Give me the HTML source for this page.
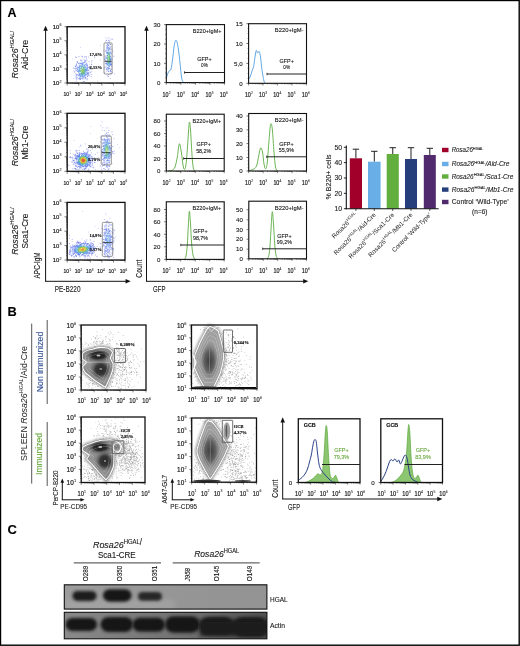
<!DOCTYPE html><html><head><meta charset="utf-8"><style>html,body{margin:0;padding:0;background:#fff;overflow:hidden;}svg{display:block;will-change:transform;}</style></head><body><svg width="520" height="646" viewBox="0 0 520 646" font-family='"Liberation Sans", sans-serif'>
<defs><filter id="blur1" x="-50%" y="-50%" width="200%" height="200%"><feGaussianBlur stdDeviation="1.2"/></filter><filter id="blur2" x="-50%" y="-50%" width="200%" height="200%"><feGaussianBlur stdDeviation="2.2"/></filter><filter id="blur05" x="-50%" y="-50%" width="200%" height="200%"><feGaussianBlur stdDeviation="0.5"/></filter></defs>
<rect x="0" y="0" width="520" height="646" fill="#fff"/>
<text x="7.50" y="16.80" font-size="12.5" text-anchor="start" fill="#000" stroke="#000" stroke-width="0.12" font-weight="bold">A</text>
<text x="17.8" y="54.70" font-size="9.2" text-anchor="middle" fill="#1a1a1a" textLength="47.5" lengthAdjust="spacingAndGlyphs" stroke="#1a1a1a" stroke-width="0.12" transform="rotate(-90 17.8 54.70)"><tspan font-style="italic">Rosa26</tspan><tspan font-size="6.2" dy="-4.0">HGAL/</tspan></text>
<text x="28.2" y="54.70" font-size="9.2" text-anchor="middle" fill="#1a1a1a" textLength="30" lengthAdjust="spacingAndGlyphs" stroke="#1a1a1a" stroke-width="0.12" transform="rotate(-90 28.2 54.70)">Aid-Cre</text>
<text x="17.8" y="142.50" font-size="9.2" text-anchor="middle" fill="#1a1a1a" textLength="47.5" lengthAdjust="spacingAndGlyphs" stroke="#1a1a1a" stroke-width="0.12" transform="rotate(-90 17.8 142.50)"><tspan font-style="italic">Rosa26</tspan><tspan font-size="6.2" dy="-4.0">HGAL/</tspan></text>
<text x="28.2" y="142.50" font-size="9.2" text-anchor="middle" fill="#1a1a1a" textLength="34" lengthAdjust="spacingAndGlyphs" stroke="#1a1a1a" stroke-width="0.12" transform="rotate(-90 28.2 142.50)">Mb1-Cre</text>
<text x="17.8" y="231.00" font-size="9.2" text-anchor="middle" fill="#1a1a1a" textLength="47.5" lengthAdjust="spacingAndGlyphs" stroke="#1a1a1a" stroke-width="0.12" transform="rotate(-90 17.8 231.00)"><tspan font-style="italic">Rosa26</tspan><tspan font-size="6.2" dy="-4.0">HGAL/</tspan></text>
<text x="28.2" y="231.00" font-size="9.2" text-anchor="middle" fill="#1a1a1a" textLength="35" lengthAdjust="spacingAndGlyphs" stroke="#1a1a1a" stroke-width="0.12" transform="rotate(-90 28.2 231.00)">Sca1-Cre</text>
<line x1="45.60" y1="29.54" x2="45.60" y2="281.30" stroke="#111" stroke-width="1.0"/>
<path d="M43.36,30.82 L45.60,25.70 L47.84,30.82 Z" fill="#111"/>
<line x1="45.10" y1="281.30" x2="126.86" y2="281.30" stroke="#111" stroke-width="1.0"/>
<path d="M125.58,279.06 L130.70,281.30 L125.58,283.54 Z" fill="#111"/>
<text x="40.50" y="278.40" font-size="8.2" text-anchor="start" fill="#1a1a1a" stroke="#1a1a1a" stroke-width="0.12" textLength="26" lengthAdjust="spacingAndGlyphs" transform="rotate(-90 40.50 278.40)">APC-IgM</text>
<text x="54.80" y="291.80" font-size="8.3" text-anchor="start" fill="#1a1a1a" stroke="#1a1a1a" stroke-width="0.12" textLength="25.7" lengthAdjust="spacingAndGlyphs">PE-B220</text>
<line x1="146.50" y1="29.54" x2="146.50" y2="281.30" stroke="#111" stroke-width="1.0"/>
<path d="M144.26,30.82 L146.50,25.70 L148.74,30.82 Z" fill="#111"/>
<line x1="146.00" y1="281.30" x2="304.46" y2="281.30" stroke="#111" stroke-width="1.0"/>
<path d="M303.18,279.06 L308.30,281.30 L303.18,283.54 Z" fill="#111"/>
<text x="141.80" y="277.70" font-size="9.2" text-anchor="start" fill="#1a1a1a" stroke="#1a1a1a" stroke-width="0.12" textLength="18" lengthAdjust="spacingAndGlyphs" transform="rotate(-90 141.80 277.70)">Count</text>
<text x="153.10" y="291.90" font-size="8.8" text-anchor="start" fill="#1a1a1a" stroke="#1a1a1a" stroke-width="0.12" textLength="12.4" lengthAdjust="spacingAndGlyphs">GFP</text>
<text x="61.60" y="28.80" font-size="5.9" text-anchor="end" fill="#1a1a1a" stroke="#1a1a1a" stroke-width="0.2">10<tspan font-size="3.66" dx="0.25" dy="-2.60" stroke-width="0.06">6</tspan></text>
<text x="61.60" y="42.88" font-size="5.9" text-anchor="end" fill="#1a1a1a" stroke="#1a1a1a" stroke-width="0.2">10<tspan font-size="3.66" dx="0.25" dy="-2.60" stroke-width="0.06">5</tspan></text>
<text x="61.60" y="56.95" font-size="5.9" text-anchor="end" fill="#1a1a1a" stroke="#1a1a1a" stroke-width="0.2">10<tspan font-size="3.66" dx="0.25" dy="-2.60" stroke-width="0.06">4</tspan></text>
<text x="61.60" y="71.02" font-size="5.9" text-anchor="end" fill="#1a1a1a" stroke="#1a1a1a" stroke-width="0.2">10<tspan font-size="3.66" dx="0.25" dy="-2.60" stroke-width="0.06">3</tspan></text>
<text x="61.60" y="85.10" font-size="5.9" text-anchor="end" fill="#1a1a1a" stroke="#1a1a1a" stroke-width="0.2">10<tspan font-size="3.66" dx="0.25" dy="-2.60" stroke-width="0.06">2</tspan></text>
<text x="67.20" y="96.30" font-size="6.2" text-anchor="middle" fill="#1a1a1a" stroke="#1a1a1a" stroke-width="0.2" textLength="7.6" lengthAdjust="spacingAndGlyphs">10<tspan font-size="3.84" dx="0.25" dy="-2.73" stroke-width="0.06">1</tspan></text>
<text x="78.46" y="96.30" font-size="6.2" text-anchor="middle" fill="#1a1a1a" stroke="#1a1a1a" stroke-width="0.2" textLength="7.6" lengthAdjust="spacingAndGlyphs">10<tspan font-size="3.84" dx="0.25" dy="-2.73" stroke-width="0.06">2</tspan></text>
<text x="89.72" y="96.30" font-size="6.2" text-anchor="middle" fill="#1a1a1a" stroke="#1a1a1a" stroke-width="0.2" textLength="7.6" lengthAdjust="spacingAndGlyphs">10<tspan font-size="3.84" dx="0.25" dy="-2.73" stroke-width="0.06">3</tspan></text>
<text x="100.98" y="96.30" font-size="6.2" text-anchor="middle" fill="#1a1a1a" stroke="#1a1a1a" stroke-width="0.2" textLength="7.6" lengthAdjust="spacingAndGlyphs">10<tspan font-size="3.84" dx="0.25" dy="-2.73" stroke-width="0.06">4</tspan></text>
<text x="112.24" y="96.30" font-size="6.2" text-anchor="middle" fill="#1a1a1a" stroke="#1a1a1a" stroke-width="0.2" textLength="7.6" lengthAdjust="spacingAndGlyphs">10<tspan font-size="3.84" dx="0.25" dy="-2.73" stroke-width="0.06">5</tspan></text>
<text x="123.50" y="96.30" font-size="6.2" text-anchor="middle" fill="#1a1a1a" stroke="#1a1a1a" stroke-width="0.2" textLength="7.6" lengthAdjust="spacingAndGlyphs">10<tspan font-size="3.84" dx="0.25" dy="-2.73" stroke-width="0.06">6</tspan></text>
<path d="M72.1 58.5h0.9v0.9h-0.9zM100.1 45.0h0.9v0.9h-0.9zM97.3 80.6h0.9v0.9h-0.9zM73.5 74.8h0.9v0.9h-0.9zM89.8 74.0h0.9v0.9h-0.9zM106.5 61.2h0.9v0.9h-0.9zM73.0 70.4h0.9v0.9h-0.9zM85.4 68.8h0.9v0.9h-0.9zM107.9 53.7h0.9v0.9h-0.9z" fill="rgb(95, 105, 230)" fill-opacity="0.3"/>
<path d="M75.8 57.2h0.9v0.9h-0.9zM75.2 56.3h0.9v0.9h-0.9zM91.2 62.3h0.9v0.9h-0.9zM79.9 46.9h0.9v0.9h-0.9zM75.7 81.2h0.9v0.9h-0.9zM73.5 77.8h0.9v0.9h-0.9zM81.8 56.0h0.9v0.9h-0.9zM95.1 66.3h0.9v0.9h-0.9zM94.1 57.1h0.9v0.9h-0.9zM81.9 57.4h0.9v0.9h-0.9zM106.3 39.6h0.9v0.9h-0.9zM114.2 73.3h0.9v0.9h-0.9zM113.3 56.2h0.9v0.9h-0.9zM106.9 37.7h0.9v0.9h-0.9zM104.9 37.4h0.9v0.9h-0.9zM99.9 59.7h0.9v0.9h-0.9z" fill="rgb(95, 105, 230)" fill-opacity="0.45"/>
<path d="M76.5 60.9h0.9v0.9h-0.9zM86.4 59.4h0.9v0.9h-0.9zM75.8 56.9h0.9v0.9h-0.9zM88.2 56.7h0.9v0.9h-0.9zM90.1 71.8h0.9v0.9h-0.9zM73.1 67.5h0.9v0.9h-0.9zM85.7 56.0h0.9v0.9h-0.9zM91.2 64.0h0.9v0.9h-0.9zM75.6 77.3h0.9v0.9h-0.9zM74.7 65.4h0.9v0.9h-0.9zM88.5 60.9h0.9v0.9h-0.9zM90.9 75.9h0.9v0.9h-0.9zM84.2 56.5h0.9v0.9h-0.9zM78.5 56.3h0.9v0.9h-0.9zM81.5 55.8h0.9v0.9h-0.9zM85.8 57.6h0.9v0.9h-0.9zM76.3 79.3h0.9v0.9h-0.9zM91.3 60.3h0.9v0.9h-0.9zM104.2 72.2h0.9v0.9h-0.9zM106.8 75.4h0.9v0.9h-0.9zM111.8 38.9h0.9v0.9h-0.9zM109.6 39.6h0.9v0.9h-0.9zM112.3 50.8h0.9v0.9h-0.9zM111.5 38.5h0.9v0.9h-0.9zM109.8 77.9h0.9v0.9h-0.9zM104.2 59.0h0.9v0.9h-0.9zM112.2 72.4h0.9v0.9h-0.9zM105.2 41.4h0.9v0.9h-0.9zM108.1 40.0h0.9v0.9h-0.9zM105.9 40.0h0.9v0.9h-0.9zM111.5 48.8h0.9v0.9h-0.9zM108.5 37.4h0.9v0.9h-0.9zM107.9 76.0h0.9v0.9h-0.9z" fill="rgb(95, 105, 230)" fill-opacity="0.7"/>
<path d="M89.1 63.8h0.9v0.9h-0.9z" fill="rgb(90, 109, 231)" fill-opacity="0.3"/>
<path d="M75.3 73.3h0.9v0.9h-0.9zM91.3 74.0h0.9v0.9h-0.9zM76.4 62.8h0.9v0.9h-0.9zM74.8 69.6h0.9v0.9h-0.9zM80.1 78.4h0.9v0.9h-0.9zM89.6 68.4h0.9v0.9h-0.9zM86.7 65.7h0.9v0.9h-0.9zM90.3 68.3h0.9v0.9h-0.9zM73.8 71.1h0.9v0.9h-0.9zM79.0 77.2h0.9v0.9h-0.9zM84.6 60.0h0.9v0.9h-0.9zM83.0 78.2h0.9v0.9h-0.9zM85.3 76.6h0.9v0.9h-0.9zM87.1 73.6h0.9v0.9h-0.9zM79.3 65.1h0.9v0.9h-0.9zM84.6 64.3h0.9v0.9h-0.9zM87.9 73.4h0.9v0.9h-0.9zM89.4 68.5h0.9v0.9h-0.9zM91.2 71.3h0.9v0.9h-0.9zM88.7 66.0h0.9v0.9h-0.9zM82.6 78.9h0.9v0.9h-0.9zM76.2 74.5h0.9v0.9h-0.9zM84.9 60.2h0.9v0.9h-0.9zM86.2 60.2h0.9v0.9h-0.9zM88.8 72.9h0.9v0.9h-0.9zM87.3 75.7h0.9v0.9h-0.9zM80.5 63.6h0.9v0.9h-0.9zM82.6 78.2h0.9v0.9h-0.9zM76.0 63.8h0.9v0.9h-0.9zM112.8 55.5h0.9v0.9h-0.9zM110.4 63.9h0.9v0.9h-0.9zM107.7 47.4h0.9v0.9h-0.9zM109.4 71.4h0.9v0.9h-0.9zM103.7 68.5h0.9v0.9h-0.9zM106.8 47.0h0.9v0.9h-0.9zM105.7 49.8h0.9v0.9h-0.9zM110.6 68.6h0.9v0.9h-0.9zM103.9 67.3h0.9v0.9h-0.9zM110.7 52.2h0.9v0.9h-0.9zM103.5 50.5h0.9v0.9h-0.9zM108.7 42.7h0.9v0.9h-0.9zM110.7 45.9h0.9v0.9h-0.9zM105.9 49.5h0.9v0.9h-0.9zM106.4 71.0h0.9v0.9h-0.9zM110.6 64.0h0.9v0.9h-0.9zM109.0 42.5h0.9v0.9h-0.9zM105.1 63.1h0.9v0.9h-0.9zM105.8 50.9h0.9v0.9h-0.9zM109.8 71.3h0.9v0.9h-0.9zM108.5 48.2h0.9v0.9h-0.9zM111.6 61.0h0.9v0.9h-0.9zM110.8 72.8h0.9v0.9h-0.9zM111.4 53.6h0.9v0.9h-0.9zM111.2 65.8h0.9v0.9h-0.9zM103.4 53.9h0.9v0.9h-0.9z" fill="rgb(90, 109, 231)" fill-opacity="0.45"/>
<path d="M76.6 74.4h0.9v0.9h-0.9zM75.5 68.3h0.9v0.9h-0.9zM76.9 76.7h0.9v0.9h-0.9zM75.6 66.7h0.9v0.9h-0.9zM84.9 60.6h0.9v0.9h-0.9zM77.8 78.4h0.9v0.9h-0.9zM88.7 71.7h0.9v0.9h-0.9zM77.1 62.2h0.9v0.9h-0.9zM85.8 77.7h0.9v0.9h-0.9zM74.5 68.0h0.9v0.9h-0.9zM76.0 74.3h0.9v0.9h-0.9zM87.0 78.4h0.9v0.9h-0.9zM75.9 64.4h0.9v0.9h-0.9zM75.6 75.6h0.9v0.9h-0.9zM74.3 71.7h0.9v0.9h-0.9zM80.0 59.9h0.9v0.9h-0.9zM83.6 59.2h0.9v0.9h-0.9zM88.3 69.4h0.9v0.9h-0.9zM75.7 75.4h0.9v0.9h-0.9zM86.5 79.4h0.9v0.9h-0.9zM89.1 75.4h0.9v0.9h-0.9zM87.7 75.1h0.9v0.9h-0.9zM88.1 74.2h0.9v0.9h-0.9zM75.0 66.1h0.9v0.9h-0.9zM75.8 70.3h0.9v0.9h-0.9zM78.7 78.2h0.9v0.9h-0.9zM87.6 75.1h0.9v0.9h-0.9zM80.7 59.6h0.9v0.9h-0.9zM88.1 72.7h0.9v0.9h-0.9zM75.8 69.7h0.9v0.9h-0.9zM84.2 60.8h0.9v0.9h-0.9zM76.1 64.5h0.9v0.9h-0.9zM87.1 76.1h0.9v0.9h-0.9zM89.8 68.3h0.9v0.9h-0.9zM82.9 81.0h0.9v0.9h-0.9zM79.6 79.1h0.9v0.9h-0.9zM87.1 75.9h0.9v0.9h-0.9zM77.1 61.6h0.9v0.9h-0.9zM84.0 80.9h0.9v0.9h-0.9zM75.9 65.4h0.9v0.9h-0.9zM88.2 67.1h0.9v0.9h-0.9zM76.2 77.5h0.9v0.9h-0.9zM85.1 60.9h0.9v0.9h-0.9zM110.1 70.8h0.9v0.9h-0.9zM110.1 44.0h0.9v0.9h-0.9zM111.6 58.6h0.9v0.9h-0.9zM105.4 66.6h0.9v0.9h-0.9zM106.0 45.3h0.9v0.9h-0.9zM104.6 55.7h0.9v0.9h-0.9zM105.6 66.2h0.9v0.9h-0.9zM107.7 42.2h0.9v0.9h-0.9zM109.1 41.2h0.9v0.9h-0.9zM104.6 57.8h0.9v0.9h-0.9zM110.2 72.9h0.9v0.9h-0.9zM106.7 43.6h0.9v0.9h-0.9zM105.3 50.5h0.9v0.9h-0.9zM104.8 56.7h0.9v0.9h-0.9zM110.7 71.2h0.9v0.9h-0.9zM108.2 74.2h0.9v0.9h-0.9zM111.4 62.7h0.9v0.9h-0.9zM111.3 58.6h0.9v0.9h-0.9zM107.2 44.4h0.9v0.9h-0.9zM108.4 74.3h0.9v0.9h-0.9zM105.2 60.7h0.9v0.9h-0.9zM107.2 44.0h0.9v0.9h-0.9zM111.3 65.7h0.9v0.9h-0.9zM111.1 68.7h0.9v0.9h-0.9zM109.6 43.7h0.9v0.9h-0.9zM111.1 64.1h0.9v0.9h-0.9zM106.2 47.5h0.9v0.9h-0.9zM106.5 69.6h0.9v0.9h-0.9zM105.8 68.7h0.9v0.9h-0.9zM109.9 70.0h0.9v0.9h-0.9z" fill="rgb(90, 109, 231)" fill-opacity="0.7"/>
<path d="M79.1 66.3h0.9v0.9h-0.9zM84.9 74.8h0.9v0.9h-0.9zM83.6 72.7h0.9v0.9h-0.9zM79.0 74.2h0.9v0.9h-0.9zM81.4 70.4h0.9v0.9h-0.9zM82.4 76.2h0.9v0.9h-0.9zM81.6 72.4h0.9v0.9h-0.9zM78.3 73.6h0.9v0.9h-0.9zM82.2 72.8h0.9v0.9h-0.9zM80.5 66.8h0.9v0.9h-0.9zM78.3 70.9h0.9v0.9h-0.9zM86.7 69.9h0.9v0.9h-0.9zM83.7 66.4h0.9v0.9h-0.9zM78.5 71.1h0.9v0.9h-0.9zM83.1 72.8h0.9v0.9h-0.9zM86.5 68.4h0.9v0.9h-0.9zM82.0 69.2h0.9v0.9h-0.9zM78.5 75.5h0.9v0.9h-0.9zM82.2 71.5h0.9v0.9h-0.9zM81.0 77.4h0.9v0.9h-0.9zM84.7 70.0h0.9v0.9h-0.9zM85.7 69.9h0.9v0.9h-0.9zM83.8 77.2h0.9v0.9h-0.9zM83.1 70.0h0.9v0.9h-0.9zM82.2 69.0h0.9v0.9h-0.9zM83.9 71.5h0.9v0.9h-0.9zM85.7 68.4h0.9v0.9h-0.9zM79.7 75.7h0.9v0.9h-0.9zM80.2 76.1h0.9v0.9h-0.9zM83.1 70.5h0.9v0.9h-0.9zM78.8 74.5h0.9v0.9h-0.9zM85.1 69.1h0.9v0.9h-0.9zM78.2 67.1h0.9v0.9h-0.9zM79.8 77.0h0.9v0.9h-0.9zM82.4 68.2h0.9v0.9h-0.9zM82.0 73.6h0.9v0.9h-0.9zM81.8 73.9h0.9v0.9h-0.9zM80.6 67.9h0.9v0.9h-0.9zM84.5 66.1h0.9v0.9h-0.9zM77.1 68.2h0.9v0.9h-0.9zM81.7 66.3h0.9v0.9h-0.9zM82.1 76.3h0.9v0.9h-0.9zM109.0 62.8h0.9v0.9h-0.9zM108.0 66.9h0.9v0.9h-0.9zM106.2 57.2h0.9v0.9h-0.9zM107.1 63.7h0.9v0.9h-0.9zM109.6 62.2h0.9v0.9h-0.9zM107.4 59.7h0.9v0.9h-0.9zM106.1 61.4h0.9v0.9h-0.9zM106.4 52.5h0.9v0.9h-0.9z" fill="rgb(86, 113, 232)" fill-opacity="0.45"/>
<path d="M79.9 78.9h0.9v0.9h-0.9zM77.3 74.3h0.9v0.9h-0.9zM87.4 73.2h0.9v0.9h-0.9zM86.7 64.7h0.9v0.9h-0.9zM86.3 63.4h0.9v0.9h-0.9zM84.9 77.8h0.9v0.9h-0.9zM76.5 68.2h0.9v0.9h-0.9zM85.7 62.5h0.9v0.9h-0.9zM84.4 62.2h0.9v0.9h-0.9zM78.7 62.4h0.9v0.9h-0.9zM87.0 65.1h0.9v0.9h-0.9zM84.6 78.3h0.9v0.9h-0.9zM79.2 78.1h0.9v0.9h-0.9zM87.0 64.7h0.9v0.9h-0.9zM88.0 70.2h0.9v0.9h-0.9zM76.7 66.9h0.9v0.9h-0.9zM76.9 66.7h0.9v0.9h-0.9zM85.1 76.8h0.9v0.9h-0.9zM87.7 72.2h0.9v0.9h-0.9zM78.2 63.0h0.9v0.9h-0.9zM87.0 73.7h0.9v0.9h-0.9zM81.5 60.5h0.9v0.9h-0.9zM83.7 61.7h0.9v0.9h-0.9zM87.6 70.1h0.9v0.9h-0.9zM86.8 66.3h0.9v0.9h-0.9zM86.6 63.7h0.9v0.9h-0.9zM80.5 78.1h0.9v0.9h-0.9zM87.0 67.0h0.9v0.9h-0.9zM78.7 62.9h0.9v0.9h-0.9zM105.3 60.2h0.9v0.9h-0.9zM108.0 71.0h0.9v0.9h-0.9zM105.6 64.4h0.9v0.9h-0.9zM108.4 45.0h0.9v0.9h-0.9zM107.9 45.1h0.9v0.9h-0.9zM107.9 44.3h0.9v0.9h-0.9zM109.6 69.5h0.9v0.9h-0.9zM106.5 67.8h0.9v0.9h-0.9zM110.1 48.5h0.9v0.9h-0.9zM110.6 53.3h0.9v0.9h-0.9zM110.8 62.7h0.9v0.9h-0.9zM108.7 46.4h0.9v0.9h-0.9zM106.8 68.7h0.9v0.9h-0.9zM105.8 62.6h0.9v0.9h-0.9zM107.3 46.4h0.9v0.9h-0.9zM106.3 68.5h0.9v0.9h-0.9zM109.9 46.8h0.9v0.9h-0.9zM107.7 69.6h0.9v0.9h-0.9zM105.7 63.0h0.9v0.9h-0.9zM106.8 67.6h0.9v0.9h-0.9zM105.3 58.7h0.9v0.9h-0.9zM110.7 64.4h0.9v0.9h-0.9zM107.3 45.5h0.9v0.9h-0.9zM105.6 55.5h0.9v0.9h-0.9zM106.8 47.5h0.9v0.9h-0.9z" fill="rgb(86, 113, 232)" fill-opacity="0.7"/>
<path d="M83.5 62.3h0.9v0.9h-0.9zM86.9 71.9h0.9v0.9h-0.9zM77.3 71.2h0.9v0.9h-0.9zM86.9 73.0h0.9v0.9h-0.9zM78.4 75.1h0.9v0.9h-0.9zM86.9 67.7h0.9v0.9h-0.9zM77.5 69.3h0.9v0.9h-0.9zM85.8 74.5h0.9v0.9h-0.9zM85.4 63.9h0.9v0.9h-0.9zM81.8 78.0h0.9v0.9h-0.9zM86.3 73.9h0.9v0.9h-0.9zM86.9 69.1h0.9v0.9h-0.9zM86.8 68.6h0.9v0.9h-0.9zM77.0 69.4h0.9v0.9h-0.9zM86.5 73.4h0.9v0.9h-0.9zM77.5 66.5h0.9v0.9h-0.9zM80.8 62.9h0.9v0.9h-0.9zM85.5 64.4h0.9v0.9h-0.9zM82.1 62.4h0.9v0.9h-0.9zM81.3 62.6h0.9v0.9h-0.9zM85.7 65.4h0.9v0.9h-0.9zM80.0 62.7h0.9v0.9h-0.9zM77.8 67.4h0.9v0.9h-0.9zM78.6 64.4h0.9v0.9h-0.9zM77.1 71.0h0.9v0.9h-0.9zM82.6 62.8h0.9v0.9h-0.9zM79.7 63.0h0.9v0.9h-0.9zM86.0 64.7h0.9v0.9h-0.9zM82.2 62.5h0.9v0.9h-0.9zM77.4 69.8h0.9v0.9h-0.9zM87.2 71.6h0.9v0.9h-0.9zM77.2 68.9h0.9v0.9h-0.9zM109.0 47.8h0.9v0.9h-0.9zM106.4 52.1h0.9v0.9h-0.9zM108.1 68.1h0.9v0.9h-0.9zM109.5 67.9h0.9v0.9h-0.9zM110.1 63.6h0.9v0.9h-0.9zM110.0 52.1h0.9v0.9h-0.9zM106.1 62.9h0.9v0.9h-0.9zM110.4 59.5h0.9v0.9h-0.9zM106.2 52.3h0.9v0.9h-0.9zM108.5 67.8h0.9v0.9h-0.9zM110.1 64.1h0.9v0.9h-0.9zM110.5 58.8h0.9v0.9h-0.9zM108.9 67.8h0.9v0.9h-0.9zM105.9 57.5h0.9v0.9h-0.9zM108.0 68.7h0.9v0.9h-0.9zM106.5 49.6h0.9v0.9h-0.9zM108.7 68.2h0.9v0.9h-0.9zM107.4 48.1h0.9v0.9h-0.9zM110.2 62.0h0.9v0.9h-0.9zM109.5 49.6h0.9v0.9h-0.9zM110.0 64.8h0.9v0.9h-0.9zM108.2 47.2h0.9v0.9h-0.9z" fill="rgb(82, 117, 234)" fill-opacity="0.7"/>
<path d="M85.8 72.2h0.9v0.9h-0.9zM83.9 76.2h0.9v0.9h-0.9zM80.4 76.3h0.9v0.9h-0.9zM82.3 76.8h0.9v0.9h-0.9zM84.3 74.9h0.9v0.9h-0.9zM82.5 63.2h0.9v0.9h-0.9zM80.6 63.4h0.9v0.9h-0.9zM82.5 76.0h0.9v0.9h-0.9zM79.2 74.9h0.9v0.9h-0.9zM78.4 71.3h0.9v0.9h-0.9zM82.7 76.2h0.9v0.9h-0.9zM84.1 65.0h0.9v0.9h-0.9zM79.6 75.3h0.9v0.9h-0.9zM82.4 76.9h0.9v0.9h-0.9zM78.0 69.9h0.9v0.9h-0.9zM81.4 63.4h0.9v0.9h-0.9zM80.3 75.6h0.9v0.9h-0.9zM85.4 74.1h0.9v0.9h-0.9zM82.6 63.9h0.9v0.9h-0.9zM79.1 66.0h0.9v0.9h-0.9zM78.2 71.9h0.9v0.9h-0.9zM79.0 73.6h0.9v0.9h-0.9zM79.3 65.6h0.9v0.9h-0.9zM81.7 63.5h0.9v0.9h-0.9zM79.0 73.8h0.9v0.9h-0.9zM86.2 68.9h0.9v0.9h-0.9zM78.2 71.0h0.9v0.9h-0.9zM83.3 75.9h0.9v0.9h-0.9zM78.6 66.7h0.9v0.9h-0.9zM84.7 74.9h0.9v0.9h-0.9zM78.0 69.9h0.9v0.9h-0.9zM83.2 76.7h0.9v0.9h-0.9zM84.6 74.9h0.9v0.9h-0.9zM83.8 64.4h0.9v0.9h-0.9zM85.9 70.1h0.9v0.9h-0.9zM86.5 69.9h0.9v0.9h-0.9zM86.0 67.6h0.9v0.9h-0.9zM78.7 73.3h0.9v0.9h-0.9zM110.3 56.3h0.9v0.9h-0.9zM108.8 48.9h0.9v0.9h-0.9zM106.6 63.8h0.9v0.9h-0.9zM107.4 67.0h0.9v0.9h-0.9zM110.2 58.9h0.9v0.9h-0.9zM106.9 64.4h0.9v0.9h-0.9zM109.6 63.5h0.9v0.9h-0.9zM110.2 60.5h0.9v0.9h-0.9zM106.6 52.5h0.9v0.9h-0.9zM106.3 62.8h0.9v0.9h-0.9zM109.7 64.1h0.9v0.9h-0.9zM109.6 51.2h0.9v0.9h-0.9zM110.3 57.4h0.9v0.9h-0.9zM106.9 52.0h0.9v0.9h-0.9zM110.1 60.5h0.9v0.9h-0.9zM110.2 58.7h0.9v0.9h-0.9zM108.1 49.6h0.9v0.9h-0.9zM108.7 49.1h0.9v0.9h-0.9zM110.0 56.0h0.9v0.9h-0.9zM110.1 58.2h0.9v0.9h-0.9zM108.9 66.0h0.9v0.9h-0.9zM107.6 49.6h0.9v0.9h-0.9zM109.7 52.9h0.9v0.9h-0.9zM108.5 48.2h0.9v0.9h-0.9z" fill="rgb(78, 126, 231)" fill-opacity="0.7"/>
<path d="M79.0 68.9h0.9v0.9h-0.9zM85.5 71.3h0.9v0.9h-0.9zM79.2 67.6h0.9v0.9h-0.9zM80.1 66.2h0.9v0.9h-0.9zM80.6 65.0h0.9v0.9h-0.9zM78.9 67.2h0.9v0.9h-0.9zM85.7 70.8h0.9v0.9h-0.9zM85.3 72.8h0.9v0.9h-0.9zM81.5 75.3h0.9v0.9h-0.9zM85.5 70.1h0.9v0.9h-0.9zM79.5 73.3h0.9v0.9h-0.9zM84.6 72.9h0.9v0.9h-0.9zM81.9 75.0h0.9v0.9h-0.9zM85.6 68.5h0.9v0.9h-0.9zM85.1 68.6h0.9v0.9h-0.9zM82.1 64.1h0.9v0.9h-0.9zM85.4 69.1h0.9v0.9h-0.9zM81.9 75.4h0.9v0.9h-0.9zM79.9 74.6h0.9v0.9h-0.9zM83.9 75.2h0.9v0.9h-0.9zM85.1 67.1h0.9v0.9h-0.9zM84.7 73.9h0.9v0.9h-0.9zM84.0 74.7h0.9v0.9h-0.9zM78.7 68.1h0.9v0.9h-0.9zM80.8 64.9h0.9v0.9h-0.9zM83.5 75.5h0.9v0.9h-0.9zM83.6 65.0h0.9v0.9h-0.9zM81.1 75.6h0.9v0.9h-0.9zM84.1 74.7h0.9v0.9h-0.9zM85.3 70.0h0.9v0.9h-0.9zM84.9 72.8h0.9v0.9h-0.9zM78.9 70.2h0.9v0.9h-0.9zM78.4 69.4h0.9v0.9h-0.9zM85.7 70.6h0.9v0.9h-0.9zM79.8 73.7h0.9v0.9h-0.9zM79.9 74.2h0.9v0.9h-0.9zM81.7 64.3h0.9v0.9h-0.9zM79.0 68.2h0.9v0.9h-0.9zM82.1 64.6h0.9v0.9h-0.9zM79.2 73.3h0.9v0.9h-0.9zM85.1 66.4h0.9v0.9h-0.9zM109.6 54.9h0.9v0.9h-0.9zM109.4 51.9h0.9v0.9h-0.9zM108.5 65.0h0.9v0.9h-0.9zM107.2 64.1h0.9v0.9h-0.9zM109.6 54.7h0.9v0.9h-0.9zM108.5 65.4h0.9v0.9h-0.9zM106.6 57.2h0.9v0.9h-0.9zM106.6 60.6h0.9v0.9h-0.9zM109.4 63.7h0.9v0.9h-0.9zM109.6 62.4h0.9v0.9h-0.9zM106.6 57.8h0.9v0.9h-0.9zM109.6 60.8h0.9v0.9h-0.9zM107.2 52.6h0.9v0.9h-0.9zM107.1 52.5h0.9v0.9h-0.9zM106.9 52.7h0.9v0.9h-0.9zM109.7 58.1h0.9v0.9h-0.9zM109.4 62.4h0.9v0.9h-0.9zM106.8 55.3h0.9v0.9h-0.9zM107.1 51.6h0.9v0.9h-0.9zM108.1 49.8h0.9v0.9h-0.9zM106.6 55.3h0.9v0.9h-0.9zM107.5 65.1h0.9v0.9h-0.9zM109.8 59.5h0.9v0.9h-0.9zM107.2 52.9h0.9v0.9h-0.9zM106.9 62.4h0.9v0.9h-0.9zM108.4 66.3h0.9v0.9h-0.9zM109.0 65.1h0.9v0.9h-0.9zM109.5 63.9h0.9v0.9h-0.9z" fill="rgb(74, 143, 223)" fill-opacity="0.7"/>
<path d="M83.8 66.7h0.9v0.9h-0.9zM79.4 71.3h0.9v0.9h-0.9zM81.7 65.8h0.9v0.9h-0.9zM84.1 66.8h0.9v0.9h-0.9zM83.3 66.2h0.9v0.9h-0.9zM79.9 67.8h0.9v0.9h-0.9zM82.1 74.8h0.9v0.9h-0.9zM80.7 73.4h0.9v0.9h-0.9zM84.7 70.7h0.9v0.9h-0.9zM82.1 74.3h0.9v0.9h-0.9zM82.1 74.2h0.9v0.9h-0.9zM84.5 68.6h0.9v0.9h-0.9zM79.1 69.5h0.9v0.9h-0.9zM83.1 74.3h0.9v0.9h-0.9zM85.0 70.5h0.9v0.9h-0.9zM84.2 72.5h0.9v0.9h-0.9zM83.2 66.3h0.9v0.9h-0.9zM79.2 71.4h0.9v0.9h-0.9zM81.0 74.1h0.9v0.9h-0.9zM82.3 65.7h0.9v0.9h-0.9zM79.6 72.7h0.9v0.9h-0.9zM81.0 74.5h0.9v0.9h-0.9zM84.7 70.1h0.9v0.9h-0.9zM79.8 73.0h0.9v0.9h-0.9zM84.2 73.7h0.9v0.9h-0.9zM81.9 66.0h0.9v0.9h-0.9zM84.4 71.8h0.9v0.9h-0.9zM83.6 73.2h0.9v0.9h-0.9zM82.0 65.6h0.9v0.9h-0.9zM84.5 71.5h0.9v0.9h-0.9zM80.9 66.1h0.9v0.9h-0.9zM79.6 71.3h0.9v0.9h-0.9zM79.4 71.3h0.9v0.9h-0.9zM84.0 73.7h0.9v0.9h-0.9zM84.3 67.5h0.9v0.9h-0.9zM82.1 74.1h0.9v0.9h-0.9zM79.1 70.8h0.9v0.9h-0.9zM84.6 69.4h0.9v0.9h-0.9zM80.5 66.3h0.9v0.9h-0.9zM82.3 74.0h0.9v0.9h-0.9zM80.0 73.3h0.9v0.9h-0.9zM84.6 71.6h0.9v0.9h-0.9zM81.8 73.9h0.9v0.9h-0.9zM84.6 69.3h0.9v0.9h-0.9zM106.9 54.9h0.9v0.9h-0.9zM107.0 57.7h0.9v0.9h-0.9zM109.5 59.6h0.9v0.9h-0.9zM109.6 58.5h0.9v0.9h-0.9zM107.1 61.3h0.9v0.9h-0.9zM109.0 62.9h0.9v0.9h-0.9zM109.1 61.9h0.9v0.9h-0.9zM107.2 53.4h0.9v0.9h-0.9zM107.0 58.4h0.9v0.9h-0.9zM109.2 54.4h0.9v0.9h-0.9zM108.5 63.7h0.9v0.9h-0.9zM106.8 57.8h0.9v0.9h-0.9zM108.6 52.4h0.9v0.9h-0.9zM108.7 52.8h0.9v0.9h-0.9zM109.0 62.0h0.9v0.9h-0.9zM107.2 61.4h0.9v0.9h-0.9zM107.2 61.1h0.9v0.9h-0.9zM107.7 63.9h0.9v0.9h-0.9zM107.9 52.3h0.9v0.9h-0.9zM108.1 63.5h0.9v0.9h-0.9zM108.2 51.3h0.9v0.9h-0.9zM109.2 53.4h0.9v0.9h-0.9zM107.0 55.2h0.9v0.9h-0.9zM107.3 53.5h0.9v0.9h-0.9zM109.4 58.8h0.9v0.9h-0.9zM107.2 62.9h0.9v0.9h-0.9zM108.5 63.6h0.9v0.9h-0.9zM107.4 63.4h0.9v0.9h-0.9zM109.1 54.3h0.9v0.9h-0.9zM108.7 63.9h0.9v0.9h-0.9z" fill="rgb(70, 160, 215)" fill-opacity="0.7"/>
<path d="M81.3 72.7h0.9v0.9h-0.9zM83.8 72.6h0.9v0.9h-0.9zM84.2 71.3h0.9v0.9h-0.9zM83.8 72.8h0.9v0.9h-0.9zM83.9 69.2h0.9v0.9h-0.9zM83.2 73.4h0.9v0.9h-0.9zM82.6 73.0h0.9v0.9h-0.9zM84.0 70.0h0.9v0.9h-0.9zM80.7 68.1h0.9v0.9h-0.9zM83.0 67.3h0.9v0.9h-0.9zM80.3 69.5h0.9v0.9h-0.9zM81.0 73.2h0.9v0.9h-0.9zM82.5 73.7h0.9v0.9h-0.9zM82.8 73.3h0.9v0.9h-0.9zM81.8 66.9h0.9v0.9h-0.9zM83.4 72.1h0.9v0.9h-0.9zM83.1 66.8h0.9v0.9h-0.9zM80.1 71.2h0.9v0.9h-0.9zM83.1 67.6h0.9v0.9h-0.9zM84.3 71.7h0.9v0.9h-0.9zM81.1 67.6h0.9v0.9h-0.9zM79.7 69.4h0.9v0.9h-0.9zM83.6 72.0h0.9v0.9h-0.9zM84.2 71.1h0.9v0.9h-0.9zM80.0 70.0h0.9v0.9h-0.9zM82.0 73.1h0.9v0.9h-0.9zM81.6 73.8h0.9v0.9h-0.9zM81.3 73.6h0.9v0.9h-0.9zM84.0 69.7h0.9v0.9h-0.9zM81.8 66.5h0.9v0.9h-0.9zM83.8 67.9h0.9v0.9h-0.9zM83.8 69.2h0.9v0.9h-0.9zM80.0 69.8h0.9v0.9h-0.9zM83.1 72.7h0.9v0.9h-0.9zM79.8 70.1h0.9v0.9h-0.9zM80.4 70.9h0.9v0.9h-0.9zM83.6 67.2h0.9v0.9h-0.9zM83.6 71.9h0.9v0.9h-0.9zM109.0 61.3h0.9v0.9h-0.9zM108.9 61.9h0.9v0.9h-0.9zM107.6 53.9h0.9v0.9h-0.9zM107.8 53.7h0.9v0.9h-0.9zM107.8 62.7h0.9v0.9h-0.9zM107.5 61.8h0.9v0.9h-0.9zM108.1 53.0h0.9v0.9h-0.9zM107.3 59.1h0.9v0.9h-0.9zM108.5 61.7h0.9v0.9h-0.9zM108.6 54.0h0.9v0.9h-0.9zM108.5 52.8h0.9v0.9h-0.9zM108.7 53.8h0.9v0.9h-0.9zM108.6 54.8h0.9v0.9h-0.9zM107.2 59.2h0.9v0.9h-0.9zM109.0 56.8h0.9v0.9h-0.9zM109.0 55.7h0.9v0.9h-0.9zM108.2 53.6h0.9v0.9h-0.9zM108.6 54.2h0.9v0.9h-0.9zM109.2 59.1h0.9v0.9h-0.9zM107.3 59.7h0.9v0.9h-0.9zM109.1 58.9h0.9v0.9h-0.9zM107.3 55.3h0.9v0.9h-0.9zM108.2 62.3h0.9v0.9h-0.9zM109.0 56.5h0.9v0.9h-0.9zM108.6 53.7h0.9v0.9h-0.9zM109.3 56.9h0.9v0.9h-0.9zM107.7 61.4h0.9v0.9h-0.9zM109.0 61.2h0.9v0.9h-0.9zM108.3 52.9h0.9v0.9h-0.9zM107.1 56.8h0.9v0.9h-0.9zM108.6 53.9h0.9v0.9h-0.9zM109.3 58.0h0.9v0.9h-0.9zM108.0 63.1h0.9v0.9h-0.9z" fill="rgb(75, 173, 145)" fill-opacity="0.7"/>
<path d="M81.4 68.4h0.9v0.9h-0.9zM83.4 71.0h0.9v0.9h-0.9zM83.1 69.8h0.9v0.9h-0.9zM83.1 72.0h0.9v0.9h-0.9zM81.0 69.4h0.9v0.9h-0.9zM83.7 69.7h0.9v0.9h-0.9zM82.9 72.3h0.9v0.9h-0.9zM81.6 68.5h0.9v0.9h-0.9zM83.2 70.7h0.9v0.9h-0.9zM81.5 71.4h0.9v0.9h-0.9zM81.0 72.0h0.9v0.9h-0.9zM83.4 71.2h0.9v0.9h-0.9zM81.4 69.7h0.9v0.9h-0.9zM81.6 71.0h0.9v0.9h-0.9zM81.5 69.9h0.9v0.9h-0.9zM82.0 69.0h0.9v0.9h-0.9zM81.9 72.7h0.9v0.9h-0.9zM83.1 71.0h0.9v0.9h-0.9zM81.9 72.7h0.9v0.9h-0.9zM81.7 70.8h0.9v0.9h-0.9zM83.5 69.0h0.9v0.9h-0.9zM83.7 70.9h0.9v0.9h-0.9zM82.8 70.3h0.9v0.9h-0.9zM82.2 71.3h0.9v0.9h-0.9zM81.4 68.4h0.9v0.9h-0.9zM81.3 68.4h0.9v0.9h-0.9zM80.5 70.5h0.9v0.9h-0.9zM81.4 70.1h0.9v0.9h-0.9zM83.0 67.8h0.9v0.9h-0.9zM81.9 71.6h0.9v0.9h-0.9zM81.9 68.4h0.9v0.9h-0.9zM81.9 71.6h0.9v0.9h-0.9zM83.6 68.8h0.9v0.9h-0.9zM82.6 72.1h0.9v0.9h-0.9zM81.3 71.9h0.9v0.9h-0.9zM83.8 69.5h0.9v0.9h-0.9zM82.6 69.2h0.9v0.9h-0.9zM108.9 57.8h0.9v0.9h-0.9zM108.9 56.8h0.9v0.9h-0.9zM108.9 59.3h0.9v0.9h-0.9zM107.8 55.5h0.9v0.9h-0.9zM107.7 58.3h0.9v0.9h-0.9zM108.2 55.9h0.9v0.9h-0.9zM107.4 58.6h0.9v0.9h-0.9zM107.7 57.9h0.9v0.9h-0.9zM107.8 55.7h0.9v0.9h-0.9zM107.7 57.8h0.9v0.9h-0.9zM108.2 55.6h0.9v0.9h-0.9zM108.2 58.4h0.9v0.9h-0.9zM108.0 56.7h0.9v0.9h-0.9zM108.3 61.5h0.9v0.9h-0.9zM108.2 60.1h0.9v0.9h-0.9zM108.4 57.1h0.9v0.9h-0.9zM108.4 59.4h0.9v0.9h-0.9zM108.7 58.4h0.9v0.9h-0.9zM108.5 59.3h0.9v0.9h-0.9zM108.8 60.0h0.9v0.9h-0.9zM108.7 55.5h0.9v0.9h-0.9zM108.7 56.0h0.9v0.9h-0.9zM108.5 56.9h0.9v0.9h-0.9z" fill="rgb(96, 188, 84)" fill-opacity="0.7"/>
<path d="M82.5 70.6h0.9v0.9h-0.9zM82.1 70.9h0.9v0.9h-0.9zM81.8 70.0h0.9v0.9h-0.9zM81.6 69.7h0.9v0.9h-0.9zM82.0 69.9h0.9v0.9h-0.9z" fill="rgb(176, 205, 56)" fill-opacity="0.7"/>
<line x1="67.20" y1="83.00" x2="67.20" y2="85.60" stroke="#111" stroke-width="0.5"/>
<line x1="70.68" y1="83.00" x2="70.68" y2="84.00" stroke="#111" stroke-width="0.5"/>
<line x1="72.72" y1="83.00" x2="72.72" y2="84.00" stroke="#111" stroke-width="0.5"/>
<line x1="74.16" y1="83.00" x2="74.16" y2="84.00" stroke="#111" stroke-width="0.5"/>
<line x1="75.28" y1="83.00" x2="75.28" y2="84.00" stroke="#111" stroke-width="0.5"/>
<line x1="76.20" y1="83.00" x2="76.20" y2="84.00" stroke="#111" stroke-width="0.5"/>
<line x1="76.97" y1="83.00" x2="76.97" y2="84.00" stroke="#111" stroke-width="0.5"/>
<line x1="77.64" y1="83.00" x2="77.64" y2="84.00" stroke="#111" stroke-width="0.5"/>
<line x1="78.23" y1="83.00" x2="78.23" y2="84.00" stroke="#111" stroke-width="0.5"/>
<line x1="78.76" y1="83.00" x2="78.76" y2="85.60" stroke="#111" stroke-width="0.5"/>
<line x1="82.24" y1="83.00" x2="82.24" y2="84.00" stroke="#111" stroke-width="0.5"/>
<line x1="84.28" y1="83.00" x2="84.28" y2="84.00" stroke="#111" stroke-width="0.5"/>
<line x1="85.72" y1="83.00" x2="85.72" y2="84.00" stroke="#111" stroke-width="0.5"/>
<line x1="86.84" y1="83.00" x2="86.84" y2="84.00" stroke="#111" stroke-width="0.5"/>
<line x1="87.76" y1="83.00" x2="87.76" y2="84.00" stroke="#111" stroke-width="0.5"/>
<line x1="88.53" y1="83.00" x2="88.53" y2="84.00" stroke="#111" stroke-width="0.5"/>
<line x1="89.20" y1="83.00" x2="89.20" y2="84.00" stroke="#111" stroke-width="0.5"/>
<line x1="89.79" y1="83.00" x2="89.79" y2="84.00" stroke="#111" stroke-width="0.5"/>
<line x1="90.32" y1="83.00" x2="90.32" y2="85.60" stroke="#111" stroke-width="0.5"/>
<line x1="93.80" y1="83.00" x2="93.80" y2="84.00" stroke="#111" stroke-width="0.5"/>
<line x1="95.84" y1="83.00" x2="95.84" y2="84.00" stroke="#111" stroke-width="0.5"/>
<line x1="97.28" y1="83.00" x2="97.28" y2="84.00" stroke="#111" stroke-width="0.5"/>
<line x1="98.40" y1="83.00" x2="98.40" y2="84.00" stroke="#111" stroke-width="0.5"/>
<line x1="99.32" y1="83.00" x2="99.32" y2="84.00" stroke="#111" stroke-width="0.5"/>
<line x1="100.09" y1="83.00" x2="100.09" y2="84.00" stroke="#111" stroke-width="0.5"/>
<line x1="100.76" y1="83.00" x2="100.76" y2="84.00" stroke="#111" stroke-width="0.5"/>
<line x1="101.35" y1="83.00" x2="101.35" y2="84.00" stroke="#111" stroke-width="0.5"/>
<line x1="101.88" y1="83.00" x2="101.88" y2="85.60" stroke="#111" stroke-width="0.5"/>
<line x1="105.36" y1="83.00" x2="105.36" y2="84.00" stroke="#111" stroke-width="0.5"/>
<line x1="107.40" y1="83.00" x2="107.40" y2="84.00" stroke="#111" stroke-width="0.5"/>
<line x1="108.84" y1="83.00" x2="108.84" y2="84.00" stroke="#111" stroke-width="0.5"/>
<line x1="109.96" y1="83.00" x2="109.96" y2="84.00" stroke="#111" stroke-width="0.5"/>
<line x1="110.88" y1="83.00" x2="110.88" y2="84.00" stroke="#111" stroke-width="0.5"/>
<line x1="111.65" y1="83.00" x2="111.65" y2="84.00" stroke="#111" stroke-width="0.5"/>
<line x1="112.32" y1="83.00" x2="112.32" y2="84.00" stroke="#111" stroke-width="0.5"/>
<line x1="112.91" y1="83.00" x2="112.91" y2="84.00" stroke="#111" stroke-width="0.5"/>
<line x1="113.44" y1="83.00" x2="113.44" y2="85.60" stroke="#111" stroke-width="0.5"/>
<line x1="116.92" y1="83.00" x2="116.92" y2="84.00" stroke="#111" stroke-width="0.5"/>
<line x1="118.96" y1="83.00" x2="118.96" y2="84.00" stroke="#111" stroke-width="0.5"/>
<line x1="120.40" y1="83.00" x2="120.40" y2="84.00" stroke="#111" stroke-width="0.5"/>
<line x1="121.52" y1="83.00" x2="121.52" y2="84.00" stroke="#111" stroke-width="0.5"/>
<line x1="122.44" y1="83.00" x2="122.44" y2="84.00" stroke="#111" stroke-width="0.5"/>
<line x1="123.21" y1="83.00" x2="123.21" y2="84.00" stroke="#111" stroke-width="0.5"/>
<line x1="123.88" y1="83.00" x2="123.88" y2="84.00" stroke="#111" stroke-width="0.5"/>
<line x1="124.47" y1="83.00" x2="124.47" y2="84.00" stroke="#111" stroke-width="0.5"/>
<line x1="125.00" y1="83.00" x2="125.00" y2="85.60" stroke="#111" stroke-width="0.5"/>
<line x1="64.40" y1="83.00" x2="67.20" y2="83.00" stroke="#111" stroke-width="0.5"/>
<line x1="66.20" y1="78.76" x2="67.20" y2="78.76" stroke="#111" stroke-width="0.5"/>
<line x1="66.20" y1="76.28" x2="67.20" y2="76.28" stroke="#111" stroke-width="0.5"/>
<line x1="66.20" y1="74.53" x2="67.20" y2="74.53" stroke="#111" stroke-width="0.5"/>
<line x1="66.20" y1="73.16" x2="67.20" y2="73.16" stroke="#111" stroke-width="0.5"/>
<line x1="66.20" y1="72.05" x2="67.20" y2="72.05" stroke="#111" stroke-width="0.5"/>
<line x1="66.20" y1="71.11" x2="67.20" y2="71.11" stroke="#111" stroke-width="0.5"/>
<line x1="66.20" y1="70.29" x2="67.20" y2="70.29" stroke="#111" stroke-width="0.5"/>
<line x1="66.20" y1="69.57" x2="67.20" y2="69.57" stroke="#111" stroke-width="0.5"/>
<line x1="64.40" y1="68.92" x2="67.20" y2="68.92" stroke="#111" stroke-width="0.5"/>
<line x1="66.20" y1="64.69" x2="67.20" y2="64.69" stroke="#111" stroke-width="0.5"/>
<line x1="66.20" y1="62.21" x2="67.20" y2="62.21" stroke="#111" stroke-width="0.5"/>
<line x1="66.20" y1="60.45" x2="67.20" y2="60.45" stroke="#111" stroke-width="0.5"/>
<line x1="66.20" y1="59.09" x2="67.20" y2="59.09" stroke="#111" stroke-width="0.5"/>
<line x1="66.20" y1="57.97" x2="67.20" y2="57.97" stroke="#111" stroke-width="0.5"/>
<line x1="66.20" y1="57.03" x2="67.20" y2="57.03" stroke="#111" stroke-width="0.5"/>
<line x1="66.20" y1="56.21" x2="67.20" y2="56.21" stroke="#111" stroke-width="0.5"/>
<line x1="66.20" y1="55.49" x2="67.20" y2="55.49" stroke="#111" stroke-width="0.5"/>
<line x1="64.40" y1="54.85" x2="67.20" y2="54.85" stroke="#111" stroke-width="0.5"/>
<line x1="66.20" y1="50.61" x2="67.20" y2="50.61" stroke="#111" stroke-width="0.5"/>
<line x1="66.20" y1="48.13" x2="67.20" y2="48.13" stroke="#111" stroke-width="0.5"/>
<line x1="66.20" y1="46.38" x2="67.20" y2="46.38" stroke="#111" stroke-width="0.5"/>
<line x1="66.20" y1="45.01" x2="67.20" y2="45.01" stroke="#111" stroke-width="0.5"/>
<line x1="66.20" y1="43.90" x2="67.20" y2="43.90" stroke="#111" stroke-width="0.5"/>
<line x1="66.20" y1="42.96" x2="67.20" y2="42.96" stroke="#111" stroke-width="0.5"/>
<line x1="66.20" y1="42.14" x2="67.20" y2="42.14" stroke="#111" stroke-width="0.5"/>
<line x1="66.20" y1="41.42" x2="67.20" y2="41.42" stroke="#111" stroke-width="0.5"/>
<line x1="64.40" y1="40.78" x2="67.20" y2="40.78" stroke="#111" stroke-width="0.5"/>
<line x1="66.20" y1="36.54" x2="67.20" y2="36.54" stroke="#111" stroke-width="0.5"/>
<line x1="66.20" y1="34.06" x2="67.20" y2="34.06" stroke="#111" stroke-width="0.5"/>
<line x1="66.20" y1="32.30" x2="67.20" y2="32.30" stroke="#111" stroke-width="0.5"/>
<line x1="66.20" y1="30.94" x2="67.20" y2="30.94" stroke="#111" stroke-width="0.5"/>
<line x1="66.20" y1="29.82" x2="67.20" y2="29.82" stroke="#111" stroke-width="0.5"/>
<line x1="66.20" y1="28.88" x2="67.20" y2="28.88" stroke="#111" stroke-width="0.5"/>
<line x1="66.20" y1="28.06" x2="67.20" y2="28.06" stroke="#111" stroke-width="0.5"/>
<line x1="66.20" y1="27.34" x2="67.20" y2="27.34" stroke="#111" stroke-width="0.5"/>
<line x1="64.40" y1="26.70" x2="67.20" y2="26.70" stroke="#111" stroke-width="0.5"/>
<rect x="67.20" y="26.70" width="57.80" height="56.30" fill="none" stroke="#111" stroke-width="1.3"/>
<rect x="104.00" y="42.90" width="8.10" height="31.10" rx="1" fill="none" stroke="#6a6a6a" stroke-width="0.7"/>
<line x1="104.50" y1="61.30" x2="111.60" y2="61.30" stroke="#222" stroke-width="0.8"/>
<text x="102.00" y="55.60" font-size="4.9" text-anchor="end" fill="#111" stroke="#111" stroke-width="0.15" font-weight="bold" font-family="Liberation Serif" textLength="12.4" lengthAdjust="spacingAndGlyphs">17,6%</text>
<text x="102.00" y="68.80" font-size="4.9" text-anchor="end" fill="#111" stroke="#111" stroke-width="0.15" font-weight="bold" font-family="Liberation Serif" textLength="12.4" lengthAdjust="spacingAndGlyphs">6,53%</text>
<text x="61.60" y="115.40" font-size="5.9" text-anchor="end" fill="#1a1a1a" stroke="#1a1a1a" stroke-width="0.2">10<tspan font-size="3.66" dx="0.25" dy="-2.60" stroke-width="0.06">6</tspan></text>
<text x="61.60" y="129.90" font-size="5.9" text-anchor="end" fill="#1a1a1a" stroke="#1a1a1a" stroke-width="0.2">10<tspan font-size="3.66" dx="0.25" dy="-2.60" stroke-width="0.06">5</tspan></text>
<text x="61.60" y="144.40" font-size="5.9" text-anchor="end" fill="#1a1a1a" stroke="#1a1a1a" stroke-width="0.2">10<tspan font-size="3.66" dx="0.25" dy="-2.60" stroke-width="0.06">4</tspan></text>
<text x="61.60" y="158.90" font-size="5.9" text-anchor="end" fill="#1a1a1a" stroke="#1a1a1a" stroke-width="0.2">10<tspan font-size="3.66" dx="0.25" dy="-2.60" stroke-width="0.06">3</tspan></text>
<text x="61.60" y="173.40" font-size="5.9" text-anchor="end" fill="#1a1a1a" stroke="#1a1a1a" stroke-width="0.2">10<tspan font-size="3.66" dx="0.25" dy="-2.60" stroke-width="0.06">2</tspan></text>
<text x="67.20" y="184.60" font-size="6.2" text-anchor="middle" fill="#1a1a1a" stroke="#1a1a1a" stroke-width="0.2" textLength="7.6" lengthAdjust="spacingAndGlyphs">10<tspan font-size="3.84" dx="0.25" dy="-2.73" stroke-width="0.06">1</tspan></text>
<text x="78.46" y="184.60" font-size="6.2" text-anchor="middle" fill="#1a1a1a" stroke="#1a1a1a" stroke-width="0.2" textLength="7.6" lengthAdjust="spacingAndGlyphs">10<tspan font-size="3.84" dx="0.25" dy="-2.73" stroke-width="0.06">2</tspan></text>
<text x="89.72" y="184.60" font-size="6.2" text-anchor="middle" fill="#1a1a1a" stroke="#1a1a1a" stroke-width="0.2" textLength="7.6" lengthAdjust="spacingAndGlyphs">10<tspan font-size="3.84" dx="0.25" dy="-2.73" stroke-width="0.06">3</tspan></text>
<text x="100.98" y="184.60" font-size="6.2" text-anchor="middle" fill="#1a1a1a" stroke="#1a1a1a" stroke-width="0.2" textLength="7.6" lengthAdjust="spacingAndGlyphs">10<tspan font-size="3.84" dx="0.25" dy="-2.73" stroke-width="0.06">4</tspan></text>
<text x="112.24" y="184.60" font-size="6.2" text-anchor="middle" fill="#1a1a1a" stroke="#1a1a1a" stroke-width="0.2" textLength="7.6" lengthAdjust="spacingAndGlyphs">10<tspan font-size="3.84" dx="0.25" dy="-2.73" stroke-width="0.06">5</tspan></text>
<text x="123.50" y="184.60" font-size="6.2" text-anchor="middle" fill="#1a1a1a" stroke="#1a1a1a" stroke-width="0.2" textLength="7.6" lengthAdjust="spacingAndGlyphs">10<tspan font-size="3.84" dx="0.25" dy="-2.73" stroke-width="0.06">6</tspan></text>
<path d="M119.3 147.3h0.9v0.9h-0.9zM106.1 145.0h0.9v0.9h-0.9zM73.7 154.0h0.9v0.9h-0.9zM90.0 133.1h0.9v0.9h-0.9zM89.1 155.6h0.9v0.9h-0.9zM84.6 154.5h0.9v0.9h-0.9zM101.8 169.5h0.9v0.9h-0.9zM79.0 146.5h0.9v0.9h-0.9zM101.0 168.7h0.9v0.9h-0.9zM97.6 158.4h0.9v0.9h-0.9zM73.8 140.0h0.9v0.9h-0.9zM116.9 144.1h0.9v0.9h-0.9zM90.2 126.0h0.9v0.9h-0.9zM102.8 151.6h0.9v0.9h-0.9zM121.8 150.3h0.9v0.9h-0.9z" fill="rgb(95, 105, 230)" fill-opacity="0.3"/>
<path d="M100.9 166.7h0.9v0.9h-0.9zM101.0 168.7h0.9v0.9h-0.9zM100.6 158.4h0.9v0.9h-0.9zM100.4 125.3h0.9v0.9h-0.9zM108.8 168.5h0.9v0.9h-0.9zM102.3 127.3h0.9v0.9h-0.9zM99.2 147.7h0.9v0.9h-0.9zM105.0 169.0h0.9v0.9h-0.9zM107.6 127.6h0.9v0.9h-0.9zM112.0 134.0h0.9v0.9h-0.9zM105.7 127.6h0.9v0.9h-0.9zM101.7 129.8h0.9v0.9h-0.9zM100.8 135.6h0.9v0.9h-0.9zM101.7 121.3h0.9v0.9h-0.9zM100.0 141.2h0.9v0.9h-0.9zM112.4 153.1h0.9v0.9h-0.9zM107.2 167.1h0.9v0.9h-0.9zM107.7 168.3h0.9v0.9h-0.9zM107.0 169.9h0.9v0.9h-0.9z" fill="rgb(95, 105, 230)" fill-opacity="0.45"/>
<path d="M69.8 149.9h0.9v0.9h-0.9zM91.7 148.7h0.9v0.9h-0.9zM72.4 168.3h0.9v0.9h-0.9zM96.9 151.9h0.9v0.9h-0.9zM90.0 150.1h0.9v0.9h-0.9zM74.9 150.3h0.9v0.9h-0.9zM98.1 157.6h0.9v0.9h-0.9zM95.5 147.8h0.9v0.9h-0.9zM93.4 167.7h0.9v0.9h-0.9zM68.1 164.4h0.9v0.9h-0.9zM93.3 166.8h0.9v0.9h-0.9zM95.2 154.0h0.9v0.9h-0.9zM76.1 149.8h0.9v0.9h-0.9zM80.5 145.5h0.9v0.9h-0.9zM69.1 156.7h0.9v0.9h-0.9zM95.0 168.9h0.9v0.9h-0.9zM92.4 166.9h0.9v0.9h-0.9zM76.9 149.9h0.9v0.9h-0.9zM87.7 170.1h0.9v0.9h-0.9zM86.3 148.3h0.9v0.9h-0.9zM97.2 160.6h0.9v0.9h-0.9zM68.4 165.3h0.9v0.9h-0.9zM70.0 152.8h0.9v0.9h-0.9zM80.1 144.7h0.9v0.9h-0.9zM87.6 148.6h0.9v0.9h-0.9zM84.9 143.6h0.9v0.9h-0.9z" fill="rgb(95, 105, 230)" fill-opacity="0.5"/>
<path d="M111.5 131.6h0.9v0.9h-0.9zM111.4 163.1h0.9v0.9h-0.9zM113.7 152.9h0.9v0.9h-0.9zM107.8 169.2h0.9v0.9h-0.9zM103.9 130.2h0.9v0.9h-0.9zM100.8 159.8h0.9v0.9h-0.9zM103.8 168.3h0.9v0.9h-0.9zM99.9 136.7h0.9v0.9h-0.9zM99.9 165.6h0.9v0.9h-0.9zM113.6 150.8h0.9v0.9h-0.9zM107.7 132.0h0.9v0.9h-0.9zM108.5 130.0h0.9v0.9h-0.9zM113.5 138.4h0.9v0.9h-0.9zM101.3 138.6h0.9v0.9h-0.9zM103.2 165.0h0.9v0.9h-0.9zM112.1 151.7h0.9v0.9h-0.9zM103.2 167.9h0.9v0.9h-0.9zM109.0 166.1h0.9v0.9h-0.9zM100.7 156.5h0.9v0.9h-0.9zM102.1 165.5h0.9v0.9h-0.9zM101.9 163.1h0.9v0.9h-0.9zM112.4 146.0h0.9v0.9h-0.9z" fill="rgb(95, 105, 230)" fill-opacity="0.65"/>
<path d="M84.2 169.0h0.9v0.9h-0.9zM77.5 168.7h0.9v0.9h-0.9zM72.4 159.4h0.9v0.9h-0.9zM89.8 166.3h0.9v0.9h-0.9zM82.5 169.1h0.9v0.9h-0.9zM92.2 163.4h0.9v0.9h-0.9zM94.0 162.1h0.9v0.9h-0.9zM86.8 151.4h0.9v0.9h-0.9zM89.7 166.0h0.9v0.9h-0.9zM94.2 157.4h0.9v0.9h-0.9zM76.0 151.5h0.9v0.9h-0.9zM90.6 166.4h0.9v0.9h-0.9zM75.0 168.1h0.9v0.9h-0.9zM72.9 163.8h0.9v0.9h-0.9zM73.0 159.9h0.9v0.9h-0.9zM69.5 156.7h0.9v0.9h-0.9zM87.7 149.9h0.9v0.9h-0.9zM75.4 168.9h0.9v0.9h-0.9zM70.0 157.4h0.9v0.9h-0.9zM74.3 155.3h0.9v0.9h-0.9zM75.0 154.3h0.9v0.9h-0.9zM75.8 166.1h0.9v0.9h-0.9z" fill="rgb(95, 105, 230)" fill-opacity="0.75"/>
<path d="M99.4 147.5h0.9v0.9h-0.9zM86.6 149.0h0.9v0.9h-0.9z" fill="rgb(90, 109, 231)" fill-opacity="0.3"/>
<path d="M108.1 135.4h0.9v0.9h-0.9zM110.0 153.9h0.9v0.9h-0.9zM106.1 131.4h0.9v0.9h-0.9zM102.4 135.4h0.9v0.9h-0.9zM106.5 137.1h0.9v0.9h-0.9zM111.4 141.4h0.9v0.9h-0.9zM104.1 157.2h0.9v0.9h-0.9zM101.8 145.4h0.9v0.9h-0.9zM109.3 152.6h0.9v0.9h-0.9zM103.7 135.4h0.9v0.9h-0.9zM102.2 156.2h0.9v0.9h-0.9zM109.0 161.3h0.9v0.9h-0.9zM106.1 135.0h0.9v0.9h-0.9zM109.7 160.6h0.9v0.9h-0.9zM104.6 133.5h0.9v0.9h-0.9zM110.9 148.3h0.9v0.9h-0.9zM109.5 152.3h0.9v0.9h-0.9zM103.8 160.5h0.9v0.9h-0.9zM107.6 135.3h0.9v0.9h-0.9zM112.0 151.6h0.9v0.9h-0.9zM110.1 150.3h0.9v0.9h-0.9zM102.2 135.1h0.9v0.9h-0.9zM103.0 142.3h0.9v0.9h-0.9zM101.3 146.9h0.9v0.9h-0.9z" fill="rgb(90, 109, 231)" fill-opacity="0.45"/>
<path d="M94.5 159.5h0.9v0.9h-0.9zM92.3 164.8h0.9v0.9h-0.9zM91.6 159.0h0.9v0.9h-0.9zM88.7 164.4h0.9v0.9h-0.9zM91.4 155.8h0.9v0.9h-0.9zM94.7 161.8h0.9v0.9h-0.9zM86.2 167.9h0.9v0.9h-0.9zM88.4 169.2h0.9v0.9h-0.9zM88.0 151.4h0.9v0.9h-0.9zM75.6 165.6h0.9v0.9h-0.9zM72.4 156.6h0.9v0.9h-0.9zM87.0 151.5h0.9v0.9h-0.9zM73.2 160.2h0.9v0.9h-0.9zM83.8 153.9h0.9v0.9h-0.9zM79.7 168.6h0.9v0.9h-0.9zM74.2 159.4h0.9v0.9h-0.9zM77.7 165.5h0.9v0.9h-0.9zM79.7 166.2h0.9v0.9h-0.9zM78.3 166.0h0.9v0.9h-0.9zM92.1 158.0h0.9v0.9h-0.9zM77.4 152.6h0.9v0.9h-0.9zM79.2 167.5h0.9v0.9h-0.9zM90.2 158.0h0.9v0.9h-0.9zM78.5 154.1h0.9v0.9h-0.9zM91.5 164.5h0.9v0.9h-0.9zM75.1 165.7h0.9v0.9h-0.9zM74.0 163.7h0.9v0.9h-0.9zM75.1 157.6h0.9v0.9h-0.9zM89.3 155.2h0.9v0.9h-0.9zM72.5 160.5h0.9v0.9h-0.9zM83.4 167.7h0.9v0.9h-0.9zM88.8 164.7h0.9v0.9h-0.9zM70.7 157.0h0.9v0.9h-0.9zM94.0 159.4h0.9v0.9h-0.9zM91.3 158.1h0.9v0.9h-0.9zM92.0 160.8h0.9v0.9h-0.9zM79.9 153.9h0.9v0.9h-0.9zM90.0 154.6h0.9v0.9h-0.9zM88.7 154.4h0.9v0.9h-0.9zM88.1 168.6h0.9v0.9h-0.9zM75.1 168.6h0.9v0.9h-0.9zM84.9 166.1h0.9v0.9h-0.9zM87.2 153.3h0.9v0.9h-0.9zM85.8 167.0h0.9v0.9h-0.9zM79.2 168.9h0.9v0.9h-0.9zM88.6 154.7h0.9v0.9h-0.9zM78.8 154.6h0.9v0.9h-0.9zM86.2 155.0h0.9v0.9h-0.9zM89.2 154.1h0.9v0.9h-0.9zM72.4 161.6h0.9v0.9h-0.9zM91.9 160.3h0.9v0.9h-0.9zM80.7 167.0h0.9v0.9h-0.9zM81.3 167.8h0.9v0.9h-0.9zM70.0 156.2h0.9v0.9h-0.9zM91.0 152.6h0.9v0.9h-0.9zM74.9 153.7h0.9v0.9h-0.9zM92.5 156.6h0.9v0.9h-0.9zM77.8 169.6h0.9v0.9h-0.9zM81.4 152.9h0.9v0.9h-0.9zM74.7 158.1h0.9v0.9h-0.9zM74.2 161.9h0.9v0.9h-0.9zM80.6 152.5h0.9v0.9h-0.9zM90.7 156.2h0.9v0.9h-0.9zM73.9 168.1h0.9v0.9h-0.9zM89.9 162.9h0.9v0.9h-0.9zM85.5 166.9h0.9v0.9h-0.9zM89.6 154.0h0.9v0.9h-0.9zM76.2 168.8h0.9v0.9h-0.9zM77.5 155.1h0.9v0.9h-0.9zM89.3 162.2h0.9v0.9h-0.9zM92.1 162.4h0.9v0.9h-0.9zM77.6 166.0h0.9v0.9h-0.9zM90.6 156.5h0.9v0.9h-0.9zM72.9 153.7h0.9v0.9h-0.9zM85.1 154.2h0.9v0.9h-0.9zM72.3 158.1h0.9v0.9h-0.9zM71.7 157.0h0.9v0.9h-0.9zM78.9 150.1h0.9v0.9h-0.9zM71.2 161.3h0.9v0.9h-0.9z" fill="rgb(90, 109, 231)" fill-opacity="0.5"/>
<path d="M106.0 133.1h0.9v0.9h-0.9zM104.1 164.5h0.9v0.9h-0.9zM102.5 158.7h0.9v0.9h-0.9zM101.9 159.0h0.9v0.9h-0.9zM109.0 162.5h0.9v0.9h-0.9zM101.4 151.4h0.9v0.9h-0.9zM102.0 142.6h0.9v0.9h-0.9zM107.6 165.1h0.9v0.9h-0.9zM111.7 151.0h0.9v0.9h-0.9zM103.5 164.2h0.9v0.9h-0.9zM105.4 134.8h0.9v0.9h-0.9zM104.4 164.1h0.9v0.9h-0.9zM102.1 139.3h0.9v0.9h-0.9zM105.9 166.3h0.9v0.9h-0.9zM108.8 136.0h0.9v0.9h-0.9zM103.1 159.6h0.9v0.9h-0.9zM103.3 138.8h0.9v0.9h-0.9zM101.4 152.6h0.9v0.9h-0.9zM101.0 154.9h0.9v0.9h-0.9zM101.8 155.2h0.9v0.9h-0.9zM106.2 166.3h0.9v0.9h-0.9zM110.8 153.7h0.9v0.9h-0.9zM101.6 151.4h0.9v0.9h-0.9zM105.7 165.7h0.9v0.9h-0.9zM109.2 165.6h0.9v0.9h-0.9zM104.1 162.6h0.9v0.9h-0.9zM106.7 165.2h0.9v0.9h-0.9zM101.4 149.8h0.9v0.9h-0.9zM107.4 133.9h0.9v0.9h-0.9zM109.1 134.5h0.9v0.9h-0.9zM106.3 164.3h0.9v0.9h-0.9zM101.2 150.8h0.9v0.9h-0.9zM103.8 138.3h0.9v0.9h-0.9zM103.6 161.5h0.9v0.9h-0.9zM107.2 165.5h0.9v0.9h-0.9zM102.5 139.9h0.9v0.9h-0.9zM102.5 162.1h0.9v0.9h-0.9zM110.7 155.0h0.9v0.9h-0.9zM111.2 145.4h0.9v0.9h-0.9zM107.9 165.7h0.9v0.9h-0.9zM102.0 154.4h0.9v0.9h-0.9z" fill="rgb(90, 109, 231)" fill-opacity="0.65"/>
<path d="M92.0 160.4h0.9v0.9h-0.9zM86.6 166.4h0.9v0.9h-0.9zM78.8 153.2h0.9v0.9h-0.9zM75.4 162.6h0.9v0.9h-0.9zM79.1 152.2h0.9v0.9h-0.9zM84.0 151.9h0.9v0.9h-0.9zM77.1 153.3h0.9v0.9h-0.9zM75.2 155.2h0.9v0.9h-0.9zM74.1 161.8h0.9v0.9h-0.9zM75.5 163.1h0.9v0.9h-0.9zM76.2 155.2h0.9v0.9h-0.9zM85.9 152.9h0.9v0.9h-0.9zM79.3 152.5h0.9v0.9h-0.9zM75.6 156.1h0.9v0.9h-0.9zM73.8 162.1h0.9v0.9h-0.9zM76.7 152.8h0.9v0.9h-0.9zM89.4 155.3h0.9v0.9h-0.9zM83.0 151.3h0.9v0.9h-0.9zM91.2 161.7h0.9v0.9h-0.9zM84.3 168.0h0.9v0.9h-0.9zM88.0 154.2h0.9v0.9h-0.9zM89.9 164.5h0.9v0.9h-0.9zM79.3 166.9h0.9v0.9h-0.9zM90.3 162.5h0.9v0.9h-0.9zM91.4 159.7h0.9v0.9h-0.9zM86.8 152.3h0.9v0.9h-0.9zM75.5 165.0h0.9v0.9h-0.9zM85.5 152.3h0.9v0.9h-0.9zM91.3 157.6h0.9v0.9h-0.9zM85.6 152.8h0.9v0.9h-0.9zM74.4 157.7h0.9v0.9h-0.9zM75.2 163.3h0.9v0.9h-0.9zM77.2 166.8h0.9v0.9h-0.9zM75.7 156.5h0.9v0.9h-0.9zM89.4 164.4h0.9v0.9h-0.9zM90.2 162.4h0.9v0.9h-0.9zM79.5 166.9h0.9v0.9h-0.9zM73.4 160.0h0.9v0.9h-0.9zM79.9 166.6h0.9v0.9h-0.9zM85.1 168.3h0.9v0.9h-0.9zM89.0 165.1h0.9v0.9h-0.9zM84.8 167.5h0.9v0.9h-0.9zM80.3 166.9h0.9v0.9h-0.9z" fill="rgb(90, 109, 231)" fill-opacity="0.75"/>
<path d="M103.2 146.3h0.9v0.9h-0.9zM104.1 141.8h0.9v0.9h-0.9zM106.1 144.8h0.9v0.9h-0.9zM105.7 156.2h0.9v0.9h-0.9zM108.3 154.1h0.9v0.9h-0.9zM107.1 138.4h0.9v0.9h-0.9zM108.1 155.4h0.9v0.9h-0.9zM105.8 152.1h0.9v0.9h-0.9zM105.7 155.5h0.9v0.9h-0.9zM106.3 152.8h0.9v0.9h-0.9zM107.1 138.2h0.9v0.9h-0.9zM105.6 144.0h0.9v0.9h-0.9zM107.6 139.7h0.9v0.9h-0.9zM107.8 154.8h0.9v0.9h-0.9zM107.9 153.0h0.9v0.9h-0.9zM103.8 140.7h0.9v0.9h-0.9zM104.9 149.8h0.9v0.9h-0.9z" fill="rgb(86, 113, 232)" fill-opacity="0.45"/>
<path d="M79.0 162.8h0.9v0.9h-0.9zM83.0 160.4h0.9v0.9h-0.9zM77.5 161.6h0.9v0.9h-0.9zM81.1 159.8h0.9v0.9h-0.9zM78.7 156.3h0.9v0.9h-0.9zM82.1 163.3h0.9v0.9h-0.9zM85.4 155.7h0.9v0.9h-0.9zM79.8 163.4h0.9v0.9h-0.9zM85.0 155.3h0.9v0.9h-0.9zM82.1 161.7h0.9v0.9h-0.9zM85.5 164.2h0.9v0.9h-0.9zM79.3 158.8h0.9v0.9h-0.9zM80.3 156.7h0.9v0.9h-0.9zM83.8 160.9h0.9v0.9h-0.9zM77.5 161.4h0.9v0.9h-0.9zM81.9 159.6h0.9v0.9h-0.9zM85.7 158.0h0.9v0.9h-0.9zM75.6 157.8h0.9v0.9h-0.9zM83.1 162.4h0.9v0.9h-0.9zM83.0 158.0h0.9v0.9h-0.9zM78.2 156.0h0.9v0.9h-0.9zM86.8 160.7h0.9v0.9h-0.9zM85.6 162.5h0.9v0.9h-0.9zM81.9 162.7h0.9v0.9h-0.9zM76.4 159.1h0.9v0.9h-0.9zM79.4 158.7h0.9v0.9h-0.9zM79.5 161.3h0.9v0.9h-0.9zM82.2 157.0h0.9v0.9h-0.9zM78.4 162.3h0.9v0.9h-0.9zM82.6 156.8h0.9v0.9h-0.9zM82.4 158.0h0.9v0.9h-0.9zM82.6 165.8h0.9v0.9h-0.9zM83.5 164.9h0.9v0.9h-0.9zM87.2 164.0h0.9v0.9h-0.9zM81.6 158.2h0.9v0.9h-0.9zM79.3 158.3h0.9v0.9h-0.9zM79.4 155.9h0.9v0.9h-0.9zM83.2 160.8h0.9v0.9h-0.9zM78.9 162.3h0.9v0.9h-0.9zM83.2 159.7h0.9v0.9h-0.9zM79.6 162.9h0.9v0.9h-0.9zM82.6 158.5h0.9v0.9h-0.9zM77.6 160.5h0.9v0.9h-0.9zM88.0 162.5h0.9v0.9h-0.9zM80.1 159.0h0.9v0.9h-0.9zM85.4 165.0h0.9v0.9h-0.9zM76.7 163.6h0.9v0.9h-0.9zM81.2 161.1h0.9v0.9h-0.9zM86.0 160.9h0.9v0.9h-0.9zM79.1 155.8h0.9v0.9h-0.9zM84.0 159.9h0.9v0.9h-0.9zM78.0 163.7h0.9v0.9h-0.9zM77.4 155.8h0.9v0.9h-0.9zM88.3 162.0h0.9v0.9h-0.9zM74.9 160.7h0.9v0.9h-0.9zM82.2 164.4h0.9v0.9h-0.9zM79.6 162.6h0.9v0.9h-0.9zM76.2 157.9h0.9v0.9h-0.9zM83.4 161.9h0.9v0.9h-0.9zM80.0 164.9h0.9v0.9h-0.9zM88.3 157.9h0.9v0.9h-0.9zM86.1 161.8h0.9v0.9h-0.9zM86.9 157.1h0.9v0.9h-0.9zM81.9 161.3h0.9v0.9h-0.9zM85.0 164.1h0.9v0.9h-0.9zM80.5 156.0h0.9v0.9h-0.9zM78.0 162.4h0.9v0.9h-0.9zM79.0 156.8h0.9v0.9h-0.9zM79.5 158.6h0.9v0.9h-0.9zM79.8 162.7h0.9v0.9h-0.9zM86.6 158.1h0.9v0.9h-0.9zM79.1 155.1h0.9v0.9h-0.9zM77.3 157.3h0.9v0.9h-0.9zM80.8 160.2h0.9v0.9h-0.9zM84.5 159.8h0.9v0.9h-0.9zM80.4 162.3h0.9v0.9h-0.9zM84.3 162.8h0.9v0.9h-0.9zM82.4 157.4h0.9v0.9h-0.9zM76.6 156.8h0.9v0.9h-0.9zM81.7 155.4h0.9v0.9h-0.9zM83.0 154.9h0.9v0.9h-0.9zM76.2 161.4h0.9v0.9h-0.9zM82.7 160.6h0.9v0.9h-0.9zM83.1 154.4h0.9v0.9h-0.9zM87.4 159.7h0.9v0.9h-0.9zM82.1 157.4h0.9v0.9h-0.9z" fill="rgb(86, 113, 232)" fill-opacity="0.5"/>
<path d="M109.4 157.6h0.9v0.9h-0.9zM106.4 136.0h0.9v0.9h-0.9zM103.7 160.0h0.9v0.9h-0.9zM108.7 159.9h0.9v0.9h-0.9zM106.8 163.2h0.9v0.9h-0.9zM108.8 159.8h0.9v0.9h-0.9zM109.3 141.9h0.9v0.9h-0.9zM109.1 141.5h0.9v0.9h-0.9zM108.7 139.1h0.9v0.9h-0.9zM110.4 150.1h0.9v0.9h-0.9zM102.6 152.0h0.9v0.9h-0.9zM108.5 162.3h0.9v0.9h-0.9zM102.1 151.8h0.9v0.9h-0.9zM110.1 147.9h0.9v0.9h-0.9zM109.7 142.7h0.9v0.9h-0.9zM101.9 149.0h0.9v0.9h-0.9zM104.5 139.2h0.9v0.9h-0.9zM106.9 137.2h0.9v0.9h-0.9zM110.3 156.4h0.9v0.9h-0.9zM110.8 149.8h0.9v0.9h-0.9zM109.3 140.0h0.9v0.9h-0.9zM105.8 163.2h0.9v0.9h-0.9zM106.5 162.4h0.9v0.9h-0.9zM108.2 161.9h0.9v0.9h-0.9zM102.4 145.8h0.9v0.9h-0.9zM102.2 151.0h0.9v0.9h-0.9zM106.9 162.4h0.9v0.9h-0.9zM102.9 142.6h0.9v0.9h-0.9zM106.5 162.2h0.9v0.9h-0.9zM110.6 149.8h0.9v0.9h-0.9zM108.8 139.1h0.9v0.9h-0.9zM109.6 156.5h0.9v0.9h-0.9zM109.7 143.0h0.9v0.9h-0.9zM108.5 138.3h0.9v0.9h-0.9zM108.3 138.3h0.9v0.9h-0.9zM110.5 147.4h0.9v0.9h-0.9zM103.1 158.2h0.9v0.9h-0.9zM110.6 145.0h0.9v0.9h-0.9zM108.6 138.6h0.9v0.9h-0.9zM104.1 138.5h0.9v0.9h-0.9zM110.7 153.6h0.9v0.9h-0.9zM102.2 153.8h0.9v0.9h-0.9zM102.6 154.0h0.9v0.9h-0.9zM109.4 142.3h0.9v0.9h-0.9zM103.3 157.8h0.9v0.9h-0.9zM102.4 143.6h0.9v0.9h-0.9zM103.7 140.1h0.9v0.9h-0.9z" fill="rgb(86, 113, 232)" fill-opacity="0.65"/>
<path d="M85.6 153.8h0.9v0.9h-0.9zM89.4 156.7h0.9v0.9h-0.9zM89.4 162.2h0.9v0.9h-0.9zM87.3 165.0h0.9v0.9h-0.9zM88.2 156.2h0.9v0.9h-0.9zM84.4 153.1h0.9v0.9h-0.9zM75.4 158.0h0.9v0.9h-0.9zM90.0 160.1h0.9v0.9h-0.9zM79.0 153.9h0.9v0.9h-0.9zM78.7 165.9h0.9v0.9h-0.9zM78.9 154.5h0.9v0.9h-0.9zM89.2 163.6h0.9v0.9h-0.9zM81.0 152.9h0.9v0.9h-0.9zM86.5 166.0h0.9v0.9h-0.9zM86.9 164.9h0.9v0.9h-0.9zM80.6 153.3h0.9v0.9h-0.9zM89.8 158.8h0.9v0.9h-0.9zM89.6 161.6h0.9v0.9h-0.9zM85.6 153.1h0.9v0.9h-0.9zM86.8 154.5h0.9v0.9h-0.9zM76.3 157.7h0.9v0.9h-0.9zM88.6 163.2h0.9v0.9h-0.9zM75.5 157.2h0.9v0.9h-0.9zM87.4 165.5h0.9v0.9h-0.9zM86.8 153.8h0.9v0.9h-0.9zM85.5 166.1h0.9v0.9h-0.9zM85.8 153.2h0.9v0.9h-0.9zM89.9 162.5h0.9v0.9h-0.9zM82.7 166.4h0.9v0.9h-0.9zM76.4 155.9h0.9v0.9h-0.9zM85.6 153.4h0.9v0.9h-0.9zM77.2 155.1h0.9v0.9h-0.9zM84.3 152.7h0.9v0.9h-0.9zM84.4 153.0h0.9v0.9h-0.9zM86.7 154.1h0.9v0.9h-0.9zM75.8 158.6h0.9v0.9h-0.9zM89.7 158.9h0.9v0.9h-0.9zM75.7 158.9h0.9v0.9h-0.9zM77.5 155.5h0.9v0.9h-0.9zM89.5 156.8h0.9v0.9h-0.9zM76.0 160.4h0.9v0.9h-0.9zM87.8 164.5h0.9v0.9h-0.9zM75.9 162.2h0.9v0.9h-0.9zM86.0 166.1h0.9v0.9h-0.9zM88.3 155.0h0.9v0.9h-0.9zM82.6 153.0h0.9v0.9h-0.9zM82.2 153.0h0.9v0.9h-0.9zM80.7 153.6h0.9v0.9h-0.9zM79.2 165.5h0.9v0.9h-0.9zM83.4 153.0h0.9v0.9h-0.9z" fill="rgb(86, 113, 232)" fill-opacity="0.75"/>
<path d="M109.6 154.3h0.9v0.9h-0.9zM109.6 146.4h0.9v0.9h-0.9zM106.6 139.3h0.9v0.9h-0.9zM108.3 159.7h0.9v0.9h-0.9zM108.0 160.3h0.9v0.9h-0.9zM105.1 139.9h0.9v0.9h-0.9zM106.3 160.3h0.9v0.9h-0.9zM106.7 160.5h0.9v0.9h-0.9zM103.1 148.3h0.9v0.9h-0.9zM107.0 160.2h0.9v0.9h-0.9zM103.1 152.6h0.9v0.9h-0.9zM107.3 140.0h0.9v0.9h-0.9zM103.5 155.9h0.9v0.9h-0.9zM103.9 158.0h0.9v0.9h-0.9zM109.8 153.8h0.9v0.9h-0.9zM109.9 153.9h0.9v0.9h-0.9zM105.4 161.4h0.9v0.9h-0.9zM104.7 140.0h0.9v0.9h-0.9zM103.4 155.6h0.9v0.9h-0.9zM109.9 154.0h0.9v0.9h-0.9zM103.9 157.3h0.9v0.9h-0.9zM109.2 156.2h0.9v0.9h-0.9zM103.1 145.1h0.9v0.9h-0.9zM106.5 160.1h0.9v0.9h-0.9zM103.7 142.2h0.9v0.9h-0.9zM106.4 139.3h0.9v0.9h-0.9zM107.5 160.0h0.9v0.9h-0.9zM109.9 147.6h0.9v0.9h-0.9zM104.9 139.2h0.9v0.9h-0.9zM107.4 139.1h0.9v0.9h-0.9zM109.0 157.8h0.9v0.9h-0.9zM109.2 143.1h0.9v0.9h-0.9zM109.4 154.8h0.9v0.9h-0.9zM104.1 158.4h0.9v0.9h-0.9zM102.8 148.4h0.9v0.9h-0.9zM109.8 148.5h0.9v0.9h-0.9zM107.6 139.4h0.9v0.9h-0.9zM105.5 138.9h0.9v0.9h-0.9zM103.1 146.0h0.9v0.9h-0.9z" fill="rgb(82, 117, 234)" fill-opacity="0.65"/>
<path d="M87.2 164.3h0.9v0.9h-0.9zM88.8 159.9h0.9v0.9h-0.9zM88.2 156.3h0.9v0.9h-0.9zM83.4 166.0h0.9v0.9h-0.9zM77.6 155.8h0.9v0.9h-0.9zM76.6 158.7h0.9v0.9h-0.9zM76.3 158.8h0.9v0.9h-0.9zM78.3 155.1h0.9v0.9h-0.9zM88.6 161.2h0.9v0.9h-0.9zM79.0 154.5h0.9v0.9h-0.9zM85.6 154.1h0.9v0.9h-0.9zM88.9 161.7h0.9v0.9h-0.9zM78.6 155.7h0.9v0.9h-0.9zM80.4 165.2h0.9v0.9h-0.9zM77.7 164.0h0.9v0.9h-0.9zM89.0 157.7h0.9v0.9h-0.9zM84.6 165.5h0.9v0.9h-0.9zM82.5 165.8h0.9v0.9h-0.9zM88.8 157.8h0.9v0.9h-0.9zM84.1 154.3h0.9v0.9h-0.9zM77.3 156.5h0.9v0.9h-0.9zM85.5 165.4h0.9v0.9h-0.9zM87.1 163.7h0.9v0.9h-0.9zM80.1 164.9h0.9v0.9h-0.9zM78.0 163.9h0.9v0.9h-0.9zM86.8 155.6h0.9v0.9h-0.9zM89.2 158.6h0.9v0.9h-0.9zM84.5 165.2h0.9v0.9h-0.9zM80.9 165.7h0.9v0.9h-0.9zM76.9 162.0h0.9v0.9h-0.9zM88.7 158.3h0.9v0.9h-0.9zM82.3 153.9h0.9v0.9h-0.9zM84.0 154.3h0.9v0.9h-0.9zM88.4 156.8h0.9v0.9h-0.9zM77.0 163.1h0.9v0.9h-0.9zM79.0 164.4h0.9v0.9h-0.9zM81.9 165.9h0.9v0.9h-0.9zM86.9 163.9h0.9v0.9h-0.9zM88.2 156.4h0.9v0.9h-0.9zM82.1 154.1h0.9v0.9h-0.9zM86.0 154.4h0.9v0.9h-0.9zM87.9 163.9h0.9v0.9h-0.9zM76.6 158.0h0.9v0.9h-0.9z" fill="rgb(82, 117, 234)" fill-opacity="0.75"/>
<path d="M109.0 153.3h0.9v0.9h-0.9zM109.2 149.0h0.9v0.9h-0.9zM109.3 153.6h0.9v0.9h-0.9zM107.0 159.5h0.9v0.9h-0.9zM108.4 156.0h0.9v0.9h-0.9zM104.7 157.0h0.9v0.9h-0.9zM109.2 152.4h0.9v0.9h-0.9zM103.8 155.2h0.9v0.9h-0.9zM103.5 147.4h0.9v0.9h-0.9zM104.6 142.5h0.9v0.9h-0.9zM108.1 142.9h0.9v0.9h-0.9zM104.3 143.2h0.9v0.9h-0.9zM109.0 145.9h0.9v0.9h-0.9zM103.5 148.6h0.9v0.9h-0.9zM107.4 141.4h0.9v0.9h-0.9zM107.3 159.3h0.9v0.9h-0.9zM104.0 156.5h0.9v0.9h-0.9zM103.6 148.6h0.9v0.9h-0.9zM109.6 151.6h0.9v0.9h-0.9zM103.8 153.2h0.9v0.9h-0.9zM105.1 141.4h0.9v0.9h-0.9zM106.5 140.3h0.9v0.9h-0.9zM105.7 141.6h0.9v0.9h-0.9zM103.6 154.9h0.9v0.9h-0.9zM104.9 157.8h0.9v0.9h-0.9zM108.3 142.6h0.9v0.9h-0.9zM103.7 151.9h0.9v0.9h-0.9zM109.1 145.4h0.9v0.9h-0.9zM107.4 140.5h0.9v0.9h-0.9zM109.1 145.5h0.9v0.9h-0.9zM107.3 141.6h0.9v0.9h-0.9zM106.9 159.3h0.9v0.9h-0.9zM109.1 146.6h0.9v0.9h-0.9zM106.4 141.2h0.9v0.9h-0.9zM104.0 144.6h0.9v0.9h-0.9zM109.2 151.9h0.9v0.9h-0.9zM108.5 157.3h0.9v0.9h-0.9zM108.3 143.9h0.9v0.9h-0.9zM103.4 150.2h0.9v0.9h-0.9zM107.9 158.0h0.9v0.9h-0.9zM103.6 151.1h0.9v0.9h-0.9zM109.3 147.8h0.9v0.9h-0.9zM104.7 158.5h0.9v0.9h-0.9zM109.2 150.2h0.9v0.9h-0.9zM104.2 155.4h0.9v0.9h-0.9zM109.1 147.6h0.9v0.9h-0.9zM108.9 155.6h0.9v0.9h-0.9zM108.3 143.1h0.9v0.9h-0.9zM108.8 145.2h0.9v0.9h-0.9zM105.2 141.2h0.9v0.9h-0.9zM108.4 157.9h0.9v0.9h-0.9zM108.2 157.0h0.9v0.9h-0.9z" fill="rgb(78, 126, 231)" fill-opacity="0.65"/>
<path d="M84.7 155.0h0.9v0.9h-0.9zM79.4 163.9h0.9v0.9h-0.9zM77.8 162.0h0.9v0.9h-0.9zM84.6 165.0h0.9v0.9h-0.9zM79.2 155.9h0.9v0.9h-0.9zM81.6 154.9h0.9v0.9h-0.9zM78.7 156.4h0.9v0.9h-0.9zM88.5 160.0h0.9v0.9h-0.9zM88.2 160.3h0.9v0.9h-0.9zM77.4 161.8h0.9v0.9h-0.9zM79.1 163.7h0.9v0.9h-0.9zM78.6 163.6h0.9v0.9h-0.9zM78.2 156.4h0.9v0.9h-0.9zM85.2 164.9h0.9v0.9h-0.9zM86.9 163.0h0.9v0.9h-0.9zM85.6 155.6h0.9v0.9h-0.9zM78.2 156.1h0.9v0.9h-0.9zM87.7 157.8h0.9v0.9h-0.9zM80.8 164.7h0.9v0.9h-0.9zM77.7 157.6h0.9v0.9h-0.9zM79.3 164.1h0.9v0.9h-0.9zM87.3 156.4h0.9v0.9h-0.9zM80.7 165.0h0.9v0.9h-0.9zM82.1 165.0h0.9v0.9h-0.9zM86.0 164.5h0.9v0.9h-0.9zM78.5 163.3h0.9v0.9h-0.9zM80.3 164.6h0.9v0.9h-0.9zM88.3 160.8h0.9v0.9h-0.9zM77.9 162.6h0.9v0.9h-0.9zM77.4 162.0h0.9v0.9h-0.9zM88.0 157.5h0.9v0.9h-0.9zM88.2 161.7h0.9v0.9h-0.9zM88.0 158.8h0.9v0.9h-0.9zM81.2 154.6h0.9v0.9h-0.9zM85.4 164.5h0.9v0.9h-0.9zM84.6 165.1h0.9v0.9h-0.9z" fill="rgb(78, 126, 231)" fill-opacity="0.75"/>
<path d="M108.5 147.4h0.9v0.9h-0.9zM107.2 142.1h0.9v0.9h-0.9zM106.2 158.0h0.9v0.9h-0.9zM104.2 145.3h0.9v0.9h-0.9zM108.1 156.0h0.9v0.9h-0.9zM104.6 154.8h0.9v0.9h-0.9zM106.3 142.7h0.9v0.9h-0.9zM105.8 142.7h0.9v0.9h-0.9zM103.7 148.8h0.9v0.9h-0.9zM105.5 142.3h0.9v0.9h-0.9zM105.4 143.5h0.9v0.9h-0.9zM107.2 157.5h0.9v0.9h-0.9zM104.3 152.5h0.9v0.9h-0.9zM106.5 142.7h0.9v0.9h-0.9zM103.8 151.9h0.9v0.9h-0.9zM107.7 143.4h0.9v0.9h-0.9zM103.9 149.5h0.9v0.9h-0.9zM104.1 148.3h0.9v0.9h-0.9zM104.4 146.4h0.9v0.9h-0.9zM104.0 148.4h0.9v0.9h-0.9zM108.8 152.8h0.9v0.9h-0.9zM108.6 154.6h0.9v0.9h-0.9zM106.1 142.1h0.9v0.9h-0.9zM105.1 157.1h0.9v0.9h-0.9zM104.2 145.3h0.9v0.9h-0.9zM105.0 155.8h0.9v0.9h-0.9zM108.4 155.7h0.9v0.9h-0.9zM104.1 149.7h0.9v0.9h-0.9zM107.2 157.2h0.9v0.9h-0.9zM108.8 151.4h0.9v0.9h-0.9zM107.4 142.2h0.9v0.9h-0.9zM108.7 147.2h0.9v0.9h-0.9zM104.2 145.7h0.9v0.9h-0.9zM107.4 142.8h0.9v0.9h-0.9zM104.3 144.9h0.9v0.9h-0.9zM105.6 142.3h0.9v0.9h-0.9zM104.8 144.6h0.9v0.9h-0.9zM104.0 147.8h0.9v0.9h-0.9zM105.7 157.0h0.9v0.9h-0.9zM105.3 157.3h0.9v0.9h-0.9zM104.5 154.6h0.9v0.9h-0.9zM106.5 141.6h0.9v0.9h-0.9z" fill="rgb(74, 143, 223)" fill-opacity="0.65"/>
<path d="M77.9 160.7h0.9v0.9h-0.9zM77.9 160.7h0.9v0.9h-0.9zM87.8 160.7h0.9v0.9h-0.9zM78.4 161.9h0.9v0.9h-0.9zM81.2 164.4h0.9v0.9h-0.9zM86.3 156.8h0.9v0.9h-0.9zM87.3 157.5h0.9v0.9h-0.9zM87.1 157.1h0.9v0.9h-0.9zM81.0 155.2h0.9v0.9h-0.9zM87.3 161.4h0.9v0.9h-0.9zM84.5 155.4h0.9v0.9h-0.9zM79.4 163.3h0.9v0.9h-0.9zM80.1 164.1h0.9v0.9h-0.9zM78.2 162.0h0.9v0.9h-0.9zM77.7 160.5h0.9v0.9h-0.9zM79.5 163.3h0.9v0.9h-0.9zM82.5 164.4h0.9v0.9h-0.9zM81.6 155.3h0.9v0.9h-0.9zM84.6 155.4h0.9v0.9h-0.9zM79.2 163.3h0.9v0.9h-0.9zM87.8 160.3h0.9v0.9h-0.9zM85.7 163.5h0.9v0.9h-0.9zM86.4 163.1h0.9v0.9h-0.9zM86.8 162.2h0.9v0.9h-0.9zM85.5 155.6h0.9v0.9h-0.9zM78.1 160.9h0.9v0.9h-0.9zM79.0 163.0h0.9v0.9h-0.9zM83.2 155.0h0.9v0.9h-0.9zM79.0 162.7h0.9v0.9h-0.9zM85.7 163.5h0.9v0.9h-0.9zM79.5 163.6h0.9v0.9h-0.9zM78.7 162.5h0.9v0.9h-0.9zM77.8 161.7h0.9v0.9h-0.9zM79.2 156.2h0.9v0.9h-0.9zM85.5 155.8h0.9v0.9h-0.9zM77.9 159.9h0.9v0.9h-0.9zM77.8 161.7h0.9v0.9h-0.9zM86.8 157.0h0.9v0.9h-0.9zM78.0 159.4h0.9v0.9h-0.9zM86.5 162.7h0.9v0.9h-0.9zM85.3 155.8h0.9v0.9h-0.9zM85.9 155.9h0.9v0.9h-0.9zM82.4 164.3h0.9v0.9h-0.9zM85.8 163.4h0.9v0.9h-0.9z" fill="rgb(74, 143, 223)" fill-opacity="0.75"/>
<path d="M105.0 144.8h0.9v0.9h-0.9zM106.7 155.6h0.9v0.9h-0.9zM107.7 145.7h0.9v0.9h-0.9zM106.0 156.6h0.9v0.9h-0.9zM108.3 146.6h0.9v0.9h-0.9zM104.7 153.9h0.9v0.9h-0.9zM105.7 143.8h0.9v0.9h-0.9zM105.5 144.1h0.9v0.9h-0.9zM107.4 154.7h0.9v0.9h-0.9zM108.2 154.2h0.9v0.9h-0.9zM104.9 155.0h0.9v0.9h-0.9zM106.0 144.1h0.9v0.9h-0.9zM105.9 143.9h0.9v0.9h-0.9zM107.2 143.5h0.9v0.9h-0.9zM106.1 155.8h0.9v0.9h-0.9zM105.7 155.3h0.9v0.9h-0.9zM108.3 152.0h0.9v0.9h-0.9zM107.5 145.5h0.9v0.9h-0.9zM108.4 152.1h0.9v0.9h-0.9zM104.5 147.4h0.9v0.9h-0.9zM104.6 146.8h0.9v0.9h-0.9zM108.2 146.5h0.9v0.9h-0.9zM105.8 156.7h0.9v0.9h-0.9zM107.5 154.8h0.9v0.9h-0.9zM104.4 149.3h0.9v0.9h-0.9zM107.3 143.7h0.9v0.9h-0.9zM107.8 145.4h0.9v0.9h-0.9zM104.9 145.8h0.9v0.9h-0.9zM108.0 153.1h0.9v0.9h-0.9zM107.2 155.5h0.9v0.9h-0.9zM108.6 148.1h0.9v0.9h-0.9zM106.4 157.0h0.9v0.9h-0.9zM105.2 145.3h0.9v0.9h-0.9zM106.6 143.8h0.9v0.9h-0.9zM107.0 143.3h0.9v0.9h-0.9zM107.2 156.0h0.9v0.9h-0.9zM107.8 153.7h0.9v0.9h-0.9zM108.2 148.7h0.9v0.9h-0.9zM106.4 144.0h0.9v0.9h-0.9z" fill="rgb(70, 160, 215)" fill-opacity="0.65"/>
<path d="M81.3 163.7h0.9v0.9h-0.9zM78.2 160.0h0.9v0.9h-0.9zM78.3 159.5h0.9v0.9h-0.9zM79.8 162.8h0.9v0.9h-0.9zM87.0 159.3h0.9v0.9h-0.9zM83.8 155.9h0.9v0.9h-0.9zM86.2 156.9h0.9v0.9h-0.9zM78.9 162.3h0.9v0.9h-0.9zM85.6 156.7h0.9v0.9h-0.9zM84.6 156.1h0.9v0.9h-0.9zM84.9 163.4h0.9v0.9h-0.9zM85.0 156.0h0.9v0.9h-0.9zM79.2 157.1h0.9v0.9h-0.9zM86.4 157.6h0.9v0.9h-0.9zM87.3 159.9h0.9v0.9h-0.9zM78.4 161.2h0.9v0.9h-0.9zM87.0 158.6h0.9v0.9h-0.9zM78.0 159.4h0.9v0.9h-0.9zM78.6 157.8h0.9v0.9h-0.9zM78.2 160.0h0.9v0.9h-0.9zM85.2 156.1h0.9v0.9h-0.9zM87.0 161.2h0.9v0.9h-0.9zM78.6 161.5h0.9v0.9h-0.9zM87.1 158.6h0.9v0.9h-0.9zM82.2 163.8h0.9v0.9h-0.9zM79.5 157.2h0.9v0.9h-0.9zM83.5 164.0h0.9v0.9h-0.9zM78.6 158.3h0.9v0.9h-0.9zM84.7 155.9h0.9v0.9h-0.9zM83.0 155.7h0.9v0.9h-0.9zM78.6 158.1h0.9v0.9h-0.9zM78.1 159.3h0.9v0.9h-0.9zM80.6 155.9h0.9v0.9h-0.9zM87.0 158.9h0.9v0.9h-0.9zM78.2 159.5h0.9v0.9h-0.9zM79.8 163.0h0.9v0.9h-0.9zM78.6 161.7h0.9v0.9h-0.9zM79.3 157.5h0.9v0.9h-0.9zM80.8 163.4h0.9v0.9h-0.9z" fill="rgb(70, 160, 215)" fill-opacity="0.75"/>
<path d="M107.7 150.7h0.9v0.9h-0.9zM105.0 148.4h0.9v0.9h-0.9zM107.3 153.8h0.9v0.9h-0.9zM106.7 144.5h0.9v0.9h-0.9zM106.6 155.0h0.9v0.9h-0.9zM107.4 146.4h0.9v0.9h-0.9zM107.6 152.6h0.9v0.9h-0.9zM104.7 149.8h0.9v0.9h-0.9zM106.2 154.6h0.9v0.9h-0.9zM105.3 152.2h0.9v0.9h-0.9zM105.1 153.9h0.9v0.9h-0.9zM106.6 154.1h0.9v0.9h-0.9zM107.1 144.9h0.9v0.9h-0.9zM106.5 145.7h0.9v0.9h-0.9zM104.6 149.3h0.9v0.9h-0.9zM107.8 151.7h0.9v0.9h-0.9zM105.6 155.0h0.9v0.9h-0.9zM107.8 147.8h0.9v0.9h-0.9zM107.6 153.6h0.9v0.9h-0.9zM107.3 147.0h0.9v0.9h-0.9zM106.9 145.2h0.9v0.9h-0.9zM105.2 147.3h0.9v0.9h-0.9zM105.9 155.0h0.9v0.9h-0.9zM107.1 146.4h0.9v0.9h-0.9zM107.8 147.5h0.9v0.9h-0.9zM105.9 146.0h0.9v0.9h-0.9zM105.9 155.3h0.9v0.9h-0.9zM105.1 148.4h0.9v0.9h-0.9zM107.1 146.4h0.9v0.9h-0.9zM107.5 152.2h0.9v0.9h-0.9zM107.4 145.6h0.9v0.9h-0.9zM105.7 146.2h0.9v0.9h-0.9zM104.9 147.4h0.9v0.9h-0.9zM105.8 146.1h0.9v0.9h-0.9zM105.7 153.4h0.9v0.9h-0.9zM106.9 155.0h0.9v0.9h-0.9zM105.6 153.6h0.9v0.9h-0.9zM106.4 146.0h0.9v0.9h-0.9zM106.6 155.0h0.9v0.9h-0.9zM104.7 151.4h0.9v0.9h-0.9zM105.5 154.5h0.9v0.9h-0.9zM108.0 149.7h0.9v0.9h-0.9zM107.1 146.1h0.9v0.9h-0.9zM105.8 153.6h0.9v0.9h-0.9zM106.2 154.4h0.9v0.9h-0.9zM107.4 146.9h0.9v0.9h-0.9zM106.3 145.4h0.9v0.9h-0.9zM107.9 148.3h0.9v0.9h-0.9zM105.9 154.0h0.9v0.9h-0.9z" fill="rgb(75, 173, 145)" fill-opacity="0.65"/>
<path d="M79.9 162.5h0.9v0.9h-0.9zM83.7 163.5h0.9v0.9h-0.9zM84.5 156.6h0.9v0.9h-0.9zM80.6 156.3h0.9v0.9h-0.9zM81.4 163.4h0.9v0.9h-0.9zM81.0 163.3h0.9v0.9h-0.9zM86.3 157.9h0.9v0.9h-0.9zM86.4 160.1h0.9v0.9h-0.9zM80.0 157.1h0.9v0.9h-0.9zM83.4 156.1h0.9v0.9h-0.9zM79.6 157.7h0.9v0.9h-0.9zM80.9 156.7h0.9v0.9h-0.9zM85.3 162.8h0.9v0.9h-0.9zM82.3 163.5h0.9v0.9h-0.9zM84.3 163.3h0.9v0.9h-0.9zM82.3 156.1h0.9v0.9h-0.9zM79.7 162.2h0.9v0.9h-0.9zM82.7 163.6h0.9v0.9h-0.9zM78.7 159.3h0.9v0.9h-0.9zM81.6 163.3h0.9v0.9h-0.9zM85.5 157.0h0.9v0.9h-0.9zM86.2 161.2h0.9v0.9h-0.9zM79.1 158.2h0.9v0.9h-0.9zM79.8 157.6h0.9v0.9h-0.9zM78.7 161.0h0.9v0.9h-0.9zM78.6 159.8h0.9v0.9h-0.9zM81.2 156.5h0.9v0.9h-0.9zM85.7 157.4h0.9v0.9h-0.9zM79.2 158.1h0.9v0.9h-0.9zM79.1 160.9h0.9v0.9h-0.9zM82.9 163.4h0.9v0.9h-0.9zM79.0 159.1h0.9v0.9h-0.9zM81.9 163.4h0.9v0.9h-0.9zM81.5 163.1h0.9v0.9h-0.9zM81.4 156.4h0.9v0.9h-0.9zM86.5 158.5h0.9v0.9h-0.9zM79.8 157.0h0.9v0.9h-0.9zM78.6 159.4h0.9v0.9h-0.9z" fill="rgb(75, 173, 145)" fill-opacity="0.75"/>
<path d="M106.7 151.6h0.9v0.9h-0.9zM106.2 151.6h0.9v0.9h-0.9zM106.0 147.0h0.9v0.9h-0.9zM107.0 149.8h0.9v0.9h-0.9zM106.2 148.1h0.9v0.9h-0.9zM105.4 151.5h0.9v0.9h-0.9zM105.2 150.0h0.9v0.9h-0.9zM106.3 152.8h0.9v0.9h-0.9zM106.8 153.5h0.9v0.9h-0.9zM107.0 148.7h0.9v0.9h-0.9zM106.9 148.4h0.9v0.9h-0.9zM106.9 146.5h0.9v0.9h-0.9zM105.4 150.9h0.9v0.9h-0.9zM106.1 151.0h0.9v0.9h-0.9zM106.9 147.2h0.9v0.9h-0.9zM105.9 151.6h0.9v0.9h-0.9zM106.0 152.5h0.9v0.9h-0.9zM105.8 151.3h0.9v0.9h-0.9zM107.2 151.9h0.9v0.9h-0.9zM106.6 152.3h0.9v0.9h-0.9zM105.9 148.2h0.9v0.9h-0.9zM107.0 147.8h0.9v0.9h-0.9zM107.3 152.0h0.9v0.9h-0.9zM105.9 151.2h0.9v0.9h-0.9zM105.9 146.7h0.9v0.9h-0.9zM107.0 146.6h0.9v0.9h-0.9zM107.4 148.6h0.9v0.9h-0.9zM106.9 149.1h0.9v0.9h-0.9zM106.0 148.0h0.9v0.9h-0.9zM106.1 152.7h0.9v0.9h-0.9zM105.4 148.8h0.9v0.9h-0.9zM107.0 152.7h0.9v0.9h-0.9zM107.3 147.4h0.9v0.9h-0.9zM106.8 153.7h0.9v0.9h-0.9zM107.2 148.0h0.9v0.9h-0.9zM106.2 147.4h0.9v0.9h-0.9zM107.1 149.8h0.9v0.9h-0.9zM105.5 151.8h0.9v0.9h-0.9zM107.5 148.8h0.9v0.9h-0.9zM105.5 151.8h0.9v0.9h-0.9zM107.6 150.4h0.9v0.9h-0.9zM106.4 148.0h0.9v0.9h-0.9zM105.7 148.9h0.9v0.9h-0.9zM106.1 152.3h0.9v0.9h-0.9z" fill="rgb(96, 188, 84)" fill-opacity="0.65"/>
<path d="M79.6 160.4h0.9v0.9h-0.9zM84.5 156.9h0.9v0.9h-0.9zM80.8 156.9h0.9v0.9h-0.9zM84.2 157.1h0.9v0.9h-0.9zM81.1 162.5h0.9v0.9h-0.9zM85.8 160.7h0.9v0.9h-0.9zM80.7 156.9h0.9v0.9h-0.9zM79.8 158.6h0.9v0.9h-0.9zM80.1 158.0h0.9v0.9h-0.9zM86.4 159.7h0.9v0.9h-0.9zM79.8 157.9h0.9v0.9h-0.9zM82.6 163.2h0.9v0.9h-0.9zM81.3 157.1h0.9v0.9h-0.9zM85.4 161.8h0.9v0.9h-0.9zM79.4 160.8h0.9v0.9h-0.9zM84.5 157.1h0.9v0.9h-0.9zM82.2 156.8h0.9v0.9h-0.9zM83.9 156.7h0.9v0.9h-0.9zM84.0 156.8h0.9v0.9h-0.9zM83.3 156.6h0.9v0.9h-0.9zM82.9 163.0h0.9v0.9h-0.9zM80.3 157.3h0.9v0.9h-0.9zM86.2 160.1h0.9v0.9h-0.9zM84.6 162.5h0.9v0.9h-0.9zM82.2 156.8h0.9v0.9h-0.9zM80.2 161.9h0.9v0.9h-0.9zM84.0 162.6h0.9v0.9h-0.9zM85.6 158.3h0.9v0.9h-0.9zM85.7 161.8h0.9v0.9h-0.9zM86.2 159.7h0.9v0.9h-0.9zM84.3 162.6h0.9v0.9h-0.9zM85.9 159.9h0.9v0.9h-0.9zM83.1 156.6h0.9v0.9h-0.9zM81.9 156.5h0.9v0.9h-0.9zM79.6 158.2h0.9v0.9h-0.9zM84.0 157.0h0.9v0.9h-0.9zM80.9 157.0h0.9v0.9h-0.9zM79.7 158.5h0.9v0.9h-0.9zM80.9 156.9h0.9v0.9h-0.9zM84.7 157.0h0.9v0.9h-0.9zM85.9 160.6h0.9v0.9h-0.9zM86.0 161.0h0.9v0.9h-0.9zM86.0 158.5h0.9v0.9h-0.9z" fill="rgb(96, 188, 84)" fill-opacity="0.75"/>
<path d="M106.2 150.8h0.9v0.9h-0.9zM106.6 150.0h0.9v0.9h-0.9zM106.7 149.5h0.9v0.9h-0.9zM106.3 150.0h0.9v0.9h-0.9z" fill="rgb(176, 205, 56)" fill-opacity="0.65"/>
<path d="M80.7 161.4h0.9v0.9h-0.9zM84.5 157.5h0.9v0.9h-0.9zM80.6 161.7h0.9v0.9h-0.9zM82.1 162.4h0.9v0.9h-0.9zM81.1 157.5h0.9v0.9h-0.9zM79.9 158.8h0.9v0.9h-0.9zM79.7 159.7h0.9v0.9h-0.9zM81.6 157.5h0.9v0.9h-0.9zM80.0 158.7h0.9v0.9h-0.9zM81.1 157.8h0.9v0.9h-0.9zM82.2 157.2h0.9v0.9h-0.9zM83.8 157.1h0.9v0.9h-0.9zM85.7 159.8h0.9v0.9h-0.9zM80.0 158.5h0.9v0.9h-0.9zM85.2 158.7h0.9v0.9h-0.9zM83.1 157.2h0.9v0.9h-0.9zM80.0 158.7h0.9v0.9h-0.9zM84.4 162.2h0.9v0.9h-0.9zM81.4 157.6h0.9v0.9h-0.9zM79.6 160.2h0.9v0.9h-0.9zM85.3 161.5h0.9v0.9h-0.9zM85.0 158.5h0.9v0.9h-0.9zM84.8 157.8h0.9v0.9h-0.9zM85.3 159.3h0.9v0.9h-0.9zM80.8 157.6h0.9v0.9h-0.9zM81.4 157.2h0.9v0.9h-0.9zM80.6 157.9h0.9v0.9h-0.9zM85.7 158.9h0.9v0.9h-0.9zM82.0 162.4h0.9v0.9h-0.9zM81.6 162.3h0.9v0.9h-0.9zM84.5 157.8h0.9v0.9h-0.9zM84.8 161.4h0.9v0.9h-0.9zM84.4 162.3h0.9v0.9h-0.9zM84.2 162.3h0.9v0.9h-0.9zM82.2 157.3h0.9v0.9h-0.9zM85.8 159.3h0.9v0.9h-0.9zM81.0 162.0h0.9v0.9h-0.9zM83.8 162.5h0.9v0.9h-0.9zM85.2 161.4h0.9v0.9h-0.9zM80.0 159.7h0.9v0.9h-0.9zM81.9 157.1h0.9v0.9h-0.9zM80.8 161.8h0.9v0.9h-0.9zM80.7 158.2h0.9v0.9h-0.9zM81.7 162.2h0.9v0.9h-0.9zM84.8 161.9h0.9v0.9h-0.9zM81.8 157.2h0.9v0.9h-0.9zM82.1 157.1h0.9v0.9h-0.9zM85.4 160.6h0.9v0.9h-0.9zM79.9 159.1h0.9v0.9h-0.9zM82.9 162.5h0.9v0.9h-0.9zM85.1 161.8h0.9v0.9h-0.9zM85.6 160.9h0.9v0.9h-0.9z" fill="rgb(176, 205, 56)" fill-opacity="0.75"/>
<path d="M80.8 159.2h0.9v0.9h-0.9zM80.5 160.8h0.9v0.9h-0.9zM84.4 161.0h0.9v0.9h-0.9zM81.5 161.5h0.9v0.9h-0.9zM82.9 161.8h0.9v0.9h-0.9zM80.6 160.2h0.9v0.9h-0.9zM85.2 159.9h0.9v0.9h-0.9zM82.4 157.5h0.9v0.9h-0.9zM80.2 160.3h0.9v0.9h-0.9zM83.6 162.0h0.9v0.9h-0.9zM83.2 157.8h0.9v0.9h-0.9zM83.4 162.0h0.9v0.9h-0.9zM80.6 160.5h0.9v0.9h-0.9zM84.7 160.5h0.9v0.9h-0.9zM80.4 160.1h0.9v0.9h-0.9zM82.9 161.8h0.9v0.9h-0.9zM82.2 157.5h0.9v0.9h-0.9zM81.2 158.4h0.9v0.9h-0.9zM82.6 162.2h0.9v0.9h-0.9zM80.8 158.9h0.9v0.9h-0.9zM82.1 157.5h0.9v0.9h-0.9zM82.3 162.2h0.9v0.9h-0.9zM81.2 161.4h0.9v0.9h-0.9zM81.9 157.5h0.9v0.9h-0.9zM81.0 160.9h0.9v0.9h-0.9zM82.7 157.6h0.9v0.9h-0.9zM84.8 160.1h0.9v0.9h-0.9zM80.6 159.4h0.9v0.9h-0.9zM84.1 161.1h0.9v0.9h-0.9zM84.4 158.8h0.9v0.9h-0.9zM85.2 159.2h0.9v0.9h-0.9zM83.6 161.9h0.9v0.9h-0.9zM81.5 157.7h0.9v0.9h-0.9zM84.3 161.3h0.9v0.9h-0.9zM84.6 161.1h0.9v0.9h-0.9zM82.8 162.0h0.9v0.9h-0.9zM81.2 161.6h0.9v0.9h-0.9zM83.7 158.2h0.9v0.9h-0.9zM83.5 157.8h0.9v0.9h-0.9zM80.8 160.4h0.9v0.9h-0.9zM81.0 158.1h0.9v0.9h-0.9zM84.0 161.8h0.9v0.9h-0.9zM81.2 158.1h0.9v0.9h-0.9zM84.5 159.0h0.9v0.9h-0.9zM80.5 161.1h0.9v0.9h-0.9zM81.9 161.6h0.9v0.9h-0.9zM81.0 161.7h0.9v0.9h-0.9z" fill="rgb(229, 188, 37)" fill-opacity="0.75"/>
<path d="M81.4 159.9h0.9v0.9h-0.9zM84.2 159.5h0.9v0.9h-0.9zM82.8 158.1h0.9v0.9h-0.9zM84.6 160.2h0.9v0.9h-0.9zM81.2 160.7h0.9v0.9h-0.9zM82.5 158.3h0.9v0.9h-0.9zM83.3 158.5h0.9v0.9h-0.9zM81.4 159.9h0.9v0.9h-0.9zM81.8 161.0h0.9v0.9h-0.9zM83.4 160.7h0.9v0.9h-0.9zM83.8 160.4h0.9v0.9h-0.9zM83.9 159.1h0.9v0.9h-0.9zM83.3 158.8h0.9v0.9h-0.9zM82.6 161.7h0.9v0.9h-0.9zM82.9 161.0h0.9v0.9h-0.9zM83.7 159.0h0.9v0.9h-0.9zM84.1 160.5h0.9v0.9h-0.9zM83.1 161.1h0.9v0.9h-0.9zM82.5 158.6h0.9v0.9h-0.9zM83.4 161.3h0.9v0.9h-0.9zM84.4 160.1h0.9v0.9h-0.9zM82.2 158.2h0.9v0.9h-0.9zM84.6 160.3h0.9v0.9h-0.9zM82.3 161.6h0.9v0.9h-0.9zM81.3 159.5h0.9v0.9h-0.9zM83.5 160.9h0.9v0.9h-0.9zM81.3 159.0h0.9v0.9h-0.9zM83.9 159.9h0.9v0.9h-0.9zM80.9 159.7h0.9v0.9h-0.9zM82.0 159.0h0.9v0.9h-0.9zM82.8 158.1h0.9v0.9h-0.9zM82.7 160.9h0.9v0.9h-0.9zM81.0 159.1h0.9v0.9h-0.9zM81.6 160.6h0.9v0.9h-0.9zM84.1 158.5h0.9v0.9h-0.9zM81.5 160.8h0.9v0.9h-0.9zM82.3 161.1h0.9v0.9h-0.9zM82.4 160.8h0.9v0.9h-0.9zM82.7 158.3h0.9v0.9h-0.9zM82.4 161.3h0.9v0.9h-0.9zM82.8 158.7h0.9v0.9h-0.9zM80.9 160.4h0.9v0.9h-0.9z" fill="rgb(239, 122, 30)" fill-opacity="0.75"/>
<path d="M82.3 159.3h0.9v0.9h-0.9zM83.5 159.2h0.9v0.9h-0.9zM83.1 160.7h0.9v0.9h-0.9zM83.1 160.3h0.9v0.9h-0.9zM83.2 160.3h0.9v0.9h-0.9zM82.6 159.3h0.9v0.9h-0.9zM81.9 159.7h0.9v0.9h-0.9zM82.7 160.8h0.9v0.9h-0.9zM82.9 160.8h0.9v0.9h-0.9zM82.4 159.3h0.9v0.9h-0.9zM83.4 159.7h0.9v0.9h-0.9zM82.9 160.0h0.9v0.9h-0.9zM82.0 159.8h0.9v0.9h-0.9zM81.9 159.6h0.9v0.9h-0.9zM83.5 159.2h0.9v0.9h-0.9zM82.9 159.6h0.9v0.9h-0.9zM83.3 160.0h0.9v0.9h-0.9zM82.8 160.8h0.9v0.9h-0.9zM83.8 160.1h0.9v0.9h-0.9zM82.6 159.9h0.9v0.9h-0.9z" fill="rgb(230, 40, 30)" fill-opacity="0.75"/>
<line x1="67.20" y1="171.30" x2="67.20" y2="173.90" stroke="#111" stroke-width="0.5"/>
<line x1="70.68" y1="171.30" x2="70.68" y2="172.30" stroke="#111" stroke-width="0.5"/>
<line x1="72.72" y1="171.30" x2="72.72" y2="172.30" stroke="#111" stroke-width="0.5"/>
<line x1="74.16" y1="171.30" x2="74.16" y2="172.30" stroke="#111" stroke-width="0.5"/>
<line x1="75.28" y1="171.30" x2="75.28" y2="172.30" stroke="#111" stroke-width="0.5"/>
<line x1="76.20" y1="171.30" x2="76.20" y2="172.30" stroke="#111" stroke-width="0.5"/>
<line x1="76.97" y1="171.30" x2="76.97" y2="172.30" stroke="#111" stroke-width="0.5"/>
<line x1="77.64" y1="171.30" x2="77.64" y2="172.30" stroke="#111" stroke-width="0.5"/>
<line x1="78.23" y1="171.30" x2="78.23" y2="172.30" stroke="#111" stroke-width="0.5"/>
<line x1="78.76" y1="171.30" x2="78.76" y2="173.90" stroke="#111" stroke-width="0.5"/>
<line x1="82.24" y1="171.30" x2="82.24" y2="172.30" stroke="#111" stroke-width="0.5"/>
<line x1="84.28" y1="171.30" x2="84.28" y2="172.30" stroke="#111" stroke-width="0.5"/>
<line x1="85.72" y1="171.30" x2="85.72" y2="172.30" stroke="#111" stroke-width="0.5"/>
<line x1="86.84" y1="171.30" x2="86.84" y2="172.30" stroke="#111" stroke-width="0.5"/>
<line x1="87.76" y1="171.30" x2="87.76" y2="172.30" stroke="#111" stroke-width="0.5"/>
<line x1="88.53" y1="171.30" x2="88.53" y2="172.30" stroke="#111" stroke-width="0.5"/>
<line x1="89.20" y1="171.30" x2="89.20" y2="172.30" stroke="#111" stroke-width="0.5"/>
<line x1="89.79" y1="171.30" x2="89.79" y2="172.30" stroke="#111" stroke-width="0.5"/>
<line x1="90.32" y1="171.30" x2="90.32" y2="173.90" stroke="#111" stroke-width="0.5"/>
<line x1="93.80" y1="171.30" x2="93.80" y2="172.30" stroke="#111" stroke-width="0.5"/>
<line x1="95.84" y1="171.30" x2="95.84" y2="172.30" stroke="#111" stroke-width="0.5"/>
<line x1="97.28" y1="171.30" x2="97.28" y2="172.30" stroke="#111" stroke-width="0.5"/>
<line x1="98.40" y1="171.30" x2="98.40" y2="172.30" stroke="#111" stroke-width="0.5"/>
<line x1="99.32" y1="171.30" x2="99.32" y2="172.30" stroke="#111" stroke-width="0.5"/>
<line x1="100.09" y1="171.30" x2="100.09" y2="172.30" stroke="#111" stroke-width="0.5"/>
<line x1="100.76" y1="171.30" x2="100.76" y2="172.30" stroke="#111" stroke-width="0.5"/>
<line x1="101.35" y1="171.30" x2="101.35" y2="172.30" stroke="#111" stroke-width="0.5"/>
<line x1="101.88" y1="171.30" x2="101.88" y2="173.90" stroke="#111" stroke-width="0.5"/>
<line x1="105.36" y1="171.30" x2="105.36" y2="172.30" stroke="#111" stroke-width="0.5"/>
<line x1="107.40" y1="171.30" x2="107.40" y2="172.30" stroke="#111" stroke-width="0.5"/>
<line x1="108.84" y1="171.30" x2="108.84" y2="172.30" stroke="#111" stroke-width="0.5"/>
<line x1="109.96" y1="171.30" x2="109.96" y2="172.30" stroke="#111" stroke-width="0.5"/>
<line x1="110.88" y1="171.30" x2="110.88" y2="172.30" stroke="#111" stroke-width="0.5"/>
<line x1="111.65" y1="171.30" x2="111.65" y2="172.30" stroke="#111" stroke-width="0.5"/>
<line x1="112.32" y1="171.30" x2="112.32" y2="172.30" stroke="#111" stroke-width="0.5"/>
<line x1="112.91" y1="171.30" x2="112.91" y2="172.30" stroke="#111" stroke-width="0.5"/>
<line x1="113.44" y1="171.30" x2="113.44" y2="173.90" stroke="#111" stroke-width="0.5"/>
<line x1="116.92" y1="171.30" x2="116.92" y2="172.30" stroke="#111" stroke-width="0.5"/>
<line x1="118.96" y1="171.30" x2="118.96" y2="172.30" stroke="#111" stroke-width="0.5"/>
<line x1="120.40" y1="171.30" x2="120.40" y2="172.30" stroke="#111" stroke-width="0.5"/>
<line x1="121.52" y1="171.30" x2="121.52" y2="172.30" stroke="#111" stroke-width="0.5"/>
<line x1="122.44" y1="171.30" x2="122.44" y2="172.30" stroke="#111" stroke-width="0.5"/>
<line x1="123.21" y1="171.30" x2="123.21" y2="172.30" stroke="#111" stroke-width="0.5"/>
<line x1="123.88" y1="171.30" x2="123.88" y2="172.30" stroke="#111" stroke-width="0.5"/>
<line x1="124.47" y1="171.30" x2="124.47" y2="172.30" stroke="#111" stroke-width="0.5"/>
<line x1="125.00" y1="171.30" x2="125.00" y2="173.90" stroke="#111" stroke-width="0.5"/>
<line x1="64.40" y1="171.30" x2="67.20" y2="171.30" stroke="#111" stroke-width="0.5"/>
<line x1="66.20" y1="166.94" x2="67.20" y2="166.94" stroke="#111" stroke-width="0.5"/>
<line x1="66.20" y1="164.38" x2="67.20" y2="164.38" stroke="#111" stroke-width="0.5"/>
<line x1="66.20" y1="162.57" x2="67.20" y2="162.57" stroke="#111" stroke-width="0.5"/>
<line x1="66.20" y1="161.16" x2="67.20" y2="161.16" stroke="#111" stroke-width="0.5"/>
<line x1="66.20" y1="160.02" x2="67.20" y2="160.02" stroke="#111" stroke-width="0.5"/>
<line x1="66.20" y1="159.05" x2="67.20" y2="159.05" stroke="#111" stroke-width="0.5"/>
<line x1="66.20" y1="158.21" x2="67.20" y2="158.21" stroke="#111" stroke-width="0.5"/>
<line x1="66.20" y1="157.46" x2="67.20" y2="157.46" stroke="#111" stroke-width="0.5"/>
<line x1="64.40" y1="156.80" x2="67.20" y2="156.80" stroke="#111" stroke-width="0.5"/>
<line x1="66.20" y1="152.44" x2="67.20" y2="152.44" stroke="#111" stroke-width="0.5"/>
<line x1="66.20" y1="149.88" x2="67.20" y2="149.88" stroke="#111" stroke-width="0.5"/>
<line x1="66.20" y1="148.07" x2="67.20" y2="148.07" stroke="#111" stroke-width="0.5"/>
<line x1="66.20" y1="146.66" x2="67.20" y2="146.66" stroke="#111" stroke-width="0.5"/>
<line x1="66.20" y1="145.52" x2="67.20" y2="145.52" stroke="#111" stroke-width="0.5"/>
<line x1="66.20" y1="144.55" x2="67.20" y2="144.55" stroke="#111" stroke-width="0.5"/>
<line x1="66.20" y1="143.71" x2="67.20" y2="143.71" stroke="#111" stroke-width="0.5"/>
<line x1="66.20" y1="142.96" x2="67.20" y2="142.96" stroke="#111" stroke-width="0.5"/>
<line x1="64.40" y1="142.30" x2="67.20" y2="142.30" stroke="#111" stroke-width="0.5"/>
<line x1="66.20" y1="137.94" x2="67.20" y2="137.94" stroke="#111" stroke-width="0.5"/>
<line x1="66.20" y1="135.38" x2="67.20" y2="135.38" stroke="#111" stroke-width="0.5"/>
<line x1="66.20" y1="133.57" x2="67.20" y2="133.57" stroke="#111" stroke-width="0.5"/>
<line x1="66.20" y1="132.16" x2="67.20" y2="132.16" stroke="#111" stroke-width="0.5"/>
<line x1="66.20" y1="131.02" x2="67.20" y2="131.02" stroke="#111" stroke-width="0.5"/>
<line x1="66.20" y1="130.05" x2="67.20" y2="130.05" stroke="#111" stroke-width="0.5"/>
<line x1="66.20" y1="129.21" x2="67.20" y2="129.21" stroke="#111" stroke-width="0.5"/>
<line x1="66.20" y1="128.46" x2="67.20" y2="128.46" stroke="#111" stroke-width="0.5"/>
<line x1="64.40" y1="127.80" x2="67.20" y2="127.80" stroke="#111" stroke-width="0.5"/>
<line x1="66.20" y1="123.44" x2="67.20" y2="123.44" stroke="#111" stroke-width="0.5"/>
<line x1="66.20" y1="120.88" x2="67.20" y2="120.88" stroke="#111" stroke-width="0.5"/>
<line x1="66.20" y1="119.07" x2="67.20" y2="119.07" stroke="#111" stroke-width="0.5"/>
<line x1="66.20" y1="117.66" x2="67.20" y2="117.66" stroke="#111" stroke-width="0.5"/>
<line x1="66.20" y1="116.52" x2="67.20" y2="116.52" stroke="#111" stroke-width="0.5"/>
<line x1="66.20" y1="115.55" x2="67.20" y2="115.55" stroke="#111" stroke-width="0.5"/>
<line x1="66.20" y1="114.71" x2="67.20" y2="114.71" stroke="#111" stroke-width="0.5"/>
<line x1="66.20" y1="113.96" x2="67.20" y2="113.96" stroke="#111" stroke-width="0.5"/>
<line x1="64.40" y1="113.30" x2="67.20" y2="113.30" stroke="#111" stroke-width="0.5"/>
<rect x="67.20" y="113.30" width="57.80" height="58.00" fill="none" stroke="#111" stroke-width="1.3"/>
<rect x="101.20" y="136.00" width="10.10" height="28.80" rx="1" fill="none" stroke="#6a6a6a" stroke-width="0.7"/>
<line x1="101.70" y1="152.70" x2="110.80" y2="152.70" stroke="#222" stroke-width="0.8"/>
<text x="100.40" y="148.00" font-size="4.9" text-anchor="end" fill="#111" stroke="#111" stroke-width="0.15" font-weight="bold" font-family="Liberation Serif" textLength="12.4" lengthAdjust="spacingAndGlyphs">20,0%</text>
<text x="100.40" y="160.70" font-size="4.9" text-anchor="end" fill="#111" stroke="#111" stroke-width="0.15" font-weight="bold" font-family="Liberation Serif" textLength="12.4" lengthAdjust="spacingAndGlyphs">8,70%</text>
<text x="61.60" y="204.50" font-size="5.9" text-anchor="end" fill="#1a1a1a" stroke="#1a1a1a" stroke-width="0.2">10<tspan font-size="3.66" dx="0.25" dy="-2.60" stroke-width="0.06">6</tspan></text>
<text x="61.60" y="218.90" font-size="5.9" text-anchor="end" fill="#1a1a1a" stroke="#1a1a1a" stroke-width="0.2">10<tspan font-size="3.66" dx="0.25" dy="-2.60" stroke-width="0.06">5</tspan></text>
<text x="61.60" y="233.30" font-size="5.9" text-anchor="end" fill="#1a1a1a" stroke="#1a1a1a" stroke-width="0.2">10<tspan font-size="3.66" dx="0.25" dy="-2.60" stroke-width="0.06">4</tspan></text>
<text x="61.60" y="247.70" font-size="5.9" text-anchor="end" fill="#1a1a1a" stroke="#1a1a1a" stroke-width="0.2">10<tspan font-size="3.66" dx="0.25" dy="-2.60" stroke-width="0.06">3</tspan></text>
<text x="61.60" y="262.10" font-size="5.9" text-anchor="end" fill="#1a1a1a" stroke="#1a1a1a" stroke-width="0.2">10<tspan font-size="3.66" dx="0.25" dy="-2.60" stroke-width="0.06">2</tspan></text>
<text x="67.20" y="273.30" font-size="6.2" text-anchor="middle" fill="#1a1a1a" stroke="#1a1a1a" stroke-width="0.2" textLength="7.6" lengthAdjust="spacingAndGlyphs">10<tspan font-size="3.84" dx="0.25" dy="-2.73" stroke-width="0.06">1</tspan></text>
<text x="78.46" y="273.30" font-size="6.2" text-anchor="middle" fill="#1a1a1a" stroke="#1a1a1a" stroke-width="0.2" textLength="7.6" lengthAdjust="spacingAndGlyphs">10<tspan font-size="3.84" dx="0.25" dy="-2.73" stroke-width="0.06">2</tspan></text>
<text x="89.72" y="273.30" font-size="6.2" text-anchor="middle" fill="#1a1a1a" stroke="#1a1a1a" stroke-width="0.2" textLength="7.6" lengthAdjust="spacingAndGlyphs">10<tspan font-size="3.84" dx="0.25" dy="-2.73" stroke-width="0.06">3</tspan></text>
<text x="100.98" y="273.30" font-size="6.2" text-anchor="middle" fill="#1a1a1a" stroke="#1a1a1a" stroke-width="0.2" textLength="7.6" lengthAdjust="spacingAndGlyphs">10<tspan font-size="3.84" dx="0.25" dy="-2.73" stroke-width="0.06">4</tspan></text>
<text x="112.24" y="273.30" font-size="6.2" text-anchor="middle" fill="#1a1a1a" stroke="#1a1a1a" stroke-width="0.2" textLength="7.6" lengthAdjust="spacingAndGlyphs">10<tspan font-size="3.84" dx="0.25" dy="-2.73" stroke-width="0.06">5</tspan></text>
<text x="123.50" y="273.30" font-size="6.2" text-anchor="middle" fill="#1a1a1a" stroke="#1a1a1a" stroke-width="0.2" textLength="7.6" lengthAdjust="spacingAndGlyphs">10<tspan font-size="3.84" dx="0.25" dy="-2.73" stroke-width="0.06">6</tspan></text>
<path d="M79.3 243.2h0.9v0.9h-0.9zM94.7 225.8h0.9v0.9h-0.9zM109.0 250.4h0.9v0.9h-0.9zM97.8 228.1h0.9v0.9h-0.9zM82.0 211.0h0.9v0.9h-0.9zM81.4 238.6h0.9v0.9h-0.9zM70.6 246.3h0.9v0.9h-0.9zM88.2 231.6h0.9v0.9h-0.9zM102.5 236.5h0.9v0.9h-0.9zM107.6 245.1h0.9v0.9h-0.9zM109.9 239.8h0.9v0.9h-0.9z" fill="rgb(95, 105, 230)" fill-opacity="0.3"/>
<path d="M105.6 221.0h0.9v0.9h-0.9zM113.4 233.8h0.9v0.9h-0.9zM113.6 230.2h0.9v0.9h-0.9zM109.5 217.8h0.9v0.9h-0.9zM104.3 256.8h0.9v0.9h-0.9zM114.4 239.7h0.9v0.9h-0.9zM114.8 236.5h0.9v0.9h-0.9zM112.3 253.1h0.9v0.9h-0.9zM101.4 231.8h0.9v0.9h-0.9zM102.0 229.5h0.9v0.9h-0.9zM113.1 228.5h0.9v0.9h-0.9zM105.3 213.5h0.9v0.9h-0.9zM113.1 230.7h0.9v0.9h-0.9z" fill="rgb(95, 105, 230)" fill-opacity="0.45"/>
<path d="M68.9 237.8h0.9v0.9h-0.9zM108.9 246.9h0.9v0.9h-0.9zM96.7 246.0h0.9v0.9h-0.9zM96.2 249.8h0.9v0.9h-0.9zM96.1 249.8h0.9v0.9h-0.9zM99.9 246.3h0.9v0.9h-0.9zM93.1 244.5h0.9v0.9h-0.9zM84.0 240.5h0.9v0.9h-0.9zM89.7 257.8h0.9v0.9h-0.9zM109.6 243.4h0.9v0.9h-0.9zM80.1 258.7h0.9v0.9h-0.9zM95.0 254.6h0.9v0.9h-0.9zM96.2 255.9h0.9v0.9h-0.9zM99.8 246.8h0.9v0.9h-0.9zM104.6 246.0h0.9v0.9h-0.9zM71.7 239.0h0.9v0.9h-0.9zM87.3 258.0h0.9v0.9h-0.9zM96.8 256.4h0.9v0.9h-0.9zM92.3 237.2h0.9v0.9h-0.9zM107.5 244.9h0.9v0.9h-0.9zM71.8 241.2h0.9v0.9h-0.9zM69.0 234.8h0.9v0.9h-0.9z" fill="rgb(95, 105, 230)" fill-opacity="0.5"/>
<path d="M113.3 238.3h0.9v0.9h-0.9zM101.2 227.9h0.9v0.9h-0.9zM104.2 218.9h0.9v0.9h-0.9zM113.2 257.1h0.9v0.9h-0.9zM99.9 243.0h0.9v0.9h-0.9zM99.9 249.9h0.9v0.9h-0.9zM113.9 229.8h0.9v0.9h-0.9zM112.5 250.6h0.9v0.9h-0.9zM113.5 241.7h0.9v0.9h-0.9zM102.4 250.5h0.9v0.9h-0.9zM113.2 249.1h0.9v0.9h-0.9zM113.1 248.3h0.9v0.9h-0.9zM102.1 246.4h0.9v0.9h-0.9zM113.7 238.2h0.9v0.9h-0.9z" fill="rgb(95, 105, 230)" fill-opacity="0.6"/>
<path d="M84.5 257.5h0.9v0.9h-0.9zM69.7 245.7h0.9v0.9h-0.9zM89.8 239.5h0.9v0.9h-0.9zM75.8 242.6h0.9v0.9h-0.9zM77.3 240.8h0.9v0.9h-0.9zM92.3 253.1h0.9v0.9h-0.9zM90.6 242.0h0.9v0.9h-0.9zM85.3 256.2h0.9v0.9h-0.9zM92.7 252.7h0.9v0.9h-0.9zM71.2 254.8h0.9v0.9h-0.9zM73.6 256.0h0.9v0.9h-0.9zM77.1 242.2h0.9v0.9h-0.9zM78.2 242.1h0.9v0.9h-0.9zM94.2 251.5h0.9v0.9h-0.9zM69.1 252.3h0.9v0.9h-0.9zM87.8 255.3h0.9v0.9h-0.9zM86.3 239.6h0.9v0.9h-0.9zM85.3 241.4h0.9v0.9h-0.9zM93.5 240.9h0.9v0.9h-0.9zM91.3 253.6h0.9v0.9h-0.9zM92.2 243.0h0.9v0.9h-0.9zM69.0 242.9h0.9v0.9h-0.9zM69.2 254.0h0.9v0.9h-0.9zM76.8 242.2h0.9v0.9h-0.9z" fill="rgb(95, 105, 230)" fill-opacity="0.75"/>
<path d="M99.3 243.4h0.9v0.9h-0.9z" fill="rgb(90, 109, 231)" fill-opacity="0.3"/>
<path d="M110.9 235.3h0.9v0.9h-0.9zM104.5 242.8h0.9v0.9h-0.9zM105.4 229.0h0.9v0.9h-0.9zM103.7 232.4h0.9v0.9h-0.9zM111.4 237.4h0.9v0.9h-0.9zM108.9 231.1h0.9v0.9h-0.9zM107.2 220.6h0.9v0.9h-0.9zM109.5 232.0h0.9v0.9h-0.9zM108.4 225.9h0.9v0.9h-0.9zM106.2 247.7h0.9v0.9h-0.9zM110.4 224.4h0.9v0.9h-0.9zM105.3 234.9h0.9v0.9h-0.9zM110.6 252.4h0.9v0.9h-0.9zM106.6 246.2h0.9v0.9h-0.9zM104.4 242.2h0.9v0.9h-0.9zM109.9 236.0h0.9v0.9h-0.9zM112.0 248.1h0.9v0.9h-0.9zM103.9 231.6h0.9v0.9h-0.9zM107.6 247.0h0.9v0.9h-0.9zM110.8 236.0h0.9v0.9h-0.9zM113.0 240.3h0.9v0.9h-0.9zM109.5 222.2h0.9v0.9h-0.9zM110.0 249.3h0.9v0.9h-0.9zM107.1 249.0h0.9v0.9h-0.9zM109.5 254.1h0.9v0.9h-0.9zM104.2 227.3h0.9v0.9h-0.9zM104.7 234.0h0.9v0.9h-0.9zM110.5 233.4h0.9v0.9h-0.9zM110.0 243.9h0.9v0.9h-0.9zM104.4 225.1h0.9v0.9h-0.9z" fill="rgb(90, 109, 231)" fill-opacity="0.45"/>
<path d="M90.5 243.5h0.9v0.9h-0.9zM76.7 242.7h0.9v0.9h-0.9zM85.2 255.7h0.9v0.9h-0.9zM71.8 251.5h0.9v0.9h-0.9zM71.3 256.1h0.9v0.9h-0.9zM90.3 251.7h0.9v0.9h-0.9zM71.2 247.0h0.9v0.9h-0.9zM89.0 244.9h0.9v0.9h-0.9zM75.3 253.8h0.9v0.9h-0.9zM89.9 246.2h0.9v0.9h-0.9zM69.8 254.6h0.9v0.9h-0.9zM82.4 243.6h0.9v0.9h-0.9zM68.5 253.3h0.9v0.9h-0.9zM93.7 249.1h0.9v0.9h-0.9zM73.7 257.2h0.9v0.9h-0.9zM79.0 256.3h0.9v0.9h-0.9zM93.7 245.9h0.9v0.9h-0.9zM89.0 256.3h0.9v0.9h-0.9zM71.9 246.8h0.9v0.9h-0.9zM86.7 245.6h0.9v0.9h-0.9zM78.4 242.3h0.9v0.9h-0.9zM88.6 252.9h0.9v0.9h-0.9zM69.5 252.4h0.9v0.9h-0.9zM85.5 241.6h0.9v0.9h-0.9zM91.2 249.0h0.9v0.9h-0.9zM74.3 245.8h0.9v0.9h-0.9zM90.0 250.7h0.9v0.9h-0.9zM70.1 250.7h0.9v0.9h-0.9zM77.2 241.6h0.9v0.9h-0.9zM84.2 254.9h0.9v0.9h-0.9zM89.2 247.1h0.9v0.9h-0.9zM90.3 245.7h0.9v0.9h-0.9zM95.2 247.9h0.9v0.9h-0.9zM72.4 245.0h0.9v0.9h-0.9zM86.0 245.2h0.9v0.9h-0.9zM84.7 242.4h0.9v0.9h-0.9zM87.3 255.9h0.9v0.9h-0.9zM71.4 247.8h0.9v0.9h-0.9zM69.7 250.6h0.9v0.9h-0.9zM87.6 254.6h0.9v0.9h-0.9zM88.7 248.5h0.9v0.9h-0.9zM72.0 244.8h0.9v0.9h-0.9zM93.0 247.1h0.9v0.9h-0.9zM72.5 244.8h0.9v0.9h-0.9zM88.7 243.8h0.9v0.9h-0.9zM72.2 254.7h0.9v0.9h-0.9zM86.9 243.1h0.9v0.9h-0.9zM93.5 249.1h0.9v0.9h-0.9zM89.0 251.1h0.9v0.9h-0.9zM89.0 248.4h0.9v0.9h-0.9zM91.5 254.8h0.9v0.9h-0.9zM71.3 255.0h0.9v0.9h-0.9zM92.6 249.2h0.9v0.9h-0.9zM78.3 243.2h0.9v0.9h-0.9zM85.7 254.5h0.9v0.9h-0.9zM69.7 246.6h0.9v0.9h-0.9zM70.4 252.8h0.9v0.9h-0.9zM88.6 252.6h0.9v0.9h-0.9zM69.8 251.2h0.9v0.9h-0.9zM90.9 246.4h0.9v0.9h-0.9zM91.0 253.3h0.9v0.9h-0.9zM91.9 245.3h0.9v0.9h-0.9zM87.5 243.6h0.9v0.9h-0.9zM87.0 255.3h0.9v0.9h-0.9zM90.0 251.6h0.9v0.9h-0.9zM79.3 241.6h0.9v0.9h-0.9zM75.4 244.8h0.9v0.9h-0.9zM81.5 254.5h0.9v0.9h-0.9z" fill="rgb(90, 109, 231)" fill-opacity="0.5"/>
<path d="M111.9 232.8h0.9v0.9h-0.9zM103.9 232.3h0.9v0.9h-0.9zM111.0 247.4h0.9v0.9h-0.9zM110.5 254.6h0.9v0.9h-0.9zM104.3 254.1h0.9v0.9h-0.9zM111.3 230.9h0.9v0.9h-0.9zM106.3 223.4h0.9v0.9h-0.9zM103.3 241.1h0.9v0.9h-0.9zM104.7 251.2h0.9v0.9h-0.9zM108.0 255.2h0.9v0.9h-0.9zM108.7 225.4h0.9v0.9h-0.9zM106.2 220.9h0.9v0.9h-0.9zM110.5 224.8h0.9v0.9h-0.9zM110.8 224.3h0.9v0.9h-0.9zM111.6 252.7h0.9v0.9h-0.9zM104.5 250.5h0.9v0.9h-0.9zM109.1 256.3h0.9v0.9h-0.9zM103.8 254.2h0.9v0.9h-0.9zM107.8 257.2h0.9v0.9h-0.9zM108.9 223.8h0.9v0.9h-0.9zM107.0 255.0h0.9v0.9h-0.9zM108.4 222.5h0.9v0.9h-0.9zM107.2 254.5h0.9v0.9h-0.9zM103.9 252.4h0.9v0.9h-0.9zM108.8 257.4h0.9v0.9h-0.9zM105.1 254.8h0.9v0.9h-0.9zM108.0 255.3h0.9v0.9h-0.9zM102.8 244.0h0.9v0.9h-0.9zM104.5 249.9h0.9v0.9h-0.9zM104.1 229.0h0.9v0.9h-0.9zM102.9 245.5h0.9v0.9h-0.9zM103.5 233.4h0.9v0.9h-0.9zM112.2 236.3h0.9v0.9h-0.9zM112.9 241.4h0.9v0.9h-0.9zM102.9 245.7h0.9v0.9h-0.9zM111.9 229.3h0.9v0.9h-0.9zM111.7 232.2h0.9v0.9h-0.9zM106.7 254.1h0.9v0.9h-0.9zM111.8 242.0h0.9v0.9h-0.9zM107.3 221.1h0.9v0.9h-0.9zM105.1 251.5h0.9v0.9h-0.9zM102.9 238.8h0.9v0.9h-0.9zM108.8 253.1h0.9v0.9h-0.9zM104.6 252.6h0.9v0.9h-0.9zM112.2 239.7h0.9v0.9h-0.9zM107.4 256.5h0.9v0.9h-0.9zM110.5 227.5h0.9v0.9h-0.9zM105.4 224.6h0.9v0.9h-0.9zM108.4 257.3h0.9v0.9h-0.9zM102.6 239.1h0.9v0.9h-0.9zM103.5 234.9h0.9v0.9h-0.9zM111.5 249.7h0.9v0.9h-0.9zM104.3 251.0h0.9v0.9h-0.9zM106.0 224.7h0.9v0.9h-0.9zM111.8 243.0h0.9v0.9h-0.9zM103.4 245.4h0.9v0.9h-0.9zM103.9 253.1h0.9v0.9h-0.9zM106.5 225.4h0.9v0.9h-0.9zM103.0 234.9h0.9v0.9h-0.9zM110.7 249.2h0.9v0.9h-0.9zM111.6 241.8h0.9v0.9h-0.9zM104.5 226.0h0.9v0.9h-0.9zM104.1 248.9h0.9v0.9h-0.9zM103.4 245.1h0.9v0.9h-0.9zM112.6 232.3h0.9v0.9h-0.9zM103.3 229.2h0.9v0.9h-0.9zM111.5 247.8h0.9v0.9h-0.9zM113.0 237.2h0.9v0.9h-0.9zM107.3 256.0h0.9v0.9h-0.9zM112.1 248.1h0.9v0.9h-0.9z" fill="rgb(90, 109, 231)" fill-opacity="0.6"/>
<path d="M75.8 255.1h0.9v0.9h-0.9zM93.8 248.1h0.9v0.9h-0.9zM77.9 242.6h0.9v0.9h-0.9zM73.6 245.8h0.9v0.9h-0.9zM90.2 252.9h0.9v0.9h-0.9zM83.9 255.7h0.9v0.9h-0.9zM90.6 243.4h0.9v0.9h-0.9zM74.2 244.8h0.9v0.9h-0.9zM72.6 253.1h0.9v0.9h-0.9zM88.5 254.6h0.9v0.9h-0.9zM90.5 243.2h0.9v0.9h-0.9zM82.9 242.6h0.9v0.9h-0.9zM69.6 249.2h0.9v0.9h-0.9zM72.8 254.1h0.9v0.9h-0.9zM80.3 255.7h0.9v0.9h-0.9zM70.6 247.1h0.9v0.9h-0.9zM95.1 247.6h0.9v0.9h-0.9zM69.1 250.4h0.9v0.9h-0.9zM73.2 253.8h0.9v0.9h-0.9zM93.6 249.4h0.9v0.9h-0.9zM92.5 246.2h0.9v0.9h-0.9zM84.8 242.4h0.9v0.9h-0.9zM92.7 250.4h0.9v0.9h-0.9zM87.7 243.1h0.9v0.9h-0.9zM92.2 252.1h0.9v0.9h-0.9zM72.8 246.1h0.9v0.9h-0.9zM91.7 245.0h0.9v0.9h-0.9zM92.8 244.3h0.9v0.9h-0.9zM93.6 246.5h0.9v0.9h-0.9zM90.5 243.6h0.9v0.9h-0.9zM72.5 246.4h0.9v0.9h-0.9zM84.7 255.2h0.9v0.9h-0.9zM83.5 255.6h0.9v0.9h-0.9zM92.7 249.2h0.9v0.9h-0.9zM83.4 242.8h0.9v0.9h-0.9zM78.8 255.2h0.9v0.9h-0.9zM73.0 253.5h0.9v0.9h-0.9zM91.2 252.4h0.9v0.9h-0.9zM78.0 242.8h0.9v0.9h-0.9zM81.8 242.9h0.9v0.9h-0.9zM75.1 255.3h0.9v0.9h-0.9zM70.7 250.6h0.9v0.9h-0.9zM69.7 250.4h0.9v0.9h-0.9zM72.3 246.5h0.9v0.9h-0.9zM69.4 251.6h0.9v0.9h-0.9zM89.0 252.9h0.9v0.9h-0.9zM79.8 242.0h0.9v0.9h-0.9zM76.1 256.1h0.9v0.9h-0.9zM75.4 254.9h0.9v0.9h-0.9zM75.2 255.1h0.9v0.9h-0.9zM92.5 243.5h0.9v0.9h-0.9zM70.3 248.6h0.9v0.9h-0.9zM92.9 251.1h0.9v0.9h-0.9z" fill="rgb(90, 109, 231)" fill-opacity="0.75"/>
<path d="M108.5 243.6h0.9v0.9h-0.9zM106.7 242.4h0.9v0.9h-0.9zM107.1 239.1h0.9v0.9h-0.9zM107.4 238.2h0.9v0.9h-0.9zM107.5 240.4h0.9v0.9h-0.9z" fill="rgb(86, 113, 232)" fill-opacity="0.45"/>
<path d="M83.0 249.9h0.9v0.9h-0.9zM81.3 250.2h0.9v0.9h-0.9zM84.1 251.4h0.9v0.9h-0.9zM79.9 253.1h0.9v0.9h-0.9zM78.5 246.5h0.9v0.9h-0.9zM82.2 252.1h0.9v0.9h-0.9zM79.0 248.3h0.9v0.9h-0.9zM83.5 251.9h0.9v0.9h-0.9zM74.1 246.6h0.9v0.9h-0.9zM74.9 252.3h0.9v0.9h-0.9zM72.8 249.8h0.9v0.9h-0.9zM83.3 248.5h0.9v0.9h-0.9zM83.5 248.6h0.9v0.9h-0.9zM80.7 247.2h0.9v0.9h-0.9zM79.3 251.9h0.9v0.9h-0.9zM79.0 245.7h0.9v0.9h-0.9zM78.9 246.1h0.9v0.9h-0.9zM75.9 246.2h0.9v0.9h-0.9zM75.5 249.9h0.9v0.9h-0.9zM80.0 246.7h0.9v0.9h-0.9zM78.7 248.0h0.9v0.9h-0.9zM79.7 246.9h0.9v0.9h-0.9zM81.9 248.7h0.9v0.9h-0.9zM81.9 252.0h0.9v0.9h-0.9zM81.8 247.2h0.9v0.9h-0.9zM77.2 252.1h0.9v0.9h-0.9zM81.5 245.8h0.9v0.9h-0.9zM85.4 247.7h0.9v0.9h-0.9zM79.8 245.9h0.9v0.9h-0.9zM82.4 251.9h0.9v0.9h-0.9zM79.0 254.3h0.9v0.9h-0.9zM75.5 247.9h0.9v0.9h-0.9zM86.5 246.4h0.9v0.9h-0.9zM72.5 248.2h0.9v0.9h-0.9zM86.0 250.1h0.9v0.9h-0.9zM85.2 252.4h0.9v0.9h-0.9zM81.2 249.8h0.9v0.9h-0.9zM74.2 248.4h0.9v0.9h-0.9zM75.5 249.4h0.9v0.9h-0.9zM79.9 249.2h0.9v0.9h-0.9zM87.7 248.7h0.9v0.9h-0.9zM78.9 249.2h0.9v0.9h-0.9zM86.0 249.8h0.9v0.9h-0.9zM72.1 249.1h0.9v0.9h-0.9zM78.9 247.7h0.9v0.9h-0.9zM79.3 252.3h0.9v0.9h-0.9zM77.0 247.1h0.9v0.9h-0.9zM79.8 252.3h0.9v0.9h-0.9zM82.8 251.9h0.9v0.9h-0.9zM83.1 249.7h0.9v0.9h-0.9zM74.2 251.2h0.9v0.9h-0.9zM80.3 245.8h0.9v0.9h-0.9zM83.0 246.2h0.9v0.9h-0.9zM73.8 252.4h0.9v0.9h-0.9zM80.6 246.0h0.9v0.9h-0.9zM81.4 251.2h0.9v0.9h-0.9zM87.0 251.7h0.9v0.9h-0.9zM73.1 251.5h0.9v0.9h-0.9zM80.2 252.4h0.9v0.9h-0.9zM77.3 253.7h0.9v0.9h-0.9zM75.1 250.8h0.9v0.9h-0.9zM84.4 250.2h0.9v0.9h-0.9zM77.9 251.5h0.9v0.9h-0.9zM74.6 249.3h0.9v0.9h-0.9zM77.9 247.6h0.9v0.9h-0.9zM80.6 249.3h0.9v0.9h-0.9zM81.2 251.5h0.9v0.9h-0.9zM76.4 252.9h0.9v0.9h-0.9zM76.9 246.4h0.9v0.9h-0.9z" fill="rgb(86, 113, 232)" fill-opacity="0.5"/>
<path d="M104.3 247.5h0.9v0.9h-0.9zM110.4 244.3h0.9v0.9h-0.9zM105.9 226.7h0.9v0.9h-0.9zM111.5 243.5h0.9v0.9h-0.9zM105.2 250.8h0.9v0.9h-0.9zM104.8 250.1h0.9v0.9h-0.9zM109.9 229.9h0.9v0.9h-0.9zM104.7 248.7h0.9v0.9h-0.9zM109.8 230.5h0.9v0.9h-0.9zM111.2 237.0h0.9v0.9h-0.9zM110.7 235.8h0.9v0.9h-0.9zM108.0 225.6h0.9v0.9h-0.9zM105.3 228.3h0.9v0.9h-0.9zM104.9 229.1h0.9v0.9h-0.9zM105.5 251.3h0.9v0.9h-0.9zM111.4 241.2h0.9v0.9h-0.9zM104.6 233.4h0.9v0.9h-0.9zM105.8 251.0h0.9v0.9h-0.9zM107.6 251.5h0.9v0.9h-0.9zM108.0 252.0h0.9v0.9h-0.9zM105.0 231.8h0.9v0.9h-0.9zM110.4 248.2h0.9v0.9h-0.9zM105.5 228.2h0.9v0.9h-0.9zM111.3 236.2h0.9v0.9h-0.9zM109.2 251.0h0.9v0.9h-0.9zM103.9 240.8h0.9v0.9h-0.9zM106.1 229.3h0.9v0.9h-0.9zM104.1 235.5h0.9v0.9h-0.9zM105.1 247.8h0.9v0.9h-0.9zM104.2 235.6h0.9v0.9h-0.9zM103.9 244.7h0.9v0.9h-0.9zM108.9 250.3h0.9v0.9h-0.9zM107.9 227.9h0.9v0.9h-0.9zM104.1 233.8h0.9v0.9h-0.9zM110.9 244.7h0.9v0.9h-0.9zM105.7 229.7h0.9v0.9h-0.9zM104.2 242.3h0.9v0.9h-0.9zM107.6 251.0h0.9v0.9h-0.9zM104.9 230.4h0.9v0.9h-0.9zM108.6 251.9h0.9v0.9h-0.9zM105.4 228.5h0.9v0.9h-0.9zM105.9 250.3h0.9v0.9h-0.9zM107.8 251.0h0.9v0.9h-0.9zM106.4 250.8h0.9v0.9h-0.9zM106.2 253.0h0.9v0.9h-0.9zM106.3 228.3h0.9v0.9h-0.9zM106.9 252.3h0.9v0.9h-0.9zM103.4 239.2h0.9v0.9h-0.9zM111.3 239.3h0.9v0.9h-0.9zM108.7 228.8h0.9v0.9h-0.9zM103.5 242.8h0.9v0.9h-0.9zM110.6 247.0h0.9v0.9h-0.9zM105.2 228.4h0.9v0.9h-0.9z" fill="rgb(86, 113, 232)" fill-opacity="0.6"/>
<path d="M88.0 252.4h0.9v0.9h-0.9zM89.8 245.0h0.9v0.9h-0.9zM72.4 251.3h0.9v0.9h-0.9zM85.2 243.1h0.9v0.9h-0.9zM85.9 243.8h0.9v0.9h-0.9zM83.6 243.3h0.9v0.9h-0.9zM91.5 246.8h0.9v0.9h-0.9zM86.6 253.4h0.9v0.9h-0.9zM90.0 251.1h0.9v0.9h-0.9zM92.5 247.5h0.9v0.9h-0.9zM72.5 248.5h0.9v0.9h-0.9zM73.7 247.2h0.9v0.9h-0.9zM86.1 243.5h0.9v0.9h-0.9zM79.9 243.5h0.9v0.9h-0.9zM80.3 243.9h0.9v0.9h-0.9zM90.3 244.7h0.9v0.9h-0.9zM76.9 244.4h0.9v0.9h-0.9zM78.4 254.1h0.9v0.9h-0.9zM90.5 251.2h0.9v0.9h-0.9zM81.5 254.2h0.9v0.9h-0.9zM87.4 243.9h0.9v0.9h-0.9zM92.6 248.0h0.9v0.9h-0.9zM88.8 252.1h0.9v0.9h-0.9zM83.0 254.3h0.9v0.9h-0.9zM76.1 245.0h0.9v0.9h-0.9zM88.6 252.3h0.9v0.9h-0.9zM88.1 252.9h0.9v0.9h-0.9zM75.8 244.8h0.9v0.9h-0.9zM87.1 243.8h0.9v0.9h-0.9zM76.9 245.0h0.9v0.9h-0.9zM91.0 246.3h0.9v0.9h-0.9zM82.3 243.2h0.9v0.9h-0.9zM82.1 254.4h0.9v0.9h-0.9zM84.1 243.5h0.9v0.9h-0.9zM84.5 243.6h0.9v0.9h-0.9zM82.6 243.3h0.9v0.9h-0.9zM79.2 244.4h0.9v0.9h-0.9zM90.3 251.2h0.9v0.9h-0.9zM73.9 253.0h0.9v0.9h-0.9zM87.2 243.7h0.9v0.9h-0.9zM87.1 243.3h0.9v0.9h-0.9zM77.8 254.1h0.9v0.9h-0.9zM73.1 247.4h0.9v0.9h-0.9zM72.2 249.7h0.9v0.9h-0.9zM75.0 246.1h0.9v0.9h-0.9zM81.5 254.8h0.9v0.9h-0.9zM87.1 243.9h0.9v0.9h-0.9zM89.3 244.6h0.9v0.9h-0.9zM77.9 254.5h0.9v0.9h-0.9zM91.4 249.6h0.9v0.9h-0.9zM81.1 243.2h0.9v0.9h-0.9z" fill="rgb(86, 113, 232)" fill-opacity="0.75"/>
<path d="M110.0 245.7h0.9v0.9h-0.9zM106.0 230.3h0.9v0.9h-0.9zM108.5 249.8h0.9v0.9h-0.9zM105.3 247.2h0.9v0.9h-0.9zM107.0 250.0h0.9v0.9h-0.9zM104.8 239.3h0.9v0.9h-0.9zM108.1 228.8h0.9v0.9h-0.9zM105.0 238.9h0.9v0.9h-0.9zM106.8 248.3h0.9v0.9h-0.9zM108.2 249.1h0.9v0.9h-0.9zM110.6 236.9h0.9v0.9h-0.9zM105.0 240.2h0.9v0.9h-0.9zM107.1 249.8h0.9v0.9h-0.9zM105.0 243.0h0.9v0.9h-0.9zM107.9 230.9h0.9v0.9h-0.9zM105.1 242.9h0.9v0.9h-0.9zM110.1 240.6h0.9v0.9h-0.9zM105.0 233.1h0.9v0.9h-0.9zM106.5 248.2h0.9v0.9h-0.9zM109.9 242.5h0.9v0.9h-0.9zM105.0 236.8h0.9v0.9h-0.9zM109.9 244.9h0.9v0.9h-0.9zM105.6 246.5h0.9v0.9h-0.9zM106.6 229.1h0.9v0.9h-0.9zM104.5 238.8h0.9v0.9h-0.9zM109.9 237.1h0.9v0.9h-0.9zM106.1 247.4h0.9v0.9h-0.9zM109.9 237.2h0.9v0.9h-0.9zM105.0 242.5h0.9v0.9h-0.9zM106.1 230.1h0.9v0.9h-0.9zM105.6 246.9h0.9v0.9h-0.9zM109.0 229.9h0.9v0.9h-0.9zM106.3 229.2h0.9v0.9h-0.9zM110.3 238.9h0.9v0.9h-0.9zM106.6 230.0h0.9v0.9h-0.9zM108.1 229.8h0.9v0.9h-0.9zM106.6 231.0h0.9v0.9h-0.9zM109.9 237.0h0.9v0.9h-0.9zM104.4 238.8h0.9v0.9h-0.9zM106.0 231.8h0.9v0.9h-0.9zM110.1 234.5h0.9v0.9h-0.9zM105.5 231.7h0.9v0.9h-0.9zM108.1 249.0h0.9v0.9h-0.9zM109.7 245.0h0.9v0.9h-0.9zM108.6 249.0h0.9v0.9h-0.9zM104.8 237.2h0.9v0.9h-0.9zM105.4 246.9h0.9v0.9h-0.9zM106.6 249.0h0.9v0.9h-0.9zM104.7 238.8h0.9v0.9h-0.9zM108.9 230.6h0.9v0.9h-0.9zM108.7 247.8h0.9v0.9h-0.9zM109.6 233.7h0.9v0.9h-0.9zM109.1 231.0h0.9v0.9h-0.9zM110.3 240.8h0.9v0.9h-0.9zM105.1 246.0h0.9v0.9h-0.9zM110.0 237.7h0.9v0.9h-0.9zM110.2 242.1h0.9v0.9h-0.9zM104.8 238.4h0.9v0.9h-0.9zM110.0 240.6h0.9v0.9h-0.9zM109.6 246.8h0.9v0.9h-0.9zM108.7 231.1h0.9v0.9h-0.9zM110.0 236.4h0.9v0.9h-0.9zM109.8 246.6h0.9v0.9h-0.9zM105.6 246.1h0.9v0.9h-0.9zM109.8 245.7h0.9v0.9h-0.9z" fill="rgb(82, 117, 234)" fill-opacity="0.6"/>
<path d="M76.1 246.3h0.9v0.9h-0.9zM77.5 245.4h0.9v0.9h-0.9zM75.7 246.2h0.9v0.9h-0.9zM90.3 247.0h0.9v0.9h-0.9zM74.5 251.8h0.9v0.9h-0.9zM90.0 245.7h0.9v0.9h-0.9zM78.3 245.3h0.9v0.9h-0.9zM81.1 244.1h0.9v0.9h-0.9zM90.3 248.6h0.9v0.9h-0.9zM75.0 247.4h0.9v0.9h-0.9zM90.0 246.9h0.9v0.9h-0.9zM77.0 253.4h0.9v0.9h-0.9zM74.1 251.4h0.9v0.9h-0.9zM90.1 246.1h0.9v0.9h-0.9zM86.0 253.1h0.9v0.9h-0.9zM75.9 252.6h0.9v0.9h-0.9zM74.0 248.4h0.9v0.9h-0.9zM74.1 249.5h0.9v0.9h-0.9zM90.3 250.0h0.9v0.9h-0.9zM77.8 245.4h0.9v0.9h-0.9zM76.7 245.4h0.9v0.9h-0.9zM77.5 253.4h0.9v0.9h-0.9zM85.8 253.3h0.9v0.9h-0.9zM86.5 252.5h0.9v0.9h-0.9zM82.0 253.8h0.9v0.9h-0.9zM75.7 246.7h0.9v0.9h-0.9zM85.8 252.9h0.9v0.9h-0.9zM73.6 249.3h0.9v0.9h-0.9zM90.6 248.6h0.9v0.9h-0.9zM76.3 246.3h0.9v0.9h-0.9zM79.3 253.9h0.9v0.9h-0.9zM90.5 249.8h0.9v0.9h-0.9zM87.0 252.8h0.9v0.9h-0.9zM82.3 253.9h0.9v0.9h-0.9zM74.0 251.3h0.9v0.9h-0.9zM86.9 252.7h0.9v0.9h-0.9zM91.2 248.0h0.9v0.9h-0.9zM88.4 244.7h0.9v0.9h-0.9zM80.1 244.3h0.9v0.9h-0.9zM90.0 245.9h0.9v0.9h-0.9zM88.7 245.1h0.9v0.9h-0.9zM89.9 246.6h0.9v0.9h-0.9zM74.7 252.1h0.9v0.9h-0.9zM84.4 253.6h0.9v0.9h-0.9zM78.6 253.9h0.9v0.9h-0.9zM79.5 244.5h0.9v0.9h-0.9zM79.7 244.4h0.9v0.9h-0.9zM79.4 244.8h0.9v0.9h-0.9zM83.8 244.4h0.9v0.9h-0.9zM78.1 254.0h0.9v0.9h-0.9zM86.6 244.4h0.9v0.9h-0.9zM75.0 247.6h0.9v0.9h-0.9zM87.0 252.2h0.9v0.9h-0.9zM80.5 244.4h0.9v0.9h-0.9z" fill="rgb(82, 117, 234)" fill-opacity="0.75"/>
<path d="M105.8 239.9h0.9v0.9h-0.9zM108.3 232.5h0.9v0.9h-0.9zM109.8 239.3h0.9v0.9h-0.9zM105.2 240.4h0.9v0.9h-0.9zM105.9 236.1h0.9v0.9h-0.9zM106.6 234.6h0.9v0.9h-0.9zM105.5 238.1h0.9v0.9h-0.9zM106.1 245.5h0.9v0.9h-0.9zM107.3 233.4h0.9v0.9h-0.9zM108.1 233.4h0.9v0.9h-0.9zM108.9 233.0h0.9v0.9h-0.9zM106.0 242.1h0.9v0.9h-0.9zM105.9 235.6h0.9v0.9h-0.9zM106.3 235.4h0.9v0.9h-0.9zM105.8 234.7h0.9v0.9h-0.9zM109.1 236.0h0.9v0.9h-0.9zM108.8 243.8h0.9v0.9h-0.9zM105.4 239.1h0.9v0.9h-0.9zM109.1 238.9h0.9v0.9h-0.9zM106.0 245.8h0.9v0.9h-0.9zM105.2 237.9h0.9v0.9h-0.9zM109.3 240.6h0.9v0.9h-0.9zM105.8 240.5h0.9v0.9h-0.9zM106.8 233.0h0.9v0.9h-0.9zM106.3 235.9h0.9v0.9h-0.9zM105.2 239.0h0.9v0.9h-0.9zM109.0 245.3h0.9v0.9h-0.9zM105.8 236.7h0.9v0.9h-0.9zM107.2 232.5h0.9v0.9h-0.9zM108.4 234.9h0.9v0.9h-0.9zM108.6 234.9h0.9v0.9h-0.9zM109.4 234.6h0.9v0.9h-0.9zM109.8 240.8h0.9v0.9h-0.9zM108.7 245.8h0.9v0.9h-0.9zM108.1 232.5h0.9v0.9h-0.9zM107.3 233.1h0.9v0.9h-0.9zM108.5 233.6h0.9v0.9h-0.9zM107.8 245.7h0.9v0.9h-0.9zM106.4 244.3h0.9v0.9h-0.9zM109.2 243.5h0.9v0.9h-0.9zM107.9 232.1h0.9v0.9h-0.9zM109.1 237.8h0.9v0.9h-0.9zM105.7 238.0h0.9v0.9h-0.9zM107.9 231.9h0.9v0.9h-0.9zM107.2 233.1h0.9v0.9h-0.9zM105.5 240.0h0.9v0.9h-0.9zM109.3 239.3h0.9v0.9h-0.9zM105.7 244.4h0.9v0.9h-0.9zM109.0 245.1h0.9v0.9h-0.9zM106.5 233.0h0.9v0.9h-0.9zM108.1 232.1h0.9v0.9h-0.9zM106.4 243.7h0.9v0.9h-0.9zM105.3 238.4h0.9v0.9h-0.9zM105.8 242.1h0.9v0.9h-0.9zM109.7 238.0h0.9v0.9h-0.9zM108.7 235.2h0.9v0.9h-0.9zM108.9 242.7h0.9v0.9h-0.9zM107.5 246.2h0.9v0.9h-0.9zM107.1 232.4h0.9v0.9h-0.9zM105.8 239.6h0.9v0.9h-0.9zM105.5 242.3h0.9v0.9h-0.9zM105.6 235.6h0.9v0.9h-0.9zM105.6 239.7h0.9v0.9h-0.9zM109.1 235.0h0.9v0.9h-0.9zM106.2 235.6h0.9v0.9h-0.9zM108.4 245.7h0.9v0.9h-0.9zM106.2 235.6h0.9v0.9h-0.9zM109.1 241.1h0.9v0.9h-0.9z" fill="rgb(78, 126, 231)" fill-opacity="0.6"/>
<path d="M80.2 245.1h0.9v0.9h-0.9zM86.5 252.0h0.9v0.9h-0.9zM84.3 252.6h0.9v0.9h-0.9zM74.6 250.6h0.9v0.9h-0.9zM88.1 250.6h0.9v0.9h-0.9zM75.4 251.1h0.9v0.9h-0.9zM83.2 253.2h0.9v0.9h-0.9zM84.3 253.1h0.9v0.9h-0.9zM88.7 246.2h0.9v0.9h-0.9zM74.7 250.1h0.9v0.9h-0.9zM79.0 245.6h0.9v0.9h-0.9zM76.3 252.2h0.9v0.9h-0.9zM89.7 247.3h0.9v0.9h-0.9zM79.8 253.3h0.9v0.9h-0.9zM74.4 249.3h0.9v0.9h-0.9zM89.4 246.9h0.9v0.9h-0.9zM75.2 247.6h0.9v0.9h-0.9zM77.8 246.3h0.9v0.9h-0.9zM84.9 252.9h0.9v0.9h-0.9zM75.6 247.3h0.9v0.9h-0.9zM83.7 252.8h0.9v0.9h-0.9zM78.3 253.3h0.9v0.9h-0.9zM89.4 247.9h0.9v0.9h-0.9zM77.7 246.3h0.9v0.9h-0.9zM76.9 246.4h0.9v0.9h-0.9zM84.7 244.9h0.9v0.9h-0.9zM88.3 250.3h0.9v0.9h-0.9zM89.2 249.4h0.9v0.9h-0.9zM75.0 251.3h0.9v0.9h-0.9zM76.0 252.2h0.9v0.9h-0.9zM78.1 245.7h0.9v0.9h-0.9zM79.9 253.3h0.9v0.9h-0.9zM89.2 248.8h0.9v0.9h-0.9zM74.2 250.2h0.9v0.9h-0.9zM75.9 251.8h0.9v0.9h-0.9zM84.8 252.4h0.9v0.9h-0.9zM78.0 253.0h0.9v0.9h-0.9zM74.5 248.7h0.9v0.9h-0.9zM88.7 246.1h0.9v0.9h-0.9zM76.9 252.5h0.9v0.9h-0.9z" fill="rgb(78, 126, 231)" fill-opacity="0.75"/>
<path d="M106.1 241.7h0.9v0.9h-0.9zM106.1 240.3h0.9v0.9h-0.9zM106.2 240.0h0.9v0.9h-0.9zM107.9 235.3h0.9v0.9h-0.9zM107.1 242.2h0.9v0.9h-0.9zM107.3 239.8h0.9v0.9h-0.9zM107.2 235.1h0.9v0.9h-0.9zM108.3 239.6h0.9v0.9h-0.9zM107.4 242.7h0.9v0.9h-0.9zM107.1 241.3h0.9v0.9h-0.9zM106.9 243.2h0.9v0.9h-0.9zM108.1 244.3h0.9v0.9h-0.9zM107.2 240.4h0.9v0.9h-0.9zM107.2 241.7h0.9v0.9h-0.9zM107.0 241.2h0.9v0.9h-0.9zM107.9 235.5h0.9v0.9h-0.9zM107.5 240.1h0.9v0.9h-0.9zM108.4 241.7h0.9v0.9h-0.9zM107.3 243.2h0.9v0.9h-0.9zM106.2 242.6h0.9v0.9h-0.9zM106.6 235.7h0.9v0.9h-0.9zM106.2 238.0h0.9v0.9h-0.9zM106.8 236.0h0.9v0.9h-0.9zM107.0 238.0h0.9v0.9h-0.9zM108.4 240.9h0.9v0.9h-0.9zM106.6 236.3h0.9v0.9h-0.9zM108.4 235.7h0.9v0.9h-0.9zM106.0 238.7h0.9v0.9h-0.9zM106.6 236.2h0.9v0.9h-0.9zM106.0 239.2h0.9v0.9h-0.9zM106.4 242.8h0.9v0.9h-0.9zM107.7 241.9h0.9v0.9h-0.9zM107.0 234.7h0.9v0.9h-0.9zM108.1 237.4h0.9v0.9h-0.9zM107.5 243.3h0.9v0.9h-0.9zM107.5 243.3h0.9v0.9h-0.9zM107.3 235.1h0.9v0.9h-0.9zM107.6 240.6h0.9v0.9h-0.9zM106.9 243.3h0.9v0.9h-0.9zM108.2 236.7h0.9v0.9h-0.9zM107.9 239.3h0.9v0.9h-0.9zM106.8 243.5h0.9v0.9h-0.9zM106.4 241.8h0.9v0.9h-0.9zM107.3 243.8h0.9v0.9h-0.9zM107.3 244.6h0.9v0.9h-0.9zM106.9 240.7h0.9v0.9h-0.9zM107.3 236.4h0.9v0.9h-0.9zM108.6 237.5h0.9v0.9h-0.9zM109.0 240.0h0.9v0.9h-0.9zM107.7 243.2h0.9v0.9h-0.9zM106.1 239.0h0.9v0.9h-0.9zM107.9 237.1h0.9v0.9h-0.9zM107.4 235.4h0.9v0.9h-0.9zM108.3 241.4h0.9v0.9h-0.9z" fill="rgb(74, 143, 223)" fill-opacity="0.6"/>
<path d="M76.0 248.5h0.9v0.9h-0.9zM86.8 245.9h0.9v0.9h-0.9zM85.9 251.5h0.9v0.9h-0.9zM88.7 247.4h0.9v0.9h-0.9zM83.4 245.2h0.9v0.9h-0.9zM78.1 252.4h0.9v0.9h-0.9zM87.2 250.5h0.9v0.9h-0.9zM77.6 246.5h0.9v0.9h-0.9zM88.1 246.6h0.9v0.9h-0.9zM81.3 245.2h0.9v0.9h-0.9zM88.0 246.8h0.9v0.9h-0.9zM78.0 246.6h0.9v0.9h-0.9zM81.1 245.4h0.9v0.9h-0.9zM83.3 252.4h0.9v0.9h-0.9zM75.0 249.5h0.9v0.9h-0.9zM76.6 251.6h0.9v0.9h-0.9zM78.0 246.6h0.9v0.9h-0.9zM88.6 249.9h0.9v0.9h-0.9zM88.4 246.6h0.9v0.9h-0.9zM88.7 248.4h0.9v0.9h-0.9zM79.3 252.6h0.9v0.9h-0.9zM88.0 246.4h0.9v0.9h-0.9zM78.0 246.3h0.9v0.9h-0.9zM87.1 250.7h0.9v0.9h-0.9zM80.2 245.6h0.9v0.9h-0.9zM86.0 251.6h0.9v0.9h-0.9zM86.2 245.4h0.9v0.9h-0.9zM85.2 252.0h0.9v0.9h-0.9zM89.0 248.0h0.9v0.9h-0.9zM87.5 246.1h0.9v0.9h-0.9zM76.7 251.6h0.9v0.9h-0.9zM80.0 252.6h0.9v0.9h-0.9zM76.0 250.4h0.9v0.9h-0.9zM78.7 252.5h0.9v0.9h-0.9z" fill="rgb(74, 143, 223)" fill-opacity="0.75"/>
<path d="M83.6 245.6h0.9v0.9h-0.9zM87.7 247.8h0.9v0.9h-0.9zM76.9 250.4h0.9v0.9h-0.9zM79.5 246.2h0.9v0.9h-0.9zM76.2 249.5h0.9v0.9h-0.9zM87.2 250.1h0.9v0.9h-0.9zM82.6 252.1h0.9v0.9h-0.9zM85.1 251.5h0.9v0.9h-0.9zM80.7 252.1h0.9v0.9h-0.9zM79.5 246.3h0.9v0.9h-0.9zM77.9 247.0h0.9v0.9h-0.9zM83.3 252.1h0.9v0.9h-0.9zM78.6 252.1h0.9v0.9h-0.9zM87.1 246.7h0.9v0.9h-0.9zM88.1 247.7h0.9v0.9h-0.9zM88.1 248.6h0.9v0.9h-0.9zM83.3 252.3h0.9v0.9h-0.9zM88.0 248.1h0.9v0.9h-0.9zM80.1 252.1h0.9v0.9h-0.9zM82.3 252.3h0.9v0.9h-0.9zM76.8 248.1h0.9v0.9h-0.9zM87.0 247.1h0.9v0.9h-0.9zM77.5 247.3h0.9v0.9h-0.9zM88.2 248.3h0.9v0.9h-0.9zM83.2 252.0h0.9v0.9h-0.9zM77.7 251.4h0.9v0.9h-0.9zM80.2 252.1h0.9v0.9h-0.9zM82.3 252.2h0.9v0.9h-0.9zM80.0 252.5h0.9v0.9h-0.9zM78.4 251.9h0.9v0.9h-0.9zM86.6 250.8h0.9v0.9h-0.9zM82.4 245.7h0.9v0.9h-0.9zM82.4 252.4h0.9v0.9h-0.9zM76.3 248.9h0.9v0.9h-0.9zM76.9 250.5h0.9v0.9h-0.9zM86.5 246.2h0.9v0.9h-0.9zM75.9 249.5h0.9v0.9h-0.9zM87.4 247.1h0.9v0.9h-0.9zM86.2 251.0h0.9v0.9h-0.9zM85.4 251.1h0.9v0.9h-0.9zM85.0 251.7h0.9v0.9h-0.9zM86.6 246.8h0.9v0.9h-0.9zM76.8 248.9h0.9v0.9h-0.9z" fill="rgb(70, 160, 215)" fill-opacity="0.75"/>
<path d="M82.1 251.8h0.9v0.9h-0.9zM86.6 248.2h0.9v0.9h-0.9zM81.1 246.2h0.9v0.9h-0.9zM86.5 249.5h0.9v0.9h-0.9zM86.2 246.7h0.9v0.9h-0.9zM83.3 251.8h0.9v0.9h-0.9zM79.7 251.6h0.9v0.9h-0.9zM86.4 247.2h0.9v0.9h-0.9zM87.3 247.9h0.9v0.9h-0.9zM82.5 251.8h0.9v0.9h-0.9zM81.4 252.0h0.9v0.9h-0.9zM78.6 251.5h0.9v0.9h-0.9zM77.7 250.4h0.9v0.9h-0.9zM85.0 246.3h0.9v0.9h-0.9zM87.3 248.6h0.9v0.9h-0.9zM83.0 251.8h0.9v0.9h-0.9zM81.2 246.3h0.9v0.9h-0.9zM81.0 246.4h0.9v0.9h-0.9zM79.8 246.5h0.9v0.9h-0.9zM83.8 251.3h0.9v0.9h-0.9zM83.0 246.4h0.9v0.9h-0.9zM77.0 249.4h0.9v0.9h-0.9zM87.1 249.5h0.9v0.9h-0.9zM86.9 249.8h0.9v0.9h-0.9zM78.0 250.9h0.9v0.9h-0.9zM84.7 246.5h0.9v0.9h-0.9zM86.5 247.5h0.9v0.9h-0.9zM82.0 251.9h0.9v0.9h-0.9zM78.9 251.5h0.9v0.9h-0.9zM78.8 247.0h0.9v0.9h-0.9zM77.3 249.1h0.9v0.9h-0.9zM83.8 246.2h0.9v0.9h-0.9zM83.6 251.5h0.9v0.9h-0.9zM79.1 251.6h0.9v0.9h-0.9zM82.9 246.1h0.9v0.9h-0.9zM77.5 250.9h0.9v0.9h-0.9zM87.0 248.4h0.9v0.9h-0.9zM78.2 251.2h0.9v0.9h-0.9zM77.9 250.9h0.9v0.9h-0.9zM79.7 246.5h0.9v0.9h-0.9zM85.6 250.8h0.9v0.9h-0.9zM86.8 248.7h0.9v0.9h-0.9zM77.4 250.1h0.9v0.9h-0.9zM78.8 251.7h0.9v0.9h-0.9z" fill="rgb(75, 173, 145)" fill-opacity="0.75"/>
<path d="M83.5 251.0h0.9v0.9h-0.9zM83.5 251.0h0.9v0.9h-0.9zM85.6 247.3h0.9v0.9h-0.9zM77.7 248.9h0.9v0.9h-0.9zM79.3 251.3h0.9v0.9h-0.9zM82.4 251.5h0.9v0.9h-0.9zM81.8 246.6h0.9v0.9h-0.9zM86.0 248.7h0.9v0.9h-0.9zM86.3 248.6h0.9v0.9h-0.9zM82.5 251.3h0.9v0.9h-0.9zM83.5 251.1h0.9v0.9h-0.9zM83.6 246.9h0.9v0.9h-0.9zM79.7 247.2h0.9v0.9h-0.9zM82.1 246.8h0.9v0.9h-0.9zM83.7 250.8h0.9v0.9h-0.9zM85.6 249.4h0.9v0.9h-0.9zM85.9 249.6h0.9v0.9h-0.9zM79.2 248.0h0.9v0.9h-0.9zM84.9 250.3h0.9v0.9h-0.9zM86.1 247.8h0.9v0.9h-0.9zM81.4 251.5h0.9v0.9h-0.9zM85.3 250.0h0.9v0.9h-0.9zM80.3 247.1h0.9v0.9h-0.9zM85.1 247.3h0.9v0.9h-0.9zM85.0 250.1h0.9v0.9h-0.9zM83.4 251.1h0.9v0.9h-0.9zM81.1 251.4h0.9v0.9h-0.9zM81.1 246.8h0.9v0.9h-0.9zM86.0 248.5h0.9v0.9h-0.9zM78.1 249.9h0.9v0.9h-0.9zM81.0 247.0h0.9v0.9h-0.9zM79.2 247.8h0.9v0.9h-0.9zM83.3 251.3h0.9v0.9h-0.9zM79.6 247.4h0.9v0.9h-0.9zM84.5 250.5h0.9v0.9h-0.9zM78.1 249.8h0.9v0.9h-0.9zM80.0 247.4h0.9v0.9h-0.9zM78.5 247.8h0.9v0.9h-0.9zM86.4 249.1h0.9v0.9h-0.9zM85.2 250.1h0.9v0.9h-0.9zM78.4 248.0h0.9v0.9h-0.9zM80.3 251.2h0.9v0.9h-0.9zM83.4 246.7h0.9v0.9h-0.9zM82.9 246.8h0.9v0.9h-0.9zM83.0 246.8h0.9v0.9h-0.9zM83.8 251.2h0.9v0.9h-0.9zM82.2 251.4h0.9v0.9h-0.9zM82.8 251.2h0.9v0.9h-0.9zM78.5 247.8h0.9v0.9h-0.9zM84.3 250.5h0.9v0.9h-0.9zM78.2 250.6h0.9v0.9h-0.9zM82.7 246.6h0.9v0.9h-0.9zM77.9 249.1h0.9v0.9h-0.9zM84.7 250.4h0.9v0.9h-0.9zM86.1 249.2h0.9v0.9h-0.9z" fill="rgb(96, 188, 84)" fill-opacity="0.75"/>
<path d="M85.4 249.0h0.9v0.9h-0.9zM84.8 250.0h0.9v0.9h-0.9zM79.5 249.8h0.9v0.9h-0.9zM79.7 247.7h0.9v0.9h-0.9zM82.1 247.3h0.9v0.9h-0.9zM85.1 248.2h0.9v0.9h-0.9zM85.4 249.6h0.9v0.9h-0.9zM80.4 250.5h0.9v0.9h-0.9zM85.6 248.6h0.9v0.9h-0.9zM84.5 247.6h0.9v0.9h-0.9zM80.1 247.7h0.9v0.9h-0.9zM78.9 249.7h0.9v0.9h-0.9zM82.6 250.8h0.9v0.9h-0.9zM84.3 247.1h0.9v0.9h-0.9zM84.7 247.5h0.9v0.9h-0.9zM79.5 250.0h0.9v0.9h-0.9zM83.6 247.0h0.9v0.9h-0.9zM84.0 250.0h0.9v0.9h-0.9zM82.7 250.7h0.9v0.9h-0.9zM85.4 248.0h0.9v0.9h-0.9zM78.9 248.7h0.9v0.9h-0.9zM79.9 247.8h0.9v0.9h-0.9zM85.5 247.9h0.9v0.9h-0.9zM85.0 248.9h0.9v0.9h-0.9zM79.1 250.2h0.9v0.9h-0.9zM80.4 247.6h0.9v0.9h-0.9zM78.9 248.4h0.9v0.9h-0.9zM85.0 248.2h0.9v0.9h-0.9zM78.7 249.6h0.9v0.9h-0.9zM85.1 249.1h0.9v0.9h-0.9zM84.6 250.1h0.9v0.9h-0.9zM79.0 249.3h0.9v0.9h-0.9zM78.7 250.0h0.9v0.9h-0.9zM82.2 247.4h0.9v0.9h-0.9zM83.5 247.2h0.9v0.9h-0.9zM81.6 247.5h0.9v0.9h-0.9zM85.1 248.4h0.9v0.9h-0.9zM80.5 250.9h0.9v0.9h-0.9zM83.4 247.4h0.9v0.9h-0.9zM84.0 247.6h0.9v0.9h-0.9zM81.6 247.1h0.9v0.9h-0.9zM80.0 247.5h0.9v0.9h-0.9zM82.8 247.0h0.9v0.9h-0.9zM79.2 248.8h0.9v0.9h-0.9zM78.8 249.3h0.9v0.9h-0.9zM82.5 251.0h0.9v0.9h-0.9zM85.3 249.5h0.9v0.9h-0.9zM78.7 249.9h0.9v0.9h-0.9zM79.5 248.5h0.9v0.9h-0.9zM85.6 248.7h0.9v0.9h-0.9zM79.0 250.3h0.9v0.9h-0.9z" fill="rgb(176, 205, 56)" fill-opacity="0.75"/>
<path d="M84.3 249.5h0.9v0.9h-0.9zM84.0 249.8h0.9v0.9h-0.9zM80.6 249.4h0.9v0.9h-0.9zM80.3 249.7h0.9v0.9h-0.9zM81.7 248.1h0.9v0.9h-0.9zM80.4 248.6h0.9v0.9h-0.9zM84.4 249.0h0.9v0.9h-0.9zM83.8 249.0h0.9v0.9h-0.9zM82.0 247.6h0.9v0.9h-0.9zM83.7 249.2h0.9v0.9h-0.9zM79.9 250.0h0.9v0.9h-0.9zM80.8 250.3h0.9v0.9h-0.9zM83.4 247.7h0.9v0.9h-0.9zM84.5 249.3h0.9v0.9h-0.9zM81.7 248.3h0.9v0.9h-0.9zM81.6 250.1h0.9v0.9h-0.9zM83.4 250.1h0.9v0.9h-0.9zM81.6 247.7h0.9v0.9h-0.9zM82.7 248.3h0.9v0.9h-0.9zM83.8 249.8h0.9v0.9h-0.9zM82.6 250.0h0.9v0.9h-0.9zM79.5 249.2h0.9v0.9h-0.9zM83.2 248.1h0.9v0.9h-0.9zM82.3 249.7h0.9v0.9h-0.9zM79.7 249.9h0.9v0.9h-0.9zM84.4 249.5h0.9v0.9h-0.9zM83.7 249.5h0.9v0.9h-0.9zM83.5 247.6h0.9v0.9h-0.9zM81.7 247.9h0.9v0.9h-0.9zM80.5 250.4h0.9v0.9h-0.9zM83.8 248.0h0.9v0.9h-0.9zM82.5 249.7h0.9v0.9h-0.9zM83.4 248.1h0.9v0.9h-0.9zM84.3 249.1h0.9v0.9h-0.9zM83.5 249.9h0.9v0.9h-0.9zM82.6 250.3h0.9v0.9h-0.9zM79.8 248.6h0.9v0.9h-0.9zM83.6 249.3h0.9v0.9h-0.9zM82.3 247.6h0.9v0.9h-0.9zM80.1 248.3h0.9v0.9h-0.9zM82.0 249.8h0.9v0.9h-0.9zM83.8 249.5h0.9v0.9h-0.9zM84.7 248.3h0.9v0.9h-0.9zM80.4 250.3h0.9v0.9h-0.9zM82.3 250.4h0.9v0.9h-0.9zM84.0 249.2h0.9v0.9h-0.9zM79.7 248.7h0.9v0.9h-0.9zM80.1 249.9h0.9v0.9h-0.9zM79.8 249.6h0.9v0.9h-0.9zM83.6 248.3h0.9v0.9h-0.9zM83.9 249.3h0.9v0.9h-0.9zM83.3 249.9h0.9v0.9h-0.9zM83.4 250.2h0.9v0.9h-0.9zM80.5 250.1h0.9v0.9h-0.9z" fill="rgb(229, 188, 37)" fill-opacity="0.75"/>
<path d="M82.7 249.3h0.9v0.9h-0.9zM81.6 249.4h0.9v0.9h-0.9zM82.8 249.4h0.9v0.9h-0.9zM81.6 249.3h0.9v0.9h-0.9zM82.0 248.4h0.9v0.9h-0.9zM82.1 248.6h0.9v0.9h-0.9zM83.0 249.1h0.9v0.9h-0.9zM82.5 249.3h0.9v0.9h-0.9zM82.9 249.2h0.9v0.9h-0.9zM81.1 249.2h0.9v0.9h-0.9zM82.6 249.1h0.9v0.9h-0.9zM83.1 248.8h0.9v0.9h-0.9zM81.6 249.7h0.9v0.9h-0.9zM82.5 249.6h0.9v0.9h-0.9zM81.5 248.9h0.9v0.9h-0.9z" fill="rgb(239, 122, 30)" fill-opacity="0.75"/>
<line x1="67.20" y1="260.00" x2="67.20" y2="262.60" stroke="#111" stroke-width="0.5"/>
<line x1="70.68" y1="260.00" x2="70.68" y2="261.00" stroke="#111" stroke-width="0.5"/>
<line x1="72.72" y1="260.00" x2="72.72" y2="261.00" stroke="#111" stroke-width="0.5"/>
<line x1="74.16" y1="260.00" x2="74.16" y2="261.00" stroke="#111" stroke-width="0.5"/>
<line x1="75.28" y1="260.00" x2="75.28" y2="261.00" stroke="#111" stroke-width="0.5"/>
<line x1="76.20" y1="260.00" x2="76.20" y2="261.00" stroke="#111" stroke-width="0.5"/>
<line x1="76.97" y1="260.00" x2="76.97" y2="261.00" stroke="#111" stroke-width="0.5"/>
<line x1="77.64" y1="260.00" x2="77.64" y2="261.00" stroke="#111" stroke-width="0.5"/>
<line x1="78.23" y1="260.00" x2="78.23" y2="261.00" stroke="#111" stroke-width="0.5"/>
<line x1="78.76" y1="260.00" x2="78.76" y2="262.60" stroke="#111" stroke-width="0.5"/>
<line x1="82.24" y1="260.00" x2="82.24" y2="261.00" stroke="#111" stroke-width="0.5"/>
<line x1="84.28" y1="260.00" x2="84.28" y2="261.00" stroke="#111" stroke-width="0.5"/>
<line x1="85.72" y1="260.00" x2="85.72" y2="261.00" stroke="#111" stroke-width="0.5"/>
<line x1="86.84" y1="260.00" x2="86.84" y2="261.00" stroke="#111" stroke-width="0.5"/>
<line x1="87.76" y1="260.00" x2="87.76" y2="261.00" stroke="#111" stroke-width="0.5"/>
<line x1="88.53" y1="260.00" x2="88.53" y2="261.00" stroke="#111" stroke-width="0.5"/>
<line x1="89.20" y1="260.00" x2="89.20" y2="261.00" stroke="#111" stroke-width="0.5"/>
<line x1="89.79" y1="260.00" x2="89.79" y2="261.00" stroke="#111" stroke-width="0.5"/>
<line x1="90.32" y1="260.00" x2="90.32" y2="262.60" stroke="#111" stroke-width="0.5"/>
<line x1="93.80" y1="260.00" x2="93.80" y2="261.00" stroke="#111" stroke-width="0.5"/>
<line x1="95.84" y1="260.00" x2="95.84" y2="261.00" stroke="#111" stroke-width="0.5"/>
<line x1="97.28" y1="260.00" x2="97.28" y2="261.00" stroke="#111" stroke-width="0.5"/>
<line x1="98.40" y1="260.00" x2="98.40" y2="261.00" stroke="#111" stroke-width="0.5"/>
<line x1="99.32" y1="260.00" x2="99.32" y2="261.00" stroke="#111" stroke-width="0.5"/>
<line x1="100.09" y1="260.00" x2="100.09" y2="261.00" stroke="#111" stroke-width="0.5"/>
<line x1="100.76" y1="260.00" x2="100.76" y2="261.00" stroke="#111" stroke-width="0.5"/>
<line x1="101.35" y1="260.00" x2="101.35" y2="261.00" stroke="#111" stroke-width="0.5"/>
<line x1="101.88" y1="260.00" x2="101.88" y2="262.60" stroke="#111" stroke-width="0.5"/>
<line x1="105.36" y1="260.00" x2="105.36" y2="261.00" stroke="#111" stroke-width="0.5"/>
<line x1="107.40" y1="260.00" x2="107.40" y2="261.00" stroke="#111" stroke-width="0.5"/>
<line x1="108.84" y1="260.00" x2="108.84" y2="261.00" stroke="#111" stroke-width="0.5"/>
<line x1="109.96" y1="260.00" x2="109.96" y2="261.00" stroke="#111" stroke-width="0.5"/>
<line x1="110.88" y1="260.00" x2="110.88" y2="261.00" stroke="#111" stroke-width="0.5"/>
<line x1="111.65" y1="260.00" x2="111.65" y2="261.00" stroke="#111" stroke-width="0.5"/>
<line x1="112.32" y1="260.00" x2="112.32" y2="261.00" stroke="#111" stroke-width="0.5"/>
<line x1="112.91" y1="260.00" x2="112.91" y2="261.00" stroke="#111" stroke-width="0.5"/>
<line x1="113.44" y1="260.00" x2="113.44" y2="262.60" stroke="#111" stroke-width="0.5"/>
<line x1="116.92" y1="260.00" x2="116.92" y2="261.00" stroke="#111" stroke-width="0.5"/>
<line x1="118.96" y1="260.00" x2="118.96" y2="261.00" stroke="#111" stroke-width="0.5"/>
<line x1="120.40" y1="260.00" x2="120.40" y2="261.00" stroke="#111" stroke-width="0.5"/>
<line x1="121.52" y1="260.00" x2="121.52" y2="261.00" stroke="#111" stroke-width="0.5"/>
<line x1="122.44" y1="260.00" x2="122.44" y2="261.00" stroke="#111" stroke-width="0.5"/>
<line x1="123.21" y1="260.00" x2="123.21" y2="261.00" stroke="#111" stroke-width="0.5"/>
<line x1="123.88" y1="260.00" x2="123.88" y2="261.00" stroke="#111" stroke-width="0.5"/>
<line x1="124.47" y1="260.00" x2="124.47" y2="261.00" stroke="#111" stroke-width="0.5"/>
<line x1="125.00" y1="260.00" x2="125.00" y2="262.60" stroke="#111" stroke-width="0.5"/>
<line x1="64.40" y1="260.00" x2="67.20" y2="260.00" stroke="#111" stroke-width="0.5"/>
<line x1="66.20" y1="255.67" x2="67.20" y2="255.67" stroke="#111" stroke-width="0.5"/>
<line x1="66.20" y1="253.13" x2="67.20" y2="253.13" stroke="#111" stroke-width="0.5"/>
<line x1="66.20" y1="251.33" x2="67.20" y2="251.33" stroke="#111" stroke-width="0.5"/>
<line x1="66.20" y1="249.93" x2="67.20" y2="249.93" stroke="#111" stroke-width="0.5"/>
<line x1="66.20" y1="248.79" x2="67.20" y2="248.79" stroke="#111" stroke-width="0.5"/>
<line x1="66.20" y1="247.83" x2="67.20" y2="247.83" stroke="#111" stroke-width="0.5"/>
<line x1="66.20" y1="247.00" x2="67.20" y2="247.00" stroke="#111" stroke-width="0.5"/>
<line x1="66.20" y1="246.26" x2="67.20" y2="246.26" stroke="#111" stroke-width="0.5"/>
<line x1="64.40" y1="245.60" x2="67.20" y2="245.60" stroke="#111" stroke-width="0.5"/>
<line x1="66.20" y1="241.27" x2="67.20" y2="241.27" stroke="#111" stroke-width="0.5"/>
<line x1="66.20" y1="238.73" x2="67.20" y2="238.73" stroke="#111" stroke-width="0.5"/>
<line x1="66.20" y1="236.93" x2="67.20" y2="236.93" stroke="#111" stroke-width="0.5"/>
<line x1="66.20" y1="235.53" x2="67.20" y2="235.53" stroke="#111" stroke-width="0.5"/>
<line x1="66.20" y1="234.39" x2="67.20" y2="234.39" stroke="#111" stroke-width="0.5"/>
<line x1="66.20" y1="233.43" x2="67.20" y2="233.43" stroke="#111" stroke-width="0.5"/>
<line x1="66.20" y1="232.60" x2="67.20" y2="232.60" stroke="#111" stroke-width="0.5"/>
<line x1="66.20" y1="231.86" x2="67.20" y2="231.86" stroke="#111" stroke-width="0.5"/>
<line x1="64.40" y1="231.20" x2="67.20" y2="231.20" stroke="#111" stroke-width="0.5"/>
<line x1="66.20" y1="226.87" x2="67.20" y2="226.87" stroke="#111" stroke-width="0.5"/>
<line x1="66.20" y1="224.33" x2="67.20" y2="224.33" stroke="#111" stroke-width="0.5"/>
<line x1="66.20" y1="222.53" x2="67.20" y2="222.53" stroke="#111" stroke-width="0.5"/>
<line x1="66.20" y1="221.13" x2="67.20" y2="221.13" stroke="#111" stroke-width="0.5"/>
<line x1="66.20" y1="219.99" x2="67.20" y2="219.99" stroke="#111" stroke-width="0.5"/>
<line x1="66.20" y1="219.03" x2="67.20" y2="219.03" stroke="#111" stroke-width="0.5"/>
<line x1="66.20" y1="218.20" x2="67.20" y2="218.20" stroke="#111" stroke-width="0.5"/>
<line x1="66.20" y1="217.46" x2="67.20" y2="217.46" stroke="#111" stroke-width="0.5"/>
<line x1="64.40" y1="216.80" x2="67.20" y2="216.80" stroke="#111" stroke-width="0.5"/>
<line x1="66.20" y1="212.47" x2="67.20" y2="212.47" stroke="#111" stroke-width="0.5"/>
<line x1="66.20" y1="209.93" x2="67.20" y2="209.93" stroke="#111" stroke-width="0.5"/>
<line x1="66.20" y1="208.13" x2="67.20" y2="208.13" stroke="#111" stroke-width="0.5"/>
<line x1="66.20" y1="206.73" x2="67.20" y2="206.73" stroke="#111" stroke-width="0.5"/>
<line x1="66.20" y1="205.59" x2="67.20" y2="205.59" stroke="#111" stroke-width="0.5"/>
<line x1="66.20" y1="204.63" x2="67.20" y2="204.63" stroke="#111" stroke-width="0.5"/>
<line x1="66.20" y1="203.80" x2="67.20" y2="203.80" stroke="#111" stroke-width="0.5"/>
<line x1="66.20" y1="203.06" x2="67.20" y2="203.06" stroke="#111" stroke-width="0.5"/>
<line x1="64.40" y1="202.40" x2="67.20" y2="202.40" stroke="#111" stroke-width="0.5"/>
<rect x="67.20" y="202.40" width="57.80" height="57.60" fill="none" stroke="#111" stroke-width="1.3"/>
<rect x="102.30" y="222.40" width="10.40" height="34.00" rx="1" fill="none" stroke="#6a6a6a" stroke-width="0.7"/>
<line x1="102.80" y1="242.60" x2="112.20" y2="242.60" stroke="#222" stroke-width="0.8"/>
<text x="101.80" y="237.20" font-size="4.9" text-anchor="end" fill="#111" stroke="#111" stroke-width="0.15" font-weight="bold" font-family="Liberation Serif" textLength="12.4" lengthAdjust="spacingAndGlyphs">14,9%</text>
<text x="101.80" y="251.10" font-size="4.9" text-anchor="end" fill="#111" stroke="#111" stroke-width="0.15" font-weight="bold" font-family="Liberation Serif" textLength="12.4" lengthAdjust="spacingAndGlyphs">8,37%</text>
<text x="160.30" y="26.80" font-size="6.1" text-anchor="end" fill="#1a1a1a" stroke="#1a1a1a" stroke-width="0.12">30</text>
<line x1="164.10" y1="24.60" x2="166.30" y2="24.60" stroke="#111" stroke-width="0.6"/>
<text x="160.30" y="46.20" font-size="6.1" text-anchor="end" fill="#1a1a1a" stroke="#1a1a1a" stroke-width="0.12">20</text>
<line x1="164.10" y1="44.00" x2="166.30" y2="44.00" stroke="#111" stroke-width="0.6"/>
<text x="160.30" y="65.50" font-size="6.1" text-anchor="end" fill="#1a1a1a" stroke="#1a1a1a" stroke-width="0.12">10</text>
<line x1="164.10" y1="63.30" x2="166.30" y2="63.30" stroke="#111" stroke-width="0.6"/>
<text x="160.30" y="84.80" font-size="6.1" text-anchor="end" fill="#1a1a1a" stroke="#1a1a1a" stroke-width="0.12">0</text>
<line x1="164.10" y1="82.60" x2="166.30" y2="82.60" stroke="#111" stroke-width="0.6"/>
<line x1="165.20" y1="29.45" x2="166.30" y2="29.45" stroke="#111" stroke-width="0.4"/>
<line x1="165.20" y1="34.30" x2="166.30" y2="34.30" stroke="#111" stroke-width="0.4"/>
<line x1="165.20" y1="39.15" x2="166.30" y2="39.15" stroke="#111" stroke-width="0.4"/>
<line x1="165.20" y1="48.83" x2="166.30" y2="48.83" stroke="#111" stroke-width="0.4"/>
<line x1="165.20" y1="53.65" x2="166.30" y2="53.65" stroke="#111" stroke-width="0.4"/>
<line x1="165.20" y1="58.47" x2="166.30" y2="58.47" stroke="#111" stroke-width="0.4"/>
<line x1="165.20" y1="68.12" x2="166.30" y2="68.12" stroke="#111" stroke-width="0.4"/>
<line x1="165.20" y1="72.95" x2="166.30" y2="72.95" stroke="#111" stroke-width="0.4"/>
<line x1="165.20" y1="77.77" x2="166.30" y2="77.77" stroke="#111" stroke-width="0.4"/>
<text x="166.60" y="96.50" font-size="6.8" text-anchor="middle" fill="#1a1a1a" stroke="#1a1a1a" stroke-width="0.2" textLength="8.0" lengthAdjust="spacingAndGlyphs">10<tspan font-size="4.22" dx="0.25" dy="-2.99" stroke-width="0.06">2</tspan></text>
<text x="180.90" y="96.50" font-size="6.8" text-anchor="middle" fill="#1a1a1a" stroke="#1a1a1a" stroke-width="0.2" textLength="8.0" lengthAdjust="spacingAndGlyphs">10<tspan font-size="4.22" dx="0.25" dy="-2.99" stroke-width="0.06">3</tspan></text>
<text x="195.20" y="96.50" font-size="6.8" text-anchor="middle" fill="#1a1a1a" stroke="#1a1a1a" stroke-width="0.2" textLength="8.0" lengthAdjust="spacingAndGlyphs">10<tspan font-size="4.22" dx="0.25" dy="-2.99" stroke-width="0.06">4</tspan></text>
<text x="209.50" y="96.50" font-size="6.8" text-anchor="middle" fill="#1a1a1a" stroke="#1a1a1a" stroke-width="0.2" textLength="8.0" lengthAdjust="spacingAndGlyphs">10<tspan font-size="4.22" dx="0.25" dy="-2.99" stroke-width="0.06">5</tspan></text>
<text x="223.80" y="96.50" font-size="6.8" text-anchor="middle" fill="#1a1a1a" stroke="#1a1a1a" stroke-width="0.2" textLength="8.0" lengthAdjust="spacingAndGlyphs">10<tspan font-size="4.22" dx="0.25" dy="-2.99" stroke-width="0.06">6</tspan></text>
<line x1="166.30" y1="82.60" x2="166.30" y2="84.80" stroke="#111" stroke-width="0.5"/>
<line x1="170.68" y1="82.60" x2="170.68" y2="83.60" stroke="#111" stroke-width="0.5"/>
<line x1="173.24" y1="82.60" x2="173.24" y2="83.60" stroke="#111" stroke-width="0.5"/>
<line x1="175.06" y1="82.60" x2="175.06" y2="83.60" stroke="#111" stroke-width="0.5"/>
<line x1="176.47" y1="82.60" x2="176.47" y2="83.60" stroke="#111" stroke-width="0.5"/>
<line x1="177.62" y1="82.60" x2="177.62" y2="83.60" stroke="#111" stroke-width="0.5"/>
<line x1="178.60" y1="82.60" x2="178.60" y2="83.60" stroke="#111" stroke-width="0.5"/>
<line x1="179.44" y1="82.60" x2="179.44" y2="83.60" stroke="#111" stroke-width="0.5"/>
<line x1="180.18" y1="82.60" x2="180.18" y2="83.60" stroke="#111" stroke-width="0.5"/>
<line x1="180.85" y1="82.60" x2="180.85" y2="84.80" stroke="#111" stroke-width="0.5"/>
<line x1="185.23" y1="82.60" x2="185.23" y2="83.60" stroke="#111" stroke-width="0.5"/>
<line x1="187.79" y1="82.60" x2="187.79" y2="83.60" stroke="#111" stroke-width="0.5"/>
<line x1="189.61" y1="82.60" x2="189.61" y2="83.60" stroke="#111" stroke-width="0.5"/>
<line x1="191.02" y1="82.60" x2="191.02" y2="83.60" stroke="#111" stroke-width="0.5"/>
<line x1="192.17" y1="82.60" x2="192.17" y2="83.60" stroke="#111" stroke-width="0.5"/>
<line x1="193.15" y1="82.60" x2="193.15" y2="83.60" stroke="#111" stroke-width="0.5"/>
<line x1="193.99" y1="82.60" x2="193.99" y2="83.60" stroke="#111" stroke-width="0.5"/>
<line x1="194.73" y1="82.60" x2="194.73" y2="83.60" stroke="#111" stroke-width="0.5"/>
<line x1="195.40" y1="82.60" x2="195.40" y2="84.80" stroke="#111" stroke-width="0.5"/>
<line x1="199.78" y1="82.60" x2="199.78" y2="83.60" stroke="#111" stroke-width="0.5"/>
<line x1="202.34" y1="82.60" x2="202.34" y2="83.60" stroke="#111" stroke-width="0.5"/>
<line x1="204.16" y1="82.60" x2="204.16" y2="83.60" stroke="#111" stroke-width="0.5"/>
<line x1="205.57" y1="82.60" x2="205.57" y2="83.60" stroke="#111" stroke-width="0.5"/>
<line x1="206.72" y1="82.60" x2="206.72" y2="83.60" stroke="#111" stroke-width="0.5"/>
<line x1="207.70" y1="82.60" x2="207.70" y2="83.60" stroke="#111" stroke-width="0.5"/>
<line x1="208.54" y1="82.60" x2="208.54" y2="83.60" stroke="#111" stroke-width="0.5"/>
<line x1="209.28" y1="82.60" x2="209.28" y2="83.60" stroke="#111" stroke-width="0.5"/>
<line x1="209.95" y1="82.60" x2="209.95" y2="84.80" stroke="#111" stroke-width="0.5"/>
<line x1="214.33" y1="82.60" x2="214.33" y2="83.60" stroke="#111" stroke-width="0.5"/>
<line x1="216.89" y1="82.60" x2="216.89" y2="83.60" stroke="#111" stroke-width="0.5"/>
<line x1="218.71" y1="82.60" x2="218.71" y2="83.60" stroke="#111" stroke-width="0.5"/>
<line x1="220.12" y1="82.60" x2="220.12" y2="83.60" stroke="#111" stroke-width="0.5"/>
<line x1="221.27" y1="82.60" x2="221.27" y2="83.60" stroke="#111" stroke-width="0.5"/>
<line x1="222.25" y1="82.60" x2="222.25" y2="83.60" stroke="#111" stroke-width="0.5"/>
<line x1="223.09" y1="82.60" x2="223.09" y2="83.60" stroke="#111" stroke-width="0.5"/>
<line x1="223.83" y1="82.60" x2="223.83" y2="83.60" stroke="#111" stroke-width="0.5"/>
<line x1="224.50" y1="82.60" x2="224.50" y2="84.80" stroke="#111" stroke-width="0.5"/>
<path d="M166.60,77.50 C166.83,76.75 167.52,74.17 168.00,73.00 C168.48,71.83 169.00,71.17 169.50,70.50 C170.00,69.83 170.50,70.75 171.00,69.00 C171.50,67.25 172.00,63.67 172.50,60.00 C173.00,56.33 173.50,50.25 174.00,47.00 C174.50,43.75 175.00,41.33 175.50,40.50 C176.00,39.67 176.50,40.42 177.00,42.00 C177.50,43.58 178.00,46.50 178.50,50.00 C179.00,53.50 179.50,58.50 180.00,63.00 C180.50,67.50 181.00,73.77 181.50,77.00 C182.00,80.23 182.58,81.47 183.00,82.40 C183.42,83.33 183.83,82.57 184.00,82.60" fill="none" stroke="#4f9de0" stroke-width="0.9" stroke-linejoin="round"/>
<rect x="166.30" y="24.60" width="58.20" height="58.00" fill="none" stroke="#111" stroke-width="1.1"/>
<line x1="184.50" y1="72.50" x2="224.50" y2="72.50" stroke="#222" stroke-width="1.0"/>
<line x1="184.50" y1="71.30" x2="184.50" y2="73.70" stroke="#222" stroke-width="0.8"/>
<text x="221.50" y="33.10" font-size="5.5" text-anchor="end" fill="#1a1a1a" stroke="#1a1a1a" stroke-width="0.12" textLength="28.7" lengthAdjust="spacingAndGlyphs">B220+IgM+</text>
<text x="204.50" y="60.80" font-size="5.5" text-anchor="middle" fill="#1a1a1a" stroke="#1a1a1a" stroke-width="0.12" textLength="14.3" lengthAdjust="spacingAndGlyphs">GFP+</text>
<text x="204.50" y="67.00" font-size="5.5" text-anchor="middle" fill="#1a1a1a" stroke="#1a1a1a" stroke-width="0.12" textLength="6.8" lengthAdjust="spacingAndGlyphs">0%</text>
<text x="242.60" y="25.90" font-size="6.1" text-anchor="end" fill="#1a1a1a" stroke="#1a1a1a" stroke-width="0.12">15</text>
<line x1="246.40" y1="23.70" x2="248.60" y2="23.70" stroke="#111" stroke-width="0.6"/>
<text x="242.60" y="45.70" font-size="6.1" text-anchor="end" fill="#1a1a1a" stroke="#1a1a1a" stroke-width="0.12">10</text>
<line x1="246.40" y1="43.50" x2="248.60" y2="43.50" stroke="#111" stroke-width="0.6"/>
<text x="242.60" y="65.60" font-size="6.1" text-anchor="end" fill="#1a1a1a" stroke="#1a1a1a" stroke-width="0.12">5,0</text>
<line x1="246.40" y1="63.40" x2="248.60" y2="63.40" stroke="#111" stroke-width="0.6"/>
<text x="242.60" y="85.50" font-size="6.1" text-anchor="end" fill="#1a1a1a" stroke="#1a1a1a" stroke-width="0.12">0</text>
<line x1="246.40" y1="83.30" x2="248.60" y2="83.30" stroke="#111" stroke-width="0.6"/>
<line x1="247.50" y1="28.65" x2="248.60" y2="28.65" stroke="#111" stroke-width="0.4"/>
<line x1="247.50" y1="33.60" x2="248.60" y2="33.60" stroke="#111" stroke-width="0.4"/>
<line x1="247.50" y1="38.55" x2="248.60" y2="38.55" stroke="#111" stroke-width="0.4"/>
<line x1="247.50" y1="48.48" x2="248.60" y2="48.48" stroke="#111" stroke-width="0.4"/>
<line x1="247.50" y1="53.45" x2="248.60" y2="53.45" stroke="#111" stroke-width="0.4"/>
<line x1="247.50" y1="58.42" x2="248.60" y2="58.42" stroke="#111" stroke-width="0.4"/>
<line x1="247.50" y1="68.38" x2="248.60" y2="68.38" stroke="#111" stroke-width="0.4"/>
<line x1="247.50" y1="73.35" x2="248.60" y2="73.35" stroke="#111" stroke-width="0.4"/>
<line x1="247.50" y1="78.33" x2="248.60" y2="78.33" stroke="#111" stroke-width="0.4"/>
<text x="248.90" y="97.20" font-size="6.8" text-anchor="middle" fill="#1a1a1a" stroke="#1a1a1a" stroke-width="0.2" textLength="8.0" lengthAdjust="spacingAndGlyphs">10<tspan font-size="4.22" dx="0.25" dy="-2.99" stroke-width="0.06">2</tspan></text>
<text x="263.12" y="97.20" font-size="6.8" text-anchor="middle" fill="#1a1a1a" stroke="#1a1a1a" stroke-width="0.2" textLength="8.0" lengthAdjust="spacingAndGlyphs">10<tspan font-size="4.22" dx="0.25" dy="-2.99" stroke-width="0.06">3</tspan></text>
<text x="277.35" y="97.20" font-size="6.8" text-anchor="middle" fill="#1a1a1a" stroke="#1a1a1a" stroke-width="0.2" textLength="8.0" lengthAdjust="spacingAndGlyphs">10<tspan font-size="4.22" dx="0.25" dy="-2.99" stroke-width="0.06">4</tspan></text>
<text x="291.57" y="97.20" font-size="6.8" text-anchor="middle" fill="#1a1a1a" stroke="#1a1a1a" stroke-width="0.2" textLength="8.0" lengthAdjust="spacingAndGlyphs">10<tspan font-size="4.22" dx="0.25" dy="-2.99" stroke-width="0.06">5</tspan></text>
<text x="305.80" y="97.20" font-size="6.8" text-anchor="middle" fill="#1a1a1a" stroke="#1a1a1a" stroke-width="0.2" textLength="8.0" lengthAdjust="spacingAndGlyphs">10<tspan font-size="4.22" dx="0.25" dy="-2.99" stroke-width="0.06">6</tspan></text>
<line x1="248.60" y1="83.30" x2="248.60" y2="85.50" stroke="#111" stroke-width="0.5"/>
<line x1="252.96" y1="83.30" x2="252.96" y2="84.30" stroke="#111" stroke-width="0.5"/>
<line x1="255.51" y1="83.30" x2="255.51" y2="84.30" stroke="#111" stroke-width="0.5"/>
<line x1="257.31" y1="83.30" x2="257.31" y2="84.30" stroke="#111" stroke-width="0.5"/>
<line x1="258.72" y1="83.30" x2="258.72" y2="84.30" stroke="#111" stroke-width="0.5"/>
<line x1="259.86" y1="83.30" x2="259.86" y2="84.30" stroke="#111" stroke-width="0.5"/>
<line x1="260.83" y1="83.30" x2="260.83" y2="84.30" stroke="#111" stroke-width="0.5"/>
<line x1="261.67" y1="83.30" x2="261.67" y2="84.30" stroke="#111" stroke-width="0.5"/>
<line x1="262.41" y1="83.30" x2="262.41" y2="84.30" stroke="#111" stroke-width="0.5"/>
<line x1="263.07" y1="83.30" x2="263.07" y2="85.50" stroke="#111" stroke-width="0.5"/>
<line x1="267.43" y1="83.30" x2="267.43" y2="84.30" stroke="#111" stroke-width="0.5"/>
<line x1="269.98" y1="83.30" x2="269.98" y2="84.30" stroke="#111" stroke-width="0.5"/>
<line x1="271.79" y1="83.30" x2="271.79" y2="84.30" stroke="#111" stroke-width="0.5"/>
<line x1="273.19" y1="83.30" x2="273.19" y2="84.30" stroke="#111" stroke-width="0.5"/>
<line x1="274.34" y1="83.30" x2="274.34" y2="84.30" stroke="#111" stroke-width="0.5"/>
<line x1="275.31" y1="83.30" x2="275.31" y2="84.30" stroke="#111" stroke-width="0.5"/>
<line x1="276.15" y1="83.30" x2="276.15" y2="84.30" stroke="#111" stroke-width="0.5"/>
<line x1="276.89" y1="83.30" x2="276.89" y2="84.30" stroke="#111" stroke-width="0.5"/>
<line x1="277.55" y1="83.30" x2="277.55" y2="85.50" stroke="#111" stroke-width="0.5"/>
<line x1="281.91" y1="83.30" x2="281.91" y2="84.30" stroke="#111" stroke-width="0.5"/>
<line x1="284.46" y1="83.30" x2="284.46" y2="84.30" stroke="#111" stroke-width="0.5"/>
<line x1="286.26" y1="83.30" x2="286.26" y2="84.30" stroke="#111" stroke-width="0.5"/>
<line x1="287.67" y1="83.30" x2="287.67" y2="84.30" stroke="#111" stroke-width="0.5"/>
<line x1="288.81" y1="83.30" x2="288.81" y2="84.30" stroke="#111" stroke-width="0.5"/>
<line x1="289.78" y1="83.30" x2="289.78" y2="84.30" stroke="#111" stroke-width="0.5"/>
<line x1="290.62" y1="83.30" x2="290.62" y2="84.30" stroke="#111" stroke-width="0.5"/>
<line x1="291.36" y1="83.30" x2="291.36" y2="84.30" stroke="#111" stroke-width="0.5"/>
<line x1="292.02" y1="83.30" x2="292.02" y2="85.50" stroke="#111" stroke-width="0.5"/>
<line x1="296.38" y1="83.30" x2="296.38" y2="84.30" stroke="#111" stroke-width="0.5"/>
<line x1="298.93" y1="83.30" x2="298.93" y2="84.30" stroke="#111" stroke-width="0.5"/>
<line x1="300.74" y1="83.30" x2="300.74" y2="84.30" stroke="#111" stroke-width="0.5"/>
<line x1="302.14" y1="83.30" x2="302.14" y2="84.30" stroke="#111" stroke-width="0.5"/>
<line x1="303.29" y1="83.30" x2="303.29" y2="84.30" stroke="#111" stroke-width="0.5"/>
<line x1="304.26" y1="83.30" x2="304.26" y2="84.30" stroke="#111" stroke-width="0.5"/>
<line x1="305.10" y1="83.30" x2="305.10" y2="84.30" stroke="#111" stroke-width="0.5"/>
<line x1="305.84" y1="83.30" x2="305.84" y2="84.30" stroke="#111" stroke-width="0.5"/>
<line x1="306.50" y1="83.30" x2="306.50" y2="85.50" stroke="#111" stroke-width="0.5"/>
<path d="M249.00,79.00 C249.25,78.50 250.00,77.33 250.50,76.00 C251.00,74.67 251.48,72.58 252.00,71.00 C252.52,69.42 253.10,68.83 253.60,66.50 C254.10,64.17 254.57,59.67 255.00,57.00 C255.43,54.33 255.77,51.17 256.20,50.50 C256.63,49.83 257.10,52.83 257.60,53.00 C258.10,53.17 258.72,50.83 259.20,51.50 C259.68,52.17 260.12,54.58 260.50,57.00 C260.88,59.42 261.12,63.00 261.50,66.00 C261.88,69.00 262.38,72.50 262.80,75.00 C263.22,77.50 263.58,79.63 264.00,81.00 C264.42,82.37 265.08,82.83 265.30,83.20" fill="none" stroke="#4f9de0" stroke-width="0.9" stroke-linejoin="round"/>
<rect x="248.60" y="23.70" width="57.90" height="59.60" fill="none" stroke="#111" stroke-width="1.1"/>
<line x1="267.00" y1="74.00" x2="306.50" y2="74.00" stroke="#222" stroke-width="1.0"/>
<line x1="267.00" y1="72.80" x2="267.00" y2="75.20" stroke="#222" stroke-width="0.8"/>
<text x="303.50" y="32.20" font-size="5.5" text-anchor="end" fill="#1a1a1a" stroke="#1a1a1a" stroke-width="0.12" textLength="28.7" lengthAdjust="spacingAndGlyphs">B220+IgM-</text>
<text x="286.70" y="62.50" font-size="5.5" text-anchor="middle" fill="#1a1a1a" stroke="#1a1a1a" stroke-width="0.12" textLength="14.3" lengthAdjust="spacingAndGlyphs">GFP+</text>
<text x="286.70" y="68.70" font-size="5.5" text-anchor="middle" fill="#1a1a1a" stroke="#1a1a1a" stroke-width="0.12" textLength="6.8" lengthAdjust="spacingAndGlyphs">0%</text>
<text x="160.30" y="123.20" font-size="6.1" text-anchor="end" fill="#1a1a1a" stroke="#1a1a1a" stroke-width="0.12">80</text>
<line x1="164.10" y1="121.00" x2="166.30" y2="121.00" stroke="#111" stroke-width="0.6"/>
<text x="160.30" y="135.80" font-size="6.1" text-anchor="end" fill="#1a1a1a" stroke="#1a1a1a" stroke-width="0.12">60</text>
<line x1="164.10" y1="133.60" x2="166.30" y2="133.60" stroke="#111" stroke-width="0.6"/>
<text x="160.30" y="148.20" font-size="6.1" text-anchor="end" fill="#1a1a1a" stroke="#1a1a1a" stroke-width="0.12">40</text>
<line x1="164.10" y1="146.00" x2="166.30" y2="146.00" stroke="#111" stroke-width="0.6"/>
<text x="160.30" y="160.70" font-size="6.1" text-anchor="end" fill="#1a1a1a" stroke="#1a1a1a" stroke-width="0.12">20</text>
<line x1="164.10" y1="158.50" x2="166.30" y2="158.50" stroke="#111" stroke-width="0.6"/>
<text x="160.30" y="173.20" font-size="6.1" text-anchor="end" fill="#1a1a1a" stroke="#1a1a1a" stroke-width="0.12">0</text>
<line x1="164.10" y1="171.00" x2="166.30" y2="171.00" stroke="#111" stroke-width="0.6"/>
<line x1="165.20" y1="124.15" x2="166.30" y2="124.15" stroke="#111" stroke-width="0.4"/>
<line x1="165.20" y1="127.30" x2="166.30" y2="127.30" stroke="#111" stroke-width="0.4"/>
<line x1="165.20" y1="130.45" x2="166.30" y2="130.45" stroke="#111" stroke-width="0.4"/>
<line x1="165.20" y1="136.70" x2="166.30" y2="136.70" stroke="#111" stroke-width="0.4"/>
<line x1="165.20" y1="139.80" x2="166.30" y2="139.80" stroke="#111" stroke-width="0.4"/>
<line x1="165.20" y1="142.90" x2="166.30" y2="142.90" stroke="#111" stroke-width="0.4"/>
<line x1="165.20" y1="149.12" x2="166.30" y2="149.12" stroke="#111" stroke-width="0.4"/>
<line x1="165.20" y1="152.25" x2="166.30" y2="152.25" stroke="#111" stroke-width="0.4"/>
<line x1="165.20" y1="155.38" x2="166.30" y2="155.38" stroke="#111" stroke-width="0.4"/>
<line x1="165.20" y1="161.62" x2="166.30" y2="161.62" stroke="#111" stroke-width="0.4"/>
<line x1="165.20" y1="164.75" x2="166.30" y2="164.75" stroke="#111" stroke-width="0.4"/>
<line x1="165.20" y1="167.88" x2="166.30" y2="167.88" stroke="#111" stroke-width="0.4"/>
<text x="166.60" y="184.90" font-size="6.8" text-anchor="middle" fill="#1a1a1a" stroke="#1a1a1a" stroke-width="0.2" textLength="8.0" lengthAdjust="spacingAndGlyphs">10<tspan font-size="4.22" dx="0.25" dy="-2.99" stroke-width="0.06">2</tspan></text>
<text x="180.83" y="184.90" font-size="6.8" text-anchor="middle" fill="#1a1a1a" stroke="#1a1a1a" stroke-width="0.2" textLength="8.0" lengthAdjust="spacingAndGlyphs">10<tspan font-size="4.22" dx="0.25" dy="-2.99" stroke-width="0.06">3</tspan></text>
<text x="195.05" y="184.90" font-size="6.8" text-anchor="middle" fill="#1a1a1a" stroke="#1a1a1a" stroke-width="0.2" textLength="8.0" lengthAdjust="spacingAndGlyphs">10<tspan font-size="4.22" dx="0.25" dy="-2.99" stroke-width="0.06">4</tspan></text>
<text x="209.28" y="184.90" font-size="6.8" text-anchor="middle" fill="#1a1a1a" stroke="#1a1a1a" stroke-width="0.2" textLength="8.0" lengthAdjust="spacingAndGlyphs">10<tspan font-size="4.22" dx="0.25" dy="-2.99" stroke-width="0.06">5</tspan></text>
<text x="223.50" y="184.90" font-size="6.8" text-anchor="middle" fill="#1a1a1a" stroke="#1a1a1a" stroke-width="0.2" textLength="8.0" lengthAdjust="spacingAndGlyphs">10<tspan font-size="4.22" dx="0.25" dy="-2.99" stroke-width="0.06">6</tspan></text>
<line x1="166.30" y1="171.00" x2="166.30" y2="173.20" stroke="#111" stroke-width="0.5"/>
<line x1="170.66" y1="171.00" x2="170.66" y2="172.00" stroke="#111" stroke-width="0.5"/>
<line x1="173.21" y1="171.00" x2="173.21" y2="172.00" stroke="#111" stroke-width="0.5"/>
<line x1="175.01" y1="171.00" x2="175.01" y2="172.00" stroke="#111" stroke-width="0.5"/>
<line x1="176.42" y1="171.00" x2="176.42" y2="172.00" stroke="#111" stroke-width="0.5"/>
<line x1="177.56" y1="171.00" x2="177.56" y2="172.00" stroke="#111" stroke-width="0.5"/>
<line x1="178.53" y1="171.00" x2="178.53" y2="172.00" stroke="#111" stroke-width="0.5"/>
<line x1="179.37" y1="171.00" x2="179.37" y2="172.00" stroke="#111" stroke-width="0.5"/>
<line x1="180.11" y1="171.00" x2="180.11" y2="172.00" stroke="#111" stroke-width="0.5"/>
<line x1="180.78" y1="171.00" x2="180.78" y2="173.20" stroke="#111" stroke-width="0.5"/>
<line x1="185.13" y1="171.00" x2="185.13" y2="172.00" stroke="#111" stroke-width="0.5"/>
<line x1="187.68" y1="171.00" x2="187.68" y2="172.00" stroke="#111" stroke-width="0.5"/>
<line x1="189.49" y1="171.00" x2="189.49" y2="172.00" stroke="#111" stroke-width="0.5"/>
<line x1="190.89" y1="171.00" x2="190.89" y2="172.00" stroke="#111" stroke-width="0.5"/>
<line x1="192.04" y1="171.00" x2="192.04" y2="172.00" stroke="#111" stroke-width="0.5"/>
<line x1="193.01" y1="171.00" x2="193.01" y2="172.00" stroke="#111" stroke-width="0.5"/>
<line x1="193.85" y1="171.00" x2="193.85" y2="172.00" stroke="#111" stroke-width="0.5"/>
<line x1="194.59" y1="171.00" x2="194.59" y2="172.00" stroke="#111" stroke-width="0.5"/>
<line x1="195.25" y1="171.00" x2="195.25" y2="173.20" stroke="#111" stroke-width="0.5"/>
<line x1="199.61" y1="171.00" x2="199.61" y2="172.00" stroke="#111" stroke-width="0.5"/>
<line x1="202.16" y1="171.00" x2="202.16" y2="172.00" stroke="#111" stroke-width="0.5"/>
<line x1="203.96" y1="171.00" x2="203.96" y2="172.00" stroke="#111" stroke-width="0.5"/>
<line x1="205.37" y1="171.00" x2="205.37" y2="172.00" stroke="#111" stroke-width="0.5"/>
<line x1="206.51" y1="171.00" x2="206.51" y2="172.00" stroke="#111" stroke-width="0.5"/>
<line x1="207.48" y1="171.00" x2="207.48" y2="172.00" stroke="#111" stroke-width="0.5"/>
<line x1="208.32" y1="171.00" x2="208.32" y2="172.00" stroke="#111" stroke-width="0.5"/>
<line x1="209.06" y1="171.00" x2="209.06" y2="172.00" stroke="#111" stroke-width="0.5"/>
<line x1="209.72" y1="171.00" x2="209.72" y2="173.20" stroke="#111" stroke-width="0.5"/>
<line x1="214.08" y1="171.00" x2="214.08" y2="172.00" stroke="#111" stroke-width="0.5"/>
<line x1="216.63" y1="171.00" x2="216.63" y2="172.00" stroke="#111" stroke-width="0.5"/>
<line x1="218.44" y1="171.00" x2="218.44" y2="172.00" stroke="#111" stroke-width="0.5"/>
<line x1="219.84" y1="171.00" x2="219.84" y2="172.00" stroke="#111" stroke-width="0.5"/>
<line x1="220.99" y1="171.00" x2="220.99" y2="172.00" stroke="#111" stroke-width="0.5"/>
<line x1="221.96" y1="171.00" x2="221.96" y2="172.00" stroke="#111" stroke-width="0.5"/>
<line x1="222.80" y1="171.00" x2="222.80" y2="172.00" stroke="#111" stroke-width="0.5"/>
<line x1="223.54" y1="171.00" x2="223.54" y2="172.00" stroke="#111" stroke-width="0.5"/>
<line x1="224.20" y1="171.00" x2="224.20" y2="173.20" stroke="#111" stroke-width="0.5"/>
<path d="M168.00,171.00 C168.67,170.92 170.83,171.17 172.00,170.50 C173.17,169.83 174.12,169.25 175.00,167.00 C175.88,164.75 176.58,160.87 177.30,157.00 C178.02,153.13 178.63,144.63 179.30,143.80 C179.97,142.97 180.68,148.47 181.30,152.00 C181.92,155.53 182.50,162.10 183.00,165.00 C183.50,167.90 183.83,169.23 184.30,169.40 C184.77,169.57 185.30,169.23 185.80,166.00 C186.30,162.77 186.83,156.00 187.30,150.00 C187.77,144.00 188.23,134.67 188.60,130.00 C188.97,125.33 189.17,121.83 189.50,122.00 C189.83,122.17 190.18,125.50 190.60,131.00 C191.02,136.50 191.55,148.83 192.00,155.00 C192.45,161.17 192.80,165.33 193.30,168.00 C193.80,170.67 194.72,170.50 195.00,171.00" fill="none" stroke="#5aab3e" stroke-width="0.9" stroke-linejoin="round"/>
<rect x="166.30" y="114.20" width="57.90" height="56.80" fill="none" stroke="#111" stroke-width="1.1"/>
<line x1="183.60" y1="158.50" x2="224.20" y2="158.50" stroke="#222" stroke-width="1.0"/>
<line x1="183.60" y1="157.30" x2="183.60" y2="159.70" stroke="#222" stroke-width="0.8"/>
<text x="221.20" y="122.70" font-size="5.5" text-anchor="end" fill="#1a1a1a" stroke="#1a1a1a" stroke-width="0.12" textLength="28.7" lengthAdjust="spacingAndGlyphs">B220+IgM+</text>
<text x="203.70" y="146.30" font-size="5.5" text-anchor="middle" fill="#1a1a1a" stroke="#1a1a1a" stroke-width="0.12" textLength="14.3" lengthAdjust="spacingAndGlyphs">GFP+</text>
<text x="203.70" y="152.50" font-size="5.5" text-anchor="middle" fill="#1a1a1a" stroke="#1a1a1a" stroke-width="0.12" textLength="15.1" lengthAdjust="spacingAndGlyphs">58,2%</text>
<text x="242.70" y="118.20" font-size="6.1" text-anchor="end" fill="#1a1a1a" stroke="#1a1a1a" stroke-width="0.12">40</text>
<line x1="246.50" y1="116.00" x2="248.70" y2="116.00" stroke="#111" stroke-width="0.6"/>
<text x="242.70" y="132.00" font-size="6.1" text-anchor="end" fill="#1a1a1a" stroke="#1a1a1a" stroke-width="0.12">30</text>
<line x1="246.50" y1="129.80" x2="248.70" y2="129.80" stroke="#111" stroke-width="0.6"/>
<text x="242.70" y="145.80" font-size="6.1" text-anchor="end" fill="#1a1a1a" stroke="#1a1a1a" stroke-width="0.12">20</text>
<line x1="246.50" y1="143.60" x2="248.70" y2="143.60" stroke="#111" stroke-width="0.6"/>
<text x="242.70" y="159.70" font-size="6.1" text-anchor="end" fill="#1a1a1a" stroke="#1a1a1a" stroke-width="0.12">10</text>
<line x1="246.50" y1="157.50" x2="248.70" y2="157.50" stroke="#111" stroke-width="0.6"/>
<text x="242.70" y="173.20" font-size="6.1" text-anchor="end" fill="#1a1a1a" stroke="#1a1a1a" stroke-width="0.12">0</text>
<line x1="246.50" y1="171.00" x2="248.70" y2="171.00" stroke="#111" stroke-width="0.6"/>
<line x1="247.60" y1="119.45" x2="248.70" y2="119.45" stroke="#111" stroke-width="0.4"/>
<line x1="247.60" y1="122.90" x2="248.70" y2="122.90" stroke="#111" stroke-width="0.4"/>
<line x1="247.60" y1="126.35" x2="248.70" y2="126.35" stroke="#111" stroke-width="0.4"/>
<line x1="247.60" y1="133.25" x2="248.70" y2="133.25" stroke="#111" stroke-width="0.4"/>
<line x1="247.60" y1="136.70" x2="248.70" y2="136.70" stroke="#111" stroke-width="0.4"/>
<line x1="247.60" y1="140.15" x2="248.70" y2="140.15" stroke="#111" stroke-width="0.4"/>
<line x1="247.60" y1="147.07" x2="248.70" y2="147.07" stroke="#111" stroke-width="0.4"/>
<line x1="247.60" y1="150.55" x2="248.70" y2="150.55" stroke="#111" stroke-width="0.4"/>
<line x1="247.60" y1="154.03" x2="248.70" y2="154.03" stroke="#111" stroke-width="0.4"/>
<line x1="247.60" y1="160.88" x2="248.70" y2="160.88" stroke="#111" stroke-width="0.4"/>
<line x1="247.60" y1="164.25" x2="248.70" y2="164.25" stroke="#111" stroke-width="0.4"/>
<line x1="247.60" y1="167.62" x2="248.70" y2="167.62" stroke="#111" stroke-width="0.4"/>
<text x="249.00" y="184.90" font-size="6.8" text-anchor="middle" fill="#1a1a1a" stroke="#1a1a1a" stroke-width="0.2" textLength="8.0" lengthAdjust="spacingAndGlyphs">10<tspan font-size="4.22" dx="0.25" dy="-2.99" stroke-width="0.06">2</tspan></text>
<text x="263.20" y="184.90" font-size="6.8" text-anchor="middle" fill="#1a1a1a" stroke="#1a1a1a" stroke-width="0.2" textLength="8.0" lengthAdjust="spacingAndGlyphs">10<tspan font-size="4.22" dx="0.25" dy="-2.99" stroke-width="0.06">3</tspan></text>
<text x="277.40" y="184.90" font-size="6.8" text-anchor="middle" fill="#1a1a1a" stroke="#1a1a1a" stroke-width="0.2" textLength="8.0" lengthAdjust="spacingAndGlyphs">10<tspan font-size="4.22" dx="0.25" dy="-2.99" stroke-width="0.06">4</tspan></text>
<text x="291.60" y="184.90" font-size="6.8" text-anchor="middle" fill="#1a1a1a" stroke="#1a1a1a" stroke-width="0.2" textLength="8.0" lengthAdjust="spacingAndGlyphs">10<tspan font-size="4.22" dx="0.25" dy="-2.99" stroke-width="0.06">5</tspan></text>
<text x="305.80" y="184.90" font-size="6.8" text-anchor="middle" fill="#1a1a1a" stroke="#1a1a1a" stroke-width="0.2" textLength="8.0" lengthAdjust="spacingAndGlyphs">10<tspan font-size="4.22" dx="0.25" dy="-2.99" stroke-width="0.06">6</tspan></text>
<line x1="248.70" y1="171.00" x2="248.70" y2="173.20" stroke="#111" stroke-width="0.5"/>
<line x1="253.05" y1="171.00" x2="253.05" y2="172.00" stroke="#111" stroke-width="0.5"/>
<line x1="255.59" y1="171.00" x2="255.59" y2="172.00" stroke="#111" stroke-width="0.5"/>
<line x1="257.40" y1="171.00" x2="257.40" y2="172.00" stroke="#111" stroke-width="0.5"/>
<line x1="258.80" y1="171.00" x2="258.80" y2="172.00" stroke="#111" stroke-width="0.5"/>
<line x1="259.94" y1="171.00" x2="259.94" y2="172.00" stroke="#111" stroke-width="0.5"/>
<line x1="260.91" y1="171.00" x2="260.91" y2="172.00" stroke="#111" stroke-width="0.5"/>
<line x1="261.75" y1="171.00" x2="261.75" y2="172.00" stroke="#111" stroke-width="0.5"/>
<line x1="262.49" y1="171.00" x2="262.49" y2="172.00" stroke="#111" stroke-width="0.5"/>
<line x1="263.15" y1="171.00" x2="263.15" y2="173.20" stroke="#111" stroke-width="0.5"/>
<line x1="267.50" y1="171.00" x2="267.50" y2="172.00" stroke="#111" stroke-width="0.5"/>
<line x1="270.04" y1="171.00" x2="270.04" y2="172.00" stroke="#111" stroke-width="0.5"/>
<line x1="271.85" y1="171.00" x2="271.85" y2="172.00" stroke="#111" stroke-width="0.5"/>
<line x1="273.25" y1="171.00" x2="273.25" y2="172.00" stroke="#111" stroke-width="0.5"/>
<line x1="274.39" y1="171.00" x2="274.39" y2="172.00" stroke="#111" stroke-width="0.5"/>
<line x1="275.36" y1="171.00" x2="275.36" y2="172.00" stroke="#111" stroke-width="0.5"/>
<line x1="276.20" y1="171.00" x2="276.20" y2="172.00" stroke="#111" stroke-width="0.5"/>
<line x1="276.94" y1="171.00" x2="276.94" y2="172.00" stroke="#111" stroke-width="0.5"/>
<line x1="277.60" y1="171.00" x2="277.60" y2="173.20" stroke="#111" stroke-width="0.5"/>
<line x1="281.95" y1="171.00" x2="281.95" y2="172.00" stroke="#111" stroke-width="0.5"/>
<line x1="284.49" y1="171.00" x2="284.49" y2="172.00" stroke="#111" stroke-width="0.5"/>
<line x1="286.30" y1="171.00" x2="286.30" y2="172.00" stroke="#111" stroke-width="0.5"/>
<line x1="287.70" y1="171.00" x2="287.70" y2="172.00" stroke="#111" stroke-width="0.5"/>
<line x1="288.84" y1="171.00" x2="288.84" y2="172.00" stroke="#111" stroke-width="0.5"/>
<line x1="289.81" y1="171.00" x2="289.81" y2="172.00" stroke="#111" stroke-width="0.5"/>
<line x1="290.65" y1="171.00" x2="290.65" y2="172.00" stroke="#111" stroke-width="0.5"/>
<line x1="291.39" y1="171.00" x2="291.39" y2="172.00" stroke="#111" stroke-width="0.5"/>
<line x1="292.05" y1="171.00" x2="292.05" y2="173.20" stroke="#111" stroke-width="0.5"/>
<line x1="296.40" y1="171.00" x2="296.40" y2="172.00" stroke="#111" stroke-width="0.5"/>
<line x1="298.94" y1="171.00" x2="298.94" y2="172.00" stroke="#111" stroke-width="0.5"/>
<line x1="300.75" y1="171.00" x2="300.75" y2="172.00" stroke="#111" stroke-width="0.5"/>
<line x1="302.15" y1="171.00" x2="302.15" y2="172.00" stroke="#111" stroke-width="0.5"/>
<line x1="303.29" y1="171.00" x2="303.29" y2="172.00" stroke="#111" stroke-width="0.5"/>
<line x1="304.26" y1="171.00" x2="304.26" y2="172.00" stroke="#111" stroke-width="0.5"/>
<line x1="305.10" y1="171.00" x2="305.10" y2="172.00" stroke="#111" stroke-width="0.5"/>
<line x1="305.84" y1="171.00" x2="305.84" y2="172.00" stroke="#111" stroke-width="0.5"/>
<line x1="306.50" y1="171.00" x2="306.50" y2="173.20" stroke="#111" stroke-width="0.5"/>
<path d="M249.40,170.50 C250.00,170.33 251.82,170.25 253.00,169.50 C254.18,168.75 255.55,168.25 256.50,166.00 C257.45,163.75 258.02,159.00 258.70,156.00 C259.38,153.00 259.97,148.67 260.60,148.00 C261.23,147.33 261.93,149.33 262.50,152.00 C263.07,154.67 263.48,161.20 264.00,164.00 C264.52,166.80 265.07,168.97 265.60,168.80 C266.13,168.63 266.67,167.30 267.20,163.00 C267.73,158.70 268.30,149.00 268.80,143.00 C269.30,137.00 269.80,130.20 270.20,127.00 C270.60,123.80 270.83,123.30 271.20,123.80 C271.57,124.30 271.93,125.30 272.40,130.00 C272.87,134.70 273.48,145.83 274.00,152.00 C274.52,158.17 274.92,163.83 275.50,167.00 C276.08,170.17 277.17,170.33 277.50,171.00" fill="none" stroke="#5aab3e" stroke-width="0.9" stroke-linejoin="round"/>
<rect x="248.70" y="113.50" width="57.80" height="57.50" fill="none" stroke="#111" stroke-width="1.1"/>
<line x1="266.70" y1="156.80" x2="306.50" y2="156.80" stroke="#222" stroke-width="1.0"/>
<line x1="266.70" y1="155.60" x2="266.70" y2="158.00" stroke="#222" stroke-width="0.8"/>
<text x="303.50" y="122.00" font-size="5.5" text-anchor="end" fill="#1a1a1a" stroke="#1a1a1a" stroke-width="0.12" textLength="28.7" lengthAdjust="spacingAndGlyphs">B220+IgM-</text>
<text x="286.40" y="145.60" font-size="5.5" text-anchor="middle" fill="#1a1a1a" stroke="#1a1a1a" stroke-width="0.12" textLength="14.3" lengthAdjust="spacingAndGlyphs">GFP+</text>
<text x="286.40" y="151.80" font-size="5.5" text-anchor="middle" fill="#1a1a1a" stroke="#1a1a1a" stroke-width="0.12" textLength="15.1" lengthAdjust="spacingAndGlyphs">55,9%</text>
<text x="160.30" y="211.70" font-size="6.1" text-anchor="end" fill="#1a1a1a" stroke="#1a1a1a" stroke-width="0.12">80</text>
<line x1="164.10" y1="209.50" x2="166.30" y2="209.50" stroke="#111" stroke-width="0.6"/>
<text x="160.30" y="224.00" font-size="6.1" text-anchor="end" fill="#1a1a1a" stroke="#1a1a1a" stroke-width="0.12">60</text>
<line x1="164.10" y1="221.80" x2="166.30" y2="221.80" stroke="#111" stroke-width="0.6"/>
<text x="160.30" y="236.50" font-size="6.1" text-anchor="end" fill="#1a1a1a" stroke="#1a1a1a" stroke-width="0.12">40</text>
<line x1="164.10" y1="234.30" x2="166.30" y2="234.30" stroke="#111" stroke-width="0.6"/>
<text x="160.30" y="249.00" font-size="6.1" text-anchor="end" fill="#1a1a1a" stroke="#1a1a1a" stroke-width="0.12">20</text>
<line x1="164.10" y1="246.80" x2="166.30" y2="246.80" stroke="#111" stroke-width="0.6"/>
<text x="160.30" y="261.60" font-size="6.1" text-anchor="end" fill="#1a1a1a" stroke="#1a1a1a" stroke-width="0.12">0</text>
<line x1="164.10" y1="259.40" x2="166.30" y2="259.40" stroke="#111" stroke-width="0.6"/>
<line x1="165.20" y1="212.57" x2="166.30" y2="212.57" stroke="#111" stroke-width="0.4"/>
<line x1="165.20" y1="215.65" x2="166.30" y2="215.65" stroke="#111" stroke-width="0.4"/>
<line x1="165.20" y1="218.73" x2="166.30" y2="218.73" stroke="#111" stroke-width="0.4"/>
<line x1="165.20" y1="224.93" x2="166.30" y2="224.93" stroke="#111" stroke-width="0.4"/>
<line x1="165.20" y1="228.05" x2="166.30" y2="228.05" stroke="#111" stroke-width="0.4"/>
<line x1="165.20" y1="231.18" x2="166.30" y2="231.18" stroke="#111" stroke-width="0.4"/>
<line x1="165.20" y1="237.43" x2="166.30" y2="237.43" stroke="#111" stroke-width="0.4"/>
<line x1="165.20" y1="240.55" x2="166.30" y2="240.55" stroke="#111" stroke-width="0.4"/>
<line x1="165.20" y1="243.68" x2="166.30" y2="243.68" stroke="#111" stroke-width="0.4"/>
<line x1="165.20" y1="249.95" x2="166.30" y2="249.95" stroke="#111" stroke-width="0.4"/>
<line x1="165.20" y1="253.10" x2="166.30" y2="253.10" stroke="#111" stroke-width="0.4"/>
<line x1="165.20" y1="256.25" x2="166.30" y2="256.25" stroke="#111" stroke-width="0.4"/>
<text x="166.60" y="273.30" font-size="6.8" text-anchor="middle" fill="#1a1a1a" stroke="#1a1a1a" stroke-width="0.2" textLength="8.0" lengthAdjust="spacingAndGlyphs">10<tspan font-size="4.22" dx="0.25" dy="-2.99" stroke-width="0.06">2</tspan></text>
<text x="180.83" y="273.30" font-size="6.8" text-anchor="middle" fill="#1a1a1a" stroke="#1a1a1a" stroke-width="0.2" textLength="8.0" lengthAdjust="spacingAndGlyphs">10<tspan font-size="4.22" dx="0.25" dy="-2.99" stroke-width="0.06">3</tspan></text>
<text x="195.05" y="273.30" font-size="6.8" text-anchor="middle" fill="#1a1a1a" stroke="#1a1a1a" stroke-width="0.2" textLength="8.0" lengthAdjust="spacingAndGlyphs">10<tspan font-size="4.22" dx="0.25" dy="-2.99" stroke-width="0.06">4</tspan></text>
<text x="209.28" y="273.30" font-size="6.8" text-anchor="middle" fill="#1a1a1a" stroke="#1a1a1a" stroke-width="0.2" textLength="8.0" lengthAdjust="spacingAndGlyphs">10<tspan font-size="4.22" dx="0.25" dy="-2.99" stroke-width="0.06">5</tspan></text>
<text x="223.50" y="273.30" font-size="6.8" text-anchor="middle" fill="#1a1a1a" stroke="#1a1a1a" stroke-width="0.2" textLength="8.0" lengthAdjust="spacingAndGlyphs">10<tspan font-size="4.22" dx="0.25" dy="-2.99" stroke-width="0.06">6</tspan></text>
<line x1="166.30" y1="259.40" x2="166.30" y2="261.60" stroke="#111" stroke-width="0.5"/>
<line x1="170.66" y1="259.40" x2="170.66" y2="260.40" stroke="#111" stroke-width="0.5"/>
<line x1="173.21" y1="259.40" x2="173.21" y2="260.40" stroke="#111" stroke-width="0.5"/>
<line x1="175.01" y1="259.40" x2="175.01" y2="260.40" stroke="#111" stroke-width="0.5"/>
<line x1="176.42" y1="259.40" x2="176.42" y2="260.40" stroke="#111" stroke-width="0.5"/>
<line x1="177.56" y1="259.40" x2="177.56" y2="260.40" stroke="#111" stroke-width="0.5"/>
<line x1="178.53" y1="259.40" x2="178.53" y2="260.40" stroke="#111" stroke-width="0.5"/>
<line x1="179.37" y1="259.40" x2="179.37" y2="260.40" stroke="#111" stroke-width="0.5"/>
<line x1="180.11" y1="259.40" x2="180.11" y2="260.40" stroke="#111" stroke-width="0.5"/>
<line x1="180.78" y1="259.40" x2="180.78" y2="261.60" stroke="#111" stroke-width="0.5"/>
<line x1="185.13" y1="259.40" x2="185.13" y2="260.40" stroke="#111" stroke-width="0.5"/>
<line x1="187.68" y1="259.40" x2="187.68" y2="260.40" stroke="#111" stroke-width="0.5"/>
<line x1="189.49" y1="259.40" x2="189.49" y2="260.40" stroke="#111" stroke-width="0.5"/>
<line x1="190.89" y1="259.40" x2="190.89" y2="260.40" stroke="#111" stroke-width="0.5"/>
<line x1="192.04" y1="259.40" x2="192.04" y2="260.40" stroke="#111" stroke-width="0.5"/>
<line x1="193.01" y1="259.40" x2="193.01" y2="260.40" stroke="#111" stroke-width="0.5"/>
<line x1="193.85" y1="259.40" x2="193.85" y2="260.40" stroke="#111" stroke-width="0.5"/>
<line x1="194.59" y1="259.40" x2="194.59" y2="260.40" stroke="#111" stroke-width="0.5"/>
<line x1="195.25" y1="259.40" x2="195.25" y2="261.60" stroke="#111" stroke-width="0.5"/>
<line x1="199.61" y1="259.40" x2="199.61" y2="260.40" stroke="#111" stroke-width="0.5"/>
<line x1="202.16" y1="259.40" x2="202.16" y2="260.40" stroke="#111" stroke-width="0.5"/>
<line x1="203.96" y1="259.40" x2="203.96" y2="260.40" stroke="#111" stroke-width="0.5"/>
<line x1="205.37" y1="259.40" x2="205.37" y2="260.40" stroke="#111" stroke-width="0.5"/>
<line x1="206.51" y1="259.40" x2="206.51" y2="260.40" stroke="#111" stroke-width="0.5"/>
<line x1="207.48" y1="259.40" x2="207.48" y2="260.40" stroke="#111" stroke-width="0.5"/>
<line x1="208.32" y1="259.40" x2="208.32" y2="260.40" stroke="#111" stroke-width="0.5"/>
<line x1="209.06" y1="259.40" x2="209.06" y2="260.40" stroke="#111" stroke-width="0.5"/>
<line x1="209.72" y1="259.40" x2="209.72" y2="261.60" stroke="#111" stroke-width="0.5"/>
<line x1="214.08" y1="259.40" x2="214.08" y2="260.40" stroke="#111" stroke-width="0.5"/>
<line x1="216.63" y1="259.40" x2="216.63" y2="260.40" stroke="#111" stroke-width="0.5"/>
<line x1="218.44" y1="259.40" x2="218.44" y2="260.40" stroke="#111" stroke-width="0.5"/>
<line x1="219.84" y1="259.40" x2="219.84" y2="260.40" stroke="#111" stroke-width="0.5"/>
<line x1="220.99" y1="259.40" x2="220.99" y2="260.40" stroke="#111" stroke-width="0.5"/>
<line x1="221.96" y1="259.40" x2="221.96" y2="260.40" stroke="#111" stroke-width="0.5"/>
<line x1="222.80" y1="259.40" x2="222.80" y2="260.40" stroke="#111" stroke-width="0.5"/>
<line x1="223.54" y1="259.40" x2="223.54" y2="260.40" stroke="#111" stroke-width="0.5"/>
<line x1="224.20" y1="259.40" x2="224.20" y2="261.60" stroke="#111" stroke-width="0.5"/>
<path d="M184.50,259.40 C184.75,258.83 185.53,258.40 186.00,256.00 C186.47,253.60 186.92,250.00 187.30,245.00 C187.68,240.00 187.95,231.62 188.30,226.00 C188.65,220.38 189.03,211.63 189.40,211.30 C189.77,210.97 190.13,218.72 190.50,224.00 C190.87,229.28 191.18,237.83 191.60,243.00 C192.02,248.17 192.47,252.27 193.00,255.00 C193.53,257.73 194.50,258.67 194.80,259.40" fill="none" stroke="#5aab3e" stroke-width="0.9" stroke-linejoin="round"/>
<rect x="166.30" y="201.80" width="57.90" height="57.60" fill="none" stroke="#111" stroke-width="1.1"/>
<line x1="180.80" y1="245.00" x2="224.20" y2="245.00" stroke="#222" stroke-width="1.0"/>
<line x1="180.80" y1="243.80" x2="180.80" y2="246.20" stroke="#222" stroke-width="0.8"/>
<text x="221.20" y="210.30" font-size="5.5" text-anchor="end" fill="#1a1a1a" stroke="#1a1a1a" stroke-width="0.12" textLength="28.7" lengthAdjust="spacingAndGlyphs">B220+IgM+</text>
<text x="200.50" y="233.30" font-size="5.5" text-anchor="middle" fill="#1a1a1a" stroke="#1a1a1a" stroke-width="0.12" textLength="14.3" lengthAdjust="spacingAndGlyphs">GFP+</text>
<text x="200.50" y="239.50" font-size="5.5" text-anchor="middle" fill="#1a1a1a" stroke="#1a1a1a" stroke-width="0.12" textLength="15.1" lengthAdjust="spacingAndGlyphs">98,7%</text>
<text x="242.80" y="212.00" font-size="6.1" text-anchor="end" fill="#1a1a1a" stroke="#1a1a1a" stroke-width="0.12">50</text>
<line x1="246.60" y1="209.80" x2="248.80" y2="209.80" stroke="#111" stroke-width="0.6"/>
<text x="242.80" y="222.00" font-size="6.1" text-anchor="end" fill="#1a1a1a" stroke="#1a1a1a" stroke-width="0.12">40</text>
<line x1="246.60" y1="219.80" x2="248.80" y2="219.80" stroke="#111" stroke-width="0.6"/>
<text x="242.80" y="231.80" font-size="6.1" text-anchor="end" fill="#1a1a1a" stroke="#1a1a1a" stroke-width="0.12">30</text>
<line x1="246.60" y1="229.60" x2="248.80" y2="229.60" stroke="#111" stroke-width="0.6"/>
<text x="242.80" y="241.40" font-size="6.1" text-anchor="end" fill="#1a1a1a" stroke="#1a1a1a" stroke-width="0.12">20</text>
<line x1="246.60" y1="239.20" x2="248.80" y2="239.20" stroke="#111" stroke-width="0.6"/>
<text x="242.80" y="251.40" font-size="6.1" text-anchor="end" fill="#1a1a1a" stroke="#1a1a1a" stroke-width="0.12">10</text>
<line x1="246.60" y1="249.20" x2="248.80" y2="249.20" stroke="#111" stroke-width="0.6"/>
<text x="242.80" y="261.00" font-size="6.1" text-anchor="end" fill="#1a1a1a" stroke="#1a1a1a" stroke-width="0.12">0</text>
<line x1="246.60" y1="258.80" x2="248.80" y2="258.80" stroke="#111" stroke-width="0.6"/>
<line x1="247.70" y1="212.30" x2="248.80" y2="212.30" stroke="#111" stroke-width="0.4"/>
<line x1="247.70" y1="214.80" x2="248.80" y2="214.80" stroke="#111" stroke-width="0.4"/>
<line x1="247.70" y1="217.30" x2="248.80" y2="217.30" stroke="#111" stroke-width="0.4"/>
<line x1="247.70" y1="222.25" x2="248.80" y2="222.25" stroke="#111" stroke-width="0.4"/>
<line x1="247.70" y1="224.70" x2="248.80" y2="224.70" stroke="#111" stroke-width="0.4"/>
<line x1="247.70" y1="227.15" x2="248.80" y2="227.15" stroke="#111" stroke-width="0.4"/>
<line x1="247.70" y1="232.00" x2="248.80" y2="232.00" stroke="#111" stroke-width="0.4"/>
<line x1="247.70" y1="234.40" x2="248.80" y2="234.40" stroke="#111" stroke-width="0.4"/>
<line x1="247.70" y1="236.80" x2="248.80" y2="236.80" stroke="#111" stroke-width="0.4"/>
<line x1="247.70" y1="241.70" x2="248.80" y2="241.70" stroke="#111" stroke-width="0.4"/>
<line x1="247.70" y1="244.20" x2="248.80" y2="244.20" stroke="#111" stroke-width="0.4"/>
<line x1="247.70" y1="246.70" x2="248.80" y2="246.70" stroke="#111" stroke-width="0.4"/>
<line x1="247.70" y1="251.60" x2="248.80" y2="251.60" stroke="#111" stroke-width="0.4"/>
<line x1="247.70" y1="254.00" x2="248.80" y2="254.00" stroke="#111" stroke-width="0.4"/>
<line x1="247.70" y1="256.40" x2="248.80" y2="256.40" stroke="#111" stroke-width="0.4"/>
<text x="249.10" y="272.70" font-size="6.8" text-anchor="middle" fill="#1a1a1a" stroke="#1a1a1a" stroke-width="0.2" textLength="8.0" lengthAdjust="spacingAndGlyphs">10<tspan font-size="4.22" dx="0.25" dy="-2.99" stroke-width="0.06">2</tspan></text>
<text x="263.28" y="272.70" font-size="6.8" text-anchor="middle" fill="#1a1a1a" stroke="#1a1a1a" stroke-width="0.2" textLength="8.0" lengthAdjust="spacingAndGlyphs">10<tspan font-size="4.22" dx="0.25" dy="-2.99" stroke-width="0.06">3</tspan></text>
<text x="277.45" y="272.70" font-size="6.8" text-anchor="middle" fill="#1a1a1a" stroke="#1a1a1a" stroke-width="0.2" textLength="8.0" lengthAdjust="spacingAndGlyphs">10<tspan font-size="4.22" dx="0.25" dy="-2.99" stroke-width="0.06">4</tspan></text>
<text x="291.62" y="272.70" font-size="6.8" text-anchor="middle" fill="#1a1a1a" stroke="#1a1a1a" stroke-width="0.2" textLength="8.0" lengthAdjust="spacingAndGlyphs">10<tspan font-size="4.22" dx="0.25" dy="-2.99" stroke-width="0.06">5</tspan></text>
<text x="305.80" y="272.70" font-size="6.8" text-anchor="middle" fill="#1a1a1a" stroke="#1a1a1a" stroke-width="0.2" textLength="8.0" lengthAdjust="spacingAndGlyphs">10<tspan font-size="4.22" dx="0.25" dy="-2.99" stroke-width="0.06">6</tspan></text>
<line x1="248.80" y1="258.80" x2="248.80" y2="261.00" stroke="#111" stroke-width="0.5"/>
<line x1="253.14" y1="258.80" x2="253.14" y2="259.80" stroke="#111" stroke-width="0.5"/>
<line x1="255.68" y1="258.80" x2="255.68" y2="259.80" stroke="#111" stroke-width="0.5"/>
<line x1="257.48" y1="258.80" x2="257.48" y2="259.80" stroke="#111" stroke-width="0.5"/>
<line x1="258.88" y1="258.80" x2="258.88" y2="259.80" stroke="#111" stroke-width="0.5"/>
<line x1="260.02" y1="258.80" x2="260.02" y2="259.80" stroke="#111" stroke-width="0.5"/>
<line x1="260.99" y1="258.80" x2="260.99" y2="259.80" stroke="#111" stroke-width="0.5"/>
<line x1="261.83" y1="258.80" x2="261.83" y2="259.80" stroke="#111" stroke-width="0.5"/>
<line x1="262.56" y1="258.80" x2="262.56" y2="259.80" stroke="#111" stroke-width="0.5"/>
<line x1="263.23" y1="258.80" x2="263.23" y2="261.00" stroke="#111" stroke-width="0.5"/>
<line x1="267.57" y1="258.80" x2="267.57" y2="259.80" stroke="#111" stroke-width="0.5"/>
<line x1="270.11" y1="258.80" x2="270.11" y2="259.80" stroke="#111" stroke-width="0.5"/>
<line x1="271.91" y1="258.80" x2="271.91" y2="259.80" stroke="#111" stroke-width="0.5"/>
<line x1="273.31" y1="258.80" x2="273.31" y2="259.80" stroke="#111" stroke-width="0.5"/>
<line x1="274.45" y1="258.80" x2="274.45" y2="259.80" stroke="#111" stroke-width="0.5"/>
<line x1="275.42" y1="258.80" x2="275.42" y2="259.80" stroke="#111" stroke-width="0.5"/>
<line x1="276.25" y1="258.80" x2="276.25" y2="259.80" stroke="#111" stroke-width="0.5"/>
<line x1="276.99" y1="258.80" x2="276.99" y2="259.80" stroke="#111" stroke-width="0.5"/>
<line x1="277.65" y1="258.80" x2="277.65" y2="261.00" stroke="#111" stroke-width="0.5"/>
<line x1="281.99" y1="258.80" x2="281.99" y2="259.80" stroke="#111" stroke-width="0.5"/>
<line x1="284.53" y1="258.80" x2="284.53" y2="259.80" stroke="#111" stroke-width="0.5"/>
<line x1="286.33" y1="258.80" x2="286.33" y2="259.80" stroke="#111" stroke-width="0.5"/>
<line x1="287.73" y1="258.80" x2="287.73" y2="259.80" stroke="#111" stroke-width="0.5"/>
<line x1="288.87" y1="258.80" x2="288.87" y2="259.80" stroke="#111" stroke-width="0.5"/>
<line x1="289.84" y1="258.80" x2="289.84" y2="259.80" stroke="#111" stroke-width="0.5"/>
<line x1="290.68" y1="258.80" x2="290.68" y2="259.80" stroke="#111" stroke-width="0.5"/>
<line x1="291.41" y1="258.80" x2="291.41" y2="259.80" stroke="#111" stroke-width="0.5"/>
<line x1="292.07" y1="258.80" x2="292.07" y2="261.00" stroke="#111" stroke-width="0.5"/>
<line x1="296.42" y1="258.80" x2="296.42" y2="259.80" stroke="#111" stroke-width="0.5"/>
<line x1="298.96" y1="258.80" x2="298.96" y2="259.80" stroke="#111" stroke-width="0.5"/>
<line x1="300.76" y1="258.80" x2="300.76" y2="259.80" stroke="#111" stroke-width="0.5"/>
<line x1="302.16" y1="258.80" x2="302.16" y2="259.80" stroke="#111" stroke-width="0.5"/>
<line x1="303.30" y1="258.80" x2="303.30" y2="259.80" stroke="#111" stroke-width="0.5"/>
<line x1="304.27" y1="258.80" x2="304.27" y2="259.80" stroke="#111" stroke-width="0.5"/>
<line x1="305.10" y1="258.80" x2="305.10" y2="259.80" stroke="#111" stroke-width="0.5"/>
<line x1="305.84" y1="258.80" x2="305.84" y2="259.80" stroke="#111" stroke-width="0.5"/>
<line x1="306.50" y1="258.80" x2="306.50" y2="261.00" stroke="#111" stroke-width="0.5"/>
<path d="M267.10,258.80 C267.38,258.25 268.32,257.63 268.80,255.50 C269.28,253.37 269.60,250.92 270.00,246.00 C270.40,241.08 270.82,231.72 271.20,226.00 C271.58,220.28 271.92,212.03 272.30,211.70 C272.68,211.37 273.08,218.45 273.50,224.00 C273.92,229.55 274.38,239.83 274.80,245.00 C275.22,250.17 275.55,252.70 276.00,255.00 C276.45,257.30 277.25,258.17 277.50,258.80" fill="none" stroke="#5aab3e" stroke-width="0.9" stroke-linejoin="round"/>
<rect x="248.80" y="201.20" width="57.70" height="57.60" fill="none" stroke="#111" stroke-width="1.1"/>
<line x1="262.70" y1="248.80" x2="306.50" y2="248.80" stroke="#222" stroke-width="1.0"/>
<line x1="262.70" y1="247.60" x2="262.70" y2="250.00" stroke="#222" stroke-width="0.8"/>
<text x="303.50" y="209.70" font-size="5.5" text-anchor="end" fill="#1a1a1a" stroke="#1a1a1a" stroke-width="0.12" textLength="28.7" lengthAdjust="spacingAndGlyphs">B220+IgM-</text>
<text x="284.40" y="237.80" font-size="5.5" text-anchor="middle" fill="#1a1a1a" stroke="#1a1a1a" stroke-width="0.12" textLength="14.3" lengthAdjust="spacingAndGlyphs">GFP+</text>
<text x="284.40" y="244.00" font-size="5.5" text-anchor="middle" fill="#1a1a1a" stroke="#1a1a1a" stroke-width="0.12" textLength="15.1" lengthAdjust="spacingAndGlyphs">99,2%</text>
<line x1="355.90" y1="158.30" x2="355.90" y2="149.20" stroke="#222" stroke-width="1.0"/>
<line x1="352.70" y1="149.20" x2="359.10" y2="149.20" stroke="#222" stroke-width="1.0"/>
<rect x="349.80" y="158.30" width="12.20" height="50.40" fill="#a1002b" stroke="none" stroke-width="0"/>
<line x1="355.90" y1="208.70" x2="355.90" y2="210.90" stroke="#222" stroke-width="0.8"/>
<line x1="374.30" y1="161.70" x2="374.30" y2="151.30" stroke="#222" stroke-width="1.0"/>
<line x1="371.10" y1="151.30" x2="377.50" y2="151.30" stroke="#222" stroke-width="1.0"/>
<rect x="368.00" y="161.70" width="12.60" height="47.00" fill="#6aaee8" stroke="none" stroke-width="0"/>
<line x1="374.30" y1="208.70" x2="374.30" y2="210.90" stroke="#222" stroke-width="0.8"/>
<line x1="392.75" y1="154.00" x2="392.75" y2="147.70" stroke="#222" stroke-width="1.0"/>
<line x1="389.55" y1="147.70" x2="395.95" y2="147.70" stroke="#222" stroke-width="1.0"/>
<rect x="386.70" y="154.00" width="12.10" height="54.70" fill="#62ae3e" stroke="none" stroke-width="0"/>
<line x1="392.75" y1="208.70" x2="392.75" y2="210.90" stroke="#222" stroke-width="0.8"/>
<line x1="411.00" y1="159.00" x2="411.00" y2="147.70" stroke="#222" stroke-width="1.0"/>
<line x1="407.80" y1="147.70" x2="414.20" y2="147.70" stroke="#222" stroke-width="1.0"/>
<rect x="405.00" y="159.00" width="12.00" height="49.70" fill="#263f7c" stroke="none" stroke-width="0"/>
<line x1="411.00" y1="208.70" x2="411.00" y2="210.90" stroke="#222" stroke-width="0.8"/>
<line x1="429.80" y1="155.00" x2="429.80" y2="148.30" stroke="#222" stroke-width="1.0"/>
<line x1="426.60" y1="148.30" x2="433.00" y2="148.30" stroke="#222" stroke-width="1.0"/>
<rect x="423.80" y="155.00" width="12.00" height="53.70" fill="#512a6e" stroke="none" stroke-width="0"/>
<line x1="429.80" y1="208.70" x2="429.80" y2="210.90" stroke="#222" stroke-width="0.8"/>
<line x1="346.30" y1="145.50" x2="346.30" y2="209.20" stroke="#111" stroke-width="1.1"/>
<line x1="345.80" y1="208.70" x2="438.60" y2="208.70" stroke="#111" stroke-width="1.1"/>
<line x1="343.90" y1="147.30" x2="346.30" y2="147.30" stroke="#111" stroke-width="0.9"/>
<text x="342.10" y="149.70" font-size="6.8" text-anchor="end" fill="#222" stroke="#222" stroke-width="0.12">50</text>
<line x1="343.90" y1="162.65" x2="346.30" y2="162.65" stroke="#111" stroke-width="0.9"/>
<text x="342.10" y="165.05" font-size="6.8" text-anchor="end" fill="#222" stroke="#222" stroke-width="0.12">40</text>
<line x1="343.90" y1="178.00" x2="346.30" y2="178.00" stroke="#111" stroke-width="0.9"/>
<text x="342.10" y="180.40" font-size="6.8" text-anchor="end" fill="#222" stroke="#222" stroke-width="0.12">30</text>
<line x1="343.90" y1="193.35" x2="346.30" y2="193.35" stroke="#111" stroke-width="0.9"/>
<text x="342.10" y="195.75" font-size="6.8" text-anchor="end" fill="#222" stroke="#222" stroke-width="0.12">20</text>
<line x1="343.90" y1="208.70" x2="346.30" y2="208.70" stroke="#111" stroke-width="0.9"/>
<text x="342.10" y="211.10" font-size="6.8" text-anchor="end" fill="#222" stroke="#222" stroke-width="0.12">10</text>
<text x="331.00" y="177.00" font-size="7.2" text-anchor="middle" fill="#222" stroke="#222" stroke-width="0.12" textLength="45" lengthAdjust="spacingAndGlyphs" transform="rotate(-90 331.00 177.00)">% B220+ cells</text>
<text x="357.90" y="215.20" font-size="6.3" text-anchor="end" fill="#222" transform="rotate(-45 357.90 215.20)">Rosa26<tspan font-size="4.3" dy="-2.8">HGAL</tspan></text>
<text x="376.30" y="215.20" font-size="6.3" text-anchor="end" fill="#222" transform="rotate(-45 376.30 215.20)">Rosa26<tspan font-size="4.3" dy="-2.8">HGAL</tspan><tspan dy="2.8">/Aid-Cre</tspan></text>
<text x="394.75" y="215.20" font-size="6.3" text-anchor="end" fill="#222" transform="rotate(-45 394.75 215.20)">Rosa26<tspan font-size="4.3" dy="-2.8">HGAL</tspan><tspan dy="2.8">/Sca1-Cre</tspan></text>
<text x="413.00" y="215.20" font-size="6.3" text-anchor="end" fill="#222" transform="rotate(-45 413.00 215.20)">Rosa26<tspan font-size="4.3" dy="-2.8">HGAL</tspan><tspan dy="2.8">/Mb1-Cre</tspan></text>
<text x="431.80" y="215.20" font-size="6.3" text-anchor="end" fill="#222" transform="rotate(-45 431.80 215.20)">Control ‘Wild-Type’</text>
<rect x="442.00" y="147.80" width="6.50" height="4.40" fill="#a1002b" stroke="none" stroke-width="0"/>
<text x="451.7" y="152.40" font-size="6.9" fill="#1a1a1a" stroke="#1a1a1a" stroke-width="0.1" textLength="31.8" lengthAdjust="spacingAndGlyphs"><tspan font-style="italic">Rosa26</tspan><tspan font-size="4.4" dy="-2.9">HGAL</tspan></text>
<rect x="442.00" y="161.80" width="6.50" height="4.40" fill="#6aaee8" stroke="none" stroke-width="0"/>
<text x="451.7" y="166.40" font-size="6.9" fill="#1a1a1a" stroke="#1a1a1a" stroke-width="0.1" textLength="57.7" lengthAdjust="spacingAndGlyphs"><tspan font-style="italic">Rosa26</tspan><tspan font-size="4.4" dy="-2.9">HGAL</tspan><tspan dy="2.9" font-style="italic">/Aid-Cre</tspan></text>
<rect x="442.00" y="174.30" width="6.50" height="4.40" fill="#62ae3e" stroke="none" stroke-width="0"/>
<text x="451.7" y="178.90" font-size="6.9" fill="#1a1a1a" stroke="#1a1a1a" stroke-width="0.1" textLength="61.6" lengthAdjust="spacingAndGlyphs"><tspan font-style="italic">Rosa26</tspan><tspan font-size="4.4" dy="-2.9">HGAL</tspan><tspan dy="2.9" font-style="italic">/Sca1-Cre</tspan></text>
<rect x="442.00" y="187.40" width="6.50" height="4.40" fill="#263f7c" stroke="none" stroke-width="0"/>
<text x="451.7" y="192.00" font-size="6.9" fill="#1a1a1a" stroke="#1a1a1a" stroke-width="0.1" textLength="61.6" lengthAdjust="spacingAndGlyphs"><tspan font-style="italic">Rosa26</tspan><tspan font-size="4.4" dy="-2.9">HGAL</tspan><tspan dy="2.9" font-style="italic">/Mb1-Cre</tspan></text>
<rect x="442.00" y="199.80" width="6.50" height="4.40" fill="#512a6e" stroke="none" stroke-width="0"/>
<text x="451.7" y="204.40" font-size="6.9" fill="#1a1a1a" stroke="#1a1a1a" stroke-width="0.1" textLength="57.1" lengthAdjust="spacingAndGlyphs">Control ‘Wild-Type’</text>
<text x="479.80" y="214.30" font-size="6.3" text-anchor="middle" fill="#1a1a1a" stroke="#1a1a1a" stroke-width="0.1" textLength="15.4" lengthAdjust="spacingAndGlyphs">(n=6)</text>
<text x="7.60" y="316.00" font-size="12.8" text-anchor="start" fill="#000" stroke="#000" stroke-width="0.12" font-weight="bold">B</text>
<text x="26.6" y="403.5" font-size="9.0" text-anchor="middle" fill="#1a1a1a" textLength="115" lengthAdjust="spacingAndGlyphs" transform="rotate(-90 26.6 403.5)">SPLEEN <tspan font-style="italic">Rosa26</tspan><tspan font-size="5.6" dy="-3.8">HGAL</tspan><tspan dy="3.8">/Aid-Cre</tspan></text>
<text x="42.60" y="362.00" font-size="8.6" text-anchor="middle" fill="#3a5597" stroke="#3a5597" stroke-width="0.12" textLength="60.5" lengthAdjust="spacingAndGlyphs" transform="rotate(-90 42.60 362.00)">Non immunized</text>
<text x="42.40" y="454.00" font-size="8.6" text-anchor="middle" fill="#6aaa40" stroke="#6aaa40" stroke-width="0.12" textLength="42" lengthAdjust="spacingAndGlyphs" transform="rotate(-90 42.40 454.00)">Immunized</text>
<line x1="31.70" y1="323.60" x2="31.70" y2="483.60" stroke="#555" stroke-width="1.0"/>
<line x1="47.20" y1="320.00" x2="47.20" y2="404.00" stroke="#555" stroke-width="1.0"/>
<line x1="47.20" y1="422.00" x2="47.20" y2="486.00" stroke="#555" stroke-width="1.0"/>
<text x="76.20" y="327.50" font-size="6.6" text-anchor="end" fill="#1a1a1a" stroke="#1a1a1a" stroke-width="0.2" textLength="9.6" lengthAdjust="spacingAndGlyphs">10<tspan font-size="4.09" dx="0.25" dy="-2.90" stroke-width="0.06">6</tspan></text>
<text x="76.20" y="340.50" font-size="6.6" text-anchor="end" fill="#1a1a1a" stroke="#1a1a1a" stroke-width="0.2" textLength="9.6" lengthAdjust="spacingAndGlyphs">10<tspan font-size="4.09" dx="0.25" dy="-2.90" stroke-width="0.06">5</tspan></text>
<text x="76.20" y="353.50" font-size="6.6" text-anchor="end" fill="#1a1a1a" stroke="#1a1a1a" stroke-width="0.2" textLength="9.6" lengthAdjust="spacingAndGlyphs">10<tspan font-size="4.09" dx="0.25" dy="-2.90" stroke-width="0.06">4</tspan></text>
<text x="76.20" y="366.50" font-size="6.6" text-anchor="end" fill="#1a1a1a" stroke="#1a1a1a" stroke-width="0.2" textLength="9.6" lengthAdjust="spacingAndGlyphs">10<tspan font-size="4.09" dx="0.25" dy="-2.90" stroke-width="0.06">3</tspan></text>
<text x="76.20" y="379.50" font-size="6.6" text-anchor="end" fill="#1a1a1a" stroke="#1a1a1a" stroke-width="0.2" textLength="9.6" lengthAdjust="spacingAndGlyphs">10<tspan font-size="4.09" dx="0.25" dy="-2.90" stroke-width="0.06">2</tspan></text>
<text x="76.20" y="392.50" font-size="6.6" text-anchor="end" fill="#1a1a1a" stroke="#1a1a1a" stroke-width="0.2" textLength="9.6" lengthAdjust="spacingAndGlyphs">10<tspan font-size="4.09" dx="0.25" dy="-2.90" stroke-width="0.06">1</tspan></text>
<text x="81.80" y="403.30" font-size="7.0" text-anchor="middle" fill="#1a1a1a" stroke="#1a1a1a" stroke-width="0.2" textLength="8.6" lengthAdjust="spacingAndGlyphs">10<tspan font-size="4.34" dx="0.25" dy="-3.08" stroke-width="0.06">1</tspan></text>
<text x="94.76" y="403.30" font-size="7.0" text-anchor="middle" fill="#1a1a1a" stroke="#1a1a1a" stroke-width="0.2" textLength="8.6" lengthAdjust="spacingAndGlyphs">10<tspan font-size="4.34" dx="0.25" dy="-3.08" stroke-width="0.06">2</tspan></text>
<text x="107.72" y="403.30" font-size="7.0" text-anchor="middle" fill="#1a1a1a" stroke="#1a1a1a" stroke-width="0.2" textLength="8.6" lengthAdjust="spacingAndGlyphs">10<tspan font-size="4.34" dx="0.25" dy="-3.08" stroke-width="0.06">3</tspan></text>
<text x="120.68" y="403.30" font-size="7.0" text-anchor="middle" fill="#1a1a1a" stroke="#1a1a1a" stroke-width="0.2" textLength="8.6" lengthAdjust="spacingAndGlyphs">10<tspan font-size="4.34" dx="0.25" dy="-3.08" stroke-width="0.06">4</tspan></text>
<text x="133.64" y="403.30" font-size="7.0" text-anchor="middle" fill="#1a1a1a" stroke="#1a1a1a" stroke-width="0.2" textLength="8.6" lengthAdjust="spacingAndGlyphs">10<tspan font-size="4.34" dx="0.25" dy="-3.08" stroke-width="0.06">5</tspan></text>
<text x="146.60" y="403.30" font-size="7.0" text-anchor="middle" fill="#1a1a1a" stroke="#1a1a1a" stroke-width="0.2" textLength="8.6" lengthAdjust="spacingAndGlyphs">10<tspan font-size="4.34" dx="0.25" dy="-3.08" stroke-width="0.06">6</tspan></text>
<line x1="81.20" y1="390.00" x2="81.20" y2="392.40" stroke="#111" stroke-width="0.5"/>
<line x1="85.10" y1="390.00" x2="85.10" y2="391.00" stroke="#111" stroke-width="0.5"/>
<line x1="87.38" y1="390.00" x2="87.38" y2="391.00" stroke="#111" stroke-width="0.5"/>
<line x1="89.00" y1="390.00" x2="89.00" y2="391.00" stroke="#111" stroke-width="0.5"/>
<line x1="90.26" y1="390.00" x2="90.26" y2="391.00" stroke="#111" stroke-width="0.5"/>
<line x1="91.28" y1="390.00" x2="91.28" y2="391.00" stroke="#111" stroke-width="0.5"/>
<line x1="92.15" y1="390.00" x2="92.15" y2="391.00" stroke="#111" stroke-width="0.5"/>
<line x1="92.90" y1="390.00" x2="92.90" y2="391.00" stroke="#111" stroke-width="0.5"/>
<line x1="93.57" y1="390.00" x2="93.57" y2="391.00" stroke="#111" stroke-width="0.5"/>
<line x1="94.16" y1="390.00" x2="94.16" y2="392.40" stroke="#111" stroke-width="0.5"/>
<line x1="98.06" y1="390.00" x2="98.06" y2="391.00" stroke="#111" stroke-width="0.5"/>
<line x1="100.34" y1="390.00" x2="100.34" y2="391.00" stroke="#111" stroke-width="0.5"/>
<line x1="101.96" y1="390.00" x2="101.96" y2="391.00" stroke="#111" stroke-width="0.5"/>
<line x1="103.22" y1="390.00" x2="103.22" y2="391.00" stroke="#111" stroke-width="0.5"/>
<line x1="104.24" y1="390.00" x2="104.24" y2="391.00" stroke="#111" stroke-width="0.5"/>
<line x1="105.11" y1="390.00" x2="105.11" y2="391.00" stroke="#111" stroke-width="0.5"/>
<line x1="105.86" y1="390.00" x2="105.86" y2="391.00" stroke="#111" stroke-width="0.5"/>
<line x1="106.53" y1="390.00" x2="106.53" y2="391.00" stroke="#111" stroke-width="0.5"/>
<line x1="107.12" y1="390.00" x2="107.12" y2="392.40" stroke="#111" stroke-width="0.5"/>
<line x1="111.02" y1="390.00" x2="111.02" y2="391.00" stroke="#111" stroke-width="0.5"/>
<line x1="113.30" y1="390.00" x2="113.30" y2="391.00" stroke="#111" stroke-width="0.5"/>
<line x1="114.92" y1="390.00" x2="114.92" y2="391.00" stroke="#111" stroke-width="0.5"/>
<line x1="116.18" y1="390.00" x2="116.18" y2="391.00" stroke="#111" stroke-width="0.5"/>
<line x1="117.20" y1="390.00" x2="117.20" y2="391.00" stroke="#111" stroke-width="0.5"/>
<line x1="118.07" y1="390.00" x2="118.07" y2="391.00" stroke="#111" stroke-width="0.5"/>
<line x1="118.82" y1="390.00" x2="118.82" y2="391.00" stroke="#111" stroke-width="0.5"/>
<line x1="119.49" y1="390.00" x2="119.49" y2="391.00" stroke="#111" stroke-width="0.5"/>
<line x1="120.08" y1="390.00" x2="120.08" y2="392.40" stroke="#111" stroke-width="0.5"/>
<line x1="123.98" y1="390.00" x2="123.98" y2="391.00" stroke="#111" stroke-width="0.5"/>
<line x1="126.26" y1="390.00" x2="126.26" y2="391.00" stroke="#111" stroke-width="0.5"/>
<line x1="127.88" y1="390.00" x2="127.88" y2="391.00" stroke="#111" stroke-width="0.5"/>
<line x1="129.14" y1="390.00" x2="129.14" y2="391.00" stroke="#111" stroke-width="0.5"/>
<line x1="130.16" y1="390.00" x2="130.16" y2="391.00" stroke="#111" stroke-width="0.5"/>
<line x1="131.03" y1="390.00" x2="131.03" y2="391.00" stroke="#111" stroke-width="0.5"/>
<line x1="131.78" y1="390.00" x2="131.78" y2="391.00" stroke="#111" stroke-width="0.5"/>
<line x1="132.45" y1="390.00" x2="132.45" y2="391.00" stroke="#111" stroke-width="0.5"/>
<line x1="133.04" y1="390.00" x2="133.04" y2="392.40" stroke="#111" stroke-width="0.5"/>
<line x1="136.94" y1="390.00" x2="136.94" y2="391.00" stroke="#111" stroke-width="0.5"/>
<line x1="139.22" y1="390.00" x2="139.22" y2="391.00" stroke="#111" stroke-width="0.5"/>
<line x1="140.84" y1="390.00" x2="140.84" y2="391.00" stroke="#111" stroke-width="0.5"/>
<line x1="142.10" y1="390.00" x2="142.10" y2="391.00" stroke="#111" stroke-width="0.5"/>
<line x1="143.12" y1="390.00" x2="143.12" y2="391.00" stroke="#111" stroke-width="0.5"/>
<line x1="143.99" y1="390.00" x2="143.99" y2="391.00" stroke="#111" stroke-width="0.5"/>
<line x1="144.74" y1="390.00" x2="144.74" y2="391.00" stroke="#111" stroke-width="0.5"/>
<line x1="145.41" y1="390.00" x2="145.41" y2="391.00" stroke="#111" stroke-width="0.5"/>
<line x1="146.00" y1="390.00" x2="146.00" y2="392.40" stroke="#111" stroke-width="0.5"/>
<line x1="78.80" y1="390.00" x2="81.20" y2="390.00" stroke="#111" stroke-width="0.5"/>
<line x1="80.20" y1="386.09" x2="81.20" y2="386.09" stroke="#111" stroke-width="0.5"/>
<line x1="80.20" y1="383.80" x2="81.20" y2="383.80" stroke="#111" stroke-width="0.5"/>
<line x1="80.20" y1="382.17" x2="81.20" y2="382.17" stroke="#111" stroke-width="0.5"/>
<line x1="80.20" y1="380.91" x2="81.20" y2="380.91" stroke="#111" stroke-width="0.5"/>
<line x1="80.20" y1="379.88" x2="81.20" y2="379.88" stroke="#111" stroke-width="0.5"/>
<line x1="80.20" y1="379.01" x2="81.20" y2="379.01" stroke="#111" stroke-width="0.5"/>
<line x1="80.20" y1="378.26" x2="81.20" y2="378.26" stroke="#111" stroke-width="0.5"/>
<line x1="80.20" y1="377.59" x2="81.20" y2="377.59" stroke="#111" stroke-width="0.5"/>
<line x1="78.80" y1="377.00" x2="81.20" y2="377.00" stroke="#111" stroke-width="0.5"/>
<line x1="80.20" y1="373.09" x2="81.20" y2="373.09" stroke="#111" stroke-width="0.5"/>
<line x1="80.20" y1="370.80" x2="81.20" y2="370.80" stroke="#111" stroke-width="0.5"/>
<line x1="80.20" y1="369.17" x2="81.20" y2="369.17" stroke="#111" stroke-width="0.5"/>
<line x1="80.20" y1="367.91" x2="81.20" y2="367.91" stroke="#111" stroke-width="0.5"/>
<line x1="80.20" y1="366.88" x2="81.20" y2="366.88" stroke="#111" stroke-width="0.5"/>
<line x1="80.20" y1="366.01" x2="81.20" y2="366.01" stroke="#111" stroke-width="0.5"/>
<line x1="80.20" y1="365.26" x2="81.20" y2="365.26" stroke="#111" stroke-width="0.5"/>
<line x1="80.20" y1="364.59" x2="81.20" y2="364.59" stroke="#111" stroke-width="0.5"/>
<line x1="78.80" y1="364.00" x2="81.20" y2="364.00" stroke="#111" stroke-width="0.5"/>
<line x1="80.20" y1="360.09" x2="81.20" y2="360.09" stroke="#111" stroke-width="0.5"/>
<line x1="80.20" y1="357.80" x2="81.20" y2="357.80" stroke="#111" stroke-width="0.5"/>
<line x1="80.20" y1="356.17" x2="81.20" y2="356.17" stroke="#111" stroke-width="0.5"/>
<line x1="80.20" y1="354.91" x2="81.20" y2="354.91" stroke="#111" stroke-width="0.5"/>
<line x1="80.20" y1="353.88" x2="81.20" y2="353.88" stroke="#111" stroke-width="0.5"/>
<line x1="80.20" y1="353.01" x2="81.20" y2="353.01" stroke="#111" stroke-width="0.5"/>
<line x1="80.20" y1="352.26" x2="81.20" y2="352.26" stroke="#111" stroke-width="0.5"/>
<line x1="80.20" y1="351.59" x2="81.20" y2="351.59" stroke="#111" stroke-width="0.5"/>
<line x1="78.80" y1="351.00" x2="81.20" y2="351.00" stroke="#111" stroke-width="0.5"/>
<line x1="80.20" y1="347.09" x2="81.20" y2="347.09" stroke="#111" stroke-width="0.5"/>
<line x1="80.20" y1="344.80" x2="81.20" y2="344.80" stroke="#111" stroke-width="0.5"/>
<line x1="80.20" y1="343.17" x2="81.20" y2="343.17" stroke="#111" stroke-width="0.5"/>
<line x1="80.20" y1="341.91" x2="81.20" y2="341.91" stroke="#111" stroke-width="0.5"/>
<line x1="80.20" y1="340.88" x2="81.20" y2="340.88" stroke="#111" stroke-width="0.5"/>
<line x1="80.20" y1="340.01" x2="81.20" y2="340.01" stroke="#111" stroke-width="0.5"/>
<line x1="80.20" y1="339.26" x2="81.20" y2="339.26" stroke="#111" stroke-width="0.5"/>
<line x1="80.20" y1="338.59" x2="81.20" y2="338.59" stroke="#111" stroke-width="0.5"/>
<line x1="78.80" y1="338.00" x2="81.20" y2="338.00" stroke="#111" stroke-width="0.5"/>
<line x1="80.20" y1="334.09" x2="81.20" y2="334.09" stroke="#111" stroke-width="0.5"/>
<line x1="80.20" y1="331.80" x2="81.20" y2="331.80" stroke="#111" stroke-width="0.5"/>
<line x1="80.20" y1="330.17" x2="81.20" y2="330.17" stroke="#111" stroke-width="0.5"/>
<line x1="80.20" y1="328.91" x2="81.20" y2="328.91" stroke="#111" stroke-width="0.5"/>
<line x1="80.20" y1="327.88" x2="81.20" y2="327.88" stroke="#111" stroke-width="0.5"/>
<line x1="80.20" y1="327.01" x2="81.20" y2="327.01" stroke="#111" stroke-width="0.5"/>
<line x1="80.20" y1="326.26" x2="81.20" y2="326.26" stroke="#111" stroke-width="0.5"/>
<line x1="80.20" y1="325.59" x2="81.20" y2="325.59" stroke="#111" stroke-width="0.5"/>
<line x1="78.80" y1="325.00" x2="81.20" y2="325.00" stroke="#111" stroke-width="0.5"/>
<path d="M101.0 380.1h.7v.7h-.7zM118.2 352.3h.7v.7h-.7zM116.6 378.2h.7v.7h-.7zM107.0 368.6h.7v.7h-.7zM109.5 356.7h.7v.7h-.7zM110.6 382.7h.7v.7h-.7zM122.1 367.8h.7v.7h-.7zM115.3 369.6h.7v.7h-.7zM118.5 370.3h.7v.7h-.7zM100.8 378.6h.7v.7h-.7zM108.4 338.4h.7v.7h-.7zM122.2 354.4h.7v.7h-.7zM114.7 367.1h.7v.7h-.7zM110.8 374.2h.7v.7h-.7zM113.6 365.0h.7v.7h-.7zM107.6 364.9h.7v.7h-.7zM106.8 368.6h.7v.7h-.7zM127.7 379.7h.7v.7h-.7zM119.8 352.6h.7v.7h-.7zM125.1 378.8h.7v.7h-.7zM134.2 342.5h.7v.7h-.7zM116.1 364.3h.7v.7h-.7zM125.6 355.7h.7v.7h-.7zM124.8 345.4h.7v.7h-.7zM116.2 383.7h.7v.7h-.7zM110.5 374.9h.7v.7h-.7zM116.9 351.4h.7v.7h-.7zM110.5 381.1h.7v.7h-.7zM126.5 361.2h.7v.7h-.7zM126.0 360.0h.7v.7h-.7zM118.2 367.9h.7v.7h-.7zM104.9 371.8h.7v.7h-.7zM112.6 336.7h.7v.7h-.7zM108.7 358.4h.7v.7h-.7zM108.6 356.9h.7v.7h-.7zM109.9 340.1h.7v.7h-.7zM123.9 368.9h.7v.7h-.7zM118.3 365.0h.7v.7h-.7zM116.6 365.1h.7v.7h-.7zM106.4 350.7h.7v.7h-.7zM116.7 379.7h.7v.7h-.7zM118.1 386.5h.7v.7h-.7zM103.9 365.1h.7v.7h-.7zM110.5 382.2h.7v.7h-.7zM131.0 362.1h.7v.7h-.7zM122.5 365.3h.7v.7h-.7zM107.2 366.8h.7v.7h-.7zM106.8 385.8h.7v.7h-.7zM121.2 381.7h.7v.7h-.7zM119.2 340.2h.7v.7h-.7zM123.1 369.1h.7v.7h-.7zM94.9 369.2h.7v.7h-.7zM125.0 387.7h.7v.7h-.7zM106.9 377.1h.7v.7h-.7zM118.9 366.1h.7v.7h-.7zM113.5 374.1h.7v.7h-.7zM121.1 375.6h.7v.7h-.7zM112.4 352.9h.7v.7h-.7zM127.7 382.9h.7v.7h-.7zM111.0 367.7h.7v.7h-.7zM123.1 347.9h.7v.7h-.7zM118.4 360.0h.7v.7h-.7zM134.1 368.2h.7v.7h-.7zM117.9 363.2h.7v.7h-.7zM117.6 347.4h.7v.7h-.7zM104.6 351.1h.7v.7h-.7zM124.0 367.0h.7v.7h-.7zM126.2 344.6h.7v.7h-.7zM110.7 384.8h.7v.7h-.7zM109.0 346.6h.7v.7h-.7zM109.4 364.1h.7v.7h-.7zM115.9 383.0h.7v.7h-.7zM127.8 385.9h.7v.7h-.7zM121.1 362.3h.7v.7h-.7zM111.6 351.0h.7v.7h-.7zM127.3 382.4h.7v.7h-.7zM116.8 357.8h.7v.7h-.7zM122.0 373.6h.7v.7h-.7zM117.4 354.7h.7v.7h-.7zM118.1 361.5h.7v.7h-.7zM122.5 374.9h.7v.7h-.7zM119.9 363.1h.7v.7h-.7zM129.5 376.9h.7v.7h-.7zM127.2 377.7h.7v.7h-.7zM121.9 372.5h.7v.7h-.7zM106.5 347.1h.7v.7h-.7zM107.7 375.1h.7v.7h-.7zM124.1 370.1h.7v.7h-.7zM112.5 347.5h.7v.7h-.7zM102.3 364.3h.7v.7h-.7zM122.2 376.5h.7v.7h-.7zM114.0 377.4h.7v.7h-.7zM115.6 359.7h.7v.7h-.7zM112.7 376.7h.7v.7h-.7zM124.4 355.1h.7v.7h-.7zM107.3 369.4h.7v.7h-.7zM134.8 354.6h.7v.7h-.7zM104.9 372.8h.7v.7h-.7zM120.5 361.0h.7v.7h-.7zM115.8 373.6h.7v.7h-.7zM100.6 367.7h.7v.7h-.7zM121.3 378.6h.7v.7h-.7zM126.3 367.2h.7v.7h-.7zM103.3 383.5h.7v.7h-.7zM122.8 360.7h.7v.7h-.7zM125.1 380.0h.7v.7h-.7zM114.8 340.9h.7v.7h-.7zM111.9 359.3h.7v.7h-.7zM108.6 367.1h.7v.7h-.7zM106.5 372.5h.7v.7h-.7zM132.7 354.3h.7v.7h-.7zM125.2 361.9h.7v.7h-.7zM120.8 366.5h.7v.7h-.7zM127.3 359.8h.7v.7h-.7zM122.5 359.1h.7v.7h-.7zM118.0 367.8h.7v.7h-.7zM125.6 349.9h.7v.7h-.7zM104.1 384.0h.7v.7h-.7zM119.4 387.5h.7v.7h-.7zM106.9 370.4h.7v.7h-.7zM121.3 388.3h.7v.7h-.7zM115.5 362.9h.7v.7h-.7zM122.3 366.8h.7v.7h-.7zM109.4 376.8h.7v.7h-.7zM99.2 356.3h.7v.7h-.7zM128.0 362.3h.7v.7h-.7zM113.2 372.3h.7v.7h-.7zM125.9 374.1h.7v.7h-.7zM107.5 361.5h.7v.7h-.7zM125.2 366.6h.7v.7h-.7zM110.4 378.1h.7v.7h-.7zM106.5 359.9h.7v.7h-.7zM109.9 372.1h.7v.7h-.7zM111.8 380.8h.7v.7h-.7zM92.4 379.1h.7v.7h-.7zM110.3 364.8h.7v.7h-.7zM121.0 370.3h.7v.7h-.7zM107.1 385.3h.7v.7h-.7zM121.1 362.3h.7v.7h-.7zM117.8 355.3h.7v.7h-.7zM105.2 364.5h.7v.7h-.7zM119.2 369.2h.7v.7h-.7zM109.2 352.1h.7v.7h-.7zM101.3 386.4h.7v.7h-.7zM119.2 358.8h.7v.7h-.7zM126.4 374.2h.7v.7h-.7zM112.4 360.9h.7v.7h-.7zM126.0 371.8h.7v.7h-.7zM130.4 372.2h.7v.7h-.7zM110.9 361.1h.7v.7h-.7zM109.8 370.9h.7v.7h-.7zM118.2 375.0h.7v.7h-.7zM120.0 355.9h.7v.7h-.7zM114.2 357.2h.7v.7h-.7zM120.2 352.9h.7v.7h-.7zM110.9 358.1h.7v.7h-.7zM110.6 365.0h.7v.7h-.7zM129.3 365.1h.7v.7h-.7zM103.4 364.5h.7v.7h-.7zM122.6 374.4h.7v.7h-.7zM125.7 369.1h.7v.7h-.7zM126.7 352.6h.7v.7h-.7zM114.5 358.0h.7v.7h-.7zM117.6 386.6h.7v.7h-.7zM111.7 386.3h.7v.7h-.7zM107.1 384.4h.7v.7h-.7zM101.2 358.2h.7v.7h-.7zM124.7 366.9h.7v.7h-.7zM117.3 367.9h.7v.7h-.7zM117.6 365.9h.7v.7h-.7zM107.4 364.7h.7v.7h-.7zM117.0 357.6h.7v.7h-.7zM120.1 388.3h.7v.7h-.7zM101.6 361.7h.7v.7h-.7zM113.5 368.2h.7v.7h-.7zM116.8 359.7h.7v.7h-.7zM115.7 368.1h.7v.7h-.7zM115.2 385.7h.7v.7h-.7zM117.1 351.0h.7v.7h-.7zM102.3 374.8h.7v.7h-.7zM113.0 360.9h.7v.7h-.7zM104.1 364.5h.7v.7h-.7zM115.2 360.1h.7v.7h-.7zM112.9 378.2h.7v.7h-.7zM122.9 374.3h.7v.7h-.7zM114.5 352.4h.7v.7h-.7zM122.8 385.2h.7v.7h-.7zM127.2 381.4h.7v.7h-.7zM118.4 372.3h.7v.7h-.7zM115.9 382.4h.7v.7h-.7zM122.8 364.3h.7v.7h-.7zM116.0 349.5h.7v.7h-.7zM109.6 364.5h.7v.7h-.7zM137.4 358.6h.7v.7h-.7zM124.0 368.9h.7v.7h-.7zM113.4 375.2h.7v.7h-.7zM98.6 378.9h.7v.7h-.7zM132.9 371.4h.7v.7h-.7zM115.5 369.8h.7v.7h-.7zM121.8 362.4h.7v.7h-.7zM117.1 373.8h.7v.7h-.7zM112.9 372.5h.7v.7h-.7zM118.9 376.2h.7v.7h-.7zM107.4 361.8h.7v.7h-.7zM112.3 381.8h.7v.7h-.7zM118.2 349.0h.7v.7h-.7zM119.0 353.1h.7v.7h-.7zM108.0 369.6h.7v.7h-.7zM128.5 386.6h.7v.7h-.7zM112.8 364.6h.7v.7h-.7zM132.8 356.7h.7v.7h-.7zM129.7 371.9h.7v.7h-.7zM116.8 382.8h.7v.7h-.7zM120.2 358.4h.7v.7h-.7zM102.7 368.2h.7v.7h-.7zM120.5 383.7h.7v.7h-.7zM93.2 383.5h.7v.7h-.7zM121.4 385.5h.7v.7h-.7zM123.0 370.5h.7v.7h-.7zM119.8 372.6h.7v.7h-.7zM110.5 366.7h.7v.7h-.7zM117.1 362.8h.7v.7h-.7zM103.2 351.4h.7v.7h-.7zM120.4 374.0h.7v.7h-.7zM116.9 354.5h.7v.7h-.7zM123.4 363.5h.7v.7h-.7zM97.9 386.0h.7v.7h-.7zM120.7 362.9h.7v.7h-.7zM95.5 359.9h.7v.7h-.7zM128.9 383.7h.7v.7h-.7zM118.3 348.3h.7v.7h-.7zM112.7 364.7h.7v.7h-.7zM120.0 366.6h.7v.7h-.7zM119.0 349.2h.7v.7h-.7zM110.4 384.6h.7v.7h-.7zM103.3 378.7h.7v.7h-.7zM136.2 375.5h.7v.7h-.7zM103.9 382.4h.7v.7h-.7zM99.8 371.9h.7v.7h-.7zM112.4 382.3h.7v.7h-.7zM126.3 370.2h.7v.7h-.7zM131.7 379.3h.7v.7h-.7zM111.8 356.7h.7v.7h-.7zM137.5 363.3h.7v.7h-.7zM119.6 366.7h.7v.7h-.7zM111.9 349.4h.7v.7h-.7zM114.7 366.7h.7v.7h-.7zM124.6 362.1h.7v.7h-.7zM102.3 355.6h.7v.7h-.7zM115.7 370.9h.7v.7h-.7zM122.3 363.6h.7v.7h-.7zM120.7 369.7h.7v.7h-.7zM130.8 367.4h.7v.7h-.7zM117.3 374.5h.7v.7h-.7zM126.7 357.4h.7v.7h-.7zM111.9 364.8h.7v.7h-.7zM97.4 383.0h.7v.7h-.7zM125.4 368.3h.7v.7h-.7zM133.7 386.1h.7v.7h-.7zM123.9 351.6h.7v.7h-.7zM129.4 372.9h.7v.7h-.7zM105.5 368.6h.7v.7h-.7zM122.6 379.4h.7v.7h-.7zM117.5 362.0h.7v.7h-.7zM122.7 359.2h.7v.7h-.7zM115.3 376.8h.7v.7h-.7zM103.4 372.3h.7v.7h-.7zM98.9 357.3h.7v.7h-.7zM105.2 367.0h.7v.7h-.7zM122.3 367.4h.7v.7h-.7zM124.0 369.1h.7v.7h-.7zM114.2 373.7h.7v.7h-.7zM113.9 369.6h.7v.7h-.7zM125.1 361.4h.7v.7h-.7zM126.1 355.2h.7v.7h-.7zM114.1 347.9h.7v.7h-.7zM111.4 386.4h.7v.7h-.7zM119.1 382.7h.7v.7h-.7zM103.2 356.3h.7v.7h-.7zM120.1 377.6h.7v.7h-.7zM123.3 348.6h.7v.7h-.7zM120.5 367.2h.7v.7h-.7zM117.1 373.5h.7v.7h-.7zM113.6 348.4h.7v.7h-.7zM106.7 351.3h.7v.7h-.7zM104.5 366.5h.7v.7h-.7zM127.4 359.7h.7v.7h-.7zM109.3 354.7h.7v.7h-.7zM100.9 368.8h.7v.7h-.7zM111.8 365.2h.7v.7h-.7zM107.6 373.6h.7v.7h-.7zM93.0 342.6h.7v.7h-.7zM96.1 343.8h.7v.7h-.7zM94.8 342.1h.7v.7h-.7zM102.6 339.6h.7v.7h-.7zM109.5 340.8h.7v.7h-.7zM94.8 343.3h.7v.7h-.7zM95.2 337.4h.7v.7h-.7zM100.1 340.9h.7v.7h-.7zM110.0 331.6h.7v.7h-.7zM98.5 345.5h.7v.7h-.7zM99.1 341.6h.7v.7h-.7zM108.9 334.1h.7v.7h-.7zM100.3 343.8h.7v.7h-.7zM96.6 331.5h.7v.7h-.7zM94.2 340.9h.7v.7h-.7zM101.1 348.9h.7v.7h-.7zM107.8 332.5h.7v.7h-.7zM106.1 344.4h.7v.7h-.7zM109.5 339.3h.7v.7h-.7zM96.7 340.7h.7v.7h-.7zM109.0 343.0h.7v.7h-.7zM109.9 343.8h.7v.7h-.7zM96.6 335.1h.7v.7h-.7zM110.8 332.7h.7v.7h-.7zM98.0 338.5h.7v.7h-.7zM94.7 337.2h.7v.7h-.7zM100.0 351.5h.7v.7h-.7zM99.6 337.5h.7v.7h-.7zM100.7 344.5h.7v.7h-.7zM95.2 338.0h.7v.7h-.7zM89.8 343.4h.7v.7h-.7zM104.0 347.3h.7v.7h-.7zM93.0 350.5h.7v.7h-.7zM105.1 338.7h.7v.7h-.7zM97.7 338.5h.7v.7h-.7zM92.9 343.7h.7v.7h-.7zM96.4 336.5h.7v.7h-.7zM103.0 340.5h.7v.7h-.7zM96.6 338.9h.7v.7h-.7zM97.1 346.5h.7v.7h-.7zM105.9 336.5h.7v.7h-.7zM99.8 346.6h.7v.7h-.7zM98.3 348.6h.7v.7h-.7zM102.6 343.2h.7v.7h-.7zM87.9 344.1h.7v.7h-.7zM102.0 342.8h.7v.7h-.7zM102.8 342.6h.7v.7h-.7zM97.0 344.4h.7v.7h-.7zM100.4 334.9h.7v.7h-.7zM94.0 340.8h.7v.7h-.7zM102.0 329.3h.7v.7h-.7zM87.9 345.1h.7v.7h-.7zM99.9 353.8h.7v.7h-.7zM91.0 338.8h.7v.7h-.7zM96.5 342.7h.7v.7h-.7zM108.2 347.8h.7v.7h-.7zM94.1 346.0h.7v.7h-.7zM92.9 341.5h.7v.7h-.7zM101.0 343.0h.7v.7h-.7zM95.3 346.5h.7v.7h-.7zM95.4 377.9h.7v.7h-.7zM93.7 370.8h.7v.7h-.7zM102.3 380.3h.7v.7h-.7zM88.4 376.1h.7v.7h-.7zM96.1 383.8h.7v.7h-.7zM94.4 384.3h.7v.7h-.7zM100.0 366.1h.7v.7h-.7zM90.0 364.2h.7v.7h-.7zM93.5 375.2h.7v.7h-.7zM101.2 379.2h.7v.7h-.7zM95.4 386.6h.7v.7h-.7zM101.2 369.6h.7v.7h-.7zM89.9 380.2h.7v.7h-.7zM111.0 376.7h.7v.7h-.7zM94.5 379.8h.7v.7h-.7zM102.9 377.4h.7v.7h-.7zM98.6 375.1h.7v.7h-.7zM91.2 372.6h.7v.7h-.7zM101.8 374.2h.7v.7h-.7zM100.8 380.8h.7v.7h-.7zM104.6 359.8h.7v.7h-.7zM87.5 369.7h.7v.7h-.7zM94.6 383.5h.7v.7h-.7zM118.3 388.5h.7v.7h-.7zM107.9 380.6h.7v.7h-.7zM92.6 381.6h.7v.7h-.7zM96.1 382.2h.7v.7h-.7zM87.0 370.6h.7v.7h-.7zM90.3 377.7h.7v.7h-.7zM99.1 375.6h.7v.7h-.7zM99.1 382.6h.7v.7h-.7zM85.8 377.3h.7v.7h-.7zM82.3 374.3h.7v.7h-.7zM104.0 373.1h.7v.7h-.7zM112.4 381.4h.7v.7h-.7zM103.8 378.7h.7v.7h-.7zM103.6 385.4h.7v.7h-.7zM96.9 374.4h.7v.7h-.7zM94.4 374.9h.7v.7h-.7zM89.8 366.5h.7v.7h-.7zM91.6 380.2h.7v.7h-.7zM91.7 372.8h.7v.7h-.7zM99.6 381.1h.7v.7h-.7zM92.2 380.1h.7v.7h-.7zM87.4 383.9h.7v.7h-.7zM87.3 375.7h.7v.7h-.7zM97.2 375.1h.7v.7h-.7zM109.3 366.1h.7v.7h-.7zM97.1 369.4h.7v.7h-.7zM98.7 369.1h.7v.7h-.7zM101.1 381.6h.7v.7h-.7zM111.0 386.2h.7v.7h-.7zM92.0 384.4h.7v.7h-.7zM92.0 377.2h.7v.7h-.7zM91.6 366.0h.7v.7h-.7zM101.3 364.2h.7v.7h-.7zM93.9 381.6h.7v.7h-.7zM97.0 367.3h.7v.7h-.7zM90.3 382.6h.7v.7h-.7zM105.7 388.9h.7v.7h-.7zM91.8 383.2h.7v.7h-.7zM102.2 373.6h.7v.7h-.7zM92.8 371.3h.7v.7h-.7zM105.8 369.0h.7v.7h-.7zM88.0 375.7h.7v.7h-.7zM98.4 372.3h.7v.7h-.7zM101.1 380.3h.7v.7h-.7zM98.5 377.6h.7v.7h-.7zM100.1 370.0h.7v.7h-.7zM85.4 375.1h.7v.7h-.7zM86.3 382.8h.7v.7h-.7zM113.1 386.4h.7v.7h-.7zM99.9 380.3h.7v.7h-.7zM90.0 369.1h.7v.7h-.7zM100.8 367.9h.7v.7h-.7zM98.7 377.0h.7v.7h-.7zM102.6 378.3h.7v.7h-.7zM96.9 374.0h.7v.7h-.7zM102.1 385.1h.7v.7h-.7zM108.1 371.2h.7v.7h-.7zM87.8 382.8h.7v.7h-.7zM98.8 367.6h.7v.7h-.7zM91.1 388.7h.7v.7h-.7zM83.8 388.9h.7v.7h-.7zM92.1 371.0h.7v.7h-.7zM115.2 378.7h.7v.7h-.7zM93.7 370.1h.7v.7h-.7zM99.0 374.8h.7v.7h-.7zM88.5 387.4h.7v.7h-.7zM99.9 371.9h.7v.7h-.7zM109.0 377.6h.7v.7h-.7zM100.4 379.0h.7v.7h-.7zM106.4 382.2h.7v.7h-.7zM92.9 382.9h.7v.7h-.7zM92.6 378.9h.7v.7h-.7zM110.4 370.8h.7v.7h-.7zM86.9 375.3h.7v.7h-.7zM91.6 386.9h.7v.7h-.7zM109.9 374.9h.7v.7h-.7zM97.6 375.5h.7v.7h-.7zM101.9 382.5h.7v.7h-.7zM102.6 383.2h.7v.7h-.7zM113.0 376.8h.7v.7h-.7zM102.2 376.7h.7v.7h-.7zM96.3 379.5h.7v.7h-.7zM95.5 380.4h.7v.7h-.7zM88.5 377.0h.7v.7h-.7zM90.7 370.0h.7v.7h-.7zM89.8 374.6h.7v.7h-.7zM94.7 367.3h.7v.7h-.7zM93.7 370.3h.7v.7h-.7zM88.8 379.3h.7v.7h-.7zM105.8 380.0h.7v.7h-.7zM91.7 375.0h.7v.7h-.7zM107.8 366.9h.7v.7h-.7zM106.0 367.8h.7v.7h-.7zM90.4 378.3h.7v.7h-.7zM100.4 377.7h.7v.7h-.7zM104.4 378.3h.7v.7h-.7zM88.9 385.7h.7v.7h-.7zM109.2 386.7h.7v.7h-.7zM92.3 383.2h.7v.7h-.7zM106.4 381.4h.7v.7h-.7zM93.3 358.0h.7v.7h-.7zM99.9 376.7h.7v.7h-.7zM96.0 379.6h.7v.7h-.7zM102.6 376.2h.7v.7h-.7zM88.1 375.5h.7v.7h-.7zM113.4 373.3h.7v.7h-.7zM105.3 378.8h.7v.7h-.7zM102.5 376.2h.7v.7h-.7zM88.0 384.8h.7v.7h-.7zM97.2 389.0h.7v.7h-.7zM93.7 375.4h.7v.7h-.7zM99.0 376.7h.7v.7h-.7zM93.3 371.9h.7v.7h-.7zM98.2 380.2h.7v.7h-.7zM112.1 377.8h.7v.7h-.7zM116.2 375.0h.7v.7h-.7zM88.9 376.9h.7v.7h-.7zM94.3 367.7h.7v.7h-.7zM101.1 372.0h.7v.7h-.7zM107.0 379.3h.7v.7h-.7zM91.5 376.2h.7v.7h-.7zM104.5 374.5h.7v.7h-.7zM99.7 384.6h.7v.7h-.7zM88.0 374.0h.7v.7h-.7zM100.0 378.1h.7v.7h-.7zM94.9 374.4h.7v.7h-.7zM108.0 367.0h.7v.7h-.7zM96.4 378.6h.7v.7h-.7zM96.3 368.5h.7v.7h-.7zM94.9 379.0h.7v.7h-.7zM90.0 380.1h.7v.7h-.7zM96.9 380.7h.7v.7h-.7zM94.5 374.9h.7v.7h-.7zM97.6 385.4h.7v.7h-.7zM103.9 377.5h.7v.7h-.7zM91.9 385.3h.7v.7h-.7zM100.8 384.1h.7v.7h-.7zM93.6 372.1h.7v.7h-.7zM97.7 373.7h.7v.7h-.7zM106.2 383.9h.7v.7h-.7zM107.8 385.1h.7v.7h-.7zM91.8 372.1h.7v.7h-.7zM104.6 384.9h.7v.7h-.7zM96.5 370.1h.7v.7h-.7zM82.5 379.8h.7v.7h-.7zM88.7 373.3h.7v.7h-.7zM99.9 385.2h.7v.7h-.7zM107.5 377.7h.7v.7h-.7zM125.3 378.3h.7v.7h-.7zM119.1 360.0h.7v.7h-.7zM128.2 387.3h.7v.7h-.7zM136.0 372.0h.7v.7h-.7zM135.9 368.0h.7v.7h-.7zM118.7 355.6h.7v.7h-.7zM130.1 380.8h.7v.7h-.7zM130.9 371.6h.7v.7h-.7zM124.9 382.7h.7v.7h-.7zM127.6 357.9h.7v.7h-.7zM138.8 365.6h.7v.7h-.7zM131.1 372.0h.7v.7h-.7zM136.3 374.4h.7v.7h-.7zM137.6 374.1h.7v.7h-.7zM124.4 367.0h.7v.7h-.7zM133.1 363.9h.7v.7h-.7zM135.3 369.7h.7v.7h-.7zM120.7 363.4h.7v.7h-.7zM134.1 372.2h.7v.7h-.7zM125.8 372.0h.7v.7h-.7zM124.7 385.1h.7v.7h-.7zM129.4 367.5h.7v.7h-.7zM129.5 362.2h.7v.7h-.7zM119.7 370.4h.7v.7h-.7zM105.4 383.5h.7v.7h-.7zM143.6 361.1h.7v.7h-.7zM126.9 356.5h.7v.7h-.7zM129.4 374.1h.7v.7h-.7zM133.8 358.9h.7v.7h-.7zM123.3 365.7h.7v.7h-.7zM126.4 371.6h.7v.7h-.7zM124.0 379.8h.7v.7h-.7zM140.0 361.5h.7v.7h-.7zM136.3 372.3h.7v.7h-.7zM137.8 382.4h.7v.7h-.7zM133.1 355.6h.7v.7h-.7zM129.1 367.1h.7v.7h-.7zM131.5 372.4h.7v.7h-.7zM136.2 356.3h.7v.7h-.7zM122.2 371.3h.7v.7h-.7zM130.5 368.0h.7v.7h-.7zM127.8 372.5h.7v.7h-.7zM136.2 370.9h.7v.7h-.7zM129.9 354.2h.7v.7h-.7zM107.4 357.6h.7v.7h-.7zM130.8 349.4h.7v.7h-.7zM131.2 371.1h.7v.7h-.7zM128.0 364.8h.7v.7h-.7zM124.7 380.2h.7v.7h-.7zM130.8 371.7h.7v.7h-.7zM124.2 374.1h.7v.7h-.7zM137.4 371.8h.7v.7h-.7zM125.1 360.4h.7v.7h-.7zM128.8 363.0h.7v.7h-.7zM116.7 380.5h.7v.7h-.7zM123.1 352.0h.7v.7h-.7zM127.2 359.0h.7v.7h-.7zM119.3 379.1h.7v.7h-.7zM131.2 374.1h.7v.7h-.7zM126.5 376.8h.7v.7h-.7zM140.1 376.8h.7v.7h-.7zM126.7 358.3h.7v.7h-.7zM131.5 387.4h.7v.7h-.7zM133.1 359.7h.7v.7h-.7zM129.5 384.8h.7v.7h-.7zM90.0 364.8h.7v.7h-.7zM119.0 380.5h.7v.7h-.7zM105.9 367.7h.7v.7h-.7zM94.4 357.7h.7v.7h-.7zM93.6 374.5h.7v.7h-.7zM99.6 358.4h.7v.7h-.7zM128.2 355.0h.7v.7h-.7zM105.5 362.9h.7v.7h-.7zM104.1 378.2h.7v.7h-.7zM102.2 360.1h.7v.7h-.7zM98.2 358.1h.7v.7h-.7zM99.1 371.7h.7v.7h-.7zM100.3 358.9h.7v.7h-.7zM99.3 368.4h.7v.7h-.7zM92.6 370.9h.7v.7h-.7zM91.0 367.6h.7v.7h-.7zM130.3 361.2h.7v.7h-.7zM98.6 341.7h.7v.7h-.7zM111.7 358.2h.7v.7h-.7zM114.3 348.9h.7v.7h-.7zM108.2 382.9h.7v.7h-.7zM106.3 353.5h.7v.7h-.7zM110.4 366.3h.7v.7h-.7zM82.4 343.8h.7v.7h-.7zM84.6 343.9h.7v.7h-.7zM95.6 361.7h.7v.7h-.7zM130.3 360.7h.7v.7h-.7zM122.9 335.2h.7v.7h-.7zM124.3 369.0h.7v.7h-.7zM107.0 369.4h.7v.7h-.7zM109.7 384.4h.7v.7h-.7zM112.7 334.0h.7v.7h-.7zM98.7 376.3h.7v.7h-.7zM94.6 348.9h.7v.7h-.7zM94.6 362.4h.7v.7h-.7zM103.0 349.4h.7v.7h-.7zM108.5 366.5h.7v.7h-.7zM85.5 342.6h.7v.7h-.7zM100.2 348.4h.7v.7h-.7zM90.5 356.2h.7v.7h-.7zM100.5 365.9h.7v.7h-.7zM113.2 364.0h.7v.7h-.7zM117.7 344.6h.7v.7h-.7zM109.6 363.2h.7v.7h-.7zM83.5 348.6h.7v.7h-.7zM107.0 359.0h.7v.7h-.7zM124.1 369.7h.7v.7h-.7zM101.3 376.6h.7v.7h-.7zM85.7 355.6h.7v.7h-.7zM115.2 353.4h.7v.7h-.7zM82.3 366.1h.7v.7h-.7zM102.4 340.7h.7v.7h-.7zM95.3 338.5h.7v.7h-.7zM141.1 348.6h.7v.7h-.7zM100.7 348.2h.7v.7h-.7zM84.4 351.7h.7v.7h-.7zM103.3 382.2h.7v.7h-.7zM104.5 379.7h.7v.7h-.7zM83.2 359.0h.7v.7h-.7zM93.1 336.3h.7v.7h-.7zM103.9 347.6h.7v.7h-.7zM90.9 343.7h.7v.7h-.7zM116.2 352.4h.7v.7h-.7zM97.7 360.5h.7v.7h-.7zM97.3 364.2h.7v.7h-.7zM93.9 358.5h.7v.7h-.7zM108.2 371.4h.7v.7h-.7zM89.1 371.4h.7v.7h-.7zM84.4 355.4h.7v.7h-.7zM102.1 360.0h.7v.7h-.7zM97.1 370.8h.7v.7h-.7zM88.9 378.9h.7v.7h-.7zM108.5 358.2h.7v.7h-.7zM104.2 370.9h.7v.7h-.7zM87.3 366.2h.7v.7h-.7zM116.8 354.8h.7v.7h-.7zM86.5 343.4h.7v.7h-.7zM106.8 346.9h.7v.7h-.7zM139.2 365.9h.7v.7h-.7zM124.2 367.4h.7v.7h-.7zM83.9 372.3h.7v.7h-.7zM92.5 388.6h.7v.7h-.7zM91.3 366.3h.7v.7h-.7zM108.9 351.9h.7v.7h-.7zM97.6 374.0h.7v.7h-.7zM107.9 357.2h.7v.7h-.7zM107.0 382.2h.7v.7h-.7zM114.7 364.6h.7v.7h-.7zM105.2 336.4h.7v.7h-.7zM102.1 351.3h.7v.7h-.7zM111.6 349.6h.7v.7h-.7zM107.1 343.5h.7v.7h-.7zM114.2 347.9h.7v.7h-.7zM99.6 366.0h.7v.7h-.7zM94.9 358.1h.7v.7h-.7zM116.8 382.5h.7v.7h-.7zM110.7 371.0h.7v.7h-.7zM92.5 359.3h.7v.7h-.7zM96.8 341.5h.7v.7h-.7zM120.6 352.6h.7v.7h-.7zM130.8 366.8h.7v.7h-.7zM106.1 366.9h.7v.7h-.7zM112.5 370.7h.7v.7h-.7zM84.6 350.3h.7v.7h-.7zM91.3 359.4h.7v.7h-.7zM96.0 341.0h.7v.7h-.7zM89.0 382.7h.7v.7h-.7zM133.6 346.2h.7v.7h-.7zM106.0 357.5h.7v.7h-.7zM86.6 367.9h.7v.7h-.7zM98.9 381.1h.7v.7h-.7zM107.2 353.7h.7v.7h-.7zM113.4 348.1h.7v.7h-.7zM114.0 367.4h.7v.7h-.7zM105.1 368.4h.7v.7h-.7zM102.4 357.8h.7v.7h-.7zM94.5 354.0h.7v.7h-.7zM100.1 343.3h.7v.7h-.7zM110.1 353.5h.7v.7h-.7zM108.3 351.0h.7v.7h-.7zM106.5 359.8h.7v.7h-.7zM114.1 364.4h.7v.7h-.7zM114.7 355.7h.7v.7h-.7zM99.1 354.4h.7v.7h-.7zM117.2 368.6h.7v.7h-.7zM86.6 362.1h.7v.7h-.7zM111.9 339.2h.7v.7h-.7zM105.5 362.6h.7v.7h-.7zM111.8 361.5h.7v.7h-.7zM131.4 352.5h.7v.7h-.7zM120.1 375.5h.7v.7h-.7zM101.4 342.2h.7v.7h-.7zM121.6 357.5h.7v.7h-.7zM108.2 364.6h.7v.7h-.7zM115.1 372.0h.7v.7h-.7zM102.2 358.1h.7v.7h-.7zM112.3 356.1h.7v.7h-.7zM97.1 386.0h.7v.7h-.7zM121.7 374.0h.7v.7h-.7zM116.4 347.1h.7v.7h-.7zM98.6 357.0h.7v.7h-.7zM82.7 346.0h.7v.7h-.7zM102.5 341.3h.7v.7h-.7zM108.6 364.5h.7v.7h-.7zM96.3 353.3h.7v.7h-.7zM109.5 364.6h.7v.7h-.7zM105.8 341.1h.7v.7h-.7zM89.7 353.0h.7v.7h-.7zM88.4 369.0h.7v.7h-.7zM93.5 351.2h.7v.7h-.7zM87.7 351.9h.7v.7h-.7zM118.9 360.1h.7v.7h-.7zM91.5 375.4h.7v.7h-.7zM107.7 343.8h.7v.7h-.7zM90.9 349.6h.7v.7h-.7zM99.3 374.7h.7v.7h-.7zM88.9 356.0h.7v.7h-.7zM101.8 341.6h.7v.7h-.7zM92.5 366.4h.7v.7h-.7zM117.9 332.2h.7v.7h-.7zM111.2 354.0h.7v.7h-.7zM120.4 366.6h.7v.7h-.7zM131.1 362.3h.7v.7h-.7zM93.7 346.5h.7v.7h-.7zM108.2 369.3h.7v.7h-.7zM105.5 337.4h.7v.7h-.7zM93.6 354.7h.7v.7h-.7zM102.5 368.6h.7v.7h-.7zM122.4 361.9h.7v.7h-.7zM119.3 359.4h.7v.7h-.7zM123.2 353.2h.7v.7h-.7zM122.8 355.1h.7v.7h-.7zM121.4 360.3h.7v.7h-.7zM116.6 354.7h.7v.7h-.7zM124.6 352.0h.7v.7h-.7zM120.6 355.5h.7v.7h-.7zM118.8 349.9h.7v.7h-.7zM118.0 351.1h.7v.7h-.7zM123.2 356.0h.7v.7h-.7zM122.1 350.3h.7v.7h-.7zM121.5 355.6h.7v.7h-.7zM123.1 352.2h.7v.7h-.7zM122.4 360.4h.7v.7h-.7zM125.3 351.4h.7v.7h-.7zM116.7 349.3h.7v.7h-.7zM122.9 357.3h.7v.7h-.7zM121.0 351.6h.7v.7h-.7zM123.7 361.3h.7v.7h-.7zM119.9 354.5h.7v.7h-.7zM123.5 357.0h.7v.7h-.7zM124.0 353.4h.7v.7h-.7zM121.0 353.7h.7v.7h-.7zM118.3 353.8h.7v.7h-.7zM119.2 357.0h.7v.7h-.7zM119.1 355.3h.7v.7h-.7zM117.6 350.2h.7v.7h-.7zM124.2 351.1h.7v.7h-.7zM125.4 358.7h.7v.7h-.7zM113.2 352.5h.7v.7h-.7zM118.8 355.1h.7v.7h-.7zM119.5 352.6h.7v.7h-.7zM123.7 354.5h.7v.7h-.7zM122.9 352.3h.7v.7h-.7zM118.0 360.2h.7v.7h-.7zM119.2 350.7h.7v.7h-.7zM119.5 359.1h.7v.7h-.7zM119.5 352.2h.7v.7h-.7zM121.9 358.9h.7v.7h-.7zM119.4 353.8h.7v.7h-.7zM118.9 365.6h.7v.7h-.7zM119.4 361.8h.7v.7h-.7zM119.6 356.6h.7v.7h-.7zM114.0 355.7h.7v.7h-.7zM120.2 353.8h.7v.7h-.7z" fill="#333" fill-opacity="0.45"/>
<defs><clipPath id="cp1"><path d="M82.3,353.3 Q87,349.4 92.5,349.2 Q98,347 102,347.5 Q106,347.4 108,348 Q111,349.5 112.7,352.3 L110.3,358 L113.2,363.8 Q113.5,368 112.2,371.5 Q111,376 108.8,380.2 L105.5,387.4 L94.4,380.2 L85.0,372.5 Q82.6,369 82.6,366.7 L86.6,362.4 L82.3,359 Z"/></clipPath><radialGradient id="rg1_0" cx="98.3" cy="355.5" r="1" gradientUnits="userSpaceOnUse" gradientTransform="translate(98.3 355.5) scale(14 7.5) translate(-98.3 -355.5)"><stop offset="0" stop-color="#1a1a1a"/><stop offset="0.45" stop-color="#2a2a2a"/><stop offset="1" stop-color="#7a7a7a" stop-opacity="0"/></radialGradient><radialGradient id="rg1_1" cx="100.8" cy="369.5" r="1" gradientUnits="userSpaceOnUse" gradientTransform="translate(100.8 369.5) scale(12 11.5) translate(-100.8 -369.5)"><stop offset="0" stop-color="#262626"/><stop offset="0.45" stop-color="#383838"/><stop offset="1" stop-color="#7a7a7a" stop-opacity="0"/></radialGradient></defs>
<path d="M82.3,353.3 Q87,349.4 92.5,349.2 Q98,347 102,347.5 Q106,347.4 108,348 Q111,349.5 112.7,352.3 L110.3,358 L113.2,363.8 Q113.5,368 112.2,371.5 Q111,376 108.8,380.2 L105.5,387.4 L94.4,380.2 L85.0,372.5 Q82.6,369 82.6,366.7 L86.6,362.4 L82.3,359 Z" fill="none" stroke="#7a7a7a" stroke-width="4.5" stroke-opacity="0.55" filter="url(#blur1)"/>
<path d="M82.3,353.3 Q87,349.4 92.5,349.2 Q98,347 102,347.5 Q106,347.4 108,348 Q111,349.5 112.7,352.3 L110.3,358 L113.2,363.8 Q113.5,368 112.2,371.5 Q111,376 108.8,380.2 L105.5,387.4 L94.4,380.2 L85.0,372.5 Q82.6,369 82.6,366.7 L86.6,362.4 L82.3,359 Z" fill="none" stroke="#444" stroke-width="1.4" stroke-opacity="0.8" filter="url(#blur05)"/>
<g clip-path="url(#cp1)"><path d="M82.3,353.3 Q87,349.4 92.5,349.2 Q98,347 102,347.5 Q106,347.4 108,348 Q111,349.5 112.7,352.3 L110.3,358 L113.2,363.8 Q113.5,368 112.2,371.5 Q111,376 108.8,380.2 L105.5,387.4 L94.4,380.2 L85.0,372.5 Q82.6,369 82.6,366.7 L86.6,362.4 L82.3,359 Z" fill="#8e8e8e"/>
<ellipse cx="98.3" cy="355.5" rx="14" ry="7.5" fill="url(#rg1_0)"/>
<ellipse cx="100.8" cy="369.5" rx="12" ry="11.5" fill="url(#rg1_1)"/>
</g>
<path d="M82.3,353.3 Q87,349.4 92.5,349.2 Q98,347 102,347.5 Q106,347.4 108,348 Q111,349.5 112.7,352.3 L110.3,358 L113.2,363.8 Q113.5,368 112.2,371.5 Q111,376 108.8,380.2 L105.5,387.4 L94.4,380.2 L85.0,372.5 Q82.6,369 82.6,366.7 L86.6,362.4 L82.3,359 Z" fill="none" stroke="#fff" stroke-width="1.1"/>
<path d="M82.3,353.3 Q87,349.4 92.5,349.2 Q98,347 102,347.5 Q106,347.4 108,348 Q111,349.5 112.7,352.3 L110.3,358 L113.2,363.8 Q113.5,368 112.2,371.5 Q111,376 108.8,380.2 L105.5,387.4 L94.4,380.2 L85.0,372.5 Q82.6,369 82.6,366.7 L86.6,362.4 L82.3,359 Z" fill="none" stroke="#fff" stroke-opacity="0.8" stroke-width="0.45" vector-effect="non-scaling-stroke" transform="translate(99 364) scale(0.82) translate(-99 -364)" clip-path="url(#cp1)"/>
<path d="M82.3,353.3 Q87,349.4 92.5,349.2 Q98,347 102,347.5 Q106,347.4 108,348 Q111,349.5 112.7,352.3 L110.3,358 L113.2,363.8 Q113.5,368 112.2,371.5 Q111,376 108.8,380.2 L105.5,387.4 L94.4,380.2 L85.0,372.5 Q82.6,369 82.6,366.7 L86.6,362.4 L82.3,359 Z" fill="none" stroke="#fff" stroke-opacity="0.8" stroke-width="0.45" vector-effect="non-scaling-stroke" transform="translate(99 364) scale(0.64) translate(-99 -364)" clip-path="url(#cp1)"/>
<ellipse cx="98.5" cy="355.4" rx="2.0" ry="1.0" fill="#bbb"/>
<ellipse cx="100.8" cy="369" rx="1.6" ry="0.9" fill="#888"/>
<path d="M86,362.8 Q95,361.5 110,362.6" fill="none" stroke="#ccc" stroke-width="0.5"/>
<rect x="81.20" y="325.00" width="64.80" height="65.00" fill="none" stroke="#111" stroke-width="1.3"/>
<rect x="114.40" y="348.50" width="11.00" height="14.00" rx="0.5" fill="none" stroke="#444" stroke-width="0.75"/>
<rect x="116.5" y="343.5" width="0.8" height="0.8" fill="#111"/>
<text x="120.00" y="346.30" font-size="5.0" text-anchor="start" fill="#111" stroke="#111" stroke-width="0.18" font-weight="bold" font-family="Liberation Serif" textLength="14.8" lengthAdjust="spacingAndGlyphs">0,209%</text>
<text x="186.50" y="327.50" font-size="6.6" text-anchor="end" fill="#1a1a1a" stroke="#1a1a1a" stroke-width="0.2" textLength="9.6" lengthAdjust="spacingAndGlyphs">10<tspan font-size="4.09" dx="0.25" dy="-2.90" stroke-width="0.06">6</tspan></text>
<text x="186.50" y="340.22" font-size="6.6" text-anchor="end" fill="#1a1a1a" stroke="#1a1a1a" stroke-width="0.2" textLength="9.6" lengthAdjust="spacingAndGlyphs">10<tspan font-size="4.09" dx="0.25" dy="-2.90" stroke-width="0.06">5</tspan></text>
<text x="186.50" y="352.94" font-size="6.6" text-anchor="end" fill="#1a1a1a" stroke="#1a1a1a" stroke-width="0.2" textLength="9.6" lengthAdjust="spacingAndGlyphs">10<tspan font-size="4.09" dx="0.25" dy="-2.90" stroke-width="0.06">4</tspan></text>
<text x="186.50" y="365.66" font-size="6.6" text-anchor="end" fill="#1a1a1a" stroke="#1a1a1a" stroke-width="0.2" textLength="9.6" lengthAdjust="spacingAndGlyphs">10<tspan font-size="4.09" dx="0.25" dy="-2.90" stroke-width="0.06">3</tspan></text>
<text x="186.50" y="378.38" font-size="6.6" text-anchor="end" fill="#1a1a1a" stroke="#1a1a1a" stroke-width="0.2" textLength="9.6" lengthAdjust="spacingAndGlyphs">10<tspan font-size="4.09" dx="0.25" dy="-2.90" stroke-width="0.06">2</tspan></text>
<text x="186.50" y="391.10" font-size="6.6" text-anchor="end" fill="#1a1a1a" stroke="#1a1a1a" stroke-width="0.2" textLength="9.6" lengthAdjust="spacingAndGlyphs">10<tspan font-size="4.09" dx="0.25" dy="-2.90" stroke-width="0.06">1</tspan></text>
<text x="192.10" y="401.90" font-size="7.0" text-anchor="middle" fill="#1a1a1a" stroke="#1a1a1a" stroke-width="0.2" textLength="8.6" lengthAdjust="spacingAndGlyphs">10<tspan font-size="4.34" dx="0.25" dy="-3.08" stroke-width="0.06">1</tspan></text>
<text x="205.20" y="401.90" font-size="7.0" text-anchor="middle" fill="#1a1a1a" stroke="#1a1a1a" stroke-width="0.2" textLength="8.6" lengthAdjust="spacingAndGlyphs">10<tspan font-size="4.34" dx="0.25" dy="-3.08" stroke-width="0.06">2</tspan></text>
<text x="218.30" y="401.90" font-size="7.0" text-anchor="middle" fill="#1a1a1a" stroke="#1a1a1a" stroke-width="0.2" textLength="8.6" lengthAdjust="spacingAndGlyphs">10<tspan font-size="4.34" dx="0.25" dy="-3.08" stroke-width="0.06">3</tspan></text>
<text x="231.40" y="401.90" font-size="7.0" text-anchor="middle" fill="#1a1a1a" stroke="#1a1a1a" stroke-width="0.2" textLength="8.6" lengthAdjust="spacingAndGlyphs">10<tspan font-size="4.34" dx="0.25" dy="-3.08" stroke-width="0.06">4</tspan></text>
<text x="244.50" y="401.90" font-size="7.0" text-anchor="middle" fill="#1a1a1a" stroke="#1a1a1a" stroke-width="0.2" textLength="8.6" lengthAdjust="spacingAndGlyphs">10<tspan font-size="4.34" dx="0.25" dy="-3.08" stroke-width="0.06">5</tspan></text>
<text x="257.60" y="401.90" font-size="7.0" text-anchor="middle" fill="#1a1a1a" stroke="#1a1a1a" stroke-width="0.2" textLength="8.6" lengthAdjust="spacingAndGlyphs">10<tspan font-size="4.34" dx="0.25" dy="-3.08" stroke-width="0.06">6</tspan></text>
<line x1="191.50" y1="388.60" x2="191.50" y2="391.00" stroke="#111" stroke-width="0.5"/>
<line x1="195.44" y1="388.60" x2="195.44" y2="389.60" stroke="#111" stroke-width="0.5"/>
<line x1="197.75" y1="388.60" x2="197.75" y2="389.60" stroke="#111" stroke-width="0.5"/>
<line x1="199.39" y1="388.60" x2="199.39" y2="389.60" stroke="#111" stroke-width="0.5"/>
<line x1="200.66" y1="388.60" x2="200.66" y2="389.60" stroke="#111" stroke-width="0.5"/>
<line x1="201.69" y1="388.60" x2="201.69" y2="389.60" stroke="#111" stroke-width="0.5"/>
<line x1="202.57" y1="388.60" x2="202.57" y2="389.60" stroke="#111" stroke-width="0.5"/>
<line x1="203.33" y1="388.60" x2="203.33" y2="389.60" stroke="#111" stroke-width="0.5"/>
<line x1="204.00" y1="388.60" x2="204.00" y2="389.60" stroke="#111" stroke-width="0.5"/>
<line x1="204.60" y1="388.60" x2="204.60" y2="391.00" stroke="#111" stroke-width="0.5"/>
<line x1="208.54" y1="388.60" x2="208.54" y2="389.60" stroke="#111" stroke-width="0.5"/>
<line x1="210.85" y1="388.60" x2="210.85" y2="389.60" stroke="#111" stroke-width="0.5"/>
<line x1="212.49" y1="388.60" x2="212.49" y2="389.60" stroke="#111" stroke-width="0.5"/>
<line x1="213.76" y1="388.60" x2="213.76" y2="389.60" stroke="#111" stroke-width="0.5"/>
<line x1="214.79" y1="388.60" x2="214.79" y2="389.60" stroke="#111" stroke-width="0.5"/>
<line x1="215.67" y1="388.60" x2="215.67" y2="389.60" stroke="#111" stroke-width="0.5"/>
<line x1="216.43" y1="388.60" x2="216.43" y2="389.60" stroke="#111" stroke-width="0.5"/>
<line x1="217.10" y1="388.60" x2="217.10" y2="389.60" stroke="#111" stroke-width="0.5"/>
<line x1="217.70" y1="388.60" x2="217.70" y2="391.00" stroke="#111" stroke-width="0.5"/>
<line x1="221.64" y1="388.60" x2="221.64" y2="389.60" stroke="#111" stroke-width="0.5"/>
<line x1="223.95" y1="388.60" x2="223.95" y2="389.60" stroke="#111" stroke-width="0.5"/>
<line x1="225.59" y1="388.60" x2="225.59" y2="389.60" stroke="#111" stroke-width="0.5"/>
<line x1="226.86" y1="388.60" x2="226.86" y2="389.60" stroke="#111" stroke-width="0.5"/>
<line x1="227.89" y1="388.60" x2="227.89" y2="389.60" stroke="#111" stroke-width="0.5"/>
<line x1="228.77" y1="388.60" x2="228.77" y2="389.60" stroke="#111" stroke-width="0.5"/>
<line x1="229.53" y1="388.60" x2="229.53" y2="389.60" stroke="#111" stroke-width="0.5"/>
<line x1="230.20" y1="388.60" x2="230.20" y2="389.60" stroke="#111" stroke-width="0.5"/>
<line x1="230.80" y1="388.60" x2="230.80" y2="391.00" stroke="#111" stroke-width="0.5"/>
<line x1="234.74" y1="388.60" x2="234.74" y2="389.60" stroke="#111" stroke-width="0.5"/>
<line x1="237.05" y1="388.60" x2="237.05" y2="389.60" stroke="#111" stroke-width="0.5"/>
<line x1="238.69" y1="388.60" x2="238.69" y2="389.60" stroke="#111" stroke-width="0.5"/>
<line x1="239.96" y1="388.60" x2="239.96" y2="389.60" stroke="#111" stroke-width="0.5"/>
<line x1="240.99" y1="388.60" x2="240.99" y2="389.60" stroke="#111" stroke-width="0.5"/>
<line x1="241.87" y1="388.60" x2="241.87" y2="389.60" stroke="#111" stroke-width="0.5"/>
<line x1="242.63" y1="388.60" x2="242.63" y2="389.60" stroke="#111" stroke-width="0.5"/>
<line x1="243.30" y1="388.60" x2="243.30" y2="389.60" stroke="#111" stroke-width="0.5"/>
<line x1="243.90" y1="388.60" x2="243.90" y2="391.00" stroke="#111" stroke-width="0.5"/>
<line x1="247.84" y1="388.60" x2="247.84" y2="389.60" stroke="#111" stroke-width="0.5"/>
<line x1="250.15" y1="388.60" x2="250.15" y2="389.60" stroke="#111" stroke-width="0.5"/>
<line x1="251.79" y1="388.60" x2="251.79" y2="389.60" stroke="#111" stroke-width="0.5"/>
<line x1="253.06" y1="388.60" x2="253.06" y2="389.60" stroke="#111" stroke-width="0.5"/>
<line x1="254.09" y1="388.60" x2="254.09" y2="389.60" stroke="#111" stroke-width="0.5"/>
<line x1="254.97" y1="388.60" x2="254.97" y2="389.60" stroke="#111" stroke-width="0.5"/>
<line x1="255.73" y1="388.60" x2="255.73" y2="389.60" stroke="#111" stroke-width="0.5"/>
<line x1="256.40" y1="388.60" x2="256.40" y2="389.60" stroke="#111" stroke-width="0.5"/>
<line x1="257.00" y1="388.60" x2="257.00" y2="391.00" stroke="#111" stroke-width="0.5"/>
<line x1="189.10" y1="388.60" x2="191.50" y2="388.60" stroke="#111" stroke-width="0.5"/>
<line x1="190.50" y1="384.77" x2="191.50" y2="384.77" stroke="#111" stroke-width="0.5"/>
<line x1="190.50" y1="382.53" x2="191.50" y2="382.53" stroke="#111" stroke-width="0.5"/>
<line x1="190.50" y1="380.94" x2="191.50" y2="380.94" stroke="#111" stroke-width="0.5"/>
<line x1="190.50" y1="379.71" x2="191.50" y2="379.71" stroke="#111" stroke-width="0.5"/>
<line x1="190.50" y1="378.70" x2="191.50" y2="378.70" stroke="#111" stroke-width="0.5"/>
<line x1="190.50" y1="377.85" x2="191.50" y2="377.85" stroke="#111" stroke-width="0.5"/>
<line x1="190.50" y1="377.11" x2="191.50" y2="377.11" stroke="#111" stroke-width="0.5"/>
<line x1="190.50" y1="376.46" x2="191.50" y2="376.46" stroke="#111" stroke-width="0.5"/>
<line x1="189.10" y1="375.88" x2="191.50" y2="375.88" stroke="#111" stroke-width="0.5"/>
<line x1="190.50" y1="372.05" x2="191.50" y2="372.05" stroke="#111" stroke-width="0.5"/>
<line x1="190.50" y1="369.81" x2="191.50" y2="369.81" stroke="#111" stroke-width="0.5"/>
<line x1="190.50" y1="368.22" x2="191.50" y2="368.22" stroke="#111" stroke-width="0.5"/>
<line x1="190.50" y1="366.99" x2="191.50" y2="366.99" stroke="#111" stroke-width="0.5"/>
<line x1="190.50" y1="365.98" x2="191.50" y2="365.98" stroke="#111" stroke-width="0.5"/>
<line x1="190.50" y1="365.13" x2="191.50" y2="365.13" stroke="#111" stroke-width="0.5"/>
<line x1="190.50" y1="364.39" x2="191.50" y2="364.39" stroke="#111" stroke-width="0.5"/>
<line x1="190.50" y1="363.74" x2="191.50" y2="363.74" stroke="#111" stroke-width="0.5"/>
<line x1="189.10" y1="363.16" x2="191.50" y2="363.16" stroke="#111" stroke-width="0.5"/>
<line x1="190.50" y1="359.33" x2="191.50" y2="359.33" stroke="#111" stroke-width="0.5"/>
<line x1="190.50" y1="357.09" x2="191.50" y2="357.09" stroke="#111" stroke-width="0.5"/>
<line x1="190.50" y1="355.50" x2="191.50" y2="355.50" stroke="#111" stroke-width="0.5"/>
<line x1="190.50" y1="354.27" x2="191.50" y2="354.27" stroke="#111" stroke-width="0.5"/>
<line x1="190.50" y1="353.26" x2="191.50" y2="353.26" stroke="#111" stroke-width="0.5"/>
<line x1="190.50" y1="352.41" x2="191.50" y2="352.41" stroke="#111" stroke-width="0.5"/>
<line x1="190.50" y1="351.67" x2="191.50" y2="351.67" stroke="#111" stroke-width="0.5"/>
<line x1="190.50" y1="351.02" x2="191.50" y2="351.02" stroke="#111" stroke-width="0.5"/>
<line x1="189.10" y1="350.44" x2="191.50" y2="350.44" stroke="#111" stroke-width="0.5"/>
<line x1="190.50" y1="346.61" x2="191.50" y2="346.61" stroke="#111" stroke-width="0.5"/>
<line x1="190.50" y1="344.37" x2="191.50" y2="344.37" stroke="#111" stroke-width="0.5"/>
<line x1="190.50" y1="342.78" x2="191.50" y2="342.78" stroke="#111" stroke-width="0.5"/>
<line x1="190.50" y1="341.55" x2="191.50" y2="341.55" stroke="#111" stroke-width="0.5"/>
<line x1="190.50" y1="340.54" x2="191.50" y2="340.54" stroke="#111" stroke-width="0.5"/>
<line x1="190.50" y1="339.69" x2="191.50" y2="339.69" stroke="#111" stroke-width="0.5"/>
<line x1="190.50" y1="338.95" x2="191.50" y2="338.95" stroke="#111" stroke-width="0.5"/>
<line x1="190.50" y1="338.30" x2="191.50" y2="338.30" stroke="#111" stroke-width="0.5"/>
<line x1="189.10" y1="337.72" x2="191.50" y2="337.72" stroke="#111" stroke-width="0.5"/>
<line x1="190.50" y1="333.89" x2="191.50" y2="333.89" stroke="#111" stroke-width="0.5"/>
<line x1="190.50" y1="331.65" x2="191.50" y2="331.65" stroke="#111" stroke-width="0.5"/>
<line x1="190.50" y1="330.06" x2="191.50" y2="330.06" stroke="#111" stroke-width="0.5"/>
<line x1="190.50" y1="328.83" x2="191.50" y2="328.83" stroke="#111" stroke-width="0.5"/>
<line x1="190.50" y1="327.82" x2="191.50" y2="327.82" stroke="#111" stroke-width="0.5"/>
<line x1="190.50" y1="326.97" x2="191.50" y2="326.97" stroke="#111" stroke-width="0.5"/>
<line x1="190.50" y1="326.23" x2="191.50" y2="326.23" stroke="#111" stroke-width="0.5"/>
<line x1="190.50" y1="325.58" x2="191.50" y2="325.58" stroke="#111" stroke-width="0.5"/>
<line x1="189.10" y1="325.00" x2="191.50" y2="325.00" stroke="#111" stroke-width="0.5"/>
<path d="M224.4 349.0h.7v.7h-.7zM214.8 367.0h.7v.7h-.7zM222.3 364.0h.7v.7h-.7zM226.4 359.1h.7v.7h-.7zM221.5 386.8h.7v.7h-.7zM218.2 359.0h.7v.7h-.7zM225.4 351.5h.7v.7h-.7zM219.5 375.1h.7v.7h-.7zM236.3 366.6h.7v.7h-.7zM239.0 355.4h.7v.7h-.7zM237.6 384.8h.7v.7h-.7zM224.7 386.2h.7v.7h-.7zM220.9 351.7h.7v.7h-.7zM227.6 355.5h.7v.7h-.7zM233.7 352.0h.7v.7h-.7zM228.8 342.1h.7v.7h-.7zM227.7 377.3h.7v.7h-.7zM225.7 368.7h.7v.7h-.7zM237.7 352.1h.7v.7h-.7zM216.7 366.0h.7v.7h-.7zM230.5 361.9h.7v.7h-.7zM219.4 379.2h.7v.7h-.7zM217.7 362.0h.7v.7h-.7zM227.6 373.5h.7v.7h-.7zM224.1 355.4h.7v.7h-.7zM245.9 355.1h.7v.7h-.7zM235.1 363.2h.7v.7h-.7zM223.8 364.5h.7v.7h-.7zM225.8 368.7h.7v.7h-.7zM205.4 364.7h.7v.7h-.7zM228.7 353.6h.7v.7h-.7zM244.4 372.5h.7v.7h-.7zM230.1 361.4h.7v.7h-.7zM240.4 359.8h.7v.7h-.7zM220.7 373.1h.7v.7h-.7zM219.4 355.7h.7v.7h-.7zM240.9 346.2h.7v.7h-.7zM227.4 366.4h.7v.7h-.7zM230.3 347.9h.7v.7h-.7zM226.0 361.1h.7v.7h-.7zM245.1 376.8h.7v.7h-.7zM221.3 375.2h.7v.7h-.7zM233.8 363.7h.7v.7h-.7zM225.9 361.8h.7v.7h-.7zM214.3 357.6h.7v.7h-.7zM236.4 381.9h.7v.7h-.7zM244.5 360.6h.7v.7h-.7zM233.5 336.8h.7v.7h-.7zM225.6 350.2h.7v.7h-.7zM235.3 345.6h.7v.7h-.7zM218.8 352.1h.7v.7h-.7zM231.6 374.8h.7v.7h-.7zM219.9 386.1h.7v.7h-.7zM229.5 355.2h.7v.7h-.7zM231.1 364.8h.7v.7h-.7zM235.4 369.0h.7v.7h-.7zM247.5 378.7h.7v.7h-.7zM222.4 374.2h.7v.7h-.7zM234.8 353.3h.7v.7h-.7zM221.4 355.6h.7v.7h-.7zM206.1 372.5h.7v.7h-.7zM226.1 379.4h.7v.7h-.7zM223.1 365.9h.7v.7h-.7zM234.5 376.3h.7v.7h-.7zM230.9 352.8h.7v.7h-.7zM247.6 375.2h.7v.7h-.7zM240.1 384.0h.7v.7h-.7zM240.5 369.9h.7v.7h-.7zM232.2 372.4h.7v.7h-.7zM214.7 374.5h.7v.7h-.7zM219.4 369.9h.7v.7h-.7zM219.1 373.4h.7v.7h-.7zM229.8 371.0h.7v.7h-.7zM220.0 361.6h.7v.7h-.7zM227.5 361.6h.7v.7h-.7zM224.2 354.8h.7v.7h-.7zM234.8 360.5h.7v.7h-.7zM220.8 369.3h.7v.7h-.7zM220.9 363.0h.7v.7h-.7zM223.5 354.2h.7v.7h-.7zM226.1 355.4h.7v.7h-.7zM216.9 369.1h.7v.7h-.7zM225.4 347.9h.7v.7h-.7zM224.6 367.2h.7v.7h-.7zM231.9 369.4h.7v.7h-.7zM230.3 372.0h.7v.7h-.7zM223.7 355.7h.7v.7h-.7zM233.5 360.2h.7v.7h-.7zM228.2 372.6h.7v.7h-.7zM236.4 379.3h.7v.7h-.7zM222.0 360.7h.7v.7h-.7zM233.0 348.3h.7v.7h-.7zM216.9 372.1h.7v.7h-.7zM222.6 354.2h.7v.7h-.7zM235.2 371.2h.7v.7h-.7zM236.2 361.1h.7v.7h-.7zM225.5 361.0h.7v.7h-.7zM230.7 341.3h.7v.7h-.7zM221.9 373.3h.7v.7h-.7zM221.2 364.3h.7v.7h-.7zM229.2 371.1h.7v.7h-.7zM223.9 351.8h.7v.7h-.7zM250.2 356.6h.7v.7h-.7zM243.2 344.5h.7v.7h-.7zM229.1 362.7h.7v.7h-.7zM236.7 353.2h.7v.7h-.7zM221.0 356.2h.7v.7h-.7zM223.5 368.1h.7v.7h-.7zM221.1 362.1h.7v.7h-.7zM241.1 381.8h.7v.7h-.7zM211.6 353.9h.7v.7h-.7zM224.8 380.1h.7v.7h-.7zM225.2 387.3h.7v.7h-.7zM231.3 381.8h.7v.7h-.7zM220.5 361.4h.7v.7h-.7zM237.1 371.7h.7v.7h-.7zM211.6 361.8h.7v.7h-.7zM229.7 372.4h.7v.7h-.7zM222.5 385.3h.7v.7h-.7zM229.4 381.9h.7v.7h-.7zM231.7 366.0h.7v.7h-.7zM225.3 351.4h.7v.7h-.7zM235.7 373.8h.7v.7h-.7zM236.3 360.6h.7v.7h-.7zM219.2 360.6h.7v.7h-.7zM225.3 364.9h.7v.7h-.7zM236.8 354.4h.7v.7h-.7zM223.8 373.0h.7v.7h-.7zM232.7 355.2h.7v.7h-.7zM218.9 355.8h.7v.7h-.7zM228.7 368.0h.7v.7h-.7zM227.5 357.9h.7v.7h-.7zM226.5 364.1h.7v.7h-.7zM233.3 366.0h.7v.7h-.7zM220.9 351.4h.7v.7h-.7zM241.2 364.0h.7v.7h-.7zM226.5 364.7h.7v.7h-.7zM238.1 361.4h.7v.7h-.7zM229.7 362.3h.7v.7h-.7zM233.2 353.3h.7v.7h-.7zM229.9 377.0h.7v.7h-.7zM238.6 372.2h.7v.7h-.7zM230.7 383.3h.7v.7h-.7zM234.4 381.3h.7v.7h-.7zM217.5 352.3h.7v.7h-.7zM235.2 361.9h.7v.7h-.7zM224.3 354.0h.7v.7h-.7zM241.2 351.2h.7v.7h-.7zM229.0 348.8h.7v.7h-.7zM249.6 359.3h.7v.7h-.7zM219.2 384.0h.7v.7h-.7zM220.6 344.3h.7v.7h-.7zM231.2 352.5h.7v.7h-.7zM215.3 378.1h.7v.7h-.7zM221.7 352.7h.7v.7h-.7zM229.6 362.8h.7v.7h-.7zM238.0 366.1h.7v.7h-.7zM242.2 378.2h.7v.7h-.7zM243.8 378.1h.7v.7h-.7zM228.8 371.4h.7v.7h-.7zM228.3 346.9h.7v.7h-.7zM217.8 373.6h.7v.7h-.7zM207.3 355.4h.7v.7h-.7zM216.8 364.3h.7v.7h-.7zM219.0 367.9h.7v.7h-.7zM226.4 359.6h.7v.7h-.7zM220.7 339.2h.7v.7h-.7zM228.8 350.0h.7v.7h-.7zM225.5 369.3h.7v.7h-.7zM237.4 373.2h.7v.7h-.7zM241.2 348.5h.7v.7h-.7zM234.1 383.2h.7v.7h-.7zM231.6 352.2h.7v.7h-.7zM231.6 359.0h.7v.7h-.7zM222.5 377.4h.7v.7h-.7zM226.6 352.0h.7v.7h-.7zM220.7 372.9h.7v.7h-.7zM229.7 378.6h.7v.7h-.7zM225.7 354.1h.7v.7h-.7zM222.5 353.1h.7v.7h-.7zM251.0 367.3h.7v.7h-.7zM225.3 379.6h.7v.7h-.7zM233.9 362.9h.7v.7h-.7zM233.6 368.2h.7v.7h-.7zM238.1 384.2h.7v.7h-.7zM225.4 364.6h.7v.7h-.7zM226.5 379.2h.7v.7h-.7zM231.5 374.1h.7v.7h-.7zM236.1 357.7h.7v.7h-.7zM229.3 381.1h.7v.7h-.7zM236.3 374.5h.7v.7h-.7zM225.7 360.9h.7v.7h-.7zM220.6 361.9h.7v.7h-.7zM227.6 348.4h.7v.7h-.7zM238.4 356.2h.7v.7h-.7zM230.4 372.0h.7v.7h-.7zM223.3 344.0h.7v.7h-.7zM236.6 369.8h.7v.7h-.7zM225.9 378.2h.7v.7h-.7zM236.0 354.0h.7v.7h-.7zM227.4 344.6h.7v.7h-.7zM225.8 381.4h.7v.7h-.7zM220.8 374.6h.7v.7h-.7zM214.9 361.6h.7v.7h-.7zM236.4 385.0h.7v.7h-.7zM232.1 373.8h.7v.7h-.7zM243.3 336.7h.7v.7h-.7zM213.1 387.0h.7v.7h-.7zM249.8 372.0h.7v.7h-.7zM228.7 368.1h.7v.7h-.7zM228.4 357.9h.7v.7h-.7zM228.0 363.6h.7v.7h-.7zM234.0 372.9h.7v.7h-.7zM236.8 371.9h.7v.7h-.7zM219.6 381.2h.7v.7h-.7zM204.7 366.4h.7v.7h-.7zM231.1 358.9h.7v.7h-.7zM244.6 352.4h.7v.7h-.7zM217.9 359.2h.7v.7h-.7zM231.8 374.3h.7v.7h-.7zM229.1 372.8h.7v.7h-.7zM222.0 358.0h.7v.7h-.7zM229.3 349.4h.7v.7h-.7zM229.8 360.5h.7v.7h-.7zM234.1 353.3h.7v.7h-.7zM223.5 358.5h.7v.7h-.7zM224.9 353.4h.7v.7h-.7zM225.9 349.4h.7v.7h-.7zM232.8 372.8h.7v.7h-.7zM228.0 362.8h.7v.7h-.7zM220.4 353.9h.7v.7h-.7zM226.2 354.5h.7v.7h-.7zM217.9 367.0h.7v.7h-.7zM228.0 360.3h.7v.7h-.7zM221.0 364.4h.7v.7h-.7zM222.1 360.1h.7v.7h-.7zM229.8 373.4h.7v.7h-.7zM234.8 358.0h.7v.7h-.7zM238.7 351.6h.7v.7h-.7zM226.6 380.1h.7v.7h-.7zM248.9 366.5h.7v.7h-.7zM225.0 360.7h.7v.7h-.7zM217.6 363.3h.7v.7h-.7zM224.4 356.3h.7v.7h-.7zM238.6 356.0h.7v.7h-.7zM242.9 374.8h.7v.7h-.7zM233.7 358.2h.7v.7h-.7zM223.7 341.9h.7v.7h-.7zM230.5 361.9h.7v.7h-.7zM231.5 357.3h.7v.7h-.7zM232.4 347.7h.7v.7h-.7zM209.1 370.5h.7v.7h-.7zM237.5 328.5h.7v.7h-.7zM239.4 361.0h.7v.7h-.7zM226.7 347.2h.7v.7h-.7zM219.4 373.3h.7v.7h-.7zM221.7 364.6h.7v.7h-.7zM235.9 349.7h.7v.7h-.7zM224.0 351.7h.7v.7h-.7zM216.0 357.1h.7v.7h-.7zM237.7 365.6h.7v.7h-.7zM234.0 363.5h.7v.7h-.7zM224.5 366.0h.7v.7h-.7zM227.5 387.4h.7v.7h-.7zM243.8 369.4h.7v.7h-.7zM233.4 341.9h.7v.7h-.7zM221.2 374.5h.7v.7h-.7zM238.8 360.4h.7v.7h-.7zM226.2 359.7h.7v.7h-.7zM235.1 365.3h.7v.7h-.7zM241.2 378.8h.7v.7h-.7zM225.4 357.9h.7v.7h-.7zM226.1 354.8h.7v.7h-.7zM224.5 364.2h.7v.7h-.7zM235.9 346.7h.7v.7h-.7zM216.0 356.1h.7v.7h-.7zM225.5 370.3h.7v.7h-.7zM221.3 382.5h.7v.7h-.7zM223.5 362.5h.7v.7h-.7zM228.6 378.6h.7v.7h-.7zM230.7 365.3h.7v.7h-.7zM223.4 367.0h.7v.7h-.7zM231.6 361.0h.7v.7h-.7zM227.9 343.6h.7v.7h-.7zM223.5 378.7h.7v.7h-.7zM240.5 364.2h.7v.7h-.7zM209.4 386.3h.7v.7h-.7zM224.5 376.7h.7v.7h-.7zM222.8 381.0h.7v.7h-.7zM218.8 326.9h.7v.7h-.7zM219.6 338.3h.7v.7h-.7zM210.8 326.5h.7v.7h-.7zM213.7 328.8h.7v.7h-.7zM203.4 327.0h.7v.7h-.7zM218.3 331.3h.7v.7h-.7zM211.0 334.1h.7v.7h-.7zM206.7 332.0h.7v.7h-.7zM204.2 329.1h.7v.7h-.7zM215.8 328.4h.7v.7h-.7zM211.4 331.9h.7v.7h-.7zM220.9 333.8h.7v.7h-.7zM214.7 329.2h.7v.7h-.7zM203.7 335.0h.7v.7h-.7zM217.1 329.9h.7v.7h-.7zM216.2 330.9h.7v.7h-.7zM210.9 330.0h.7v.7h-.7zM211.8 333.4h.7v.7h-.7zM210.6 328.4h.7v.7h-.7zM215.8 331.9h.7v.7h-.7zM214.6 330.8h.7v.7h-.7zM220.6 333.2h.7v.7h-.7zM213.3 329.4h.7v.7h-.7zM209.0 327.9h.7v.7h-.7zM213.1 328.9h.7v.7h-.7zM226.3 332.2h.7v.7h-.7zM214.4 336.6h.7v.7h-.7zM212.0 329.1h.7v.7h-.7zM219.2 332.4h.7v.7h-.7zM217.4 333.5h.7v.7h-.7zM210.0 328.1h.7v.7h-.7zM207.9 330.3h.7v.7h-.7zM217.8 326.9h.7v.7h-.7zM209.0 326.1h.7v.7h-.7zM223.6 332.3h.7v.7h-.7zM213.3 326.5h.7v.7h-.7zM206.1 328.1h.7v.7h-.7zM212.3 326.3h.7v.7h-.7zM210.7 333.6h.7v.7h-.7zM212.1 330.3h.7v.7h-.7zM200.0 329.2h.7v.7h-.7zM211.2 328.0h.7v.7h-.7zM204.1 329.8h.7v.7h-.7zM206.2 328.4h.7v.7h-.7zM202.9 329.7h.7v.7h-.7zM217.3 327.5h.7v.7h-.7zM204.0 377.3h.7v.7h-.7zM197.5 380.6h.7v.7h-.7zM194.2 372.5h.7v.7h-.7zM211.4 371.8h.7v.7h-.7zM192.5 383.2h.7v.7h-.7zM203.7 369.3h.7v.7h-.7zM202.0 363.7h.7v.7h-.7zM207.8 386.3h.7v.7h-.7zM194.4 376.7h.7v.7h-.7zM212.3 358.2h.7v.7h-.7zM200.4 365.8h.7v.7h-.7zM199.4 372.9h.7v.7h-.7zM201.9 380.7h.7v.7h-.7zM203.5 382.2h.7v.7h-.7zM206.9 382.7h.7v.7h-.7zM195.5 376.0h.7v.7h-.7zM197.6 363.8h.7v.7h-.7zM213.2 374.9h.7v.7h-.7zM200.4 351.5h.7v.7h-.7zM198.5 379.5h.7v.7h-.7zM198.7 366.7h.7v.7h-.7zM210.0 369.0h.7v.7h-.7zM197.8 371.0h.7v.7h-.7zM198.5 382.3h.7v.7h-.7zM203.9 371.3h.7v.7h-.7zM197.6 369.8h.7v.7h-.7zM211.4 369.0h.7v.7h-.7zM204.5 356.6h.7v.7h-.7zM202.2 378.7h.7v.7h-.7zM208.6 375.1h.7v.7h-.7zM203.9 375.2h.7v.7h-.7zM201.4 364.0h.7v.7h-.7zM204.1 370.9h.7v.7h-.7zM204.4 379.6h.7v.7h-.7zM201.1 367.7h.7v.7h-.7zM202.1 359.8h.7v.7h-.7zM201.9 363.4h.7v.7h-.7zM203.1 373.2h.7v.7h-.7zM198.6 360.3h.7v.7h-.7zM200.4 365.4h.7v.7h-.7zM199.1 378.8h.7v.7h-.7zM206.5 359.4h.7v.7h-.7zM206.3 385.3h.7v.7h-.7zM207.6 374.7h.7v.7h-.7zM197.9 357.1h.7v.7h-.7zM200.7 374.8h.7v.7h-.7zM193.1 360.1h.7v.7h-.7zM213.3 373.1h.7v.7h-.7zM205.3 366.3h.7v.7h-.7zM209.1 365.5h.7v.7h-.7zM198.2 372.2h.7v.7h-.7zM193.1 369.0h.7v.7h-.7zM196.4 380.6h.7v.7h-.7zM201.1 380.5h.7v.7h-.7zM199.7 351.2h.7v.7h-.7zM205.9 380.5h.7v.7h-.7zM199.6 354.6h.7v.7h-.7zM196.8 375.9h.7v.7h-.7zM209.3 368.7h.7v.7h-.7zM196.3 364.4h.7v.7h-.7zM206.9 380.5h.7v.7h-.7zM193.9 357.6h.7v.7h-.7zM201.1 376.1h.7v.7h-.7zM196.9 356.5h.7v.7h-.7zM197.3 365.4h.7v.7h-.7zM210.2 381.2h.7v.7h-.7zM209.8 373.2h.7v.7h-.7zM197.3 371.2h.7v.7h-.7zM201.9 369.0h.7v.7h-.7zM211.0 386.2h.7v.7h-.7zM205.9 368.6h.7v.7h-.7zM201.0 377.4h.7v.7h-.7zM201.4 382.2h.7v.7h-.7zM195.6 349.3h.7v.7h-.7zM207.3 372.0h.7v.7h-.7zM203.7 372.8h.7v.7h-.7zM201.2 367.4h.7v.7h-.7zM197.4 383.6h.7v.7h-.7zM198.3 371.6h.7v.7h-.7zM208.1 381.6h.7v.7h-.7zM197.5 374.5h.7v.7h-.7zM193.3 373.3h.7v.7h-.7zM238.1 378.0h.7v.7h-.7zM236.7 380.1h.7v.7h-.7zM210.9 373.2h.7v.7h-.7zM235.8 375.1h.7v.7h-.7zM225.9 376.6h.7v.7h-.7zM250.5 376.7h.7v.7h-.7zM228.9 375.2h.7v.7h-.7zM223.7 380.8h.7v.7h-.7zM225.7 383.3h.7v.7h-.7zM243.8 381.4h.7v.7h-.7zM245.1 377.5h.7v.7h-.7zM218.3 377.6h.7v.7h-.7zM241.2 368.9h.7v.7h-.7zM223.4 384.4h.7v.7h-.7zM239.3 385.9h.7v.7h-.7zM241.5 378.4h.7v.7h-.7zM239.2 383.0h.7v.7h-.7zM234.8 376.8h.7v.7h-.7zM238.1 376.2h.7v.7h-.7zM220.6 370.4h.7v.7h-.7zM245.2 375.6h.7v.7h-.7zM236.6 376.7h.7v.7h-.7zM237.8 369.5h.7v.7h-.7zM235.9 374.6h.7v.7h-.7zM245.5 381.7h.7v.7h-.7zM223.0 372.3h.7v.7h-.7zM240.6 385.0h.7v.7h-.7zM242.5 377.1h.7v.7h-.7zM245.8 364.2h.7v.7h-.7zM230.0 372.3h.7v.7h-.7zM225.2 381.3h.7v.7h-.7zM237.8 379.7h.7v.7h-.7zM233.9 381.6h.7v.7h-.7zM242.7 374.6h.7v.7h-.7zM244.1 372.6h.7v.7h-.7zM252.1 370.4h.7v.7h-.7zM232.4 371.6h.7v.7h-.7zM235.5 385.7h.7v.7h-.7zM248.7 380.3h.7v.7h-.7zM229.5 383.3h.7v.7h-.7zM207.6 373.5h.7v.7h-.7zM244.4 377.8h.7v.7h-.7zM222.3 376.7h.7v.7h-.7zM218.1 378.9h.7v.7h-.7zM247.3 374.0h.7v.7h-.7zM230.7 370.9h.7v.7h-.7zM242.5 382.9h.7v.7h-.7zM240.8 379.4h.7v.7h-.7zM244.7 377.3h.7v.7h-.7zM242.1 382.8h.7v.7h-.7zM247.7 381.0h.7v.7h-.7zM236.0 382.2h.7v.7h-.7zM220.1 367.6h.7v.7h-.7zM250.8 378.8h.7v.7h-.7zM224.9 374.6h.7v.7h-.7zM233.7 378.4h.7v.7h-.7zM227.7 383.9h.7v.7h-.7zM241.6 368.1h.7v.7h-.7zM223.3 378.4h.7v.7h-.7zM237.8 375.5h.7v.7h-.7zM235.3 379.0h.7v.7h-.7zM224.0 378.4h.7v.7h-.7zM225.3 381.9h.7v.7h-.7zM248.2 384.2h.7v.7h-.7zM229.0 377.6h.7v.7h-.7zM237.1 376.8h.7v.7h-.7zM239.0 384.4h.7v.7h-.7zM240.5 377.9h.7v.7h-.7zM242.3 378.5h.7v.7h-.7zM247.0 383.4h.7v.7h-.7zM233.1 331.4h.7v.7h-.7zM228.3 340.2h.7v.7h-.7zM226.3 342.4h.7v.7h-.7zM229.3 345.1h.7v.7h-.7zM227.7 334.2h.7v.7h-.7zM229.4 345.6h.7v.7h-.7zM233.2 347.5h.7v.7h-.7zM228.1 335.2h.7v.7h-.7zM234.7 338.0h.7v.7h-.7zM228.5 346.4h.7v.7h-.7zM229.3 349.9h.7v.7h-.7zM225.5 337.9h.7v.7h-.7zM228.5 334.7h.7v.7h-.7zM226.5 350.2h.7v.7h-.7zM228.8 341.4h.7v.7h-.7zM226.6 342.3h.7v.7h-.7zM228.0 335.6h.7v.7h-.7zM230.0 334.4h.7v.7h-.7zM231.2 340.0h.7v.7h-.7zM222.4 332.8h.7v.7h-.7zM228.7 336.9h.7v.7h-.7zM232.5 350.2h.7v.7h-.7zM233.2 347.3h.7v.7h-.7zM231.4 338.4h.7v.7h-.7zM231.2 339.4h.7v.7h-.7zM227.9 333.9h.7v.7h-.7zM228.2 344.4h.7v.7h-.7zM227.9 335.4h.7v.7h-.7zM230.3 347.4h.7v.7h-.7zM227.8 346.7h.7v.7h-.7z" fill="#333" fill-opacity="0.45"/>
<defs><clipPath id="cp2"><path d="M210.0,326.3 Q214,327.5 218.2,330.7 Q221,340 223.1,349.1 Q224,354 223.6,358.9 Q222.5,366 220.4,373 Q217,381 213.9,387 L204.1,387 Q199,379 194.3,367.5 Q193.8,360 194.9,354.5 Q200,341 206.3,330.1 Q208,327.5 210.0,326.3 Z"/></clipPath><radialGradient id="rg2_0" cx="209.3" cy="361" r="1" gradientUnits="userSpaceOnUse" gradientTransform="translate(209.3 361) scale(11 22) translate(-209.3 -361)"><stop offset="0" stop-color="#3a3a3a"/><stop offset="0.45" stop-color="#606060"/><stop offset="1" stop-color="#9a9a9a" stop-opacity="0"/></radialGradient></defs>
<path d="M210.0,326.3 Q214,327.5 218.2,330.7 Q221,340 223.1,349.1 Q224,354 223.6,358.9 Q222.5,366 220.4,373 Q217,381 213.9,387 L204.1,387 Q199,379 194.3,367.5 Q193.8,360 194.9,354.5 Q200,341 206.3,330.1 Q208,327.5 210.0,326.3 Z" fill="none" stroke="#7a7a7a" stroke-width="4.5" stroke-opacity="0.55" filter="url(#blur1)"/>
<path d="M210.0,326.3 Q214,327.5 218.2,330.7 Q221,340 223.1,349.1 Q224,354 223.6,358.9 Q222.5,366 220.4,373 Q217,381 213.9,387 L204.1,387 Q199,379 194.3,367.5 Q193.8,360 194.9,354.5 Q200,341 206.3,330.1 Q208,327.5 210.0,326.3 Z" fill="none" stroke="#444" stroke-width="1.4" stroke-opacity="0.8" filter="url(#blur05)"/>
<g clip-path="url(#cp2)"><path d="M210.0,326.3 Q214,327.5 218.2,330.7 Q221,340 223.1,349.1 Q224,354 223.6,358.9 Q222.5,366 220.4,373 Q217,381 213.9,387 L204.1,387 Q199,379 194.3,367.5 Q193.8,360 194.9,354.5 Q200,341 206.3,330.1 Q208,327.5 210.0,326.3 Z" fill="#a0a0a0"/>
<ellipse cx="209.3" cy="361" rx="11" ry="22" fill="url(#rg2_0)"/>
</g>
<path d="M210.0,326.3 Q214,327.5 218.2,330.7 Q221,340 223.1,349.1 Q224,354 223.6,358.9 Q222.5,366 220.4,373 Q217,381 213.9,387 L204.1,387 Q199,379 194.3,367.5 Q193.8,360 194.9,354.5 Q200,341 206.3,330.1 Q208,327.5 210.0,326.3 Z" fill="none" stroke="#fff" stroke-width="1.1"/>
<path d="M210.0,326.3 Q214,327.5 218.2,330.7 Q221,340 223.1,349.1 Q224,354 223.6,358.9 Q222.5,366 220.4,373 Q217,381 213.9,387 L204.1,387 Q199,379 194.3,367.5 Q193.8,360 194.9,354.5 Q200,341 206.3,330.1 Q208,327.5 210.0,326.3 Z" fill="none" stroke="#fff" stroke-opacity="0.8" stroke-width="0.45" vector-effect="non-scaling-stroke" transform="translate(209.5 358) scale(0.86) translate(-209.5 -358)" clip-path="url(#cp2)"/>
<path d="M210.0,326.3 Q214,327.5 218.2,330.7 Q221,340 223.1,349.1 Q224,354 223.6,358.9 Q222.5,366 220.4,373 Q217,381 213.9,387 L204.1,387 Q199,379 194.3,367.5 Q193.8,360 194.9,354.5 Q200,341 206.3,330.1 Q208,327.5 210.0,326.3 Z" fill="none" stroke="#fff" stroke-opacity="0.8" stroke-width="0.45" vector-effect="non-scaling-stroke" transform="translate(209.5 358) scale(0.72) translate(-209.5 -358)" clip-path="url(#cp2)"/>
<path d="M210.0,326.3 Q214,327.5 218.2,330.7 Q221,340 223.1,349.1 Q224,354 223.6,358.9 Q222.5,366 220.4,373 Q217,381 213.9,387 L204.1,387 Q199,379 194.3,367.5 Q193.8,360 194.9,354.5 Q200,341 206.3,330.1 Q208,327.5 210.0,326.3 Z" fill="none" stroke="#fff" stroke-opacity="0.8" stroke-width="0.45" vector-effect="non-scaling-stroke" transform="translate(209.5 358) scale(0.58) translate(-209.5 -358)" clip-path="url(#cp2)"/>
<path d="M209.6,347 L209.4,377" stroke="#888" stroke-width="0.7"/>
<path d="M206,326 L211.7,331 L217,326" fill="none" stroke="#fff" stroke-width="0.6"/>
<path d="M192.2,387.6 L256,387.8" stroke="#111" stroke-width="1.6" filter="url(#blur05)"/>
<ellipse cx="205" cy="387.5" rx="13" ry="1.3" fill="#333" filter="url(#blur05)"/>
<path d="M192.2,354 L196,362 L193,372" fill="none" stroke="#fff" stroke-width="1.2"/>
<rect x="191.50" y="325.00" width="65.50" height="63.60" fill="none" stroke="#111" stroke-width="1.3"/>
<rect x="223.30" y="330.00" width="9.20" height="22.30" rx="0.5" fill="none" stroke="#444" stroke-width="0.75"/>
<line x1="232.5" y1="337" x2="234" y2="337" stroke="#333" stroke-width="0.6"/>
<text x="233.80" y="344.00" font-size="5.0" text-anchor="start" fill="#111" stroke="#111" stroke-width="0.18" font-weight="bold" font-family="Liberation Serif" textLength="15.0" lengthAdjust="spacingAndGlyphs">0,244%</text>
<text x="76.20" y="419.50" font-size="6.6" text-anchor="end" fill="#1a1a1a" stroke="#1a1a1a" stroke-width="0.2" textLength="9.6" lengthAdjust="spacingAndGlyphs">10<tspan font-size="4.09" dx="0.25" dy="-2.90" stroke-width="0.06">6</tspan></text>
<text x="76.20" y="432.60" font-size="6.6" text-anchor="end" fill="#1a1a1a" stroke="#1a1a1a" stroke-width="0.2" textLength="9.6" lengthAdjust="spacingAndGlyphs">10<tspan font-size="4.09" dx="0.25" dy="-2.90" stroke-width="0.06">5</tspan></text>
<text x="76.20" y="445.70" font-size="6.6" text-anchor="end" fill="#1a1a1a" stroke="#1a1a1a" stroke-width="0.2" textLength="9.6" lengthAdjust="spacingAndGlyphs">10<tspan font-size="4.09" dx="0.25" dy="-2.90" stroke-width="0.06">4</tspan></text>
<text x="76.20" y="458.80" font-size="6.6" text-anchor="end" fill="#1a1a1a" stroke="#1a1a1a" stroke-width="0.2" textLength="9.6" lengthAdjust="spacingAndGlyphs">10<tspan font-size="4.09" dx="0.25" dy="-2.90" stroke-width="0.06">3</tspan></text>
<text x="76.20" y="471.90" font-size="6.6" text-anchor="end" fill="#1a1a1a" stroke="#1a1a1a" stroke-width="0.2" textLength="9.6" lengthAdjust="spacingAndGlyphs">10<tspan font-size="4.09" dx="0.25" dy="-2.90" stroke-width="0.06">2</tspan></text>
<text x="76.20" y="485.00" font-size="6.6" text-anchor="end" fill="#1a1a1a" stroke="#1a1a1a" stroke-width="0.2" textLength="9.6" lengthAdjust="spacingAndGlyphs">10<tspan font-size="4.09" dx="0.25" dy="-2.90" stroke-width="0.06">1</tspan></text>
<text x="81.80" y="495.80" font-size="7.0" text-anchor="middle" fill="#1a1a1a" stroke="#1a1a1a" stroke-width="0.2" textLength="8.6" lengthAdjust="spacingAndGlyphs">10<tspan font-size="4.34" dx="0.25" dy="-3.08" stroke-width="0.06">1</tspan></text>
<text x="94.56" y="495.80" font-size="7.0" text-anchor="middle" fill="#1a1a1a" stroke="#1a1a1a" stroke-width="0.2" textLength="8.6" lengthAdjust="spacingAndGlyphs">10<tspan font-size="4.34" dx="0.25" dy="-3.08" stroke-width="0.06">2</tspan></text>
<text x="107.32" y="495.80" font-size="7.0" text-anchor="middle" fill="#1a1a1a" stroke="#1a1a1a" stroke-width="0.2" textLength="8.6" lengthAdjust="spacingAndGlyphs">10<tspan font-size="4.34" dx="0.25" dy="-3.08" stroke-width="0.06">3</tspan></text>
<text x="120.08" y="495.80" font-size="7.0" text-anchor="middle" fill="#1a1a1a" stroke="#1a1a1a" stroke-width="0.2" textLength="8.6" lengthAdjust="spacingAndGlyphs">10<tspan font-size="4.34" dx="0.25" dy="-3.08" stroke-width="0.06">4</tspan></text>
<text x="132.84" y="495.80" font-size="7.0" text-anchor="middle" fill="#1a1a1a" stroke="#1a1a1a" stroke-width="0.2" textLength="8.6" lengthAdjust="spacingAndGlyphs">10<tspan font-size="4.34" dx="0.25" dy="-3.08" stroke-width="0.06">5</tspan></text>
<text x="145.60" y="495.80" font-size="7.0" text-anchor="middle" fill="#1a1a1a" stroke="#1a1a1a" stroke-width="0.2" textLength="8.6" lengthAdjust="spacingAndGlyphs">10<tspan font-size="4.34" dx="0.25" dy="-3.08" stroke-width="0.06">6</tspan></text>
<line x1="81.20" y1="482.50" x2="81.20" y2="484.90" stroke="#111" stroke-width="0.5"/>
<line x1="85.04" y1="482.50" x2="85.04" y2="483.50" stroke="#111" stroke-width="0.5"/>
<line x1="87.29" y1="482.50" x2="87.29" y2="483.50" stroke="#111" stroke-width="0.5"/>
<line x1="88.88" y1="482.50" x2="88.88" y2="483.50" stroke="#111" stroke-width="0.5"/>
<line x1="90.12" y1="482.50" x2="90.12" y2="483.50" stroke="#111" stroke-width="0.5"/>
<line x1="91.13" y1="482.50" x2="91.13" y2="483.50" stroke="#111" stroke-width="0.5"/>
<line x1="91.98" y1="482.50" x2="91.98" y2="483.50" stroke="#111" stroke-width="0.5"/>
<line x1="92.72" y1="482.50" x2="92.72" y2="483.50" stroke="#111" stroke-width="0.5"/>
<line x1="93.38" y1="482.50" x2="93.38" y2="483.50" stroke="#111" stroke-width="0.5"/>
<line x1="93.96" y1="482.50" x2="93.96" y2="484.90" stroke="#111" stroke-width="0.5"/>
<line x1="97.80" y1="482.50" x2="97.80" y2="483.50" stroke="#111" stroke-width="0.5"/>
<line x1="100.05" y1="482.50" x2="100.05" y2="483.50" stroke="#111" stroke-width="0.5"/>
<line x1="101.64" y1="482.50" x2="101.64" y2="483.50" stroke="#111" stroke-width="0.5"/>
<line x1="102.88" y1="482.50" x2="102.88" y2="483.50" stroke="#111" stroke-width="0.5"/>
<line x1="103.89" y1="482.50" x2="103.89" y2="483.50" stroke="#111" stroke-width="0.5"/>
<line x1="104.74" y1="482.50" x2="104.74" y2="483.50" stroke="#111" stroke-width="0.5"/>
<line x1="105.48" y1="482.50" x2="105.48" y2="483.50" stroke="#111" stroke-width="0.5"/>
<line x1="106.14" y1="482.50" x2="106.14" y2="483.50" stroke="#111" stroke-width="0.5"/>
<line x1="106.72" y1="482.50" x2="106.72" y2="484.90" stroke="#111" stroke-width="0.5"/>
<line x1="110.56" y1="482.50" x2="110.56" y2="483.50" stroke="#111" stroke-width="0.5"/>
<line x1="112.81" y1="482.50" x2="112.81" y2="483.50" stroke="#111" stroke-width="0.5"/>
<line x1="114.40" y1="482.50" x2="114.40" y2="483.50" stroke="#111" stroke-width="0.5"/>
<line x1="115.64" y1="482.50" x2="115.64" y2="483.50" stroke="#111" stroke-width="0.5"/>
<line x1="116.65" y1="482.50" x2="116.65" y2="483.50" stroke="#111" stroke-width="0.5"/>
<line x1="117.50" y1="482.50" x2="117.50" y2="483.50" stroke="#111" stroke-width="0.5"/>
<line x1="118.24" y1="482.50" x2="118.24" y2="483.50" stroke="#111" stroke-width="0.5"/>
<line x1="118.90" y1="482.50" x2="118.90" y2="483.50" stroke="#111" stroke-width="0.5"/>
<line x1="119.48" y1="482.50" x2="119.48" y2="484.90" stroke="#111" stroke-width="0.5"/>
<line x1="123.32" y1="482.50" x2="123.32" y2="483.50" stroke="#111" stroke-width="0.5"/>
<line x1="125.57" y1="482.50" x2="125.57" y2="483.50" stroke="#111" stroke-width="0.5"/>
<line x1="127.16" y1="482.50" x2="127.16" y2="483.50" stroke="#111" stroke-width="0.5"/>
<line x1="128.40" y1="482.50" x2="128.40" y2="483.50" stroke="#111" stroke-width="0.5"/>
<line x1="129.41" y1="482.50" x2="129.41" y2="483.50" stroke="#111" stroke-width="0.5"/>
<line x1="130.26" y1="482.50" x2="130.26" y2="483.50" stroke="#111" stroke-width="0.5"/>
<line x1="131.00" y1="482.50" x2="131.00" y2="483.50" stroke="#111" stroke-width="0.5"/>
<line x1="131.66" y1="482.50" x2="131.66" y2="483.50" stroke="#111" stroke-width="0.5"/>
<line x1="132.24" y1="482.50" x2="132.24" y2="484.90" stroke="#111" stroke-width="0.5"/>
<line x1="136.08" y1="482.50" x2="136.08" y2="483.50" stroke="#111" stroke-width="0.5"/>
<line x1="138.33" y1="482.50" x2="138.33" y2="483.50" stroke="#111" stroke-width="0.5"/>
<line x1="139.92" y1="482.50" x2="139.92" y2="483.50" stroke="#111" stroke-width="0.5"/>
<line x1="141.16" y1="482.50" x2="141.16" y2="483.50" stroke="#111" stroke-width="0.5"/>
<line x1="142.17" y1="482.50" x2="142.17" y2="483.50" stroke="#111" stroke-width="0.5"/>
<line x1="143.02" y1="482.50" x2="143.02" y2="483.50" stroke="#111" stroke-width="0.5"/>
<line x1="143.76" y1="482.50" x2="143.76" y2="483.50" stroke="#111" stroke-width="0.5"/>
<line x1="144.42" y1="482.50" x2="144.42" y2="483.50" stroke="#111" stroke-width="0.5"/>
<line x1="145.00" y1="482.50" x2="145.00" y2="484.90" stroke="#111" stroke-width="0.5"/>
<line x1="78.80" y1="482.50" x2="81.20" y2="482.50" stroke="#111" stroke-width="0.5"/>
<line x1="80.20" y1="478.56" x2="81.20" y2="478.56" stroke="#111" stroke-width="0.5"/>
<line x1="80.20" y1="476.25" x2="81.20" y2="476.25" stroke="#111" stroke-width="0.5"/>
<line x1="80.20" y1="474.61" x2="81.20" y2="474.61" stroke="#111" stroke-width="0.5"/>
<line x1="80.20" y1="473.34" x2="81.20" y2="473.34" stroke="#111" stroke-width="0.5"/>
<line x1="80.20" y1="472.31" x2="81.20" y2="472.31" stroke="#111" stroke-width="0.5"/>
<line x1="80.20" y1="471.43" x2="81.20" y2="471.43" stroke="#111" stroke-width="0.5"/>
<line x1="80.20" y1="470.67" x2="81.20" y2="470.67" stroke="#111" stroke-width="0.5"/>
<line x1="80.20" y1="470.00" x2="81.20" y2="470.00" stroke="#111" stroke-width="0.5"/>
<line x1="78.80" y1="469.40" x2="81.20" y2="469.40" stroke="#111" stroke-width="0.5"/>
<line x1="80.20" y1="465.46" x2="81.20" y2="465.46" stroke="#111" stroke-width="0.5"/>
<line x1="80.20" y1="463.15" x2="81.20" y2="463.15" stroke="#111" stroke-width="0.5"/>
<line x1="80.20" y1="461.51" x2="81.20" y2="461.51" stroke="#111" stroke-width="0.5"/>
<line x1="80.20" y1="460.24" x2="81.20" y2="460.24" stroke="#111" stroke-width="0.5"/>
<line x1="80.20" y1="459.21" x2="81.20" y2="459.21" stroke="#111" stroke-width="0.5"/>
<line x1="80.20" y1="458.33" x2="81.20" y2="458.33" stroke="#111" stroke-width="0.5"/>
<line x1="80.20" y1="457.57" x2="81.20" y2="457.57" stroke="#111" stroke-width="0.5"/>
<line x1="80.20" y1="456.90" x2="81.20" y2="456.90" stroke="#111" stroke-width="0.5"/>
<line x1="78.80" y1="456.30" x2="81.20" y2="456.30" stroke="#111" stroke-width="0.5"/>
<line x1="80.20" y1="452.36" x2="81.20" y2="452.36" stroke="#111" stroke-width="0.5"/>
<line x1="80.20" y1="450.05" x2="81.20" y2="450.05" stroke="#111" stroke-width="0.5"/>
<line x1="80.20" y1="448.41" x2="81.20" y2="448.41" stroke="#111" stroke-width="0.5"/>
<line x1="80.20" y1="447.14" x2="81.20" y2="447.14" stroke="#111" stroke-width="0.5"/>
<line x1="80.20" y1="446.11" x2="81.20" y2="446.11" stroke="#111" stroke-width="0.5"/>
<line x1="80.20" y1="445.23" x2="81.20" y2="445.23" stroke="#111" stroke-width="0.5"/>
<line x1="80.20" y1="444.47" x2="81.20" y2="444.47" stroke="#111" stroke-width="0.5"/>
<line x1="80.20" y1="443.80" x2="81.20" y2="443.80" stroke="#111" stroke-width="0.5"/>
<line x1="78.80" y1="443.20" x2="81.20" y2="443.20" stroke="#111" stroke-width="0.5"/>
<line x1="80.20" y1="439.26" x2="81.20" y2="439.26" stroke="#111" stroke-width="0.5"/>
<line x1="80.20" y1="436.95" x2="81.20" y2="436.95" stroke="#111" stroke-width="0.5"/>
<line x1="80.20" y1="435.31" x2="81.20" y2="435.31" stroke="#111" stroke-width="0.5"/>
<line x1="80.20" y1="434.04" x2="81.20" y2="434.04" stroke="#111" stroke-width="0.5"/>
<line x1="80.20" y1="433.01" x2="81.20" y2="433.01" stroke="#111" stroke-width="0.5"/>
<line x1="80.20" y1="432.13" x2="81.20" y2="432.13" stroke="#111" stroke-width="0.5"/>
<line x1="80.20" y1="431.37" x2="81.20" y2="431.37" stroke="#111" stroke-width="0.5"/>
<line x1="80.20" y1="430.70" x2="81.20" y2="430.70" stroke="#111" stroke-width="0.5"/>
<line x1="78.80" y1="430.10" x2="81.20" y2="430.10" stroke="#111" stroke-width="0.5"/>
<line x1="80.20" y1="426.16" x2="81.20" y2="426.16" stroke="#111" stroke-width="0.5"/>
<line x1="80.20" y1="423.85" x2="81.20" y2="423.85" stroke="#111" stroke-width="0.5"/>
<line x1="80.20" y1="422.21" x2="81.20" y2="422.21" stroke="#111" stroke-width="0.5"/>
<line x1="80.20" y1="420.94" x2="81.20" y2="420.94" stroke="#111" stroke-width="0.5"/>
<line x1="80.20" y1="419.91" x2="81.20" y2="419.91" stroke="#111" stroke-width="0.5"/>
<line x1="80.20" y1="419.03" x2="81.20" y2="419.03" stroke="#111" stroke-width="0.5"/>
<line x1="80.20" y1="418.27" x2="81.20" y2="418.27" stroke="#111" stroke-width="0.5"/>
<line x1="80.20" y1="417.60" x2="81.20" y2="417.60" stroke="#111" stroke-width="0.5"/>
<line x1="78.80" y1="417.00" x2="81.20" y2="417.00" stroke="#111" stroke-width="0.5"/>
<path d="M131.9 443.2h.7v.7h-.7zM125.9 435.4h.7v.7h-.7zM119.9 455.8h.7v.7h-.7zM120.9 455.5h.7v.7h-.7zM128.2 433.6h.7v.7h-.7zM123.2 465.5h.7v.7h-.7zM126.2 453.1h.7v.7h-.7zM121.9 437.7h.7v.7h-.7zM116.6 477.7h.7v.7h-.7zM125.0 444.2h.7v.7h-.7zM126.7 434.7h.7v.7h-.7zM134.4 467.3h.7v.7h-.7zM121.6 454.9h.7v.7h-.7zM120.7 459.7h.7v.7h-.7zM121.1 450.7h.7v.7h-.7zM133.9 456.7h.7v.7h-.7zM124.1 438.4h.7v.7h-.7zM116.6 462.8h.7v.7h-.7zM129.1 452.5h.7v.7h-.7zM133.6 453.3h.7v.7h-.7zM121.7 451.1h.7v.7h-.7zM125.5 451.9h.7v.7h-.7zM141.0 457.2h.7v.7h-.7zM127.7 449.8h.7v.7h-.7zM122.0 443.1h.7v.7h-.7zM114.8 447.9h.7v.7h-.7zM117.0 435.4h.7v.7h-.7zM120.5 433.8h.7v.7h-.7zM134.3 463.2h.7v.7h-.7zM120.3 470.4h.7v.7h-.7zM130.0 429.4h.7v.7h-.7zM126.2 443.0h.7v.7h-.7zM115.6 449.7h.7v.7h-.7zM133.0 456.0h.7v.7h-.7zM117.3 446.1h.7v.7h-.7zM121.5 462.3h.7v.7h-.7zM125.5 443.2h.7v.7h-.7zM120.6 434.3h.7v.7h-.7zM121.0 460.0h.7v.7h-.7zM114.6 453.7h.7v.7h-.7zM125.4 459.3h.7v.7h-.7zM119.2 460.2h.7v.7h-.7zM135.4 472.6h.7v.7h-.7zM116.3 451.7h.7v.7h-.7zM124.8 453.1h.7v.7h-.7zM120.1 459.7h.7v.7h-.7zM140.2 465.5h.7v.7h-.7zM120.3 446.8h.7v.7h-.7zM130.4 453.2h.7v.7h-.7zM121.5 463.1h.7v.7h-.7zM129.2 461.2h.7v.7h-.7zM125.0 463.5h.7v.7h-.7zM123.3 441.9h.7v.7h-.7zM126.0 439.4h.7v.7h-.7zM133.6 458.6h.7v.7h-.7zM115.9 453.5h.7v.7h-.7zM131.2 448.8h.7v.7h-.7zM128.6 446.7h.7v.7h-.7zM125.6 451.2h.7v.7h-.7zM129.0 443.3h.7v.7h-.7zM119.2 455.0h.7v.7h-.7zM123.0 456.7h.7v.7h-.7zM123.0 440.2h.7v.7h-.7zM130.5 454.4h.7v.7h-.7zM130.4 448.9h.7v.7h-.7zM123.9 463.4h.7v.7h-.7zM115.8 467.7h.7v.7h-.7zM129.1 451.5h.7v.7h-.7zM126.6 457.4h.7v.7h-.7zM121.4 454.5h.7v.7h-.7zM120.3 435.3h.7v.7h-.7zM127.2 452.9h.7v.7h-.7zM129.9 457.0h.7v.7h-.7zM130.3 459.1h.7v.7h-.7zM119.7 463.0h.7v.7h-.7zM142.2 446.9h.7v.7h-.7zM118.4 458.2h.7v.7h-.7zM131.6 461.1h.7v.7h-.7zM135.3 439.5h.7v.7h-.7zM128.3 456.2h.7v.7h-.7zM133.6 444.0h.7v.7h-.7zM126.2 448.7h.7v.7h-.7zM125.1 450.7h.7v.7h-.7zM125.1 436.0h.7v.7h-.7zM125.8 452.6h.7v.7h-.7zM123.7 420.0h.7v.7h-.7zM121.8 446.1h.7v.7h-.7zM120.8 466.5h.7v.7h-.7zM131.6 450.3h.7v.7h-.7zM120.2 456.3h.7v.7h-.7zM122.4 465.4h.7v.7h-.7zM132.7 450.9h.7v.7h-.7zM129.7 444.8h.7v.7h-.7zM116.5 459.6h.7v.7h-.7zM135.9 449.3h.7v.7h-.7zM122.8 435.8h.7v.7h-.7zM139.0 441.2h.7v.7h-.7zM120.2 450.2h.7v.7h-.7zM133.3 452.5h.7v.7h-.7zM125.9 452.2h.7v.7h-.7zM131.1 451.7h.7v.7h-.7zM127.0 451.3h.7v.7h-.7zM119.3 464.1h.7v.7h-.7zM121.8 440.1h.7v.7h-.7zM123.4 452.3h.7v.7h-.7zM131.0 438.7h.7v.7h-.7zM118.4 453.6h.7v.7h-.7zM128.3 442.1h.7v.7h-.7zM119.2 453.6h.7v.7h-.7zM125.1 437.4h.7v.7h-.7zM120.7 465.4h.7v.7h-.7zM119.6 461.5h.7v.7h-.7zM116.8 465.4h.7v.7h-.7zM135.7 446.3h.7v.7h-.7zM121.9 457.7h.7v.7h-.7zM118.5 457.0h.7v.7h-.7zM133.4 454.4h.7v.7h-.7zM128.0 450.6h.7v.7h-.7zM132.1 444.6h.7v.7h-.7zM135.6 451.8h.7v.7h-.7zM124.0 437.2h.7v.7h-.7zM123.4 454.1h.7v.7h-.7zM133.5 437.4h.7v.7h-.7zM125.2 445.8h.7v.7h-.7zM118.8 452.0h.7v.7h-.7zM121.4 459.9h.7v.7h-.7zM109.8 458.7h.7v.7h-.7zM114.5 434.4h.7v.7h-.7zM129.1 448.9h.7v.7h-.7zM126.8 443.3h.7v.7h-.7zM119.7 445.3h.7v.7h-.7zM125.7 444.4h.7v.7h-.7zM123.5 444.2h.7v.7h-.7zM127.4 441.7h.7v.7h-.7zM113.5 428.3h.7v.7h-.7zM125.9 452.9h.7v.7h-.7zM131.8 445.3h.7v.7h-.7zM119.1 438.5h.7v.7h-.7zM130.6 446.4h.7v.7h-.7zM132.0 451.3h.7v.7h-.7zM124.3 435.2h.7v.7h-.7zM121.9 459.1h.7v.7h-.7zM122.3 458.1h.7v.7h-.7zM116.1 461.2h.7v.7h-.7zM142.8 462.1h.7v.7h-.7zM127.9 440.8h.7v.7h-.7zM122.8 446.1h.7v.7h-.7zM127.1 433.8h.7v.7h-.7zM120.8 459.2h.7v.7h-.7zM126.9 458.7h.7v.7h-.7zM131.1 441.7h.7v.7h-.7zM117.9 456.2h.7v.7h-.7zM126.2 452.7h.7v.7h-.7zM121.1 461.2h.7v.7h-.7zM129.0 462.3h.7v.7h-.7zM123.9 458.3h.7v.7h-.7zM125.6 443.5h.7v.7h-.7zM125.5 437.0h.7v.7h-.7zM124.9 453.6h.7v.7h-.7zM130.2 442.5h.7v.7h-.7zM118.0 445.4h.7v.7h-.7zM113.5 446.1h.7v.7h-.7zM141.8 453.3h.7v.7h-.7zM121.4 445.9h.7v.7h-.7zM136.6 441.5h.7v.7h-.7zM125.3 451.3h.7v.7h-.7zM121.6 445.5h.7v.7h-.7zM115.9 444.4h.7v.7h-.7zM133.8 464.8h.7v.7h-.7zM124.3 458.4h.7v.7h-.7zM128.8 453.0h.7v.7h-.7zM125.2 463.0h.7v.7h-.7zM129.4 450.0h.7v.7h-.7zM124.6 460.4h.7v.7h-.7zM122.4 445.5h.7v.7h-.7zM124.3 447.5h.7v.7h-.7zM133.6 455.2h.7v.7h-.7zM125.5 447.2h.7v.7h-.7zM134.5 456.0h.7v.7h-.7zM138.5 460.2h.7v.7h-.7zM124.7 447.0h.7v.7h-.7zM124.3 453.6h.7v.7h-.7zM130.8 456.4h.7v.7h-.7zM135.5 438.3h.7v.7h-.7zM126.2 439.2h.7v.7h-.7zM119.8 446.6h.7v.7h-.7zM122.1 443.2h.7v.7h-.7zM116.9 462.3h.7v.7h-.7zM124.1 460.7h.7v.7h-.7zM119.3 431.1h.7v.7h-.7zM122.4 459.9h.7v.7h-.7zM122.6 455.6h.7v.7h-.7zM119.5 464.6h.7v.7h-.7zM128.6 461.5h.7v.7h-.7zM124.3 463.6h.7v.7h-.7zM126.4 447.6h.7v.7h-.7zM122.1 452.5h.7v.7h-.7zM120.5 441.2h.7v.7h-.7zM126.8 458.4h.7v.7h-.7zM124.2 459.6h.7v.7h-.7zM135.5 440.6h.7v.7h-.7zM127.5 443.3h.7v.7h-.7zM122.1 453.6h.7v.7h-.7zM111.7 457.5h.7v.7h-.7zM131.0 456.9h.7v.7h-.7zM129.9 468.4h.7v.7h-.7zM123.8 461.9h.7v.7h-.7zM134.7 456.4h.7v.7h-.7zM115.3 450.6h.7v.7h-.7zM124.2 437.4h.7v.7h-.7zM125.6 458.8h.7v.7h-.7zM124.4 450.4h.7v.7h-.7zM134.8 446.4h.7v.7h-.7zM120.3 452.3h.7v.7h-.7zM132.7 457.3h.7v.7h-.7zM126.4 447.5h.7v.7h-.7zM133.4 460.0h.7v.7h-.7zM115.6 455.0h.7v.7h-.7zM111.5 465.5h.7v.7h-.7zM129.7 446.3h.7v.7h-.7zM118.2 449.3h.7v.7h-.7zM115.5 457.1h.7v.7h-.7zM122.9 436.0h.7v.7h-.7zM125.9 462.7h.7v.7h-.7zM118.4 448.8h.7v.7h-.7zM136.9 453.7h.7v.7h-.7zM122.7 453.7h.7v.7h-.7zM130.7 442.9h.7v.7h-.7zM125.4 437.3h.7v.7h-.7zM116.5 438.1h.7v.7h-.7zM131.1 454.8h.7v.7h-.7zM130.4 463.0h.7v.7h-.7zM126.3 454.1h.7v.7h-.7zM128.4 456.2h.7v.7h-.7zM119.6 449.5h.7v.7h-.7zM125.1 452.3h.7v.7h-.7zM121.5 450.8h.7v.7h-.7zM127.7 453.7h.7v.7h-.7zM129.5 459.4h.7v.7h-.7zM129.3 460.7h.7v.7h-.7zM131.1 464.6h.7v.7h-.7zM129.8 446.4h.7v.7h-.7zM140.0 462.2h.7v.7h-.7zM133.5 458.6h.7v.7h-.7zM126.3 441.7h.7v.7h-.7zM128.6 448.8h.7v.7h-.7zM123.6 432.7h.7v.7h-.7zM135.3 441.5h.7v.7h-.7zM119.4 456.2h.7v.7h-.7zM129.4 444.8h.7v.7h-.7zM126.0 454.3h.7v.7h-.7zM126.9 456.7h.7v.7h-.7zM130.7 448.7h.7v.7h-.7zM116.2 471.5h.7v.7h-.7zM123.7 443.1h.7v.7h-.7zM130.5 457.3h.7v.7h-.7zM122.3 473.2h.7v.7h-.7zM111.8 463.5h.7v.7h-.7zM125.8 454.8h.7v.7h-.7zM127.9 449.9h.7v.7h-.7zM127.9 440.2h.7v.7h-.7zM123.6 468.7h.7v.7h-.7zM110.5 463.1h.7v.7h-.7zM112.6 444.3h.7v.7h-.7zM131.3 448.3h.7v.7h-.7zM122.5 438.4h.7v.7h-.7zM125.3 450.4h.7v.7h-.7zM122.1 437.9h.7v.7h-.7zM126.9 455.8h.7v.7h-.7zM132.9 456.6h.7v.7h-.7zM135.1 462.8h.7v.7h-.7zM109.0 467.0h.7v.7h-.7zM125.4 442.5h.7v.7h-.7zM128.6 460.7h.7v.7h-.7zM116.7 440.8h.7v.7h-.7zM130.1 447.0h.7v.7h-.7zM134.8 453.9h.7v.7h-.7zM122.7 440.0h.7v.7h-.7zM129.6 436.5h.7v.7h-.7zM118.1 440.1h.7v.7h-.7zM136.2 467.4h.7v.7h-.7zM124.7 448.5h.7v.7h-.7zM130.2 463.2h.7v.7h-.7zM121.1 471.9h.7v.7h-.7zM124.7 462.2h.7v.7h-.7zM111.8 451.5h.7v.7h-.7zM121.8 469.9h.7v.7h-.7zM124.7 440.5h.7v.7h-.7zM137.7 445.8h.7v.7h-.7zM126.0 440.7h.7v.7h-.7zM130.1 453.7h.7v.7h-.7zM124.3 448.4h.7v.7h-.7zM122.6 445.5h.7v.7h-.7zM117.5 462.9h.7v.7h-.7zM131.4 439.4h.7v.7h-.7zM119.0 455.7h.7v.7h-.7zM139.6 450.1h.7v.7h-.7zM124.1 449.7h.7v.7h-.7zM127.5 450.4h.7v.7h-.7zM132.5 460.9h.7v.7h-.7zM129.3 466.2h.7v.7h-.7zM124.6 447.0h.7v.7h-.7zM143.9 434.5h.7v.7h-.7zM116.6 430.7h.7v.7h-.7zM128.1 442.3h.7v.7h-.7zM132.4 433.0h.7v.7h-.7zM125.2 448.5h.7v.7h-.7zM119.5 462.1h.7v.7h-.7zM123.6 456.1h.7v.7h-.7zM122.8 453.3h.7v.7h-.7zM123.3 452.7h.7v.7h-.7zM125.4 445.8h.7v.7h-.7zM128.6 450.3h.7v.7h-.7zM120.2 442.5h.7v.7h-.7zM128.7 464.0h.7v.7h-.7zM118.1 448.2h.7v.7h-.7zM128.7 461.4h.7v.7h-.7zM130.3 441.3h.7v.7h-.7zM126.2 460.1h.7v.7h-.7zM127.4 450.0h.7v.7h-.7zM118.9 453.5h.7v.7h-.7zM125.6 452.3h.7v.7h-.7zM135.0 462.7h.7v.7h-.7zM121.2 454.1h.7v.7h-.7zM124.1 452.9h.7v.7h-.7zM135.8 460.3h.7v.7h-.7zM126.2 446.0h.7v.7h-.7zM125.0 455.3h.7v.7h-.7zM123.0 461.9h.7v.7h-.7zM126.1 441.3h.7v.7h-.7zM138.3 425.8h.7v.7h-.7zM124.4 450.9h.7v.7h-.7zM132.0 462.1h.7v.7h-.7zM134.8 466.1h.7v.7h-.7zM127.9 453.0h.7v.7h-.7zM132.1 451.8h.7v.7h-.7zM118.4 447.9h.7v.7h-.7zM130.0 457.5h.7v.7h-.7zM119.3 462.8h.7v.7h-.7zM127.9 438.4h.7v.7h-.7zM128.8 461.1h.7v.7h-.7zM129.2 449.2h.7v.7h-.7zM121.2 462.1h.7v.7h-.7zM127.4 451.9h.7v.7h-.7zM123.6 442.7h.7v.7h-.7zM114.7 448.9h.7v.7h-.7zM132.7 458.9h.7v.7h-.7zM121.9 465.8h.7v.7h-.7zM124.6 442.9h.7v.7h-.7zM131.9 464.5h.7v.7h-.7zM123.7 441.0h.7v.7h-.7zM125.6 430.1h.7v.7h-.7zM126.3 465.8h.7v.7h-.7zM127.6 445.4h.7v.7h-.7zM130.3 447.5h.7v.7h-.7zM133.6 448.8h.7v.7h-.7zM138.3 448.8h.7v.7h-.7zM127.2 443.5h.7v.7h-.7zM118.3 455.1h.7v.7h-.7zM128.1 443.2h.7v.7h-.7zM129.4 448.3h.7v.7h-.7zM122.7 451.3h.7v.7h-.7zM128.4 458.6h.7v.7h-.7zM133.4 455.4h.7v.7h-.7zM121.6 445.8h.7v.7h-.7zM128.2 441.2h.7v.7h-.7zM125.0 448.5h.7v.7h-.7zM125.4 453.6h.7v.7h-.7zM132.3 466.8h.7v.7h-.7zM131.3 461.1h.7v.7h-.7zM119.6 461.4h.7v.7h-.7zM133.8 439.8h.7v.7h-.7zM141.2 446.9h.7v.7h-.7zM111.7 467.9h.7v.7h-.7zM126.4 444.8h.7v.7h-.7zM122.5 461.7h.7v.7h-.7zM127.5 448.6h.7v.7h-.7zM132.9 443.5h.7v.7h-.7zM120.9 446.9h.7v.7h-.7zM127.5 467.5h.7v.7h-.7zM130.6 453.5h.7v.7h-.7zM129.2 446.1h.7v.7h-.7zM133.0 462.8h.7v.7h-.7zM135.7 460.1h.7v.7h-.7zM134.4 454.5h.7v.7h-.7zM132.1 463.2h.7v.7h-.7zM124.7 466.7h.7v.7h-.7zM132.9 462.4h.7v.7h-.7zM129.1 478.1h.7v.7h-.7zM132.0 455.8h.7v.7h-.7zM126.9 466.7h.7v.7h-.7zM130.7 455.7h.7v.7h-.7zM127.6 469.5h.7v.7h-.7zM132.5 470.4h.7v.7h-.7zM131.9 452.5h.7v.7h-.7zM137.2 464.6h.7v.7h-.7zM128.1 459.5h.7v.7h-.7zM126.2 468.6h.7v.7h-.7zM129.5 465.8h.7v.7h-.7zM133.6 459.9h.7v.7h-.7zM134.2 460.0h.7v.7h-.7zM124.9 458.7h.7v.7h-.7zM124.9 468.0h.7v.7h-.7zM135.9 457.3h.7v.7h-.7zM135.7 464.0h.7v.7h-.7zM137.9 454.5h.7v.7h-.7zM132.2 454.1h.7v.7h-.7zM127.9 473.0h.7v.7h-.7zM119.9 454.7h.7v.7h-.7zM134.9 468.2h.7v.7h-.7zM127.3 445.7h.7v.7h-.7zM121.7 464.9h.7v.7h-.7zM138.6 469.3h.7v.7h-.7zM127.6 472.8h.7v.7h-.7zM130.9 466.9h.7v.7h-.7zM130.8 474.7h.7v.7h-.7zM128.9 444.8h.7v.7h-.7zM130.1 463.5h.7v.7h-.7zM133.7 456.3h.7v.7h-.7zM130.6 452.9h.7v.7h-.7zM130.6 462.7h.7v.7h-.7zM133.4 475.1h.7v.7h-.7zM120.0 466.1h.7v.7h-.7zM134.6 452.7h.7v.7h-.7zM132.4 461.9h.7v.7h-.7zM126.0 467.8h.7v.7h-.7zM143.5 467.4h.7v.7h-.7zM136.7 470.5h.7v.7h-.7zM131.2 469.8h.7v.7h-.7zM127.2 463.4h.7v.7h-.7zM136.2 472.4h.7v.7h-.7zM130.3 459.7h.7v.7h-.7zM134.8 461.4h.7v.7h-.7zM132.8 468.4h.7v.7h-.7zM127.4 469.0h.7v.7h-.7zM134.3 459.9h.7v.7h-.7zM124.5 457.0h.7v.7h-.7zM131.7 469.5h.7v.7h-.7zM120.2 467.7h.7v.7h-.7zM133.2 453.0h.7v.7h-.7zM137.1 465.2h.7v.7h-.7zM134.6 454.2h.7v.7h-.7zM125.4 469.2h.7v.7h-.7zM140.4 464.9h.7v.7h-.7zM130.8 458.4h.7v.7h-.7zM121.8 469.8h.7v.7h-.7zM131.4 471.8h.7v.7h-.7zM127.7 470.4h.7v.7h-.7zM127.7 466.7h.7v.7h-.7zM140.2 456.4h.7v.7h-.7zM137.4 461.9h.7v.7h-.7zM126.4 463.6h.7v.7h-.7zM135.8 456.3h.7v.7h-.7zM130.4 457.5h.7v.7h-.7zM127.4 460.3h.7v.7h-.7zM136.9 458.1h.7v.7h-.7zM139.4 459.0h.7v.7h-.7zM127.9 470.5h.7v.7h-.7zM140.4 456.8h.7v.7h-.7zM135.5 452.8h.7v.7h-.7zM129.6 459.0h.7v.7h-.7zM136.2 452.0h.7v.7h-.7zM129.0 456.5h.7v.7h-.7zM132.6 452.2h.7v.7h-.7zM133.3 450.1h.7v.7h-.7zM137.0 451.6h.7v.7h-.7zM120.8 475.2h.7v.7h-.7zM139.4 455.3h.7v.7h-.7zM125.5 465.8h.7v.7h-.7zM135.9 452.6h.7v.7h-.7zM121.4 465.1h.7v.7h-.7zM138.0 463.1h.7v.7h-.7zM132.0 472.9h.7v.7h-.7zM127.0 470.7h.7v.7h-.7zM136.9 457.1h.7v.7h-.7zM132.7 462.9h.7v.7h-.7zM135.4 454.3h.7v.7h-.7zM130.6 462.7h.7v.7h-.7zM132.2 462.2h.7v.7h-.7zM133.5 460.5h.7v.7h-.7zM129.0 470.2h.7v.7h-.7zM128.2 459.5h.7v.7h-.7zM126.8 452.9h.7v.7h-.7zM134.6 461.7h.7v.7h-.7zM131.2 465.6h.7v.7h-.7zM131.0 467.4h.7v.7h-.7zM142.7 464.7h.7v.7h-.7zM130.4 475.1h.7v.7h-.7zM136.2 448.9h.7v.7h-.7zM139.9 463.7h.7v.7h-.7zM137.0 452.9h.7v.7h-.7zM127.0 456.9h.7v.7h-.7zM135.3 453.1h.7v.7h-.7zM127.8 469.5h.7v.7h-.7zM128.2 462.9h.7v.7h-.7zM126.7 448.6h.7v.7h-.7zM131.5 461.0h.7v.7h-.7zM123.5 469.7h.7v.7h-.7zM136.8 469.0h.7v.7h-.7zM129.0 453.0h.7v.7h-.7zM131.5 463.3h.7v.7h-.7zM131.0 457.4h.7v.7h-.7zM126.1 456.2h.7v.7h-.7zM131.5 458.2h.7v.7h-.7zM141.8 459.8h.7v.7h-.7zM134.7 458.3h.7v.7h-.7zM130.9 454.3h.7v.7h-.7zM129.1 450.2h.7v.7h-.7zM119.8 472.5h.7v.7h-.7zM125.8 465.4h.7v.7h-.7zM131.3 457.5h.7v.7h-.7zM136.3 457.6h.7v.7h-.7zM134.6 459.1h.7v.7h-.7zM137.7 469.5h.7v.7h-.7zM132.4 470.6h.7v.7h-.7zM135.0 474.2h.7v.7h-.7zM131.3 449.9h.7v.7h-.7zM133.2 463.9h.7v.7h-.7zM129.9 460.4h.7v.7h-.7zM130.4 452.2h.7v.7h-.7zM142.1 455.9h.7v.7h-.7zM125.7 449.6h.7v.7h-.7zM127.0 461.7h.7v.7h-.7zM140.7 466.7h.7v.7h-.7zM127.7 452.2h.7v.7h-.7zM125.4 461.3h.7v.7h-.7zM137.1 458.2h.7v.7h-.7zM141.4 477.1h.7v.7h-.7zM132.9 445.0h.7v.7h-.7zM138.4 461.2h.7v.7h-.7zM135.9 469.7h.7v.7h-.7zM126.1 462.5h.7v.7h-.7zM133.0 456.1h.7v.7h-.7zM136.1 461.0h.7v.7h-.7zM129.6 476.7h.7v.7h-.7zM133.0 474.8h.7v.7h-.7zM131.1 470.1h.7v.7h-.7zM127.6 463.1h.7v.7h-.7zM138.3 445.0h.7v.7h-.7zM135.1 459.9h.7v.7h-.7zM138.4 463.4h.7v.7h-.7zM131.5 451.9h.7v.7h-.7zM130.1 456.3h.7v.7h-.7zM130.2 463.7h.7v.7h-.7zM124.1 470.3h.7v.7h-.7zM130.4 466.7h.7v.7h-.7zM119.6 457.9h.7v.7h-.7zM130.2 458.9h.7v.7h-.7zM128.1 464.4h.7v.7h-.7zM134.4 454.3h.7v.7h-.7zM120.5 467.7h.7v.7h-.7zM130.1 470.4h.7v.7h-.7zM137.1 461.2h.7v.7h-.7zM123.6 459.1h.7v.7h-.7zM127.7 471.7h.7v.7h-.7zM122.0 469.1h.7v.7h-.7zM122.9 457.5h.7v.7h-.7zM123.7 456.5h.7v.7h-.7zM129.4 464.9h.7v.7h-.7zM128.5 467.4h.7v.7h-.7zM142.2 463.2h.7v.7h-.7zM125.2 460.6h.7v.7h-.7zM131.4 459.2h.7v.7h-.7zM138.7 471.0h.7v.7h-.7zM143.7 466.1h.7v.7h-.7zM116.4 460.9h.7v.7h-.7zM135.9 455.7h.7v.7h-.7zM128.4 469.1h.7v.7h-.7zM132.8 453.2h.7v.7h-.7zM128.6 437.8h.7v.7h-.7zM131.9 452.4h.7v.7h-.7zM131.7 452.7h.7v.7h-.7zM126.5 457.9h.7v.7h-.7zM125.0 457.8h.7v.7h-.7zM138.2 468.2h.7v.7h-.7zM115.4 428.1h.7v.7h-.7zM110.9 425.5h.7v.7h-.7zM108.5 425.2h.7v.7h-.7zM98.6 424.1h.7v.7h-.7zM125.0 432.3h.7v.7h-.7zM104.1 429.3h.7v.7h-.7zM106.4 437.1h.7v.7h-.7zM109.7 426.2h.7v.7h-.7zM115.2 431.9h.7v.7h-.7zM104.6 425.4h.7v.7h-.7zM111.0 420.4h.7v.7h-.7zM102.8 435.9h.7v.7h-.7zM116.7 436.5h.7v.7h-.7zM106.5 426.5h.7v.7h-.7zM107.8 427.2h.7v.7h-.7zM119.9 428.7h.7v.7h-.7zM120.5 425.8h.7v.7h-.7zM112.9 439.5h.7v.7h-.7zM104.1 426.1h.7v.7h-.7zM105.3 420.5h.7v.7h-.7zM107.6 426.2h.7v.7h-.7zM127.1 427.2h.7v.7h-.7zM93.3 435.5h.7v.7h-.7zM117.3 429.8h.7v.7h-.7zM112.2 434.2h.7v.7h-.7zM105.5 430.2h.7v.7h-.7zM111.0 439.7h.7v.7h-.7zM120.9 431.0h.7v.7h-.7zM99.5 435.2h.7v.7h-.7zM109.5 436.8h.7v.7h-.7zM110.3 431.0h.7v.7h-.7zM115.0 425.7h.7v.7h-.7zM104.8 443.4h.7v.7h-.7zM103.2 435.5h.7v.7h-.7zM115.2 434.8h.7v.7h-.7zM120.6 422.1h.7v.7h-.7zM117.4 417.9h.7v.7h-.7zM110.3 432.0h.7v.7h-.7zM117.9 436.3h.7v.7h-.7zM102.6 428.4h.7v.7h-.7zM108.7 425.9h.7v.7h-.7zM103.5 426.1h.7v.7h-.7zM118.9 438.0h.7v.7h-.7zM115.8 439.9h.7v.7h-.7zM110.6 423.6h.7v.7h-.7zM104.8 431.2h.7v.7h-.7zM117.9 437.1h.7v.7h-.7zM102.9 435.6h.7v.7h-.7zM105.7 433.5h.7v.7h-.7zM117.0 438.7h.7v.7h-.7zM105.8 431.4h.7v.7h-.7zM113.2 427.5h.7v.7h-.7zM110.6 433.5h.7v.7h-.7zM97.1 426.2h.7v.7h-.7zM127.9 432.6h.7v.7h-.7zM105.6 419.2h.7v.7h-.7zM102.4 433.0h.7v.7h-.7zM115.2 432.6h.7v.7h-.7zM114.5 426.4h.7v.7h-.7zM122.3 423.4h.7v.7h-.7zM113.9 428.4h.7v.7h-.7zM96.6 435.3h.7v.7h-.7zM107.7 434.2h.7v.7h-.7zM119.8 431.0h.7v.7h-.7zM104.8 428.7h.7v.7h-.7zM109.4 438.5h.7v.7h-.7zM116.6 439.3h.7v.7h-.7zM115.8 425.5h.7v.7h-.7zM117.1 435.7h.7v.7h-.7zM108.9 432.7h.7v.7h-.7zM107.4 422.6h.7v.7h-.7zM109.2 434.5h.7v.7h-.7zM103.7 436.4h.7v.7h-.7zM111.6 436.6h.7v.7h-.7zM104.0 427.5h.7v.7h-.7zM102.1 425.4h.7v.7h-.7zM113.9 430.8h.7v.7h-.7zM106.1 431.7h.7v.7h-.7zM99.7 427.7h.7v.7h-.7zM98.2 421.2h.7v.7h-.7zM99.3 423.5h.7v.7h-.7zM122.2 438.1h.7v.7h-.7zM119.7 426.6h.7v.7h-.7zM114.7 423.3h.7v.7h-.7zM105.7 431.4h.7v.7h-.7zM97.4 431.2h.7v.7h-.7zM114.7 417.8h.7v.7h-.7zM90.9 428.4h.7v.7h-.7zM108.9 430.8h.7v.7h-.7zM101.1 433.3h.7v.7h-.7zM110.8 425.7h.7v.7h-.7zM122.7 431.5h.7v.7h-.7zM115.6 440.9h.7v.7h-.7zM106.0 428.7h.7v.7h-.7zM96.4 428.6h.7v.7h-.7zM113.3 444.8h.7v.7h-.7zM114.3 431.2h.7v.7h-.7zM100.0 425.0h.7v.7h-.7zM95.5 421.9h.7v.7h-.7zM110.7 431.8h.7v.7h-.7zM102.8 428.7h.7v.7h-.7zM103.6 433.7h.7v.7h-.7zM114.8 426.7h.7v.7h-.7zM106.3 422.7h.7v.7h-.7zM106.2 442.9h.7v.7h-.7zM109.8 435.1h.7v.7h-.7zM114.4 438.7h.7v.7h-.7zM107.3 424.6h.7v.7h-.7zM118.0 435.4h.7v.7h-.7zM90.1 479.4h.7v.7h-.7zM95.7 473.8h.7v.7h-.7zM112.0 476.6h.7v.7h-.7zM98.6 472.4h.7v.7h-.7zM97.6 479.2h.7v.7h-.7zM99.8 470.3h.7v.7h-.7zM99.8 473.4h.7v.7h-.7zM98.6 473.0h.7v.7h-.7zM92.5 463.1h.7v.7h-.7zM101.9 471.7h.7v.7h-.7zM98.7 462.9h.7v.7h-.7zM98.0 478.9h.7v.7h-.7zM97.5 467.5h.7v.7h-.7zM104.3 471.4h.7v.7h-.7zM90.8 475.0h.7v.7h-.7zM99.8 467.9h.7v.7h-.7zM95.8 474.3h.7v.7h-.7zM108.5 480.3h.7v.7h-.7zM118.3 470.7h.7v.7h-.7zM88.0 475.8h.7v.7h-.7zM110.0 469.0h.7v.7h-.7zM92.8 470.3h.7v.7h-.7zM100.5 476.0h.7v.7h-.7zM95.5 477.3h.7v.7h-.7zM88.9 472.1h.7v.7h-.7zM95.5 474.3h.7v.7h-.7zM107.4 474.4h.7v.7h-.7zM107.3 475.2h.7v.7h-.7zM106.0 474.9h.7v.7h-.7zM87.8 469.8h.7v.7h-.7zM112.3 472.4h.7v.7h-.7zM117.9 468.5h.7v.7h-.7zM88.4 478.6h.7v.7h-.7zM82.4 478.5h.7v.7h-.7zM99.2 477.1h.7v.7h-.7zM85.2 475.9h.7v.7h-.7zM104.1 473.7h.7v.7h-.7zM104.9 474.1h.7v.7h-.7zM98.9 472.4h.7v.7h-.7zM83.9 473.2h.7v.7h-.7zM100.3 470.2h.7v.7h-.7zM107.4 472.9h.7v.7h-.7zM89.1 480.2h.7v.7h-.7zM94.3 466.5h.7v.7h-.7zM92.0 469.6h.7v.7h-.7zM94.2 469.5h.7v.7h-.7zM96.5 476.3h.7v.7h-.7zM90.8 473.0h.7v.7h-.7zM94.5 478.1h.7v.7h-.7zM89.5 477.7h.7v.7h-.7zM106.9 473.0h.7v.7h-.7zM87.3 472.5h.7v.7h-.7zM85.3 473.2h.7v.7h-.7zM92.6 476.6h.7v.7h-.7zM96.9 476.1h.7v.7h-.7zM95.4 475.4h.7v.7h-.7zM85.9 477.3h.7v.7h-.7zM107.4 479.5h.7v.7h-.7zM84.0 476.1h.7v.7h-.7zM94.0 471.7h.7v.7h-.7zM89.3 472.8h.7v.7h-.7zM95.8 469.2h.7v.7h-.7zM96.4 475.3h.7v.7h-.7zM100.5 473.8h.7v.7h-.7zM104.8 475.6h.7v.7h-.7zM83.6 477.1h.7v.7h-.7zM100.9 460.7h.7v.7h-.7zM94.4 475.9h.7v.7h-.7zM96.2 474.5h.7v.7h-.7zM94.5 480.9h.7v.7h-.7zM99.2 472.6h.7v.7h-.7zM88.2 471.4h.7v.7h-.7zM98.8 474.7h.7v.7h-.7zM98.5 480.8h.7v.7h-.7zM105.9 476.1h.7v.7h-.7zM96.3 473.7h.7v.7h-.7zM93.8 479.0h.7v.7h-.7zM84.7 468.8h.7v.7h-.7zM91.8 469.2h.7v.7h-.7zM89.4 480.0h.7v.7h-.7zM84.3 472.8h.7v.7h-.7zM90.8 469.0h.7v.7h-.7zM82.7 474.4h.7v.7h-.7zM92.4 479.5h.7v.7h-.7zM112.3 472.5h.7v.7h-.7zM88.8 472.6h.7v.7h-.7zM100.0 478.7h.7v.7h-.7zM87.4 476.4h.7v.7h-.7zM95.6 479.7h.7v.7h-.7zM92.3 473.0h.7v.7h-.7zM88.3 467.4h.7v.7h-.7zM98.3 477.6h.7v.7h-.7zM105.9 475.3h.7v.7h-.7zM91.8 469.4h.7v.7h-.7zM85.6 470.4h.7v.7h-.7zM98.9 474.5h.7v.7h-.7zM93.3 468.8h.7v.7h-.7zM95.7 476.7h.7v.7h-.7zM86.7 467.2h.7v.7h-.7zM93.0 475.3h.7v.7h-.7zM97.2 469.0h.7v.7h-.7zM102.8 470.8h.7v.7h-.7zM102.0 474.5h.7v.7h-.7zM106.9 469.0h.7v.7h-.7zM102.3 476.1h.7v.7h-.7zM87.9 477.5h.7v.7h-.7zM116.1 475.8h.7v.7h-.7zM89.1 473.2h.7v.7h-.7zM107.5 475.3h.7v.7h-.7zM109.1 470.7h.7v.7h-.7zM107.6 466.1h.7v.7h-.7zM94.4 472.5h.7v.7h-.7zM91.6 480.1h.7v.7h-.7zM90.6 475.8h.7v.7h-.7zM112.4 478.1h.7v.7h-.7zM92.2 470.3h.7v.7h-.7zM103.8 479.5h.7v.7h-.7zM102.8 462.4h.7v.7h-.7zM88.1 478.0h.7v.7h-.7zM92.4 478.2h.7v.7h-.7zM118.8 470.2h.7v.7h-.7zM115.7 473.6h.7v.7h-.7zM82.8 474.5h.7v.7h-.7zM104.0 471.1h.7v.7h-.7zM110.0 469.6h.7v.7h-.7zM94.2 478.6h.7v.7h-.7zM94.0 471.2h.7v.7h-.7zM95.8 477.3h.7v.7h-.7zM111.4 480.8h.7v.7h-.7zM112.7 473.9h.7v.7h-.7zM92.3 469.0h.7v.7h-.7zM91.3 473.7h.7v.7h-.7zM96.4 478.6h.7v.7h-.7zM87.8 479.7h.7v.7h-.7zM96.4 477.7h.7v.7h-.7zM107.1 467.8h.7v.7h-.7zM110.2 470.4h.7v.7h-.7zM99.5 479.4h.7v.7h-.7zM104.2 466.2h.7v.7h-.7zM97.4 479.7h.7v.7h-.7zM94.9 473.6h.7v.7h-.7zM91.1 469.3h.7v.7h-.7zM86.1 471.4h.7v.7h-.7zM93.8 475.7h.7v.7h-.7zM95.2 465.4h.7v.7h-.7zM102.5 467.2h.7v.7h-.7zM104.4 461.8h.7v.7h-.7zM116.8 477.0h.7v.7h-.7zM95.7 471.7h.7v.7h-.7zM92.7 472.9h.7v.7h-.7zM95.1 469.5h.7v.7h-.7zM90.9 476.8h.7v.7h-.7zM100.7 467.3h.7v.7h-.7zM83.8 468.8h.7v.7h-.7zM92.6 468.7h.7v.7h-.7zM86.2 470.5h.7v.7h-.7zM94.3 478.2h.7v.7h-.7zM101.0 465.2h.7v.7h-.7zM109.4 472.3h.7v.7h-.7zM87.0 473.8h.7v.7h-.7zM92.4 467.0h.7v.7h-.7zM110.0 471.1h.7v.7h-.7zM90.6 476.7h.7v.7h-.7zM111.0 476.4h.7v.7h-.7zM87.9 476.2h.7v.7h-.7zM105.9 475.9h.7v.7h-.7zM101.8 471.6h.7v.7h-.7zM95.4 465.6h.7v.7h-.7zM89.5 468.3h.7v.7h-.7zM96.1 481.5h.7v.7h-.7zM87.6 473.6h.7v.7h-.7zM106.5 470.1h.7v.7h-.7zM88.9 480.1h.7v.7h-.7zM99.3 476.6h.7v.7h-.7zM113.3 441.6h.7v.7h-.7zM103.6 442.8h.7v.7h-.7zM88.4 453.9h.7v.7h-.7zM107.0 434.1h.7v.7h-.7zM87.6 460.6h.7v.7h-.7zM102.7 461.3h.7v.7h-.7zM94.9 440.7h.7v.7h-.7zM112.5 460.4h.7v.7h-.7zM87.8 461.4h.7v.7h-.7zM125.2 448.1h.7v.7h-.7zM84.4 455.6h.7v.7h-.7zM101.4 460.0h.7v.7h-.7zM114.3 461.8h.7v.7h-.7zM110.1 468.8h.7v.7h-.7zM86.7 469.2h.7v.7h-.7zM103.3 438.0h.7v.7h-.7zM95.2 455.8h.7v.7h-.7zM105.3 471.0h.7v.7h-.7zM103.1 444.8h.7v.7h-.7zM135.1 447.4h.7v.7h-.7zM86.8 465.0h.7v.7h-.7zM93.3 440.9h.7v.7h-.7zM82.9 468.7h.7v.7h-.7zM82.9 453.5h.7v.7h-.7zM92.7 449.3h.7v.7h-.7zM86.9 454.1h.7v.7h-.7zM109.7 466.8h.7v.7h-.7zM94.2 435.7h.7v.7h-.7zM100.5 453.8h.7v.7h-.7zM88.1 461.5h.7v.7h-.7zM93.4 460.7h.7v.7h-.7zM108.3 425.0h.7v.7h-.7zM96.2 469.8h.7v.7h-.7zM91.8 453.9h.7v.7h-.7zM98.0 434.8h.7v.7h-.7zM135.0 450.2h.7v.7h-.7zM110.2 445.8h.7v.7h-.7zM122.5 468.2h.7v.7h-.7zM119.0 465.4h.7v.7h-.7zM111.3 471.5h.7v.7h-.7zM106.5 454.0h.7v.7h-.7zM113.0 439.6h.7v.7h-.7zM102.4 442.2h.7v.7h-.7zM95.7 438.7h.7v.7h-.7zM86.5 454.7h.7v.7h-.7zM102.0 463.8h.7v.7h-.7zM98.5 461.0h.7v.7h-.7zM111.0 442.3h.7v.7h-.7zM95.9 444.6h.7v.7h-.7zM135.5 442.5h.7v.7h-.7zM107.6 441.4h.7v.7h-.7zM111.1 434.4h.7v.7h-.7zM115.3 454.7h.7v.7h-.7zM93.6 435.4h.7v.7h-.7zM126.8 444.0h.7v.7h-.7zM123.1 418.4h.7v.7h-.7zM128.6 452.4h.7v.7h-.7zM116.0 460.6h.7v.7h-.7zM94.2 454.0h.7v.7h-.7zM102.0 462.4h.7v.7h-.7zM102.6 435.0h.7v.7h-.7zM113.6 453.4h.7v.7h-.7zM112.1 448.1h.7v.7h-.7zM95.7 466.9h.7v.7h-.7zM122.0 435.3h.7v.7h-.7zM82.2 465.7h.7v.7h-.7zM105.8 452.9h.7v.7h-.7zM84.3 466.3h.7v.7h-.7zM103.0 455.2h.7v.7h-.7zM106.2 444.8h.7v.7h-.7zM106.4 454.0h.7v.7h-.7zM111.5 457.5h.7v.7h-.7zM95.7 468.4h.7v.7h-.7zM89.6 468.0h.7v.7h-.7zM117.3 464.4h.7v.7h-.7zM136.2 452.0h.7v.7h-.7zM105.1 469.2h.7v.7h-.7zM106.5 466.1h.7v.7h-.7zM97.9 472.0h.7v.7h-.7zM105.6 425.4h.7v.7h-.7zM117.4 449.5h.7v.7h-.7zM85.8 448.0h.7v.7h-.7zM95.5 468.2h.7v.7h-.7zM105.3 451.2h.7v.7h-.7zM99.8 439.6h.7v.7h-.7zM89.7 445.7h.7v.7h-.7zM96.4 435.9h.7v.7h-.7zM93.6 466.2h.7v.7h-.7zM107.3 452.2h.7v.7h-.7zM105.6 448.8h.7v.7h-.7zM136.1 459.3h.7v.7h-.7zM94.5 448.3h.7v.7h-.7zM106.4 429.9h.7v.7h-.7zM96.5 445.4h.7v.7h-.7zM83.9 461.0h.7v.7h-.7zM126.4 458.0h.7v.7h-.7zM116.5 462.8h.7v.7h-.7zM99.0 460.3h.7v.7h-.7zM121.3 446.3h.7v.7h-.7zM97.6 433.0h.7v.7h-.7zM114.4 457.3h.7v.7h-.7zM104.2 470.5h.7v.7h-.7zM101.3 463.0h.7v.7h-.7zM122.2 440.9h.7v.7h-.7z" fill="#333" fill-opacity="0.45"/>
<defs><clipPath id="cp3"><path d="M82.6,447.2 Q87,444 90.6,443.5 Q96,441 101.2,440.3 Q106,439.6 110.7,439.8 Q113,440.2 114.9,440.9 Q118,441.6 120.2,443.5 Q121.8,445.5 121.3,447.8 Q120.5,451 118.1,452.5 Q116,453.5 113.9,453.6 Q114.2,457 113.9,459.9 Q114,464 113.3,467.3 Q111.5,472 109.6,475.8 L105.9,480 L99,472.6 L92.7,465.2 L86.5,458.9 L89.2,455.2 L82.6,450.5 Z"/></clipPath><radialGradient id="rg3_0" cx="100.1" cy="447.2" r="1" gradientUnits="userSpaceOnUse" gradientTransform="translate(100.1 447.2) scale(14 7.5) translate(-100.1 -447.2)"><stop offset="0" stop-color="#1a1a1a"/><stop offset="0.45" stop-color="#2a2a2a"/><stop offset="1" stop-color="#7a7a7a" stop-opacity="0"/></radialGradient><radialGradient id="rg3_1" cx="104.9" cy="461" r="1" gradientUnits="userSpaceOnUse" gradientTransform="translate(104.9 461) scale(11 11.5) translate(-104.9 -461)"><stop offset="0" stop-color="#262626"/><stop offset="0.45" stop-color="#383838"/><stop offset="1" stop-color="#7a7a7a" stop-opacity="0"/></radialGradient><radialGradient id="rg3_2" cx="116.8" cy="447.2" r="1" gradientUnits="userSpaceOnUse" gradientTransform="translate(116.8 447.2) scale(5 5) translate(-116.8 -447.2)"><stop offset="0" stop-color="#666"/><stop offset="0.45" stop-color="#888"/><stop offset="1" stop-color="#aaa" stop-opacity="0"/></radialGradient></defs>
<path d="M82.6,447.2 Q87,444 90.6,443.5 Q96,441 101.2,440.3 Q106,439.6 110.7,439.8 Q113,440.2 114.9,440.9 Q118,441.6 120.2,443.5 Q121.8,445.5 121.3,447.8 Q120.5,451 118.1,452.5 Q116,453.5 113.9,453.6 Q114.2,457 113.9,459.9 Q114,464 113.3,467.3 Q111.5,472 109.6,475.8 L105.9,480 L99,472.6 L92.7,465.2 L86.5,458.9 L89.2,455.2 L82.6,450.5 Z" fill="none" stroke="#7a7a7a" stroke-width="4.5" stroke-opacity="0.55" filter="url(#blur1)"/>
<path d="M82.6,447.2 Q87,444 90.6,443.5 Q96,441 101.2,440.3 Q106,439.6 110.7,439.8 Q113,440.2 114.9,440.9 Q118,441.6 120.2,443.5 Q121.8,445.5 121.3,447.8 Q120.5,451 118.1,452.5 Q116,453.5 113.9,453.6 Q114.2,457 113.9,459.9 Q114,464 113.3,467.3 Q111.5,472 109.6,475.8 L105.9,480 L99,472.6 L92.7,465.2 L86.5,458.9 L89.2,455.2 L82.6,450.5 Z" fill="none" stroke="#444" stroke-width="1.4" stroke-opacity="0.8" filter="url(#blur05)"/>
<g clip-path="url(#cp3)"><path d="M82.6,447.2 Q87,444 90.6,443.5 Q96,441 101.2,440.3 Q106,439.6 110.7,439.8 Q113,440.2 114.9,440.9 Q118,441.6 120.2,443.5 Q121.8,445.5 121.3,447.8 Q120.5,451 118.1,452.5 Q116,453.5 113.9,453.6 Q114.2,457 113.9,459.9 Q114,464 113.3,467.3 Q111.5,472 109.6,475.8 L105.9,480 L99,472.6 L92.7,465.2 L86.5,458.9 L89.2,455.2 L82.6,450.5 Z" fill="#8e8e8e"/>
<ellipse cx="100.1" cy="447.2" rx="14" ry="7.5" fill="url(#rg3_0)"/>
<ellipse cx="104.9" cy="461" rx="11" ry="11.5" fill="url(#rg3_1)"/>
<ellipse cx="116.8" cy="447.2" rx="5" ry="5" fill="url(#rg3_2)"/>
</g>
<path d="M82.6,447.2 Q87,444 90.6,443.5 Q96,441 101.2,440.3 Q106,439.6 110.7,439.8 Q113,440.2 114.9,440.9 Q118,441.6 120.2,443.5 Q121.8,445.5 121.3,447.8 Q120.5,451 118.1,452.5 Q116,453.5 113.9,453.6 Q114.2,457 113.9,459.9 Q114,464 113.3,467.3 Q111.5,472 109.6,475.8 L105.9,480 L99,472.6 L92.7,465.2 L86.5,458.9 L89.2,455.2 L82.6,450.5 Z" fill="none" stroke="#fff" stroke-width="1.1"/>
<path d="M82.6,447.2 Q87,444 90.6,443.5 Q96,441 101.2,440.3 Q106,439.6 110.7,439.8 Q113,440.2 114.9,440.9 Q118,441.6 120.2,443.5 Q121.8,445.5 121.3,447.8 Q120.5,451 118.1,452.5 Q116,453.5 113.9,453.6 Q114.2,457 113.9,459.9 Q114,464 113.3,467.3 Q111.5,472 109.6,475.8 L105.9,480 L99,472.6 L92.7,465.2 L86.5,458.9 L89.2,455.2 L82.6,450.5 Z" fill="none" stroke="#fff" stroke-opacity="0.8" stroke-width="0.45" vector-effect="non-scaling-stroke" transform="translate(101 458) scale(0.82) translate(-101 -458)" clip-path="url(#cp3)"/>
<path d="M82.6,447.2 Q87,444 90.6,443.5 Q96,441 101.2,440.3 Q106,439.6 110.7,439.8 Q113,440.2 114.9,440.9 Q118,441.6 120.2,443.5 Q121.8,445.5 121.3,447.8 Q120.5,451 118.1,452.5 Q116,453.5 113.9,453.6 Q114.2,457 113.9,459.9 Q114,464 113.3,467.3 Q111.5,472 109.6,475.8 L105.9,480 L99,472.6 L92.7,465.2 L86.5,458.9 L89.2,455.2 L82.6,450.5 Z" fill="none" stroke="#fff" stroke-opacity="0.8" stroke-width="0.45" vector-effect="non-scaling-stroke" transform="translate(101 458) scale(0.64) translate(-101 -458)" clip-path="url(#cp3)"/>
<ellipse cx="100.3" cy="447.1" rx="2.0" ry="1.0" fill="#bbb"/>
<ellipse cx="105" cy="461" rx="1.0" ry="1.0" fill="#999"/>
<ellipse cx="117" cy="447.2" rx="3.6" ry="4.2" fill="none" stroke="#fff" stroke-width="0.8"/>
<path d="M112.6,441 Q112,447 113.6,453.4" fill="none" stroke="#fff" stroke-width="0.7"/>
<rect x="81.20" y="417.00" width="63.80" height="65.50" fill="none" stroke="#111" stroke-width="1.3"/>
<rect x="112.30" y="440.90" width="11.60" height="12.70" rx="0.5" fill="none" stroke="#444" stroke-width="0.75"/>
<text x="120.80" y="432.10" font-size="5.0" text-anchor="start" fill="#111" stroke="#111" stroke-width="0.18" font-weight="bold" font-family="Liberation Serif" textLength="9.2" lengthAdjust="spacingAndGlyphs">GCB</text>
<text x="120.80" y="437.80" font-size="5.0" text-anchor="start" fill="#111" stroke="#111" stroke-width="0.18" font-weight="bold" font-family="Liberation Serif" textLength="12.5" lengthAdjust="spacingAndGlyphs">2,85%</text>
<text x="186.70" y="420.50" font-size="6.6" text-anchor="end" fill="#1a1a1a" stroke="#1a1a1a" stroke-width="0.2" textLength="9.6" lengthAdjust="spacingAndGlyphs">10<tspan font-size="4.09" dx="0.25" dy="-2.90" stroke-width="0.06">6</tspan></text>
<text x="186.70" y="433.34" font-size="6.6" text-anchor="end" fill="#1a1a1a" stroke="#1a1a1a" stroke-width="0.2" textLength="9.6" lengthAdjust="spacingAndGlyphs">10<tspan font-size="4.09" dx="0.25" dy="-2.90" stroke-width="0.06">5</tspan></text>
<text x="186.70" y="446.18" font-size="6.6" text-anchor="end" fill="#1a1a1a" stroke="#1a1a1a" stroke-width="0.2" textLength="9.6" lengthAdjust="spacingAndGlyphs">10<tspan font-size="4.09" dx="0.25" dy="-2.90" stroke-width="0.06">4</tspan></text>
<text x="186.70" y="459.02" font-size="6.6" text-anchor="end" fill="#1a1a1a" stroke="#1a1a1a" stroke-width="0.2" textLength="9.6" lengthAdjust="spacingAndGlyphs">10<tspan font-size="4.09" dx="0.25" dy="-2.90" stroke-width="0.06">3</tspan></text>
<text x="186.70" y="471.86" font-size="6.6" text-anchor="end" fill="#1a1a1a" stroke="#1a1a1a" stroke-width="0.2" textLength="9.6" lengthAdjust="spacingAndGlyphs">10<tspan font-size="4.09" dx="0.25" dy="-2.90" stroke-width="0.06">2</tspan></text>
<text x="186.70" y="484.70" font-size="6.6" text-anchor="end" fill="#1a1a1a" stroke="#1a1a1a" stroke-width="0.2" textLength="9.6" lengthAdjust="spacingAndGlyphs">10<tspan font-size="4.09" dx="0.25" dy="-2.90" stroke-width="0.06">1</tspan></text>
<text x="192.30" y="495.50" font-size="7.0" text-anchor="middle" fill="#1a1a1a" stroke="#1a1a1a" stroke-width="0.2" textLength="8.6" lengthAdjust="spacingAndGlyphs">10<tspan font-size="4.34" dx="0.25" dy="-3.08" stroke-width="0.06">1</tspan></text>
<text x="205.26" y="495.50" font-size="7.0" text-anchor="middle" fill="#1a1a1a" stroke="#1a1a1a" stroke-width="0.2" textLength="8.6" lengthAdjust="spacingAndGlyphs">10<tspan font-size="4.34" dx="0.25" dy="-3.08" stroke-width="0.06">2</tspan></text>
<text x="218.22" y="495.50" font-size="7.0" text-anchor="middle" fill="#1a1a1a" stroke="#1a1a1a" stroke-width="0.2" textLength="8.6" lengthAdjust="spacingAndGlyphs">10<tspan font-size="4.34" dx="0.25" dy="-3.08" stroke-width="0.06">3</tspan></text>
<text x="231.18" y="495.50" font-size="7.0" text-anchor="middle" fill="#1a1a1a" stroke="#1a1a1a" stroke-width="0.2" textLength="8.6" lengthAdjust="spacingAndGlyphs">10<tspan font-size="4.34" dx="0.25" dy="-3.08" stroke-width="0.06">4</tspan></text>
<text x="244.14" y="495.50" font-size="7.0" text-anchor="middle" fill="#1a1a1a" stroke="#1a1a1a" stroke-width="0.2" textLength="8.6" lengthAdjust="spacingAndGlyphs">10<tspan font-size="4.34" dx="0.25" dy="-3.08" stroke-width="0.06">5</tspan></text>
<text x="257.10" y="495.50" font-size="7.0" text-anchor="middle" fill="#1a1a1a" stroke="#1a1a1a" stroke-width="0.2" textLength="8.6" lengthAdjust="spacingAndGlyphs">10<tspan font-size="4.34" dx="0.25" dy="-3.08" stroke-width="0.06">6</tspan></text>
<line x1="191.70" y1="482.20" x2="191.70" y2="484.60" stroke="#111" stroke-width="0.5"/>
<line x1="195.60" y1="482.20" x2="195.60" y2="483.20" stroke="#111" stroke-width="0.5"/>
<line x1="197.88" y1="482.20" x2="197.88" y2="483.20" stroke="#111" stroke-width="0.5"/>
<line x1="199.50" y1="482.20" x2="199.50" y2="483.20" stroke="#111" stroke-width="0.5"/>
<line x1="200.76" y1="482.20" x2="200.76" y2="483.20" stroke="#111" stroke-width="0.5"/>
<line x1="201.78" y1="482.20" x2="201.78" y2="483.20" stroke="#111" stroke-width="0.5"/>
<line x1="202.65" y1="482.20" x2="202.65" y2="483.20" stroke="#111" stroke-width="0.5"/>
<line x1="203.40" y1="482.20" x2="203.40" y2="483.20" stroke="#111" stroke-width="0.5"/>
<line x1="204.07" y1="482.20" x2="204.07" y2="483.20" stroke="#111" stroke-width="0.5"/>
<line x1="204.66" y1="482.20" x2="204.66" y2="484.60" stroke="#111" stroke-width="0.5"/>
<line x1="208.56" y1="482.20" x2="208.56" y2="483.20" stroke="#111" stroke-width="0.5"/>
<line x1="210.84" y1="482.20" x2="210.84" y2="483.20" stroke="#111" stroke-width="0.5"/>
<line x1="212.46" y1="482.20" x2="212.46" y2="483.20" stroke="#111" stroke-width="0.5"/>
<line x1="213.72" y1="482.20" x2="213.72" y2="483.20" stroke="#111" stroke-width="0.5"/>
<line x1="214.74" y1="482.20" x2="214.74" y2="483.20" stroke="#111" stroke-width="0.5"/>
<line x1="215.61" y1="482.20" x2="215.61" y2="483.20" stroke="#111" stroke-width="0.5"/>
<line x1="216.36" y1="482.20" x2="216.36" y2="483.20" stroke="#111" stroke-width="0.5"/>
<line x1="217.03" y1="482.20" x2="217.03" y2="483.20" stroke="#111" stroke-width="0.5"/>
<line x1="217.62" y1="482.20" x2="217.62" y2="484.60" stroke="#111" stroke-width="0.5"/>
<line x1="221.52" y1="482.20" x2="221.52" y2="483.20" stroke="#111" stroke-width="0.5"/>
<line x1="223.80" y1="482.20" x2="223.80" y2="483.20" stroke="#111" stroke-width="0.5"/>
<line x1="225.42" y1="482.20" x2="225.42" y2="483.20" stroke="#111" stroke-width="0.5"/>
<line x1="226.68" y1="482.20" x2="226.68" y2="483.20" stroke="#111" stroke-width="0.5"/>
<line x1="227.70" y1="482.20" x2="227.70" y2="483.20" stroke="#111" stroke-width="0.5"/>
<line x1="228.57" y1="482.20" x2="228.57" y2="483.20" stroke="#111" stroke-width="0.5"/>
<line x1="229.32" y1="482.20" x2="229.32" y2="483.20" stroke="#111" stroke-width="0.5"/>
<line x1="229.99" y1="482.20" x2="229.99" y2="483.20" stroke="#111" stroke-width="0.5"/>
<line x1="230.58" y1="482.20" x2="230.58" y2="484.60" stroke="#111" stroke-width="0.5"/>
<line x1="234.48" y1="482.20" x2="234.48" y2="483.20" stroke="#111" stroke-width="0.5"/>
<line x1="236.76" y1="482.20" x2="236.76" y2="483.20" stroke="#111" stroke-width="0.5"/>
<line x1="238.38" y1="482.20" x2="238.38" y2="483.20" stroke="#111" stroke-width="0.5"/>
<line x1="239.64" y1="482.20" x2="239.64" y2="483.20" stroke="#111" stroke-width="0.5"/>
<line x1="240.66" y1="482.20" x2="240.66" y2="483.20" stroke="#111" stroke-width="0.5"/>
<line x1="241.53" y1="482.20" x2="241.53" y2="483.20" stroke="#111" stroke-width="0.5"/>
<line x1="242.28" y1="482.20" x2="242.28" y2="483.20" stroke="#111" stroke-width="0.5"/>
<line x1="242.95" y1="482.20" x2="242.95" y2="483.20" stroke="#111" stroke-width="0.5"/>
<line x1="243.54" y1="482.20" x2="243.54" y2="484.60" stroke="#111" stroke-width="0.5"/>
<line x1="247.44" y1="482.20" x2="247.44" y2="483.20" stroke="#111" stroke-width="0.5"/>
<line x1="249.72" y1="482.20" x2="249.72" y2="483.20" stroke="#111" stroke-width="0.5"/>
<line x1="251.34" y1="482.20" x2="251.34" y2="483.20" stroke="#111" stroke-width="0.5"/>
<line x1="252.60" y1="482.20" x2="252.60" y2="483.20" stroke="#111" stroke-width="0.5"/>
<line x1="253.62" y1="482.20" x2="253.62" y2="483.20" stroke="#111" stroke-width="0.5"/>
<line x1="254.49" y1="482.20" x2="254.49" y2="483.20" stroke="#111" stroke-width="0.5"/>
<line x1="255.24" y1="482.20" x2="255.24" y2="483.20" stroke="#111" stroke-width="0.5"/>
<line x1="255.91" y1="482.20" x2="255.91" y2="483.20" stroke="#111" stroke-width="0.5"/>
<line x1="256.50" y1="482.20" x2="256.50" y2="484.60" stroke="#111" stroke-width="0.5"/>
<line x1="189.30" y1="482.20" x2="191.70" y2="482.20" stroke="#111" stroke-width="0.5"/>
<line x1="190.70" y1="478.33" x2="191.70" y2="478.33" stroke="#111" stroke-width="0.5"/>
<line x1="190.70" y1="476.07" x2="191.70" y2="476.07" stroke="#111" stroke-width="0.5"/>
<line x1="190.70" y1="474.47" x2="191.70" y2="474.47" stroke="#111" stroke-width="0.5"/>
<line x1="190.70" y1="473.23" x2="191.70" y2="473.23" stroke="#111" stroke-width="0.5"/>
<line x1="190.70" y1="472.21" x2="191.70" y2="472.21" stroke="#111" stroke-width="0.5"/>
<line x1="190.70" y1="471.35" x2="191.70" y2="471.35" stroke="#111" stroke-width="0.5"/>
<line x1="190.70" y1="470.60" x2="191.70" y2="470.60" stroke="#111" stroke-width="0.5"/>
<line x1="190.70" y1="469.95" x2="191.70" y2="469.95" stroke="#111" stroke-width="0.5"/>
<line x1="189.30" y1="469.36" x2="191.70" y2="469.36" stroke="#111" stroke-width="0.5"/>
<line x1="190.70" y1="465.49" x2="191.70" y2="465.49" stroke="#111" stroke-width="0.5"/>
<line x1="190.70" y1="463.23" x2="191.70" y2="463.23" stroke="#111" stroke-width="0.5"/>
<line x1="190.70" y1="461.63" x2="191.70" y2="461.63" stroke="#111" stroke-width="0.5"/>
<line x1="190.70" y1="460.39" x2="191.70" y2="460.39" stroke="#111" stroke-width="0.5"/>
<line x1="190.70" y1="459.37" x2="191.70" y2="459.37" stroke="#111" stroke-width="0.5"/>
<line x1="190.70" y1="458.51" x2="191.70" y2="458.51" stroke="#111" stroke-width="0.5"/>
<line x1="190.70" y1="457.76" x2="191.70" y2="457.76" stroke="#111" stroke-width="0.5"/>
<line x1="190.70" y1="457.11" x2="191.70" y2="457.11" stroke="#111" stroke-width="0.5"/>
<line x1="189.30" y1="456.52" x2="191.70" y2="456.52" stroke="#111" stroke-width="0.5"/>
<line x1="190.70" y1="452.65" x2="191.70" y2="452.65" stroke="#111" stroke-width="0.5"/>
<line x1="190.70" y1="450.39" x2="191.70" y2="450.39" stroke="#111" stroke-width="0.5"/>
<line x1="190.70" y1="448.79" x2="191.70" y2="448.79" stroke="#111" stroke-width="0.5"/>
<line x1="190.70" y1="447.55" x2="191.70" y2="447.55" stroke="#111" stroke-width="0.5"/>
<line x1="190.70" y1="446.53" x2="191.70" y2="446.53" stroke="#111" stroke-width="0.5"/>
<line x1="190.70" y1="445.67" x2="191.70" y2="445.67" stroke="#111" stroke-width="0.5"/>
<line x1="190.70" y1="444.92" x2="191.70" y2="444.92" stroke="#111" stroke-width="0.5"/>
<line x1="190.70" y1="444.27" x2="191.70" y2="444.27" stroke="#111" stroke-width="0.5"/>
<line x1="189.30" y1="443.68" x2="191.70" y2="443.68" stroke="#111" stroke-width="0.5"/>
<line x1="190.70" y1="439.81" x2="191.70" y2="439.81" stroke="#111" stroke-width="0.5"/>
<line x1="190.70" y1="437.55" x2="191.70" y2="437.55" stroke="#111" stroke-width="0.5"/>
<line x1="190.70" y1="435.95" x2="191.70" y2="435.95" stroke="#111" stroke-width="0.5"/>
<line x1="190.70" y1="434.71" x2="191.70" y2="434.71" stroke="#111" stroke-width="0.5"/>
<line x1="190.70" y1="433.69" x2="191.70" y2="433.69" stroke="#111" stroke-width="0.5"/>
<line x1="190.70" y1="432.83" x2="191.70" y2="432.83" stroke="#111" stroke-width="0.5"/>
<line x1="190.70" y1="432.08" x2="191.70" y2="432.08" stroke="#111" stroke-width="0.5"/>
<line x1="190.70" y1="431.43" x2="191.70" y2="431.43" stroke="#111" stroke-width="0.5"/>
<line x1="189.30" y1="430.84" x2="191.70" y2="430.84" stroke="#111" stroke-width="0.5"/>
<line x1="190.70" y1="426.97" x2="191.70" y2="426.97" stroke="#111" stroke-width="0.5"/>
<line x1="190.70" y1="424.71" x2="191.70" y2="424.71" stroke="#111" stroke-width="0.5"/>
<line x1="190.70" y1="423.11" x2="191.70" y2="423.11" stroke="#111" stroke-width="0.5"/>
<line x1="190.70" y1="421.87" x2="191.70" y2="421.87" stroke="#111" stroke-width="0.5"/>
<line x1="190.70" y1="420.85" x2="191.70" y2="420.85" stroke="#111" stroke-width="0.5"/>
<line x1="190.70" y1="419.99" x2="191.70" y2="419.99" stroke="#111" stroke-width="0.5"/>
<line x1="190.70" y1="419.24" x2="191.70" y2="419.24" stroke="#111" stroke-width="0.5"/>
<line x1="190.70" y1="418.59" x2="191.70" y2="418.59" stroke="#111" stroke-width="0.5"/>
<line x1="189.30" y1="418.00" x2="191.70" y2="418.00" stroke="#111" stroke-width="0.5"/>
<path d="M226.1 463.0h.7v.7h-.7zM233.5 451.2h.7v.7h-.7zM232.9 449.5h.7v.7h-.7zM235.2 453.6h.7v.7h-.7zM249.4 445.7h.7v.7h-.7zM239.2 459.1h.7v.7h-.7zM248.3 446.6h.7v.7h-.7zM229.8 478.8h.7v.7h-.7zM228.1 453.6h.7v.7h-.7zM230.5 446.5h.7v.7h-.7zM245.0 476.2h.7v.7h-.7zM232.6 449.2h.7v.7h-.7zM221.8 466.0h.7v.7h-.7zM229.2 464.7h.7v.7h-.7zM212.2 453.1h.7v.7h-.7zM239.7 463.1h.7v.7h-.7zM208.1 461.7h.7v.7h-.7zM235.2 457.9h.7v.7h-.7zM230.9 452.9h.7v.7h-.7zM235.3 464.2h.7v.7h-.7zM205.4 458.0h.7v.7h-.7zM242.4 455.5h.7v.7h-.7zM245.0 447.1h.7v.7h-.7zM251.3 469.6h.7v.7h-.7zM247.0 477.0h.7v.7h-.7zM223.2 456.8h.7v.7h-.7zM238.3 470.7h.7v.7h-.7zM234.7 442.7h.7v.7h-.7zM245.0 456.2h.7v.7h-.7zM238.0 454.4h.7v.7h-.7zM233.0 441.8h.7v.7h-.7zM240.0 450.7h.7v.7h-.7zM218.0 463.1h.7v.7h-.7zM233.7 469.6h.7v.7h-.7zM241.4 443.7h.7v.7h-.7zM232.4 458.1h.7v.7h-.7zM234.8 445.6h.7v.7h-.7zM234.7 469.8h.7v.7h-.7zM245.2 475.5h.7v.7h-.7zM240.9 428.2h.7v.7h-.7zM231.6 451.7h.7v.7h-.7zM207.8 476.5h.7v.7h-.7zM242.2 458.1h.7v.7h-.7zM237.3 463.9h.7v.7h-.7zM232.0 474.5h.7v.7h-.7zM250.5 467.9h.7v.7h-.7zM229.0 461.1h.7v.7h-.7zM242.8 466.7h.7v.7h-.7zM227.8 469.5h.7v.7h-.7zM240.6 465.1h.7v.7h-.7zM230.2 457.8h.7v.7h-.7zM216.8 457.8h.7v.7h-.7zM230.0 454.6h.7v.7h-.7zM231.5 454.3h.7v.7h-.7zM234.8 459.3h.7v.7h-.7zM228.5 456.6h.7v.7h-.7zM233.2 464.0h.7v.7h-.7zM238.0 453.9h.7v.7h-.7zM226.5 438.7h.7v.7h-.7zM222.7 463.0h.7v.7h-.7zM225.7 477.2h.7v.7h-.7zM232.6 453.6h.7v.7h-.7zM232.6 451.7h.7v.7h-.7zM228.3 458.9h.7v.7h-.7zM220.9 459.7h.7v.7h-.7zM233.2 447.4h.7v.7h-.7zM243.3 462.4h.7v.7h-.7zM243.8 450.2h.7v.7h-.7zM222.8 444.1h.7v.7h-.7zM219.8 435.7h.7v.7h-.7zM248.1 452.5h.7v.7h-.7zM235.7 451.8h.7v.7h-.7zM232.7 476.8h.7v.7h-.7zM218.3 446.4h.7v.7h-.7zM235.2 447.4h.7v.7h-.7zM240.3 473.5h.7v.7h-.7zM242.1 467.0h.7v.7h-.7zM232.5 470.0h.7v.7h-.7zM226.8 444.0h.7v.7h-.7zM231.6 455.1h.7v.7h-.7zM245.1 446.4h.7v.7h-.7zM244.3 448.9h.7v.7h-.7zM222.6 438.0h.7v.7h-.7zM233.7 441.0h.7v.7h-.7zM235.9 458.7h.7v.7h-.7zM230.4 435.3h.7v.7h-.7zM229.3 463.4h.7v.7h-.7zM217.9 466.3h.7v.7h-.7zM234.2 451.7h.7v.7h-.7zM235.8 465.8h.7v.7h-.7zM233.8 448.9h.7v.7h-.7zM241.1 450.0h.7v.7h-.7zM237.3 469.6h.7v.7h-.7zM245.8 477.0h.7v.7h-.7zM243.2 459.8h.7v.7h-.7zM232.2 460.3h.7v.7h-.7zM239.9 448.3h.7v.7h-.7zM247.7 439.2h.7v.7h-.7zM243.1 442.9h.7v.7h-.7zM224.2 452.1h.7v.7h-.7zM231.4 442.1h.7v.7h-.7zM239.6 456.7h.7v.7h-.7zM246.1 446.0h.7v.7h-.7zM217.7 466.2h.7v.7h-.7zM232.0 469.6h.7v.7h-.7zM212.9 443.3h.7v.7h-.7zM222.9 435.5h.7v.7h-.7zM229.9 474.8h.7v.7h-.7zM248.3 441.9h.7v.7h-.7zM228.5 436.2h.7v.7h-.7zM226.4 446.6h.7v.7h-.7zM237.9 471.6h.7v.7h-.7zM241.4 460.7h.7v.7h-.7zM235.1 481.0h.7v.7h-.7zM240.4 476.6h.7v.7h-.7zM236.7 468.3h.7v.7h-.7zM238.6 456.9h.7v.7h-.7zM227.7 453.3h.7v.7h-.7zM234.1 453.5h.7v.7h-.7zM230.9 449.7h.7v.7h-.7zM241.8 455.2h.7v.7h-.7zM232.9 455.5h.7v.7h-.7zM245.8 451.7h.7v.7h-.7zM246.7 447.8h.7v.7h-.7zM247.8 465.3h.7v.7h-.7zM229.6 463.5h.7v.7h-.7zM244.3 446.8h.7v.7h-.7zM232.0 461.8h.7v.7h-.7zM232.1 454.6h.7v.7h-.7zM234.2 461.8h.7v.7h-.7zM241.0 475.6h.7v.7h-.7zM231.1 479.1h.7v.7h-.7zM232.9 440.8h.7v.7h-.7zM230.1 454.0h.7v.7h-.7zM243.7 434.1h.7v.7h-.7zM228.3 456.5h.7v.7h-.7zM239.9 462.7h.7v.7h-.7zM241.7 456.2h.7v.7h-.7zM231.9 472.4h.7v.7h-.7zM249.5 462.6h.7v.7h-.7zM235.4 447.9h.7v.7h-.7zM253.0 462.8h.7v.7h-.7zM239.6 439.0h.7v.7h-.7zM232.6 455.6h.7v.7h-.7zM247.8 455.8h.7v.7h-.7zM241.6 481.1h.7v.7h-.7zM223.5 448.2h.7v.7h-.7zM240.1 459.4h.7v.7h-.7zM234.4 456.1h.7v.7h-.7zM235.2 462.3h.7v.7h-.7zM229.7 454.8h.7v.7h-.7zM236.1 445.2h.7v.7h-.7zM238.0 432.0h.7v.7h-.7zM239.8 456.6h.7v.7h-.7zM223.5 474.1h.7v.7h-.7zM227.5 472.4h.7v.7h-.7zM233.5 477.2h.7v.7h-.7zM232.0 470.3h.7v.7h-.7zM231.2 435.8h.7v.7h-.7zM237.5 463.7h.7v.7h-.7zM237.6 477.9h.7v.7h-.7zM227.4 441.1h.7v.7h-.7zM236.3 449.8h.7v.7h-.7zM233.1 458.0h.7v.7h-.7zM226.7 471.0h.7v.7h-.7zM233.0 479.3h.7v.7h-.7zM236.3 470.6h.7v.7h-.7zM231.4 450.2h.7v.7h-.7zM229.3 447.6h.7v.7h-.7zM238.1 459.7h.7v.7h-.7zM224.4 439.8h.7v.7h-.7zM226.3 436.4h.7v.7h-.7zM226.1 440.0h.7v.7h-.7zM240.4 444.3h.7v.7h-.7zM228.8 456.6h.7v.7h-.7zM234.3 463.1h.7v.7h-.7zM240.9 465.7h.7v.7h-.7zM231.0 472.9h.7v.7h-.7zM237.4 449.6h.7v.7h-.7zM247.4 444.0h.7v.7h-.7zM238.3 473.0h.7v.7h-.7zM235.1 462.2h.7v.7h-.7zM235.1 466.0h.7v.7h-.7zM236.0 458.1h.7v.7h-.7zM240.3 435.5h.7v.7h-.7zM236.3 454.5h.7v.7h-.7zM251.6 461.5h.7v.7h-.7zM228.2 465.8h.7v.7h-.7zM230.6 443.9h.7v.7h-.7zM231.5 464.0h.7v.7h-.7zM244.7 470.5h.7v.7h-.7zM236.1 456.1h.7v.7h-.7zM235.8 472.4h.7v.7h-.7zM232.9 471.8h.7v.7h-.7zM227.0 457.9h.7v.7h-.7zM240.9 466.4h.7v.7h-.7zM235.8 451.9h.7v.7h-.7zM218.0 452.8h.7v.7h-.7zM226.5 453.3h.7v.7h-.7zM248.1 448.9h.7v.7h-.7zM241.6 457.8h.7v.7h-.7zM224.2 459.3h.7v.7h-.7zM240.7 443.9h.7v.7h-.7zM223.7 453.5h.7v.7h-.7zM240.5 450.9h.7v.7h-.7zM237.8 463.5h.7v.7h-.7zM234.2 463.4h.7v.7h-.7zM245.3 455.8h.7v.7h-.7zM236.9 445.4h.7v.7h-.7zM227.6 456.9h.7v.7h-.7zM241.3 450.1h.7v.7h-.7zM221.7 469.0h.7v.7h-.7zM255.1 427.5h.7v.7h-.7zM224.6 459.5h.7v.7h-.7zM238.4 446.8h.7v.7h-.7zM237.0 471.1h.7v.7h-.7zM231.6 466.7h.7v.7h-.7zM235.2 447.0h.7v.7h-.7zM228.6 450.8h.7v.7h-.7zM245.8 471.8h.7v.7h-.7zM236.2 439.5h.7v.7h-.7zM229.7 453.3h.7v.7h-.7zM217.0 457.8h.7v.7h-.7zM236.6 442.3h.7v.7h-.7zM230.3 452.6h.7v.7h-.7zM250.4 465.9h.7v.7h-.7zM240.8 459.1h.7v.7h-.7zM222.7 469.0h.7v.7h-.7zM228.1 435.2h.7v.7h-.7zM240.5 453.9h.7v.7h-.7zM234.0 464.1h.7v.7h-.7zM232.0 462.9h.7v.7h-.7zM245.4 454.2h.7v.7h-.7zM230.9 458.2h.7v.7h-.7zM239.7 453.3h.7v.7h-.7zM234.8 449.9h.7v.7h-.7zM233.4 464.5h.7v.7h-.7zM226.8 455.9h.7v.7h-.7zM221.2 449.7h.7v.7h-.7zM234.7 464.3h.7v.7h-.7zM224.9 456.8h.7v.7h-.7zM225.8 461.8h.7v.7h-.7zM236.3 463.3h.7v.7h-.7zM232.2 441.2h.7v.7h-.7zM229.1 442.2h.7v.7h-.7zM228.1 457.3h.7v.7h-.7zM243.5 450.4h.7v.7h-.7zM227.2 460.4h.7v.7h-.7zM220.5 470.0h.7v.7h-.7zM242.6 469.4h.7v.7h-.7zM233.1 466.7h.7v.7h-.7zM231.0 469.4h.7v.7h-.7zM228.3 448.4h.7v.7h-.7zM237.4 452.7h.7v.7h-.7zM239.9 447.9h.7v.7h-.7zM236.4 446.4h.7v.7h-.7zM224.6 443.5h.7v.7h-.7zM220.0 455.3h.7v.7h-.7zM248.2 452.7h.7v.7h-.7zM242.2 455.8h.7v.7h-.7zM243.5 436.3h.7v.7h-.7zM225.5 462.9h.7v.7h-.7zM239.7 455.4h.7v.7h-.7zM236.8 464.4h.7v.7h-.7zM231.0 469.8h.7v.7h-.7zM226.6 466.9h.7v.7h-.7zM242.0 460.4h.7v.7h-.7zM231.0 457.8h.7v.7h-.7zM214.6 461.0h.7v.7h-.7zM221.6 434.2h.7v.7h-.7zM240.7 447.2h.7v.7h-.7zM237.1 458.6h.7v.7h-.7zM218.6 447.4h.7v.7h-.7zM231.7 463.6h.7v.7h-.7zM234.6 443.1h.7v.7h-.7zM229.4 459.3h.7v.7h-.7zM222.9 452.8h.7v.7h-.7zM229.2 432.9h.7v.7h-.7zM249.1 468.4h.7v.7h-.7zM230.0 469.2h.7v.7h-.7zM224.9 476.1h.7v.7h-.7zM230.8 459.7h.7v.7h-.7zM229.0 459.1h.7v.7h-.7zM236.9 458.4h.7v.7h-.7zM226.8 467.0h.7v.7h-.7zM238.9 458.0h.7v.7h-.7zM243.2 449.3h.7v.7h-.7zM245.2 456.1h.7v.7h-.7zM247.2 452.8h.7v.7h-.7zM231.8 460.5h.7v.7h-.7zM243.6 475.0h.7v.7h-.7zM230.0 449.4h.7v.7h-.7zM240.7 472.7h.7v.7h-.7zM240.2 454.1h.7v.7h-.7zM245.1 457.7h.7v.7h-.7zM235.5 465.4h.7v.7h-.7zM229.1 431.3h.7v.7h-.7zM235.9 466.5h.7v.7h-.7zM237.8 464.4h.7v.7h-.7zM235.4 470.3h.7v.7h-.7zM235.0 475.6h.7v.7h-.7zM234.5 467.4h.7v.7h-.7zM229.2 461.6h.7v.7h-.7zM237.7 459.7h.7v.7h-.7zM247.5 458.5h.7v.7h-.7zM243.8 462.2h.7v.7h-.7zM243.5 447.4h.7v.7h-.7zM230.8 469.4h.7v.7h-.7zM226.9 462.7h.7v.7h-.7zM239.0 460.3h.7v.7h-.7zM237.8 464.4h.7v.7h-.7zM232.0 462.9h.7v.7h-.7zM229.5 452.7h.7v.7h-.7zM220.2 456.8h.7v.7h-.7zM219.2 458.4h.7v.7h-.7zM235.8 445.2h.7v.7h-.7zM234.6 461.4h.7v.7h-.7zM231.0 447.2h.7v.7h-.7zM233.0 462.9h.7v.7h-.7zM242.1 480.9h.7v.7h-.7zM216.8 462.1h.7v.7h-.7zM237.8 450.5h.7v.7h-.7zM235.0 474.2h.7v.7h-.7zM243.3 452.8h.7v.7h-.7zM213.9 471.7h.7v.7h-.7zM247.4 437.2h.7v.7h-.7zM232.3 449.8h.7v.7h-.7zM235.8 458.7h.7v.7h-.7zM244.0 451.0h.7v.7h-.7zM250.8 437.8h.7v.7h-.7zM233.2 465.5h.7v.7h-.7zM241.8 453.9h.7v.7h-.7zM217.3 460.5h.7v.7h-.7zM240.4 433.8h.7v.7h-.7zM229.8 464.6h.7v.7h-.7zM213.1 455.7h.7v.7h-.7zM220.2 442.1h.7v.7h-.7zM237.6 471.5h.7v.7h-.7zM244.2 450.2h.7v.7h-.7zM238.4 437.0h.7v.7h-.7zM221.1 464.5h.7v.7h-.7zM230.5 445.9h.7v.7h-.7zM217.7 455.2h.7v.7h-.7zM253.5 434.1h.7v.7h-.7zM224.9 471.3h.7v.7h-.7zM217.3 450.6h.7v.7h-.7zM234.6 471.4h.7v.7h-.7zM233.4 479.6h.7v.7h-.7zM233.7 456.7h.7v.7h-.7zM237.9 462.2h.7v.7h-.7zM220.9 446.8h.7v.7h-.7zM232.0 462.1h.7v.7h-.7zM223.3 449.5h.7v.7h-.7zM227.5 462.0h.7v.7h-.7zM230.3 465.2h.7v.7h-.7zM237.4 447.1h.7v.7h-.7zM231.4 443.3h.7v.7h-.7zM234.9 467.6h.7v.7h-.7zM225.4 437.0h.7v.7h-.7zM238.5 454.6h.7v.7h-.7zM233.8 463.5h.7v.7h-.7zM237.3 469.0h.7v.7h-.7zM230.0 431.8h.7v.7h-.7zM229.8 454.4h.7v.7h-.7zM230.4 462.7h.7v.7h-.7zM231.8 473.4h.7v.7h-.7zM228.5 457.9h.7v.7h-.7zM225.7 446.1h.7v.7h-.7zM230.7 467.1h.7v.7h-.7zM234.1 455.9h.7v.7h-.7zM221.2 433.3h.7v.7h-.7zM232.1 455.2h.7v.7h-.7zM249.4 462.4h.7v.7h-.7zM237.7 469.5h.7v.7h-.7zM226.2 443.3h.7v.7h-.7zM230.8 475.7h.7v.7h-.7zM242.7 451.0h.7v.7h-.7zM223.1 469.1h.7v.7h-.7zM243.6 444.9h.7v.7h-.7zM248.1 448.8h.7v.7h-.7zM240.6 455.5h.7v.7h-.7zM231.1 450.7h.7v.7h-.7zM240.1 465.4h.7v.7h-.7zM241.1 454.7h.7v.7h-.7zM249.1 455.7h.7v.7h-.7zM223.9 475.9h.7v.7h-.7zM235.2 458.7h.7v.7h-.7zM241.5 462.2h.7v.7h-.7zM217.4 465.7h.7v.7h-.7zM225.3 458.9h.7v.7h-.7zM232.5 461.2h.7v.7h-.7zM212.8 466.3h.7v.7h-.7zM254.5 453.1h.7v.7h-.7zM241.9 465.5h.7v.7h-.7zM236.6 452.0h.7v.7h-.7zM239.6 461.2h.7v.7h-.7zM246.8 467.9h.7v.7h-.7zM227.7 423.1h.7v.7h-.7zM247.3 463.8h.7v.7h-.7zM235.5 450.8h.7v.7h-.7zM234.9 453.6h.7v.7h-.7zM239.1 474.2h.7v.7h-.7zM238.6 469.3h.7v.7h-.7zM216.1 422.1h.7v.7h-.7zM204.0 421.4h.7v.7h-.7zM214.4 420.8h.7v.7h-.7zM212.1 421.9h.7v.7h-.7zM209.5 420.4h.7v.7h-.7zM203.7 427.9h.7v.7h-.7zM209.8 419.8h.7v.7h-.7zM226.9 424.1h.7v.7h-.7zM211.0 422.7h.7v.7h-.7zM216.6 422.7h.7v.7h-.7zM208.6 421.0h.7v.7h-.7zM222.3 421.5h.7v.7h-.7zM215.4 422.7h.7v.7h-.7zM204.0 421.7h.7v.7h-.7zM221.0 420.4h.7v.7h-.7zM221.9 427.0h.7v.7h-.7zM222.5 425.2h.7v.7h-.7zM217.1 422.1h.7v.7h-.7zM219.5 423.0h.7v.7h-.7zM203.9 423.2h.7v.7h-.7zM221.8 419.8h.7v.7h-.7zM206.8 419.5h.7v.7h-.7zM209.3 422.6h.7v.7h-.7zM220.1 421.1h.7v.7h-.7zM209.6 422.0h.7v.7h-.7zM215.3 431.5h.7v.7h-.7zM207.1 419.4h.7v.7h-.7zM204.9 420.2h.7v.7h-.7zM211.7 424.0h.7v.7h-.7zM198.5 423.7h.7v.7h-.7zM219.1 419.4h.7v.7h-.7zM208.6 421.6h.7v.7h-.7zM218.1 420.5h.7v.7h-.7zM212.8 421.1h.7v.7h-.7zM205.4 421.8h.7v.7h-.7zM218.6 421.2h.7v.7h-.7zM204.9 421.0h.7v.7h-.7zM213.1 421.9h.7v.7h-.7zM210.7 423.5h.7v.7h-.7zM222.6 423.5h.7v.7h-.7zM215.8 424.6h.7v.7h-.7zM213.7 420.5h.7v.7h-.7zM202.6 421.1h.7v.7h-.7zM216.4 426.4h.7v.7h-.7zM216.3 420.6h.7v.7h-.7zM220.3 419.5h.7v.7h-.7zM200.2 419.6h.7v.7h-.7zM218.7 424.0h.7v.7h-.7zM201.9 468.2h.7v.7h-.7zM204.7 466.3h.7v.7h-.7zM196.8 470.0h.7v.7h-.7zM207.6 463.6h.7v.7h-.7zM203.4 462.3h.7v.7h-.7zM194.9 469.6h.7v.7h-.7zM204.2 468.7h.7v.7h-.7zM203.0 462.5h.7v.7h-.7zM207.2 464.5h.7v.7h-.7zM204.9 463.3h.7v.7h-.7zM204.8 463.1h.7v.7h-.7zM198.3 463.2h.7v.7h-.7zM196.2 462.2h.7v.7h-.7zM210.3 467.5h.7v.7h-.7zM208.7 477.9h.7v.7h-.7zM199.2 466.7h.7v.7h-.7zM196.6 469.1h.7v.7h-.7zM203.2 468.0h.7v.7h-.7zM194.2 459.5h.7v.7h-.7zM199.7 473.2h.7v.7h-.7zM199.1 470.1h.7v.7h-.7zM202.5 478.0h.7v.7h-.7zM203.0 472.8h.7v.7h-.7zM198.1 473.6h.7v.7h-.7zM204.7 474.1h.7v.7h-.7zM200.4 476.2h.7v.7h-.7zM199.9 461.9h.7v.7h-.7zM218.2 473.8h.7v.7h-.7zM205.2 464.0h.7v.7h-.7zM198.4 477.8h.7v.7h-.7zM208.3 458.6h.7v.7h-.7zM204.1 465.8h.7v.7h-.7zM197.9 463.2h.7v.7h-.7zM212.4 466.6h.7v.7h-.7zM199.3 471.1h.7v.7h-.7zM197.2 467.7h.7v.7h-.7zM195.1 464.7h.7v.7h-.7zM202.1 479.2h.7v.7h-.7zM203.7 476.9h.7v.7h-.7zM193.6 470.8h.7v.7h-.7zM202.7 476.1h.7v.7h-.7zM195.6 466.4h.7v.7h-.7zM196.3 477.9h.7v.7h-.7zM207.5 464.2h.7v.7h-.7zM198.9 470.0h.7v.7h-.7zM193.6 467.1h.7v.7h-.7zM205.9 474.8h.7v.7h-.7zM195.1 462.4h.7v.7h-.7zM199.1 455.3h.7v.7h-.7zM202.1 469.1h.7v.7h-.7zM195.3 465.7h.7v.7h-.7zM193.8 479.9h.7v.7h-.7zM193.2 474.7h.7v.7h-.7zM201.3 480.6h.7v.7h-.7zM199.5 468.1h.7v.7h-.7zM200.4 451.8h.7v.7h-.7zM216.7 466.2h.7v.7h-.7zM197.7 458.4h.7v.7h-.7zM194.6 471.9h.7v.7h-.7zM207.1 476.2h.7v.7h-.7zM197.1 453.1h.7v.7h-.7zM202.7 473.0h.7v.7h-.7zM197.6 464.4h.7v.7h-.7zM212.1 454.5h.7v.7h-.7zM196.3 462.9h.7v.7h-.7zM194.3 478.8h.7v.7h-.7zM201.7 454.8h.7v.7h-.7zM198.8 472.0h.7v.7h-.7zM195.4 465.7h.7v.7h-.7zM204.9 466.8h.7v.7h-.7zM205.0 463.1h.7v.7h-.7zM203.3 479.0h.7v.7h-.7zM197.6 465.2h.7v.7h-.7zM198.7 472.1h.7v.7h-.7zM195.8 480.3h.7v.7h-.7zM197.7 461.7h.7v.7h-.7zM200.8 466.1h.7v.7h-.7zM200.2 470.1h.7v.7h-.7zM208.3 464.7h.7v.7h-.7zM211.5 445.0h.7v.7h-.7zM212.6 478.5h.7v.7h-.7zM210.8 469.8h.7v.7h-.7zM201.8 459.5h.7v.7h-.7zM209.2 458.2h.7v.7h-.7zM194.3 468.1h.7v.7h-.7zM201.5 471.0h.7v.7h-.7zM203.3 478.2h.7v.7h-.7zM205.2 471.7h.7v.7h-.7zM198.0 463.5h.7v.7h-.7zM196.3 467.3h.7v.7h-.7zM203.6 463.8h.7v.7h-.7zM214.2 459.6h.7v.7h-.7zM205.6 466.4h.7v.7h-.7zM238.6 473.3h.7v.7h-.7zM253.6 473.7h.7v.7h-.7zM244.8 475.6h.7v.7h-.7zM246.6 477.8h.7v.7h-.7zM254.7 471.6h.7v.7h-.7zM251.3 475.4h.7v.7h-.7zM237.3 476.3h.7v.7h-.7zM251.5 471.4h.7v.7h-.7zM252.9 474.8h.7v.7h-.7zM236.6 473.2h.7v.7h-.7zM221.0 476.6h.7v.7h-.7zM228.0 472.4h.7v.7h-.7zM231.8 476.2h.7v.7h-.7zM246.3 475.3h.7v.7h-.7zM241.5 477.0h.7v.7h-.7zM254.2 477.8h.7v.7h-.7zM253.9 474.8h.7v.7h-.7zM243.0 472.0h.7v.7h-.7zM245.2 471.0h.7v.7h-.7zM244.1 472.1h.7v.7h-.7zM236.7 480.8h.7v.7h-.7zM241.1 478.8h.7v.7h-.7zM237.7 466.3h.7v.7h-.7zM253.0 474.2h.7v.7h-.7zM234.0 479.5h.7v.7h-.7zM229.7 471.6h.7v.7h-.7zM250.1 471.8h.7v.7h-.7zM250.0 473.6h.7v.7h-.7zM237.9 475.4h.7v.7h-.7zM235.4 480.1h.7v.7h-.7zM249.7 475.4h.7v.7h-.7zM245.3 477.6h.7v.7h-.7zM254.9 467.6h.7v.7h-.7zM249.0 479.4h.7v.7h-.7zM237.0 475.1h.7v.7h-.7zM236.7 480.9h.7v.7h-.7zM229.6 477.9h.7v.7h-.7zM251.3 477.8h.7v.7h-.7zM235.5 472.9h.7v.7h-.7zM220.8 470.2h.7v.7h-.7zM249.7 470.6h.7v.7h-.7zM225.1 473.9h.7v.7h-.7zM226.5 477.2h.7v.7h-.7zM232.0 479.6h.7v.7h-.7zM238.8 468.4h.7v.7h-.7zM232.9 472.0h.7v.7h-.7zM232.3 480.9h.7v.7h-.7zM230.8 476.8h.7v.7h-.7zM234.6 477.9h.7v.7h-.7zM227.0 467.7h.7v.7h-.7zM227.4 473.6h.7v.7h-.7zM235.3 470.7h.7v.7h-.7zM248.5 475.3h.7v.7h-.7zM227.4 474.1h.7v.7h-.7zM251.8 471.7h.7v.7h-.7zM235.2 471.2h.7v.7h-.7zM241.3 472.5h.7v.7h-.7zM247.8 471.2h.7v.7h-.7zM226.8 477.2h.7v.7h-.7zM211.4 470.6h.7v.7h-.7zM242.4 476.2h.7v.7h-.7zM234.7 473.0h.7v.7h-.7zM232.6 474.2h.7v.7h-.7zM235.8 477.7h.7v.7h-.7zM239.9 477.7h.7v.7h-.7zM254.5 473.8h.7v.7h-.7zM237.3 476.9h.7v.7h-.7zM255.0 480.7h.7v.7h-.7zM215.3 470.4h.7v.7h-.7zM231.0 477.0h.7v.7h-.7zM251.8 475.3h.7v.7h-.7zM235.3 463.7h.7v.7h-.7zM232.4 472.9h.7v.7h-.7zM239.5 478.6h.7v.7h-.7zM246.0 477.5h.7v.7h-.7zM250.6 475.3h.7v.7h-.7zM234.7 474.9h.7v.7h-.7zM237.9 471.8h.7v.7h-.7zM239.8 472.0h.7v.7h-.7zM245.6 472.0h.7v.7h-.7zM244.3 476.6h.7v.7h-.7zM241.4 477.6h.7v.7h-.7zM233.6 478.5h.7v.7h-.7zM240.1 473.0h.7v.7h-.7zM255.5 480.3h.7v.7h-.7zM237.4 477.7h.7v.7h-.7zM249.0 474.3h.7v.7h-.7zM237.6 469.6h.7v.7h-.7zM242.2 479.2h.7v.7h-.7zM236.4 478.2h.7v.7h-.7zM241.1 472.9h.7v.7h-.7zM228.9 480.3h.7v.7h-.7zM230.2 470.2h.7v.7h-.7zM242.2 478.2h.7v.7h-.7zM253.5 463.7h.7v.7h-.7zM241.1 476.9h.7v.7h-.7zM236.7 473.7h.7v.7h-.7zM249.4 466.9h.7v.7h-.7zM238.9 477.7h.7v.7h-.7zM225.1 474.3h.7v.7h-.7zM253.7 476.8h.7v.7h-.7zM246.3 478.4h.7v.7h-.7zM241.9 476.8h.7v.7h-.7zM232.6 474.1h.7v.7h-.7zM238.4 469.1h.7v.7h-.7zM235.1 471.4h.7v.7h-.7zM228.9 476.2h.7v.7h-.7z" fill="#333" fill-opacity="0.45"/>
<defs><clipPath id="cp4"><path d="M208,420.6 Q212,421 214,424 Q219,430 222,436 Q226,442 228.6,446.3 Q225,456 219,466 Q214,474 210.2,479.2 Q205,471 200,461 Q196.5,454 196.9,449.8 Q200,438 204,428 Q206,422 208,420.6 Z"/></clipPath><radialGradient id="rg4_0" cx="210.2" cy="451" r="1" gradientUnits="userSpaceOnUse" gradientTransform="translate(210.2 451) scale(12 22) translate(-210.2 -451)"><stop offset="0" stop-color="#3a3a3a"/><stop offset="0.45" stop-color="#606060"/><stop offset="1" stop-color="#9a9a9a" stop-opacity="0"/></radialGradient></defs>
<path d="M208,420.6 Q212,421 214,424 Q219,430 222,436 Q226,442 228.6,446.3 Q225,456 219,466 Q214,474 210.2,479.2 Q205,471 200,461 Q196.5,454 196.9,449.8 Q200,438 204,428 Q206,422 208,420.6 Z" fill="none" stroke="#7a7a7a" stroke-width="4.5" stroke-opacity="0.55" filter="url(#blur1)"/>
<path d="M208,420.6 Q212,421 214,424 Q219,430 222,436 Q226,442 228.6,446.3 Q225,456 219,466 Q214,474 210.2,479.2 Q205,471 200,461 Q196.5,454 196.9,449.8 Q200,438 204,428 Q206,422 208,420.6 Z" fill="none" stroke="#444" stroke-width="1.4" stroke-opacity="0.8" filter="url(#blur05)"/>
<g clip-path="url(#cp4)"><path d="M208,420.6 Q212,421 214,424 Q219,430 222,436 Q226,442 228.6,446.3 Q225,456 219,466 Q214,474 210.2,479.2 Q205,471 200,461 Q196.5,454 196.9,449.8 Q200,438 204,428 Q206,422 208,420.6 Z" fill="#a0a0a0"/>
<ellipse cx="210.2" cy="451" rx="12" ry="22" fill="url(#rg4_0)"/>
</g>
<path d="M208,420.6 Q212,421 214,424 Q219,430 222,436 Q226,442 228.6,446.3 Q225,456 219,466 Q214,474 210.2,479.2 Q205,471 200,461 Q196.5,454 196.9,449.8 Q200,438 204,428 Q206,422 208,420.6 Z" fill="none" stroke="#fff" stroke-width="1.1"/>
<path d="M208,420.6 Q212,421 214,424 Q219,430 222,436 Q226,442 228.6,446.3 Q225,456 219,466 Q214,474 210.2,479.2 Q205,471 200,461 Q196.5,454 196.9,449.8 Q200,438 204,428 Q206,422 208,420.6 Z" fill="none" stroke="#fff" stroke-opacity="0.8" stroke-width="0.45" vector-effect="non-scaling-stroke" transform="translate(211 450) scale(0.86) translate(-211 -450)" clip-path="url(#cp4)"/>
<path d="M208,420.6 Q212,421 214,424 Q219,430 222,436 Q226,442 228.6,446.3 Q225,456 219,466 Q214,474 210.2,479.2 Q205,471 200,461 Q196.5,454 196.9,449.8 Q200,438 204,428 Q206,422 208,420.6 Z" fill="none" stroke="#fff" stroke-opacity="0.8" stroke-width="0.45" vector-effect="non-scaling-stroke" transform="translate(211 450) scale(0.72) translate(-211 -450)" clip-path="url(#cp4)"/>
<path d="M208,420.6 Q212,421 214,424 Q219,430 222,436 Q226,442 228.6,446.3 Q225,456 219,466 Q214,474 210.2,479.2 Q205,471 200,461 Q196.5,454 196.9,449.8 Q200,438 204,428 Q206,422 208,420.6 Z" fill="none" stroke="#fff" stroke-opacity="0.8" stroke-width="0.45" vector-effect="non-scaling-stroke" transform="translate(211 450) scale(0.58) translate(-211 -450)" clip-path="url(#cp4)"/>
<path d="M210.4,437 L210.2,466" stroke="#888" stroke-width="0.7"/>
<path d="M192.2,481.0 L256.3,481.0" stroke="#111" stroke-width="1.6" filter="url(#blur05)"/>
<ellipse cx="207" cy="480.9" rx="14" ry="1.3" fill="#333" filter="url(#blur05)"/>
<ellipse cx="243" cy="480.9" rx="8" ry="1.0" fill="#444" filter="url(#blur05)"/>
<ellipse cx="226.8" cy="431" rx="3.4" ry="8.8" fill="#a0a0a0" filter="url(#blur05)"/>
<ellipse cx="226.4" cy="431" rx="0.8" ry="6.5" fill="#555" filter="url(#blur05)"/>
<path d="M222.6,421 L223,442" stroke="#fff" stroke-width="0.6" stroke-dasharray="0.8 0.6"/>
<rect x="191.70" y="418.00" width="64.80" height="64.20" fill="none" stroke="#111" stroke-width="1.3"/>
<rect x="222.30" y="420.30" width="10.40" height="22.00" rx="0.5" fill="none" stroke="#444" stroke-width="0.75"/>
<text x="233.80" y="427.70" font-size="5.0" text-anchor="start" fill="#111" stroke="#111" stroke-width="0.18" font-weight="bold" font-family="Liberation Serif" textLength="9.6" lengthAdjust="spacingAndGlyphs">GCB</text>
<text x="233.80" y="433.50" font-size="5.0" text-anchor="start" fill="#111" stroke="#111" stroke-width="0.18" font-weight="bold" font-family="Liberation Serif" textLength="13.0" lengthAdjust="spacingAndGlyphs">4,37%</text>
<line x1="62.30" y1="481.62" x2="62.30" y2="499.80" stroke="#111" stroke-width="1.0"/>
<path d="M60.48,482.66 L62.30,478.50 L64.12,482.66 Z" fill="#111"/>
<line x1="61.80" y1="499.80" x2="81.48" y2="499.80" stroke="#111" stroke-width="1.0"/>
<path d="M80.44,497.98 L84.60,499.80 L80.44,501.62 Z" fill="#111"/>
<text x="57.80" y="505.50" font-size="7.4" text-anchor="start" fill="#222" stroke="#222" stroke-width="0.12" textLength="35" lengthAdjust="spacingAndGlyphs" transform="rotate(-90 57.80 505.50)">PerCP-B220</text>
<text x="60.30" y="509.20" font-size="7.4" text-anchor="start" fill="#222" stroke="#222" stroke-width="0.12" textLength="26.8" lengthAdjust="spacingAndGlyphs">PE-CD95</text>
<line x1="172.30" y1="481.62" x2="172.30" y2="499.80" stroke="#111" stroke-width="1.0"/>
<path d="M170.48,482.66 L172.30,478.50 L174.12,482.66 Z" fill="#111"/>
<line x1="171.80" y1="499.80" x2="191.48" y2="499.80" stroke="#111" stroke-width="1.0"/>
<path d="M190.44,497.98 L194.60,499.80 L190.44,501.62 Z" fill="#111"/>
<text x="167.50" y="503.40" font-size="7.4" text-anchor="start" fill="#222" stroke="#222" stroke-width="0.12" textLength="28.5" lengthAdjust="spacingAndGlyphs" transform="rotate(-90 167.50 503.40)">A647-GL7</text>
<text x="170.30" y="509.20" font-size="7.4" text-anchor="start" fill="#222" stroke="#222" stroke-width="0.12" textLength="26.8" lengthAdjust="spacingAndGlyphs">PE-CD95</text>
<line x1="282.70" y1="421.14" x2="282.70" y2="499.00" stroke="#111" stroke-width="1.0"/>
<path d="M280.46,422.42 L282.70,417.30 L284.94,422.42 Z" fill="#111"/>
<line x1="282.20" y1="499.00" x2="438.56" y2="499.00" stroke="#111" stroke-width="1.0"/>
<path d="M437.28,496.76 L442.40,499.00 L437.28,501.24 Z" fill="#111"/>
<text x="277.70" y="497.70" font-size="9.0" text-anchor="start" fill="#1a1a1a" stroke="#1a1a1a" stroke-width="0.12" textLength="18" lengthAdjust="spacingAndGlyphs" transform="rotate(-90 277.70 497.70)">Count</text>
<text x="288.10" y="509.60" font-size="8.2" text-anchor="start" fill="#1a1a1a" stroke="#1a1a1a" stroke-width="0.12" textLength="11.9" lengthAdjust="spacingAndGlyphs">GFP</text>
<text x="292.30" y="484.70" font-size="6.2" text-anchor="end" fill="#1a1a1a" stroke="#1a1a1a" stroke-width="0.12">0</text>
<line x1="296.10" y1="482.50" x2="298.30" y2="482.50" stroke="#111" stroke-width="0.6"/>
<text x="299.30" y="495.80" font-size="6.6" text-anchor="middle" fill="#1a1a1a" stroke="#1a1a1a" stroke-width="0.2" textLength="8.4" lengthAdjust="spacingAndGlyphs">10<tspan font-size="4.09" dx="0.25" dy="-2.90" stroke-width="0.06">1</tspan></text>
<text x="311.64" y="495.80" font-size="6.6" text-anchor="middle" fill="#1a1a1a" stroke="#1a1a1a" stroke-width="0.2" textLength="8.4" lengthAdjust="spacingAndGlyphs">10<tspan font-size="4.09" dx="0.25" dy="-2.90" stroke-width="0.06">2</tspan></text>
<text x="323.98" y="495.80" font-size="6.6" text-anchor="middle" fill="#1a1a1a" stroke="#1a1a1a" stroke-width="0.2" textLength="8.4" lengthAdjust="spacingAndGlyphs">10<tspan font-size="4.09" dx="0.25" dy="-2.90" stroke-width="0.06">3</tspan></text>
<text x="336.32" y="495.80" font-size="6.6" text-anchor="middle" fill="#1a1a1a" stroke="#1a1a1a" stroke-width="0.2" textLength="8.4" lengthAdjust="spacingAndGlyphs">10<tspan font-size="4.09" dx="0.25" dy="-2.90" stroke-width="0.06">4</tspan></text>
<text x="348.66" y="495.80" font-size="6.6" text-anchor="middle" fill="#1a1a1a" stroke="#1a1a1a" stroke-width="0.2" textLength="8.4" lengthAdjust="spacingAndGlyphs">10<tspan font-size="4.09" dx="0.25" dy="-2.90" stroke-width="0.06">5</tspan></text>
<text x="361.00" y="495.80" font-size="6.6" text-anchor="middle" fill="#1a1a1a" stroke="#1a1a1a" stroke-width="0.2" textLength="8.4" lengthAdjust="spacingAndGlyphs">10<tspan font-size="4.09" dx="0.25" dy="-2.90" stroke-width="0.06">6</tspan></text>
<line x1="298.30" y1="482.50" x2="298.30" y2="484.70" stroke="#111" stroke-width="0.5"/>
<line x1="302.01" y1="482.50" x2="302.01" y2="483.50" stroke="#111" stroke-width="0.5"/>
<line x1="304.19" y1="482.50" x2="304.19" y2="483.50" stroke="#111" stroke-width="0.5"/>
<line x1="305.73" y1="482.50" x2="305.73" y2="483.50" stroke="#111" stroke-width="0.5"/>
<line x1="306.93" y1="482.50" x2="306.93" y2="483.50" stroke="#111" stroke-width="0.5"/>
<line x1="307.90" y1="482.50" x2="307.90" y2="483.50" stroke="#111" stroke-width="0.5"/>
<line x1="308.73" y1="482.50" x2="308.73" y2="483.50" stroke="#111" stroke-width="0.5"/>
<line x1="309.44" y1="482.50" x2="309.44" y2="483.50" stroke="#111" stroke-width="0.5"/>
<line x1="310.08" y1="482.50" x2="310.08" y2="483.50" stroke="#111" stroke-width="0.5"/>
<line x1="310.64" y1="482.50" x2="310.64" y2="484.70" stroke="#111" stroke-width="0.5"/>
<line x1="314.35" y1="482.50" x2="314.35" y2="483.50" stroke="#111" stroke-width="0.5"/>
<line x1="316.53" y1="482.50" x2="316.53" y2="483.50" stroke="#111" stroke-width="0.5"/>
<line x1="318.07" y1="482.50" x2="318.07" y2="483.50" stroke="#111" stroke-width="0.5"/>
<line x1="319.27" y1="482.50" x2="319.27" y2="483.50" stroke="#111" stroke-width="0.5"/>
<line x1="320.24" y1="482.50" x2="320.24" y2="483.50" stroke="#111" stroke-width="0.5"/>
<line x1="321.07" y1="482.50" x2="321.07" y2="483.50" stroke="#111" stroke-width="0.5"/>
<line x1="321.78" y1="482.50" x2="321.78" y2="483.50" stroke="#111" stroke-width="0.5"/>
<line x1="322.42" y1="482.50" x2="322.42" y2="483.50" stroke="#111" stroke-width="0.5"/>
<line x1="322.98" y1="482.50" x2="322.98" y2="484.70" stroke="#111" stroke-width="0.5"/>
<line x1="326.69" y1="482.50" x2="326.69" y2="483.50" stroke="#111" stroke-width="0.5"/>
<line x1="328.87" y1="482.50" x2="328.87" y2="483.50" stroke="#111" stroke-width="0.5"/>
<line x1="330.41" y1="482.50" x2="330.41" y2="483.50" stroke="#111" stroke-width="0.5"/>
<line x1="331.61" y1="482.50" x2="331.61" y2="483.50" stroke="#111" stroke-width="0.5"/>
<line x1="332.58" y1="482.50" x2="332.58" y2="483.50" stroke="#111" stroke-width="0.5"/>
<line x1="333.41" y1="482.50" x2="333.41" y2="483.50" stroke="#111" stroke-width="0.5"/>
<line x1="334.12" y1="482.50" x2="334.12" y2="483.50" stroke="#111" stroke-width="0.5"/>
<line x1="334.76" y1="482.50" x2="334.76" y2="483.50" stroke="#111" stroke-width="0.5"/>
<line x1="335.32" y1="482.50" x2="335.32" y2="484.70" stroke="#111" stroke-width="0.5"/>
<line x1="339.03" y1="482.50" x2="339.03" y2="483.50" stroke="#111" stroke-width="0.5"/>
<line x1="341.21" y1="482.50" x2="341.21" y2="483.50" stroke="#111" stroke-width="0.5"/>
<line x1="342.75" y1="482.50" x2="342.75" y2="483.50" stroke="#111" stroke-width="0.5"/>
<line x1="343.95" y1="482.50" x2="343.95" y2="483.50" stroke="#111" stroke-width="0.5"/>
<line x1="344.92" y1="482.50" x2="344.92" y2="483.50" stroke="#111" stroke-width="0.5"/>
<line x1="345.75" y1="482.50" x2="345.75" y2="483.50" stroke="#111" stroke-width="0.5"/>
<line x1="346.46" y1="482.50" x2="346.46" y2="483.50" stroke="#111" stroke-width="0.5"/>
<line x1="347.10" y1="482.50" x2="347.10" y2="483.50" stroke="#111" stroke-width="0.5"/>
<line x1="347.66" y1="482.50" x2="347.66" y2="484.70" stroke="#111" stroke-width="0.5"/>
<line x1="351.37" y1="482.50" x2="351.37" y2="483.50" stroke="#111" stroke-width="0.5"/>
<line x1="353.55" y1="482.50" x2="353.55" y2="483.50" stroke="#111" stroke-width="0.5"/>
<line x1="355.09" y1="482.50" x2="355.09" y2="483.50" stroke="#111" stroke-width="0.5"/>
<line x1="356.29" y1="482.50" x2="356.29" y2="483.50" stroke="#111" stroke-width="0.5"/>
<line x1="357.26" y1="482.50" x2="357.26" y2="483.50" stroke="#111" stroke-width="0.5"/>
<line x1="358.09" y1="482.50" x2="358.09" y2="483.50" stroke="#111" stroke-width="0.5"/>
<line x1="358.80" y1="482.50" x2="358.80" y2="483.50" stroke="#111" stroke-width="0.5"/>
<line x1="359.44" y1="482.50" x2="359.44" y2="483.50" stroke="#111" stroke-width="0.5"/>
<line x1="360.00" y1="482.50" x2="360.00" y2="484.70" stroke="#111" stroke-width="0.5"/>
<path d="M305.00,482.50 C305.67,482.25 307.67,481.67 309.00,481.00 C310.33,480.33 311.83,479.42 313.00,478.50 C314.17,477.58 315.17,476.28 316.00,475.50 C316.83,474.72 317.25,473.88 318.00,473.80 C318.75,473.72 319.75,475.47 320.50,475.00 C321.25,474.53 321.92,474.33 322.50,471.00 C323.08,467.67 323.53,461.33 324.00,455.00 C324.47,448.67 324.93,437.92 325.30,433.00 C325.67,428.08 325.87,425.67 326.20,425.50 C326.53,425.33 326.92,427.08 327.30,432.00 C327.68,436.92 328.05,448.00 328.50,455.00 C328.95,462.00 329.42,470.08 330.00,474.00 C330.58,477.92 331.33,477.92 332.00,478.50 C332.67,479.08 333.42,478.05 334.00,477.50 C334.58,476.95 335.00,475.03 335.50,475.20 C336.00,475.37 336.50,477.28 337.00,478.50 C337.50,479.72 338.25,481.83 338.50,482.50 Z" fill="#7fc061" fill-opacity="0.9" stroke="#5aa63c" stroke-width="0.7"/>
<path d="M298.80,480.00 C299.33,479.58 300.97,478.50 302.00,477.50 C303.03,476.50 304.08,475.42 305.00,474.00 C305.92,472.58 306.75,471.00 307.50,469.00 C308.25,467.00 308.87,464.33 309.50,462.00 C310.13,459.67 310.72,457.83 311.30,455.00 C311.88,452.17 312.47,447.53 313.00,445.00 C313.53,442.47 313.97,440.38 314.50,439.80 C315.03,439.22 315.70,439.30 316.20,441.50 C316.70,443.70 317.03,449.25 317.50,453.00 C317.97,456.75 318.50,461.37 319.00,464.00 C319.50,466.63 319.83,467.38 320.50,468.80 C321.17,470.22 322.08,471.30 323.00,472.50 C323.92,473.70 325.00,474.92 326.00,476.00 C327.00,477.08 327.92,478.03 329.00,479.00 C330.08,479.97 331.33,481.23 332.50,481.80 C333.67,482.37 335.42,482.30 336.00,482.40" fill="none" stroke="#2c4288" stroke-width="1.0" stroke-linejoin="round"/>
<rect x="298.30" y="418.80" width="61.70" height="63.70" fill="none" stroke="#111" stroke-width="1.3"/>
<line x1="322.00" y1="464.50" x2="360.00" y2="464.50" stroke="#222" stroke-width="1.0"/>
<text x="303.70" y="427.20" font-size="5.0" text-anchor="start" fill="#111" stroke="#111" stroke-width="0.12" font-weight="bold" textLength="12" lengthAdjust="spacingAndGlyphs">GCB</text>
<text x="341.40" y="452.30" font-size="5.8" text-anchor="middle" fill="#6aaa40" stroke="#6aaa40" stroke-width="0.12" textLength="14.5" lengthAdjust="spacingAndGlyphs">GFP+</text>
<text x="341.40" y="458.70" font-size="5.8" text-anchor="middle" fill="#6aaa40" stroke="#6aaa40" stroke-width="0.12" textLength="15.5" lengthAdjust="spacingAndGlyphs">79,3%</text>
<text x="374.80" y="484.70" font-size="6.2" text-anchor="end" fill="#1a1a1a" stroke="#1a1a1a" stroke-width="0.12">0</text>
<line x1="378.60" y1="482.50" x2="380.80" y2="482.50" stroke="#111" stroke-width="0.6"/>
<text x="381.80" y="495.80" font-size="6.6" text-anchor="middle" fill="#1a1a1a" stroke="#1a1a1a" stroke-width="0.2" textLength="8.4" lengthAdjust="spacingAndGlyphs">10<tspan font-size="4.09" dx="0.25" dy="-2.90" stroke-width="0.06">1</tspan></text>
<text x="394.14" y="495.80" font-size="6.6" text-anchor="middle" fill="#1a1a1a" stroke="#1a1a1a" stroke-width="0.2" textLength="8.4" lengthAdjust="spacingAndGlyphs">10<tspan font-size="4.09" dx="0.25" dy="-2.90" stroke-width="0.06">2</tspan></text>
<text x="406.48" y="495.80" font-size="6.6" text-anchor="middle" fill="#1a1a1a" stroke="#1a1a1a" stroke-width="0.2" textLength="8.4" lengthAdjust="spacingAndGlyphs">10<tspan font-size="4.09" dx="0.25" dy="-2.90" stroke-width="0.06">3</tspan></text>
<text x="418.82" y="495.80" font-size="6.6" text-anchor="middle" fill="#1a1a1a" stroke="#1a1a1a" stroke-width="0.2" textLength="8.4" lengthAdjust="spacingAndGlyphs">10<tspan font-size="4.09" dx="0.25" dy="-2.90" stroke-width="0.06">4</tspan></text>
<text x="431.16" y="495.80" font-size="6.6" text-anchor="middle" fill="#1a1a1a" stroke="#1a1a1a" stroke-width="0.2" textLength="8.4" lengthAdjust="spacingAndGlyphs">10<tspan font-size="4.09" dx="0.25" dy="-2.90" stroke-width="0.06">5</tspan></text>
<text x="443.50" y="495.80" font-size="6.6" text-anchor="middle" fill="#1a1a1a" stroke="#1a1a1a" stroke-width="0.2" textLength="8.4" lengthAdjust="spacingAndGlyphs">10<tspan font-size="4.09" dx="0.25" dy="-2.90" stroke-width="0.06">6</tspan></text>
<line x1="380.80" y1="482.50" x2="380.80" y2="484.70" stroke="#111" stroke-width="0.5"/>
<line x1="384.51" y1="482.50" x2="384.51" y2="483.50" stroke="#111" stroke-width="0.5"/>
<line x1="386.69" y1="482.50" x2="386.69" y2="483.50" stroke="#111" stroke-width="0.5"/>
<line x1="388.23" y1="482.50" x2="388.23" y2="483.50" stroke="#111" stroke-width="0.5"/>
<line x1="389.43" y1="482.50" x2="389.43" y2="483.50" stroke="#111" stroke-width="0.5"/>
<line x1="390.40" y1="482.50" x2="390.40" y2="483.50" stroke="#111" stroke-width="0.5"/>
<line x1="391.23" y1="482.50" x2="391.23" y2="483.50" stroke="#111" stroke-width="0.5"/>
<line x1="391.94" y1="482.50" x2="391.94" y2="483.50" stroke="#111" stroke-width="0.5"/>
<line x1="392.58" y1="482.50" x2="392.58" y2="483.50" stroke="#111" stroke-width="0.5"/>
<line x1="393.14" y1="482.50" x2="393.14" y2="484.70" stroke="#111" stroke-width="0.5"/>
<line x1="396.85" y1="482.50" x2="396.85" y2="483.50" stroke="#111" stroke-width="0.5"/>
<line x1="399.03" y1="482.50" x2="399.03" y2="483.50" stroke="#111" stroke-width="0.5"/>
<line x1="400.57" y1="482.50" x2="400.57" y2="483.50" stroke="#111" stroke-width="0.5"/>
<line x1="401.77" y1="482.50" x2="401.77" y2="483.50" stroke="#111" stroke-width="0.5"/>
<line x1="402.74" y1="482.50" x2="402.74" y2="483.50" stroke="#111" stroke-width="0.5"/>
<line x1="403.57" y1="482.50" x2="403.57" y2="483.50" stroke="#111" stroke-width="0.5"/>
<line x1="404.28" y1="482.50" x2="404.28" y2="483.50" stroke="#111" stroke-width="0.5"/>
<line x1="404.92" y1="482.50" x2="404.92" y2="483.50" stroke="#111" stroke-width="0.5"/>
<line x1="405.48" y1="482.50" x2="405.48" y2="484.70" stroke="#111" stroke-width="0.5"/>
<line x1="409.19" y1="482.50" x2="409.19" y2="483.50" stroke="#111" stroke-width="0.5"/>
<line x1="411.37" y1="482.50" x2="411.37" y2="483.50" stroke="#111" stroke-width="0.5"/>
<line x1="412.91" y1="482.50" x2="412.91" y2="483.50" stroke="#111" stroke-width="0.5"/>
<line x1="414.11" y1="482.50" x2="414.11" y2="483.50" stroke="#111" stroke-width="0.5"/>
<line x1="415.08" y1="482.50" x2="415.08" y2="483.50" stroke="#111" stroke-width="0.5"/>
<line x1="415.91" y1="482.50" x2="415.91" y2="483.50" stroke="#111" stroke-width="0.5"/>
<line x1="416.62" y1="482.50" x2="416.62" y2="483.50" stroke="#111" stroke-width="0.5"/>
<line x1="417.26" y1="482.50" x2="417.26" y2="483.50" stroke="#111" stroke-width="0.5"/>
<line x1="417.82" y1="482.50" x2="417.82" y2="484.70" stroke="#111" stroke-width="0.5"/>
<line x1="421.53" y1="482.50" x2="421.53" y2="483.50" stroke="#111" stroke-width="0.5"/>
<line x1="423.71" y1="482.50" x2="423.71" y2="483.50" stroke="#111" stroke-width="0.5"/>
<line x1="425.25" y1="482.50" x2="425.25" y2="483.50" stroke="#111" stroke-width="0.5"/>
<line x1="426.45" y1="482.50" x2="426.45" y2="483.50" stroke="#111" stroke-width="0.5"/>
<line x1="427.42" y1="482.50" x2="427.42" y2="483.50" stroke="#111" stroke-width="0.5"/>
<line x1="428.25" y1="482.50" x2="428.25" y2="483.50" stroke="#111" stroke-width="0.5"/>
<line x1="428.96" y1="482.50" x2="428.96" y2="483.50" stroke="#111" stroke-width="0.5"/>
<line x1="429.60" y1="482.50" x2="429.60" y2="483.50" stroke="#111" stroke-width="0.5"/>
<line x1="430.16" y1="482.50" x2="430.16" y2="484.70" stroke="#111" stroke-width="0.5"/>
<line x1="433.87" y1="482.50" x2="433.87" y2="483.50" stroke="#111" stroke-width="0.5"/>
<line x1="436.05" y1="482.50" x2="436.05" y2="483.50" stroke="#111" stroke-width="0.5"/>
<line x1="437.59" y1="482.50" x2="437.59" y2="483.50" stroke="#111" stroke-width="0.5"/>
<line x1="438.79" y1="482.50" x2="438.79" y2="483.50" stroke="#111" stroke-width="0.5"/>
<line x1="439.76" y1="482.50" x2="439.76" y2="483.50" stroke="#111" stroke-width="0.5"/>
<line x1="440.59" y1="482.50" x2="440.59" y2="483.50" stroke="#111" stroke-width="0.5"/>
<line x1="441.30" y1="482.50" x2="441.30" y2="483.50" stroke="#111" stroke-width="0.5"/>
<line x1="441.94" y1="482.50" x2="441.94" y2="483.50" stroke="#111" stroke-width="0.5"/>
<line x1="442.50" y1="482.50" x2="442.50" y2="484.70" stroke="#111" stroke-width="0.5"/>
<path d="M391.00,482.50 C391.67,482.25 393.75,481.75 395.00,481.00 C396.25,480.25 397.50,479.00 398.50,478.00 C399.50,477.00 400.17,476.17 401.00,475.00 C401.83,473.83 402.75,473.17 403.50,471.00 C404.25,468.83 404.95,465.50 405.50,462.00 C406.05,458.50 406.42,454.83 406.80,450.00 C407.18,445.17 407.48,437.25 407.80,433.00 C408.12,428.75 408.37,424.67 408.70,424.50 C409.03,424.33 409.42,426.92 409.80,432.00 C410.18,437.08 410.55,448.33 411.00,455.00 C411.45,461.67 411.92,468.08 412.50,472.00 C413.08,475.92 413.83,477.67 414.50,478.50 C415.17,479.33 415.92,477.55 416.50,477.00 C417.08,476.45 417.50,474.95 418.00,475.20 C418.50,475.45 419.00,477.28 419.50,478.50 C420.00,479.72 420.75,481.83 421.00,482.50 Z" fill="#7fc061" fill-opacity="0.9" stroke="#5aa63c" stroke-width="0.7"/>
<path d="M381.20,481.00 C381.50,480.50 382.37,479.17 383.00,478.00 C383.63,476.83 384.33,475.50 385.00,474.00 C385.67,472.50 386.33,470.83 387.00,469.00 C387.67,467.17 388.33,464.58 389.00,463.00 C389.67,461.42 390.33,459.83 391.00,459.50 C391.67,459.17 392.33,461.12 393.00,461.00 C393.67,460.88 394.33,458.63 395.00,458.80 C395.67,458.97 396.37,461.80 397.00,462.00 C397.63,462.20 398.22,459.67 398.80,460.00 C399.38,460.33 399.88,464.00 400.50,464.00 C401.12,464.00 401.75,461.50 402.50,460.00 C403.25,458.50 404.25,455.33 405.00,455.00 C405.75,454.67 406.42,456.00 407.00,458.00 C407.58,460.00 408.00,464.17 408.50,467.00 C409.00,469.83 409.42,473.00 410.00,475.00 C410.58,477.00 411.17,478.00 412.00,479.00 C412.83,480.00 414.00,480.45 415.00,481.00 C416.00,481.55 417.50,482.08 418.00,482.30" fill="none" stroke="#2c4288" stroke-width="1.0" stroke-linejoin="round"/>
<rect x="380.80" y="418.80" width="61.70" height="63.70" fill="none" stroke="#111" stroke-width="1.3"/>
<line x1="404.50" y1="464.50" x2="442.50" y2="464.50" stroke="#222" stroke-width="1.0"/>
<text x="386.20" y="427.20" font-size="5.0" text-anchor="start" fill="#111" stroke="#111" stroke-width="0.12" font-weight="bold" textLength="12" lengthAdjust="spacingAndGlyphs">GCB</text>
<text x="423.00" y="452.30" font-size="5.8" text-anchor="middle" fill="#6aaa40" stroke="#6aaa40" stroke-width="0.12" textLength="14.5" lengthAdjust="spacingAndGlyphs">GFP+</text>
<text x="423.00" y="458.70" font-size="5.8" text-anchor="middle" fill="#6aaa40" stroke="#6aaa40" stroke-width="0.12" textLength="15.5" lengthAdjust="spacingAndGlyphs">83,9%</text>
<text x="7.40" y="534.30" font-size="13.0" text-anchor="start" fill="#000" stroke="#000" stroke-width="0.12" font-weight="bold">C</text>
<text x="93" y="548" font-size="9.6" fill="#1a1a1a" stroke="#1a1a1a" stroke-width="0.12" textLength="49" lengthAdjust="spacingAndGlyphs"><tspan font-style="italic">Rosa26</tspan><tspan font-size="6.4" dy="-3.8">HGAL</tspan><tspan font-size="8.6" dy="0.6">/</tspan></text>
<text x="98.00" y="557.70" font-size="9.0" text-anchor="start" fill="#1a1a1a" stroke="#1a1a1a" stroke-width="0.12" textLength="37.7" lengthAdjust="spacingAndGlyphs">Sca1-CRE</text>
<text x="194.2" y="557.2" font-size="9.6" fill="#1a1a1a" stroke="#1a1a1a" stroke-width="0.12" textLength="45" lengthAdjust="spacingAndGlyphs"><tspan font-style="italic">Rosa26</tspan><tspan font-size="6.4" dy="-3.8">HGAL</tspan></text>
<line x1="73.80" y1="562.80" x2="161.00" y2="562.80" stroke="#666" stroke-width="1.3"/>
<line x1="172.70" y1="562.80" x2="259.70" y2="562.80" stroke="#666" stroke-width="1.3"/>
<text x="88.30" y="581.2" font-size="8.0" fill="#1a1a1a" stroke="#1a1a1a" stroke-width="0.15" textLength="15.4" lengthAdjust="spacingAndGlyphs" transform="rotate(-90 88.30 581.2)">O289</text>
<text x="122.30" y="581.2" font-size="8.0" fill="#1a1a1a" stroke="#1a1a1a" stroke-width="0.15" textLength="15.4" lengthAdjust="spacingAndGlyphs" transform="rotate(-90 122.30 581.2)">O350</text>
<text x="157.00" y="581.2" font-size="8.0" fill="#1a1a1a" stroke="#1a1a1a" stroke-width="0.15" textLength="15.4" lengthAdjust="spacingAndGlyphs" transform="rotate(-90 157.00 581.2)">O351</text>
<text x="189.80" y="581.2" font-size="8.0" fill="#1a1a1a" stroke="#1a1a1a" stroke-width="0.15" font-style="italic" textLength="13.2" lengthAdjust="spacingAndGlyphs" transform="rotate(-90 189.80 581.2)">J958</text>
<text x="219.40" y="581.2" font-size="8.0" fill="#1a1a1a" stroke="#1a1a1a" stroke-width="0.15" textLength="15.4" lengthAdjust="spacingAndGlyphs" transform="rotate(-90 219.40 581.2)">O145</text>
<text x="252.30" y="581.2" font-size="8.0" fill="#1a1a1a" stroke="#1a1a1a" stroke-width="0.15" textLength="15.4" lengthAdjust="spacingAndGlyphs" transform="rotate(-90 252.30 581.2)">O149</text>
<defs><linearGradient id="hgalbg" x1="0" y1="0" x2="0" y2="1"><stop offset="0" stop-color="#8e8e8e"/><stop offset="1" stop-color="#a2a2a2"/></linearGradient><linearGradient id="hgalbg2" x1="0" y1="0" x2="1" y2="0"><stop offset="0" stop-color="#9c9c9c"/><stop offset="0.5" stop-color="#969696"/><stop offset="1" stop-color="#939393"/></linearGradient><linearGradient id="actbg" x1="0" y1="0" x2="1" y2="0"><stop offset="0" stop-color="#8a8a8a"/><stop offset="0.6" stop-color="#707070"/><stop offset="1" stop-color="#505050"/></linearGradient><filter id="bandblur" x="-30%" y="-60%" width="160%" height="220%"><feGaussianBlur stdDeviation="1.5 1.6"/></filter><clipPath id="cph"><rect x="64.3" y="584.8" width="202.6" height="24.3"/></clipPath><clipPath id="cpa"><rect x="64.3" y="612.3" width="202.6" height="26.5"/></clipPath></defs>
<rect x="64.3" y="584.8" width="202.6" height="24.3" fill="url(#hgalbg2)"/>
<g clip-path="url(#cph)">
<rect x="64.3" y="600" width="110" height="9" fill="#a8a8a8" fill-opacity="0.6" filter="url(#blur2)"/>
<rect x="72.50" y="590.90" width="24.00" height="10.00" rx="5.00" fill="#1c1c1c" filter="url(#bandblur)"/>
<rect x="103.00" y="589.15" width="28.50" height="12.50" rx="6.25" fill="#141414" filter="url(#bandblur)"/>
<rect x="138.00" y="592.10" width="24.00" height="8.60" rx="4.30" fill="#262626" filter="url(#bandblur)"/>
</g>
<rect x="64.3" y="584.8" width="202.6" height="24.3" fill="none" stroke="#111" stroke-width="1.1"/>
<rect x="64.3" y="612.3" width="202.6" height="26.5" fill="url(#actbg)"/>
<g clip-path="url(#cpa)">
<rect x="65.50" y="617.90" width="31.50" height="13.00" rx="6.50" fill="#141414" filter="url(#bandblur)"/>
<rect x="100.50" y="616.90" width="32.50" height="15.00" rx="7.50" fill="#141414" filter="url(#bandblur)"/>
<rect x="132.50" y="617.80" width="32.50" height="14.00" rx="7.00" fill="#151515" filter="url(#bandblur)"/>
<rect x="165.00" y="616.15" width="35.00" height="16.50" rx="8.25" fill="#141414" filter="url(#bandblur)"/>
<rect x="199.50" y="617.05" width="34.50" height="17.50" rx="8.75" fill="#171717" filter="url(#bandblur)"/>
<rect x="232.50" y="617.30" width="35.50" height="19.00" rx="9.50" fill="#161616" filter="url(#bandblur)"/>
<rect x="200" y="620" width="67" height="16" fill="#1e1e1e" filter="url(#blur2)"/>
</g>
<rect x="64.3" y="612.3" width="202.6" height="26.5" fill="none" stroke="#111" stroke-width="1.1"/>
<text x="270.00" y="602.00" font-size="7.2" text-anchor="start" fill="#1a1a1a" stroke="#1a1a1a" stroke-width="0.12" textLength="17.5" lengthAdjust="spacingAndGlyphs">HGAL</text>
<text x="270.00" y="628.00" font-size="7.2" text-anchor="start" fill="#1a1a1a" stroke="#1a1a1a" stroke-width="0.12" textLength="15" lengthAdjust="spacingAndGlyphs">Actin</text>
<rect x="0.50" y="0.50" width="518.70" height="644.70" fill="none" stroke="#000" stroke-width="1.4"/>
</svg></body></html>
